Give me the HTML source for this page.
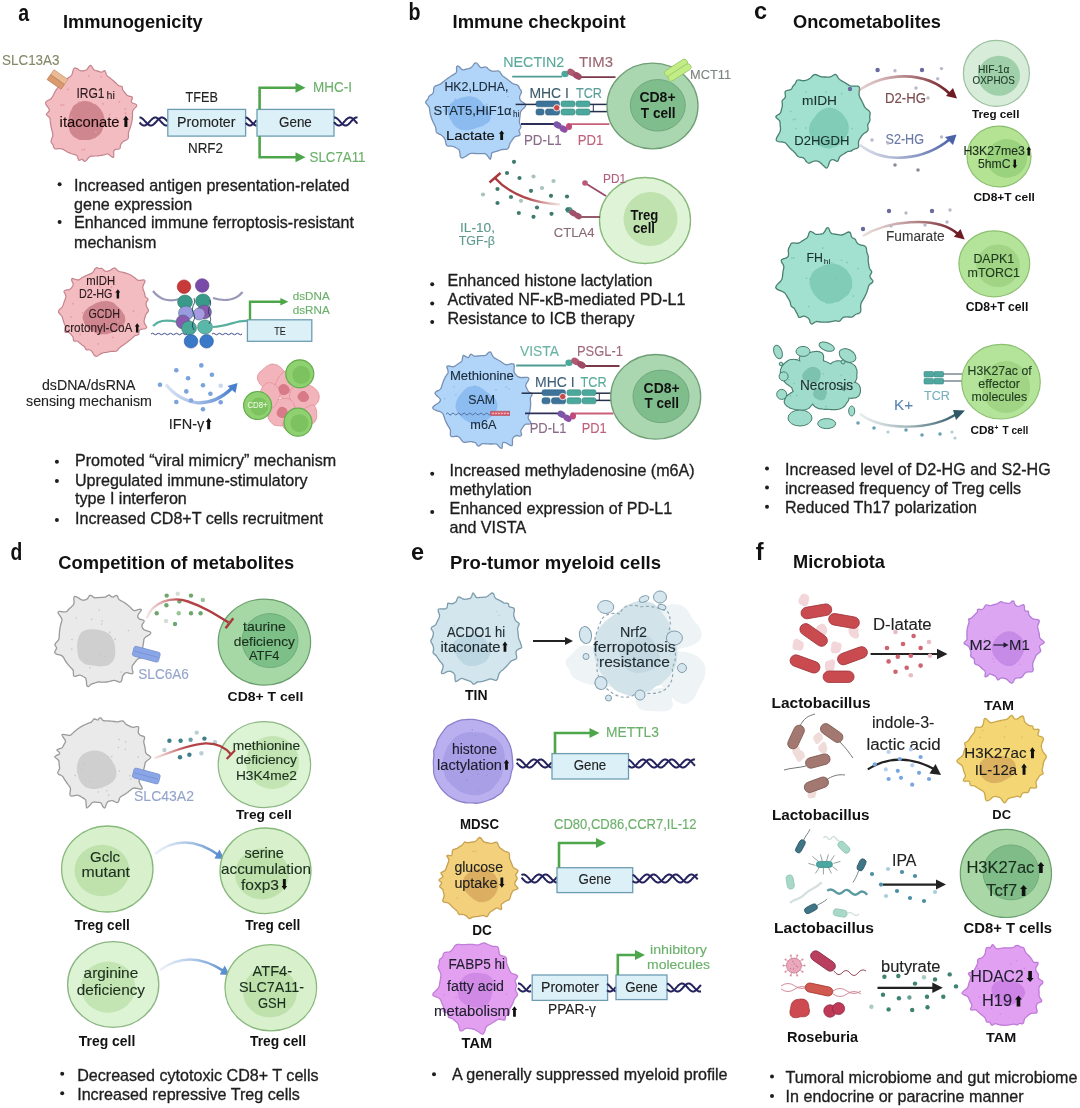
<!DOCTYPE html>
<html><head><meta charset="utf-8"><style>
html,body{margin:0;padding:0;background:#fff;width:1080px;height:1108px;overflow:hidden}
svg{display:block;font-family:"Liberation Sans",sans-serif;will-change:transform}
text{stroke:currentColor}
</style></head><body>
<svg width="1080" height="1108" viewBox="0 0 1080 1108">
<rect width="1080" height="1108" fill="#fff"/>
<text x="18.2" y="21.1" font-size="23.5" fill="#111" color="#111" stroke-width="0.00" font-weight="bold" text-anchor="start" textLength="10.9" lengthAdjust="spacingAndGlyphs">a</text>
<text x="62.9" y="28.4" font-size="17.7" fill="#111" color="#111" stroke-width="0.00" font-weight="bold" text-anchor="start" textLength="139.8" lengthAdjust="spacingAndGlyphs">Immunogenicity</text>
<text x="2.0" y="65.1" font-size="14.0" fill="#858868" color="#858868" stroke-width="0.12" text-anchor="start" textLength="57.5" lengthAdjust="spacingAndGlyphs">SLC13A3</text>
<path d="M132.5,114.5C132.5,115.1 132.5,115.7 132.5,116.4C132.5,117.0 132.4,117.6 132.3,118.2C132.3,118.8 132.2,119.5 132.1,120.1C132.0,120.7 131.9,121.3 131.8,121.9C131.7,122.5 131.5,123.1 131.4,123.7C131.2,124.3 131.1,124.9 130.9,125.5C130.7,126.1 130.6,126.7 130.4,127.3C130.2,127.9 130.0,128.4 129.7,129.0C129.5,129.6 129.3,130.1 129.1,130.7C128.9,131.3 128.7,131.8 128.6,132.5C128.4,133.1 128.4,133.7 128.4,134.4C128.3,135.1 128.5,135.8 128.5,136.5C128.4,137.2 128.4,137.9 128.1,138.5C127.8,139.0 127.2,139.4 126.7,139.8C126.1,140.1 125.4,140.3 124.8,140.6C124.2,140.9 123.7,141.2 123.2,141.6C122.7,142.0 122.4,142.4 122.0,142.8C121.6,143.2 121.2,143.6 120.9,144.2C120.7,144.7 120.5,145.3 120.3,146.0C120.2,146.7 120.4,147.7 120.1,148.3C119.8,148.8 119.2,149.1 118.6,149.2C118.0,149.4 117.1,149.1 116.4,149.2C115.8,149.3 115.3,149.5 114.8,149.8C114.4,150.1 113.9,150.4 113.7,151.1C113.6,151.9 113.8,153.3 113.8,154.4C113.7,155.4 114.0,157.3 113.5,157.5C113.0,157.8 111.6,156.5 110.7,155.9C109.8,155.3 108.8,154.4 108.0,154.1C107.3,153.8 106.9,154.1 106.4,154.1C105.8,154.2 105.4,154.4 104.9,154.6C104.4,154.7 103.9,154.8 103.4,155.0C102.9,155.1 102.4,155.2 101.9,155.3C101.4,155.4 100.9,155.4 100.4,155.5C99.9,155.6 99.4,155.7 99.0,155.7C98.5,155.8 98.0,155.8 97.5,155.9C97.0,155.9 96.5,155.9 96.0,156.0C95.5,156.0 95.0,156.0 94.5,156.0C94.1,156.0 93.6,156.0 93.1,156.1C92.6,156.1 92.1,156.1 91.6,156.1C91.2,156.2 90.7,156.2 90.2,156.4C89.7,156.7 89.2,157.0 88.7,157.5C88.2,158.0 87.6,158.9 87.1,159.6C86.5,160.2 85.9,161.1 85.3,161.3C84.7,161.5 84.2,161.2 83.7,160.9C83.2,160.6 82.8,159.6 82.3,159.4C81.8,159.2 81.2,159.6 80.6,159.8C80.0,159.9 79.3,160.6 78.8,160.2C78.3,159.9 78.1,158.5 77.8,157.7C77.5,156.9 77.2,156.0 76.8,155.5C76.4,155.0 75.9,154.9 75.4,154.8C75.0,154.6 74.4,154.5 73.9,154.4C73.4,154.2 72.9,154.1 72.4,154.0C71.9,153.8 71.4,153.6 70.9,153.5C70.4,153.3 69.9,153.1 69.4,152.9C68.9,152.7 68.4,152.4 67.9,152.2C67.4,152.0 66.9,151.7 66.5,151.4C66.0,151.2 65.5,150.9 65.0,150.6C64.6,150.3 64.1,150.0 63.6,149.7C63.1,149.4 62.7,149.1 62.1,148.9C61.5,148.7 60.8,148.6 60.0,148.6C59.2,148.6 58.2,148.8 57.3,148.8C56.5,148.9 55.4,148.9 54.8,148.7C54.2,148.4 53.9,147.7 53.6,147.1C53.3,146.5 53.4,145.6 53.1,145.0C52.8,144.4 52.2,144.0 51.9,143.4C51.5,142.9 51.1,142.4 51.0,141.6C51.0,140.9 51.5,139.8 51.7,138.8C52.0,137.9 52.5,136.9 52.7,136.1C52.8,135.3 52.8,134.6 52.8,134.0C52.7,133.3 52.5,132.8 52.4,132.2C52.2,131.6 52.1,131.0 51.9,130.5C51.8,129.9 51.6,129.3 51.5,128.7C51.4,128.1 51.2,127.5 51.1,126.9C51.0,126.4 50.9,125.8 50.8,125.2C50.7,124.6 50.6,124.0 50.5,123.4C50.4,122.8 50.4,122.2 50.3,121.6C50.2,121.0 50.2,120.4 50.1,119.8C50.0,119.2 50.1,118.7 49.8,118.1C49.4,117.5 48.7,116.9 48.2,116.3C47.6,115.7 46.3,115.1 46.3,114.5C46.2,113.8 47.3,113.2 47.8,112.6C48.3,112.0 49.1,111.4 49.3,110.8C49.5,110.2 49.3,109.6 49.0,109.0C48.7,108.3 48.1,107.6 47.6,106.8C47.1,106.1 46.3,105.3 46.0,104.5C45.7,103.8 45.5,103.0 45.7,102.4C45.9,101.8 46.7,101.3 47.3,100.8C48.0,100.3 49.0,100.0 49.7,99.6C50.4,99.2 51.0,98.8 51.4,98.3C51.9,97.8 52.2,97.3 52.5,96.8C52.8,96.3 53.0,95.8 53.3,95.2C53.6,94.7 53.8,94.2 54.1,93.6C54.3,93.1 54.6,92.6 54.9,92.1C55.1,91.6 55.4,91.1 55.7,90.6C56.1,90.1 56.4,89.6 56.7,89.1C57.0,88.7 57.3,88.2 57.7,87.8C58.0,87.3 58.4,86.9 58.7,86.4C59.1,86.0 59.5,85.6 59.7,85.0C59.8,84.3 59.9,83.6 59.7,82.6C59.6,81.6 58.7,79.8 58.8,79.0C58.9,78.2 59.4,77.7 60.2,77.8C61.0,77.8 62.6,78.9 63.6,79.2C64.5,79.5 65.2,79.5 65.8,79.4C66.4,79.3 66.7,78.9 67.2,78.6C67.6,78.4 68.1,78.0 68.5,77.7C68.9,77.4 69.4,77.2 69.8,76.8C70.2,76.5 70.7,76.2 71.1,75.8C71.4,75.4 71.8,74.9 72.1,74.2C72.4,73.6 72.5,72.6 72.8,71.8C73.0,70.9 73.2,69.7 73.6,69.0C73.9,68.4 74.4,67.8 75.0,67.8C75.5,67.7 76.3,68.2 77.0,68.6C77.7,69.0 78.5,69.7 79.1,70.1C79.8,70.5 80.4,70.8 80.9,70.9C81.5,71.0 82.0,70.9 82.5,70.9C83.1,70.8 83.6,70.7 84.1,70.6C84.6,70.5 85.1,70.4 85.6,70.2C86.1,70.0 86.6,69.9 87.1,69.4C87.6,68.8 88.0,67.8 88.6,67.1C89.1,66.5 89.6,65.4 90.2,65.3C90.8,65.2 91.3,66.1 91.9,66.7C92.4,67.4 92.9,68.5 93.4,69.1C93.8,69.7 94.3,70.0 94.8,70.2C95.3,70.5 95.8,70.5 96.3,70.7C96.8,70.8 97.3,71.0 97.8,71.1C98.3,71.3 98.8,71.5 99.3,71.6C99.8,71.8 100.2,72.1 100.8,72.1C101.3,72.2 101.8,72.1 102.4,71.9C103.1,71.6 103.9,70.6 104.5,70.7C105.0,70.8 105.4,71.5 105.7,72.2C106.0,72.9 106.1,74.1 106.4,74.8C106.7,75.4 107.1,75.7 107.5,76.1C107.9,76.5 108.3,76.7 108.7,77.0C109.2,77.3 109.6,77.7 110.0,78.0C110.4,78.3 110.8,78.6 111.2,78.9C111.6,79.3 112.0,79.6 112.4,79.9C112.8,80.3 113.2,80.6 113.6,81.0C113.9,81.3 114.3,81.7 114.7,82.0C115.1,82.4 115.5,82.7 115.9,83.1C116.3,83.4 116.6,83.8 117.0,84.1C117.4,84.5 117.7,84.9 118.2,85.2C118.6,85.5 119.1,85.8 119.7,86.0C120.3,86.1 121.4,85.9 121.8,86.3C122.3,86.6 122.2,87.4 122.4,88.0C122.5,88.6 122.5,89.4 122.7,89.9C123.0,90.4 123.4,90.8 123.7,91.2C124.1,91.7 124.4,92.1 124.8,92.6C125.1,93.0 125.4,93.5 125.8,94.0C126.2,94.4 126.4,94.9 127.0,95.3C127.6,95.7 128.3,95.9 129.2,96.2C130.0,96.5 131.5,96.5 132.0,97.0C132.5,97.5 132.3,98.3 132.2,99.0C132.0,99.8 131.1,100.8 131.2,101.4C131.2,102.1 131.8,102.5 132.6,103.0C133.4,103.4 135.2,103.7 135.9,104.2C136.6,104.7 137.0,105.4 136.7,106.1C136.4,106.9 135.0,107.8 134.4,108.6C133.7,109.3 133.1,110.0 132.8,110.7C132.5,111.4 132.6,112.0 132.5,112.6C132.5,113.2 132.5,113.8 132.5,114.5Z" fill="#f3bcc0" stroke="#c4848e" stroke-width="1.2" stroke-linejoin="round" opacity="1"/>
<path d="M104.4,121.0C104.4,121.9 104.5,122.8 104.4,123.7C104.3,124.6 103.9,125.4 103.6,126.2C103.3,127.1 103.1,127.9 102.8,128.7C102.5,129.6 102.2,130.4 101.9,131.2C101.5,132.0 101.1,132.7 100.6,133.4C100.0,134.1 99.4,134.6 98.8,135.2C98.1,135.7 97.5,136.2 96.8,136.7C96.2,137.2 95.6,137.8 94.9,138.2C94.2,138.5 93.3,138.4 92.6,138.7C91.9,139.0 91.2,139.5 90.5,139.7C89.8,139.9 89.0,139.9 88.2,139.9C87.5,140.0 86.8,140.0 86.0,140.1C85.2,140.1 84.5,140.1 83.7,140.1C83.0,140.0 82.2,140.0 81.4,139.9C80.7,139.9 79.8,139.9 79.0,139.7C78.3,139.4 77.6,138.9 76.9,138.5C76.2,138.1 75.4,137.9 74.7,137.4C74.0,137.0 73.3,136.4 72.7,135.8C72.1,135.2 71.6,134.4 71.1,133.7C70.6,132.9 70.1,132.2 69.8,131.4C69.5,130.6 69.3,129.6 69.1,128.8C68.9,127.9 68.7,127.0 68.6,126.2C68.5,125.3 68.4,124.4 68.4,123.6C68.3,122.7 68.2,121.9 68.3,121.0C68.3,120.1 68.5,119.3 68.7,118.5C68.8,117.6 69.0,116.8 69.2,116.0C69.4,115.2 69.5,114.3 69.8,113.5C70.0,112.7 70.3,111.9 70.7,111.2C71.0,110.4 71.4,109.7 71.8,108.9C72.2,108.2 72.6,107.3 73.1,106.6C73.6,105.9 74.2,105.3 74.8,104.8C75.4,104.2 76.2,103.9 76.9,103.4C77.6,103.0 78.2,102.4 79.0,102.1C79.7,101.8 80.5,101.6 81.3,101.4C82.1,101.2 82.8,101.0 83.6,100.9C84.4,100.9 85.2,100.9 86.0,101.0C86.8,101.2 87.5,101.5 88.3,101.6C89.1,101.8 89.9,101.7 90.6,101.9C91.3,102.2 92.0,102.8 92.6,103.2C93.3,103.5 94.1,103.8 94.8,104.1C95.5,104.5 96.2,104.8 96.8,105.3C97.5,105.8 97.9,106.5 98.5,107.1C99.1,107.7 99.8,108.2 100.3,108.8C100.8,109.5 101.1,110.3 101.5,111.0C102.0,111.8 102.6,112.4 102.9,113.2C103.3,114.0 103.6,114.8 103.8,115.7C104.1,116.5 104.2,117.4 104.3,118.3C104.4,119.2 104.4,120.1 104.4,121.0Z" fill="#d0868e" stroke="none" stroke-width="0.0" opacity="1"/>
<circle cx="68.0" cy="89.5" r="0.9" fill="#e89aa0"/>
<circle cx="101.0" cy="76.8" r="0.9" fill="#e89aa0"/>
<circle cx="88.7" cy="75.8" r="0.9" fill="#e89aa0"/>
<circle cx="116.6" cy="117.9" r="0.9" fill="#e89aa0"/>
<circle cx="119.3" cy="101.9" r="0.9" fill="#e89aa0"/>
<circle cx="103.2" cy="103.8" r="0.9" fill="#e89aa0"/>
<circle cx="71.5" cy="117.1" r="0.9" fill="#e89aa0"/>
<circle cx="63.5" cy="104.9" r="0.9" fill="#e89aa0"/>
<circle cx="109.8" cy="114.6" r="0.9" fill="#e89aa0"/>
<circle cx="84.5" cy="149.5" r="0.9" fill="#e89aa0"/>
<circle cx="92.6" cy="95.4" r="0.9" fill="#e89aa0"/>
<circle cx="95.6" cy="96.9" r="0.9" fill="#e89aa0"/>
<circle cx="79.5" cy="102.0" r="0.9" fill="#e89aa0"/>
<circle cx="125.6" cy="113.4" r="0.9" fill="#e89aa0"/>
<circle cx="95.8" cy="132.2" r="0.9" fill="#e89aa0"/>
<circle cx="125.4" cy="108.9" r="0.9" fill="#e89aa0"/>
<circle cx="82.2" cy="149.9" r="0.9" fill="#e89aa0"/>
<circle cx="61.1" cy="105.2" r="0.9" fill="#e89aa0"/>
<g transform="rotate(35 57.5 79.5)"><rect x="49" y="73.5" width="17" height="6" fill="#eabc96" stroke="#c99470" stroke-width="0.7"/><rect x="49" y="79.5" width="17" height="6" fill="#d99a70" stroke="#c07e56" stroke-width="0.7"/></g>
<text x="76.4" y="97.6" font-size="14.0" fill="#2a1a1e" color="#2a1a1e" stroke-width="0.12" text-anchor="start" textLength="28.2" lengthAdjust="spacingAndGlyphs">IRG1</text>
<text x="106.5" y="99.3" font-size="10.0" fill="#2a1a1e" color="#2a1a1e" stroke-width="0.12" text-anchor="start" textLength="8.3" lengthAdjust="spacingAndGlyphs">hi</text>
<text x="59.6" y="127.0" font-size="15.2" fill="#1a0a0a" color="#1a0a0a" stroke-width="0.12" text-anchor="start" textLength="60.0" lengthAdjust="spacingAndGlyphs">itaconate</text>
<path d="M125.90,115.80 L128.80,119.83 L127.41,119.83 L127.41,127.00 L124.39,127.00 L124.39,119.83 L123.00,119.83 Z" fill="#111"/>
<polyline points="139.5,117.5 140.0,117.5 140.5,117.6 141.0,117.7 141.5,118.0 142.0,118.3 142.5,118.7 143.0,119.1 143.5,119.5 144.0,120.1 144.5,120.6 145.0,121.2 145.5,121.7 146.0,122.3 146.5,122.8 147.0,123.4 147.5,123.8 148.0,124.3 148.5,124.6 149.0,125.0 149.5,125.2 150.0,125.4 150.5,125.5 151.0,125.5 151.5,125.4 152.0,125.3 152.5,125.1 153.0,124.8 153.5,124.4 154.0,124.0 154.5,123.5 155.0,123.0 155.5,122.5 156.0,122.0 156.5,121.4 157.0,120.8 157.5,120.3 158.0,119.7 158.5,119.3 159.0,118.8 159.5,118.4 160.0,118.1 160.5,117.8 161.0,117.6 161.5,117.5 162.0,117.5 162.5,117.5 163.0,117.7 163.5,117.9 164.0,118.2 164.5,118.5 165.0,118.9 165.5,119.4 166.0,119.9 166.5,120.4 167.0,120.9 167.5,121.5" fill="none" stroke="#25235e" stroke-width="2.0" stroke-linejoin="round"/>
<polyline points="139.5,122.5 140.0,123.0 140.5,123.5 141.0,124.0 141.5,124.4 142.0,124.8 142.5,125.1 143.0,125.3 143.5,125.4 144.0,125.5 144.5,125.5 145.0,125.4 145.5,125.2 146.0,125.0 146.5,124.7 147.0,124.3 147.5,123.9 148.0,123.4 148.5,122.9 149.0,122.3 149.5,121.8 150.0,121.2 150.5,120.6 151.0,120.1 151.5,119.6 152.0,119.1 152.5,118.7 153.0,118.3 153.5,118.0 154.0,117.8 154.5,117.6 155.0,117.5 155.5,117.5 156.0,117.6 156.5,117.7 157.0,118.0 157.5,118.3 158.0,118.6 158.5,119.0 159.0,119.5 159.5,120.0 160.0,120.6 160.5,121.1 161.0,121.7 161.5,122.2 162.0,122.8 162.5,123.3 163.0,123.8 163.5,124.2 164.0,124.6 164.5,124.9 165.0,125.2 165.5,125.4 166.0,125.5 166.5,125.5 167.0,125.4 167.5,125.3" fill="none" stroke="#25235e" stroke-width="2.0" stroke-linejoin="round"/>
<rect x="167.8" y="109.4" width="77.8" height="26.7" rx="0.0" fill="#dcf0f8" stroke="#6e9db2" stroke-width="1.3" opacity="1"/>
<text x="177.0" y="127.2" font-size="14.5" fill="#222" color="#222" stroke-width="0.12" text-anchor="start" textLength="58.5" lengthAdjust="spacingAndGlyphs">Promoter</text>
<polyline points="245.6,117.5 246.1,117.6 246.6,117.7 247.1,117.9 247.6,118.2 248.1,118.6 248.6,119.0 249.1,119.5 249.6,120.0 250.1,120.5 250.6,121.0 251.1,121.6 251.6,122.2 252.1,122.7 252.6,123.3 253.1,123.7 253.6,124.2 254.1,124.6 254.6,124.9 255.1,125.2 255.6,125.4 256.1,125.5 256.6,125.5" fill="none" stroke="#25235e" stroke-width="2.0" stroke-linejoin="round"/>
<polyline points="245.6,122.9 246.1,123.4 246.6,123.9 247.1,124.3 247.6,124.7 248.1,125.0 248.6,125.2 249.1,125.4 249.6,125.5 250.1,125.5 250.6,125.4 251.1,125.3 251.6,125.0 252.1,124.7 252.6,124.4 253.1,124.0 253.6,123.5 254.1,123.0 254.6,122.4 255.1,121.9 255.6,121.3 256.1,120.8 256.6,120.2" fill="none" stroke="#25235e" stroke-width="2.0" stroke-linejoin="round"/>
<rect x="257.0" y="109.4" width="77.0" height="26.7" rx="0.0" fill="#dcf0f8" stroke="#6e9db2" stroke-width="1.3" opacity="1"/>
<text x="279.0" y="127.2" font-size="14.5" fill="#222" color="#222" stroke-width="0.12" text-anchor="start" textLength="32.8" lengthAdjust="spacingAndGlyphs">Gene</text>
<polyline points="334.0,117.5 334.5,117.5 335.0,117.5 335.5,117.7 336.0,117.9 336.5,118.2 337.0,118.5 337.5,118.9 338.0,119.4 338.5,119.9 339.0,120.4 339.5,120.9 340.0,121.5 340.5,122.1 341.0,122.6 341.5,123.1 342.0,123.6 342.5,124.1 343.0,124.5 343.5,124.8 344.0,125.1 344.5,125.3 345.0,125.5 345.5,125.5 346.0,125.5 346.5,125.4 347.0,125.2 347.5,124.9 348.0,124.6 348.5,124.2 349.0,123.7 349.5,123.3 350.0,122.7 350.5,122.2 351.0,121.6 351.5,121.0 352.0,120.5 352.5,120.0 353.0,119.5 353.5,119.0 354.0,118.6 354.5,118.2 355.0,117.9 355.5,117.7 356.0,117.6 356.5,117.5 357.0,117.5 357.5,117.6" fill="none" stroke="#25235e" stroke-width="2.0" stroke-linejoin="round"/>
<polyline points="334.0,122.2 334.5,122.8 335.0,123.3 335.5,123.8 336.0,124.2 336.5,124.6 337.0,124.9 337.5,125.2 338.0,125.4 338.5,125.5 339.0,125.5 339.5,125.4 340.0,125.3 340.5,125.1 341.0,124.8 341.5,124.5 342.0,124.0 342.5,123.6 343.0,123.1 343.5,122.6 344.0,122.0 344.5,121.4 345.0,120.9 345.5,120.3 346.0,119.8 346.5,119.3 347.0,118.8 347.5,118.5 348.0,118.1 348.5,117.9 349.0,117.7 349.5,117.5 350.0,117.5 350.5,117.5 351.0,117.7 351.5,117.9 352.0,118.1 352.5,118.5 353.0,118.9 353.5,119.3 354.0,119.8 354.5,120.3 355.0,120.9 355.5,121.5 356.0,122.0 356.5,122.6 357.0,123.1 357.5,123.6" fill="none" stroke="#25235e" stroke-width="2.0" stroke-linejoin="round"/>
<text x="185.6" y="102.0" font-size="15.0" fill="#222" color="#222" stroke-width="0.12" text-anchor="start" textLength="32.2" lengthAdjust="spacingAndGlyphs">TFEB</text>
<text x="188.0" y="153.1" font-size="15.0" fill="#222" color="#222" stroke-width="0.12" text-anchor="start" textLength="35.0" lengthAdjust="spacingAndGlyphs">NRF2</text>
<path d="M259.6,109.4 L259.6,87.7 L296.5,87.7" stroke="#4ea64a" stroke-width="2.6" fill="none" stroke-linejoin="miter"/>
<path d="M305.5,87.7 L295.5,82.7 L295.5,92.7 Z" fill="#4ea64a"/>
<path d="M259.6,136.1 L259.6,157.2 L296.5,157.2" stroke="#4ea64a" stroke-width="2.6" fill="none" stroke-linejoin="miter"/>
<path d="M305.5,157.2 L295.5,152.2 L295.5,162.2 Z" fill="#4ea64a"/>
<text x="313.0" y="92.4" font-size="14.0" fill="#6ab06a" color="#6ab06a" stroke-width="0.12" text-anchor="start" textLength="39.0" lengthAdjust="spacingAndGlyphs">MHC-I</text>
<text x="309.5" y="162.0" font-size="15.0" fill="#6ab06a" color="#6ab06a" stroke-width="0.12" text-anchor="start" textLength="56.0" lengthAdjust="spacingAndGlyphs">SLC7A11</text>
<circle cx="59.6" cy="184.2" r="2.0" fill="#1e1e1e" stroke="none" stroke-width="1.2" opacity="1"/>
<text x="74.0" y="190.7" font-size="16.1" fill="#1e1e1e" color="#1e1e1e" stroke-width="0.32" text-anchor="start">Increased antigen presentation-related</text>
<text x="74.0" y="209.5" font-size="16.1" fill="#1e1e1e" color="#1e1e1e" stroke-width="0.32" text-anchor="start">gene expression</text>
<circle cx="59.6" cy="221.9" r="2.0" fill="#1e1e1e" stroke="none" stroke-width="1.2" opacity="1"/>
<text x="74.0" y="228.4" font-size="16.1" fill="#1e1e1e" color="#1e1e1e" stroke-width="0.32" text-anchor="start">Enhanced immune ferroptosis-resistant</text>
<text x="74.0" y="247.6" font-size="16.1" fill="#1e1e1e" color="#1e1e1e" stroke-width="0.32" text-anchor="start">mechanism</text>
<path d="M148.5,310.4C148.5,311.0 148.1,311.5 147.8,312.1C147.4,312.6 146.8,313.1 146.4,313.7C146.1,314.2 145.8,314.7 145.6,315.2C145.4,315.7 145.3,316.2 145.1,316.7C145.0,317.2 144.9,317.8 144.7,318.3C144.6,318.8 144.4,319.3 144.3,319.8C144.2,320.3 144.1,320.8 144.1,321.4C144.1,321.9 144.2,322.5 144.5,323.2C144.8,323.9 145.6,324.7 145.9,325.4C146.3,326.2 146.9,327.0 146.7,327.6C146.5,328.1 145.7,328.5 144.9,328.7C144.1,329.0 142.8,329.0 142.0,329.2C141.2,329.4 140.5,329.6 140.0,329.9C139.5,330.3 139.2,330.7 139.1,331.2C138.9,331.7 139.1,332.4 139.0,333.0C138.9,333.6 138.9,334.2 138.5,334.6C138.1,335.0 137.2,335.0 136.6,335.2C136.0,335.4 135.4,335.6 134.9,335.8C134.4,336.1 134.0,336.4 133.6,336.8C133.2,337.1 132.9,337.5 132.5,337.8C132.1,338.2 131.7,338.5 131.4,338.8C131.0,339.2 130.6,339.5 130.2,339.8C129.8,340.2 129.4,340.5 129.0,340.8C128.6,341.1 128.2,341.4 127.8,341.8C127.4,342.1 127.0,342.4 126.6,342.7C126.2,343.0 125.8,343.3 125.4,343.6C125.0,343.9 124.5,344.2 124.1,344.5C123.7,344.8 123.3,345.1 122.8,345.4C122.4,345.7 122.0,345.9 121.5,346.2C121.1,346.5 120.7,346.8 120.2,347.2C119.8,347.5 119.4,347.9 119.0,348.3C118.6,348.8 118.2,349.4 117.8,349.8C117.4,350.3 117.0,350.8 116.5,351.1C116.0,351.4 115.4,351.5 114.8,351.5C114.3,351.5 113.7,351.3 113.1,351.3C112.5,351.3 112.0,351.3 111.4,351.3C110.9,351.4 110.3,351.5 109.8,351.6C109.3,351.7 108.7,351.9 108.2,352.0C107.6,352.1 107.1,352.2 106.5,352.3C106.0,352.3 105.4,352.4 104.9,352.5C104.3,352.6 103.8,352.6 103.2,352.8C102.6,352.9 102.1,353.1 101.5,353.4C100.9,353.7 100.3,354.2 99.6,354.6C99.0,355.0 98.3,355.7 97.6,356.0C97.0,356.3 96.3,356.5 95.7,356.3C95.1,356.1 94.6,355.5 94.1,355.0C93.6,354.4 93.2,353.5 92.8,352.8C92.4,352.2 92.0,351.6 91.6,351.1C91.1,350.6 90.7,350.2 90.2,350.0C89.6,349.8 89.1,349.8 88.5,349.7C87.9,349.7 87.1,350.1 86.6,349.9C86.0,349.6 85.7,349.0 85.4,348.5C85.0,347.9 84.8,347.2 84.4,346.7C84.0,346.3 83.6,346.0 83.1,345.6C82.7,345.3 82.2,345.0 81.8,344.7C81.4,344.3 81.0,344.0 80.5,343.7C80.1,343.3 79.7,343.0 79.3,342.7C78.9,342.3 78.5,341.9 78.0,341.6C77.5,341.3 77.1,341.1 76.4,341.0C75.7,340.9 74.5,341.3 74.0,341.1C73.5,340.8 73.4,340.0 73.3,339.4C73.1,338.8 73.4,337.8 73.2,337.3C73.0,336.7 72.6,336.4 72.2,335.9C71.9,335.5 71.5,335.1 71.2,334.7C70.8,334.3 70.5,333.8 70.1,333.5C69.7,333.1 69.3,332.7 68.5,332.5C67.7,332.3 65.9,332.7 65.3,332.4C64.7,332.1 64.8,331.3 64.9,330.6C65.1,329.9 66.0,328.8 66.1,328.2C66.2,327.5 65.8,327.1 65.6,326.6C65.4,326.0 65.1,325.6 64.9,325.1C64.7,324.5 64.4,324.0 64.2,323.5C64.0,323.0 63.9,322.5 63.7,321.9C63.5,321.4 63.4,320.9 63.2,320.3C63.1,319.8 63.0,319.3 62.8,318.7C62.6,318.2 62.5,317.6 62.3,317.1C62.0,316.6 61.7,316.1 61.3,315.5C60.9,315.0 60.2,314.5 59.8,313.9C59.3,313.4 58.7,312.8 58.5,312.2C58.3,311.6 58.5,311.0 58.8,310.4C59.1,309.8 59.8,309.2 60.4,308.7C60.9,308.1 61.6,307.6 62.0,307.1C62.4,306.5 62.7,306.0 63.0,305.5C63.2,305.0 63.4,304.4 63.5,303.9C63.7,303.4 63.9,302.9 64.0,302.3C64.2,301.8 64.4,301.3 64.6,300.8C64.7,300.3 64.9,299.8 65.1,299.3C65.3,298.8 65.6,298.3 65.7,297.8C65.8,297.3 66.0,296.8 65.9,296.1C65.8,295.5 65.5,294.8 65.2,294.1C64.8,293.3 64.0,292.4 64.0,291.7C64.0,291.1 64.4,290.6 65.1,290.3C65.7,290.0 67.1,290.0 67.9,289.9C68.7,289.7 69.5,289.5 70.0,289.2C70.6,288.9 70.9,288.5 71.2,288.1C71.6,287.7 71.9,287.3 72.2,286.8C72.5,286.4 72.9,286.1 73.1,285.5C73.2,284.9 73.2,284.3 73.0,283.4C72.7,282.4 71.6,280.7 71.6,279.9C71.5,279.0 71.8,278.4 72.6,278.3C73.3,278.3 75.2,279.4 76.2,279.6C77.2,279.9 78.0,279.9 78.6,279.9C79.2,279.8 79.5,279.4 80.0,279.1C80.4,278.8 80.9,278.5 81.3,278.2C81.7,277.9 82.2,277.6 82.6,277.3C83.1,277.1 83.5,276.8 84.0,276.6C84.4,276.3 84.9,276.1 85.4,275.9C85.9,275.6 86.3,275.4 86.8,275.2C87.3,275.0 87.8,274.8 88.3,274.6C88.7,274.4 89.2,274.3 89.7,274.1C90.2,273.9 90.7,273.8 91.2,273.5C91.6,273.3 92.1,273.1 92.5,272.7C93.0,272.3 93.3,271.8 93.7,271.2C94.1,270.5 94.4,269.6 94.9,269.0C95.3,268.5 95.8,267.9 96.3,267.7C96.9,267.5 97.5,268.0 98.1,268.1C98.7,268.2 99.3,268.5 99.9,268.5C100.5,268.6 101.0,268.0 101.5,268.2C102.1,268.4 102.7,269.1 103.3,269.6C103.8,270.1 104.4,270.8 104.9,271.1C105.4,271.4 105.9,271.3 106.4,271.3C107.0,271.3 107.5,271.3 108.0,271.2C108.5,271.1 109.1,270.9 109.6,270.6C110.2,270.4 110.8,269.9 111.4,269.5C112.0,269.1 112.7,268.4 113.3,268.2C114.0,267.9 114.6,267.9 115.1,268.1C115.7,268.2 116.1,268.9 116.6,269.3C117.0,269.7 117.4,270.3 117.9,270.7C118.4,271.0 118.9,271.3 119.4,271.5C119.9,271.6 120.4,271.7 121.0,271.9C121.5,272.0 122.1,272.1 122.6,272.2C123.2,272.3 123.7,272.5 124.3,272.6C124.8,272.8 125.4,272.9 125.9,273.1C126.5,273.3 127.0,273.5 127.6,273.7C128.1,273.9 128.6,274.1 129.2,274.3C129.7,274.6 130.2,274.8 130.7,275.1C131.2,275.4 131.7,275.7 132.2,276.0C132.7,276.3 133.2,276.6 133.7,276.9C134.2,277.3 134.6,277.6 135.1,278.0C135.5,278.4 135.9,278.8 136.4,279.1C136.9,279.5 137.2,280.0 137.9,280.2C138.5,280.4 139.3,280.4 140.3,280.4C141.3,280.3 143.1,279.8 143.8,279.9C144.6,280.1 145.1,280.6 145.0,281.5C145.0,282.3 143.9,283.8 143.5,284.8C143.1,285.8 142.8,286.6 142.8,287.4C142.7,288.1 143.0,288.6 143.1,289.1C143.3,289.7 143.5,290.2 143.7,290.8C143.9,291.3 144.1,291.8 144.3,292.4C144.4,292.9 144.6,293.5 144.7,294.0C144.9,294.6 144.9,295.1 145.1,295.7C145.3,296.2 145.3,296.8 145.7,297.3C146.1,297.7 147.2,298.0 147.6,298.5C148.0,298.9 148.1,299.5 147.9,300.2C147.7,300.8 146.6,301.6 146.3,302.2C146.0,302.9 146.1,303.4 146.1,303.9C146.1,304.5 146.2,305.0 146.3,305.5C146.4,306.1 146.5,306.6 146.8,307.1C147.0,307.7 147.5,308.2 147.8,308.7C148.1,309.3 148.5,309.9 148.5,310.4Z" fill="#f3bcc0" stroke="#c4848e" stroke-width="1.2" stroke-linejoin="round" opacity="1"/>
<path d="M125.0,318.0C125.1,318.8 125.5,319.6 125.4,320.4C125.3,321.2 124.9,321.9 124.6,322.7C124.3,323.4 124.0,324.2 123.6,324.9C123.2,325.6 122.6,326.2 122.0,326.8C121.4,327.4 120.8,328.0 120.2,328.6C119.5,329.1 118.8,329.5 118.1,330.0C117.4,330.4 116.8,331.0 116.0,331.3C115.3,331.7 114.4,331.8 113.6,332.1C112.8,332.4 112.0,332.6 111.2,332.8C110.4,333.1 109.7,333.3 108.9,333.5C108.1,333.8 107.3,334.2 106.5,334.3C105.7,334.4 104.8,334.2 104.0,334.2C103.2,334.2 102.3,334.5 101.5,334.4C100.6,334.4 99.8,334.2 99.0,334.0C98.1,333.8 97.3,333.7 96.5,333.4C95.7,333.2 95.0,332.7 94.3,332.3C93.5,332.0 92.7,331.7 92.0,331.3C91.3,330.8 90.7,330.3 90.1,329.8C89.5,329.3 88.8,328.8 88.2,328.3C87.6,327.7 87.0,327.2 86.5,326.6C85.9,326.0 85.5,325.3 85.1,324.7C84.7,324.0 84.4,323.3 84.1,322.5C83.8,321.8 83.6,321.1 83.3,320.3C83.0,319.6 82.6,318.8 82.5,318.0C82.4,317.2 82.7,316.4 82.9,315.6C83.1,314.9 83.4,314.1 83.7,313.4C84.0,312.6 84.2,311.8 84.6,311.2C85.1,310.5 85.8,309.9 86.4,309.4C87.0,308.8 87.6,308.2 88.2,307.7C88.8,307.2 89.5,306.7 90.2,306.2C90.9,305.8 91.7,305.5 92.4,305.2C93.1,304.8 93.8,304.4 94.5,304.0C95.2,303.6 95.8,303.1 96.6,302.8C97.4,302.5 98.2,302.5 99.0,302.2C99.8,302.0 100.6,301.5 101.4,301.3C102.2,301.1 103.1,301.2 104.0,301.2C104.9,301.1 105.8,300.9 106.6,301.0C107.5,301.0 108.4,301.2 109.2,301.4C110.1,301.6 110.9,301.8 111.7,302.1C112.5,302.5 113.3,302.9 114.0,303.3C114.6,303.8 115.3,304.3 115.9,304.9C116.4,305.4 117.0,306.0 117.5,306.5C118.1,307.0 118.6,307.6 119.1,308.1C119.7,308.7 120.3,309.2 120.8,309.8C121.3,310.3 121.8,310.9 122.2,311.6C122.6,312.2 122.9,312.9 123.3,313.6C123.7,314.3 124.4,315.0 124.7,315.7C125.0,316.4 124.9,317.2 125.0,318.0Z" fill="#d0868e" stroke="none" stroke-width="0.0" opacity="1"/>
<circle cx="112.0" cy="278.6" r="0.9" fill="#e89aa0"/>
<circle cx="82.7" cy="312.9" r="0.9" fill="#e89aa0"/>
<circle cx="133.5" cy="311.1" r="0.9" fill="#e89aa0"/>
<circle cx="71.1" cy="317.1" r="0.9" fill="#e89aa0"/>
<circle cx="80.2" cy="334.4" r="0.9" fill="#e89aa0"/>
<circle cx="98.3" cy="343.9" r="0.9" fill="#e89aa0"/>
<circle cx="99.8" cy="286.5" r="0.9" fill="#e89aa0"/>
<circle cx="73.0" cy="303.7" r="0.9" fill="#e89aa0"/>
<circle cx="112.9" cy="337.3" r="0.9" fill="#e89aa0"/>
<circle cx="109.9" cy="291.7" r="0.9" fill="#e89aa0"/>
<circle cx="113.1" cy="281.8" r="0.9" fill="#e89aa0"/>
<circle cx="115.6" cy="292.2" r="0.9" fill="#e89aa0"/>
<circle cx="130.7" cy="329.3" r="0.9" fill="#e89aa0"/>
<circle cx="111.5" cy="287.0" r="0.9" fill="#e89aa0"/>
<circle cx="118.2" cy="321.1" r="0.9" fill="#e89aa0"/>
<circle cx="88.9" cy="295.1" r="0.9" fill="#e89aa0"/>
<text x="86.2" y="284.8" font-size="12.0" fill="#2a1a1e" color="#2a1a1e" stroke-width="0.12" text-anchor="start" textLength="29.0" lengthAdjust="spacingAndGlyphs">mIDH</text>
<text x="79.0" y="298.3" font-size="12.5" fill="#2a1a1e" color="#2a1a1e" stroke-width="0.12" text-anchor="start" textLength="33.5" lengthAdjust="spacingAndGlyphs">D2-HG</text>
<path d="M117.88,289.25 L120.25,292.58 L119.11,292.58 L119.11,298.50 L116.64,298.50 L116.64,292.58 L115.50,292.58 Z" fill="#111"/>
<text x="88.5" y="317.9" font-size="12.2" fill="#2a1a1e" color="#2a1a1e" stroke-width="0.12" text-anchor="start" textLength="31.5" lengthAdjust="spacingAndGlyphs">GCDH</text>
<text x="64.3" y="332.2" font-size="12.5" fill="#2a1a1e" color="#2a1a1e" stroke-width="0.12" text-anchor="start" textLength="68.0" lengthAdjust="spacingAndGlyphs">crotonyl-CoA</text>
<path d="M137.18,323.15 L139.55,326.48 L138.41,326.48 L138.41,332.40 L135.94,332.40 L135.94,326.48 L134.80,326.48 Z" fill="#111"/>
<path d="M153,291 C160,300 168,302 180,299" stroke="#9a98b8" stroke-width="2.2" fill="none" />
<path d="M213,298 C225,302 236,300 242.6,292" stroke="#9a98b8" stroke-width="2.2" fill="none" />
<path d="M153,326 C158,321 164,319 178,322" stroke="#5ab0a0" stroke-width="2.2" fill="none" />
<path d="M213,327 C228,326 238,320 247,321" stroke="#5ab0a0" stroke-width="2.2" fill="none" />
<ellipse cx="185.0" cy="302.0" rx="7.5" ry="7.0" fill="#3a9a8a" stroke="#2f6f66" stroke-width="0.5" opacity="1" transform="rotate(0.0 185.0 302.0)"/>
<ellipse cx="203.0" cy="301.0" rx="7.5" ry="7.0" fill="#3a9a8a" stroke="#2f6f66" stroke-width="0.5" opacity="1" transform="rotate(0.0 203.0 301.0)"/>
<ellipse cx="186.0" cy="313.0" rx="7.5" ry="7.0" fill="#9a9ae0" stroke="#2f6f66" stroke-width="0.5" opacity="1" transform="rotate(0.0 186.0 313.0)"/>
<ellipse cx="204.0" cy="312.0" rx="7.5" ry="7.0" fill="#8a5ab0" stroke="#2f6f66" stroke-width="0.5" opacity="1" transform="rotate(0.0 204.0 312.0)"/>
<ellipse cx="183.0" cy="322.0" rx="7.0" ry="7.0" fill="#8a5ab0" stroke="#2f6f66" stroke-width="0.5" opacity="1" transform="rotate(0.0 183.0 322.0)"/>
<ellipse cx="189.0" cy="328.0" rx="7.5" ry="7.0" fill="#4aa898" stroke="#2f6f66" stroke-width="0.5" opacity="1" transform="rotate(0.0 189.0 328.0)"/>
<ellipse cx="205.0" cy="327.0" rx="7.5" ry="7.0" fill="#5ab8a8" stroke="#2f6f66" stroke-width="0.5" opacity="1" transform="rotate(0.0 205.0 327.0)"/>
<ellipse cx="199.0" cy="314.0" rx="6.0" ry="6.0" fill="#a89ae0" stroke="#2f6f66" stroke-width="0.5" opacity="1" transform="rotate(0.0 199.0 314.0)"/>
<path d="M194,298 q2,4 -1,8 q-2,4 1,8 q2,4 -1,8 q-2,4 1,8" stroke="#1a3a5a" stroke-width="0.8" fill="none" />
<path d="M210,300 q2,4 -1,8 q-2,4 1,8 q2,4 -1,8" stroke="#1a3a5a" stroke-width="0.8" fill="none" />
<circle cx="184.0" cy="286.7" r="6.8" fill="#c83a3a" stroke="#a02a2a" stroke-width="0.6" opacity="1"/>
<circle cx="202.2" cy="285.5" r="6.8" fill="#7a4aa8" stroke="#5a3a88" stroke-width="0.6" opacity="1"/>
<circle cx="191.0" cy="341.3" r="6.8" fill="#3a78c8" stroke="#2a5aa0" stroke-width="0.6" opacity="1"/>
<circle cx="206.6" cy="341.3" r="6.8" fill="#3a78c8" stroke="#2a5aa0" stroke-width="0.6" opacity="1"/>
<path d="M151,334 q1.5,-1.5 3,0 q1.5,1.5 3,0 q1.5,-1.5 3,0 q1.5,1.5 3,0 q1.5,-1.5 3,0 q1.5,1.5 3,0 q1.5,-1.5 3,0 q1.5,1.5 3,0 q1.5,-1.5 3,0 q1.5,1.5 3,0 q1.5,-1.5 3,0 q1.5,1.5 3,0" stroke="#3a4a8a" stroke-width="1.0" fill="none" />
<path d="M212,334 q1.5,-1.5 3,0 q1.5,1.5 3,0 q1.5,-1.5 3,0 q1.5,1.5 3,0 q1.5,-1.5 3,0 q1.5,1.5 3,0 q1.5,-1.5 3,0 q1.5,1.5 3,0 q1.5,-1.5 3,0 q1.5,1.5 3,0" stroke="#3a4a8a" stroke-width="1.0" fill="none" />
<rect x="247.4" y="319.8" width="64.4" height="21.5" rx="0.0" fill="#dcf0f8" stroke="#6e9db2" stroke-width="1.3" opacity="1"/>
<text x="274.3" y="335.1" font-size="11.5" fill="#222" color="#222" stroke-width="0.12" text-anchor="start" textLength="11.4" lengthAdjust="spacingAndGlyphs">TE</text>
<path d="M250.0,319.8 L250.0,301.7 L281.4,301.7" stroke="#4ea64a" stroke-width="2.4" fill="none" stroke-linejoin="miter"/>
<path d="M288.4,301.7 L280.4,297.9 L280.4,305.4 Z" fill="#4ea64a"/>
<text x="292.8" y="300.0" font-size="11.5" fill="#6ab06a" color="#6ab06a" stroke-width="0.12" text-anchor="start" textLength="36.9" lengthAdjust="spacingAndGlyphs">dsDNA</text>
<text x="292.8" y="314.0" font-size="11.5" fill="#6ab06a" color="#6ab06a" stroke-width="0.12" text-anchor="start" textLength="36.9" lengthAdjust="spacingAndGlyphs">dsRNA</text>
<text x="42.0" y="390.0" font-size="14.5" fill="#222" color="#222" stroke-width="0.12" text-anchor="start" textLength="93.5" lengthAdjust="spacingAndGlyphs">dsDNA/dsRNA</text>
<text x="26.0" y="406.0" font-size="14.5" fill="#222" color="#222" stroke-width="0.12" text-anchor="start" textLength="126.0" lengthAdjust="spacingAndGlyphs">sensing mechanism</text>
<circle cx="176.3" cy="370.3" r="2.3" fill="#7aa2dc" stroke="none" stroke-width="1.2" opacity="1"/>
<circle cx="201.3" cy="365.4" r="2.3" fill="#7aa2dc" stroke="none" stroke-width="1.2" opacity="1"/>
<circle cx="211.9" cy="374.7" r="2.3" fill="#7aa2dc" stroke="none" stroke-width="1.2" opacity="1"/>
<circle cx="188.1" cy="378.2" r="2.3" fill="#7aa2dc" stroke="none" stroke-width="1.2" opacity="1"/>
<circle cx="160.0" cy="384.7" r="2.3" fill="#7aa2dc" stroke="none" stroke-width="1.2" opacity="1"/>
<circle cx="203.0" cy="385.2" r="2.3" fill="#7aa2dc" stroke="none" stroke-width="1.2" opacity="1"/>
<circle cx="186.3" cy="391.4" r="2.3" fill="#7aa2dc" stroke="none" stroke-width="1.2" opacity="1"/>
<circle cx="210.4" cy="393.7" r="2.3" fill="#7aa2dc" stroke="none" stroke-width="1.2" opacity="1"/>
<circle cx="176.3" cy="402.0" r="2.3" fill="#7aa2dc" stroke="none" stroke-width="1.2" opacity="1"/>
<circle cx="191.0" cy="400.5" r="2.3" fill="#7aa2dc" stroke="none" stroke-width="1.2" opacity="1"/>
<circle cx="220.7" cy="402.3" r="2.3" fill="#7aa2dc" stroke="none" stroke-width="1.2" opacity="1"/>
<circle cx="203.0" cy="409.3" r="2.3" fill="#7aa2dc" stroke="none" stroke-width="1.2" opacity="1"/>
<circle cx="220.7" cy="385.8" r="2.3" fill="#c8d8ee" stroke="none" stroke-width="1.2" opacity="1"/>
<defs><linearGradient id="gIF" x1="0" y1="0" x2="1" y2="0"><stop offset="0" stop-color="#b0c4e8" stop-opacity="0.5"/><stop offset="1" stop-color="#4a80d0"/></linearGradient></defs>
<path d="M166,384.4 C175,396 185,401 197.8,402.8 C212,403 224,396 232,388" stroke="url(#gIF)" stroke-width="3.2" fill="none" />
<path d="M237.5,383 L235.5,393 L227.5,386 Z" fill="#4a80d0"/>
<text x="168.8" y="429.0" font-size="15.0" fill="#222" color="#222" stroke-width="0.12" text-anchor="start" textLength="35.5" lengthAdjust="spacingAndGlyphs">IFN-γ</text>
<path d="M208.65,418.12 L211.50,422.12 L210.13,422.12 L210.13,429.22 L207.17,429.22 L207.17,422.12 L205.80,422.12 Z" fill="#111"/>
<path d="M286.1,378.0C286.0,378.6 285.7,379.1 285.5,379.7C285.3,380.2 285.2,380.7 285.0,381.2C284.7,381.7 284.5,382.2 284.2,382.7C283.9,383.1 283.5,383.5 283.2,384.0C282.9,384.4 282.6,384.9 282.3,385.3C282.0,385.8 281.5,386.1 281.1,386.5C280.8,386.9 280.5,387.4 280.1,387.8C279.7,388.2 279.3,388.6 278.8,389.0C278.4,389.4 277.9,389.8 277.4,390.2C276.9,390.6 276.4,390.9 275.8,391.2C275.2,391.5 274.6,391.9 274.0,392.0C273.4,392.2 272.7,392.2 272.0,392.2C271.3,392.1 270.6,392.2 270.0,392.0C269.4,391.9 268.8,391.5 268.2,391.3C267.6,391.0 266.9,390.8 266.4,390.5C265.9,390.1 265.6,389.5 265.1,389.1C264.6,388.7 264.1,388.4 263.7,388.0C263.3,387.7 262.9,387.2 262.5,386.8C262.1,386.4 261.7,386.0 261.3,385.6C261.0,385.2 260.7,384.7 260.4,384.2C260.0,383.8 259.5,383.4 259.2,382.9C258.9,382.5 258.7,381.9 258.5,381.4C258.2,380.8 257.8,380.3 257.6,379.8C257.4,379.2 257.3,378.6 257.3,378.0C257.3,377.4 257.5,376.8 257.6,376.2C257.7,375.7 257.9,375.1 258.1,374.5C258.4,374.0 258.8,373.5 259.2,373.1C259.5,372.6 259.8,372.1 260.2,371.7C260.6,371.3 261.2,371.0 261.6,370.6C262.1,370.3 262.5,369.9 262.9,369.6C263.4,369.2 263.7,368.9 264.1,368.5C264.5,368.1 264.9,367.6 265.3,367.2C265.7,366.9 266.2,366.5 266.7,366.2C267.2,365.9 267.8,365.6 268.4,365.4C268.9,365.1 269.5,364.8 270.1,364.6C270.7,364.3 271.4,364.1 272.0,364.1C272.6,364.0 273.3,364.2 273.9,364.3C274.6,364.4 275.2,364.5 275.8,364.7C276.5,364.8 277.1,364.9 277.7,365.2C278.3,365.5 278.7,366.0 279.2,366.4C279.7,366.7 280.3,367.0 280.8,367.4C281.2,367.8 281.5,368.4 281.9,368.8C282.3,369.3 282.9,369.5 283.2,370.0C283.6,370.5 283.7,371.1 284.0,371.6C284.3,372.1 284.7,372.5 284.9,373.0C285.2,373.5 285.5,374.1 285.6,374.6C285.7,375.2 285.7,375.7 285.8,376.3C285.9,376.9 286.1,377.4 286.1,378.0Z" fill="#f2b4ba" stroke="#e0959c" stroke-width="0.9" opacity="1"/>
<path d="M305.7,385.0C305.7,385.6 305.7,386.3 305.5,386.9C305.3,387.5 304.9,388.1 304.6,388.7C304.3,389.2 304.0,389.8 303.7,390.3C303.4,390.8 303.0,391.3 302.6,391.8C302.2,392.2 301.6,392.6 301.2,393.0C300.7,393.4 300.4,393.9 299.9,394.3C299.5,394.7 298.9,394.9 298.4,395.3C297.9,395.6 297.5,396.0 296.9,396.2C296.4,396.5 295.8,396.7 295.3,396.9C294.7,397.2 294.2,397.4 293.6,397.7C293.1,398.0 292.5,398.3 291.9,398.5C291.3,398.7 290.6,398.7 290.0,398.8C289.4,398.9 288.7,399.0 288.0,399.1C287.3,399.1 286.6,399.2 285.9,399.1C285.3,399.0 284.6,398.8 284.0,398.6C283.3,398.4 282.6,398.2 282.0,397.9C281.4,397.6 280.8,397.2 280.3,396.8C279.7,396.4 279.2,396.0 278.7,395.6C278.2,395.1 277.7,394.6 277.3,394.1C276.9,393.6 276.4,393.1 276.0,392.5C275.7,391.9 275.5,391.3 275.4,390.6C275.3,390.0 275.3,389.3 275.3,388.7C275.3,388.0 275.3,387.4 275.3,386.8C275.3,386.2 275.2,385.6 275.2,385.0C275.3,384.4 275.5,383.8 275.7,383.2C275.9,382.7 276.2,382.2 276.5,381.6C276.8,381.1 277.1,380.6 277.3,380.1C277.6,379.6 277.8,379.1 278.0,378.5C278.3,378.0 278.5,377.4 278.8,377.0C279.1,376.5 279.6,376.1 280.0,375.6C280.3,375.1 280.6,374.5 281.0,374.1C281.4,373.6 282.0,373.2 282.5,372.9C283.0,372.5 283.5,372.1 284.1,371.8C284.7,371.4 285.3,371.0 285.9,370.8C286.6,370.7 287.3,370.8 288.0,370.7C288.7,370.7 289.3,370.5 290.0,370.6C290.7,370.6 291.3,370.8 292.0,370.9C292.6,371.1 293.3,371.3 293.9,371.4C294.5,371.6 295.2,371.7 295.8,372.0C296.3,372.3 296.8,372.9 297.3,373.2C297.9,373.5 298.6,373.6 299.1,374.0C299.6,374.3 300.0,374.8 300.5,375.2C300.9,375.7 301.5,376.0 302.0,376.4C302.4,376.9 302.9,377.4 303.2,377.9C303.6,378.4 303.9,378.9 304.2,379.5C304.5,380.1 304.9,380.6 305.1,381.2C305.3,381.8 305.5,382.5 305.6,383.1C305.7,383.7 305.7,384.4 305.7,385.0Z" fill="#f2b4ba" stroke="#e0959c" stroke-width="0.9" opacity="1"/>
<path d="M319.1,397.0C319.2,397.7 319.1,398.3 319.0,399.0C318.9,399.6 318.7,400.3 318.4,400.9C318.2,401.5 317.9,402.1 317.6,402.6C317.2,403.2 316.7,403.6 316.3,404.1C315.8,404.6 315.4,404.9 314.9,405.4C314.5,405.8 314.1,406.2 313.6,406.6C313.2,407.0 312.7,407.3 312.2,407.6C311.7,408.0 311.2,408.3 310.7,408.6C310.2,408.9 309.7,409.3 309.2,409.6C308.7,409.8 308.1,410.0 307.5,410.2C307.0,410.4 306.4,410.6 305.8,410.8C305.2,410.9 304.6,411.0 304.0,411.1C303.4,411.1 302.7,411.2 302.1,411.1C301.5,411.0 301.0,410.7 300.4,410.5C299.8,410.4 299.1,410.3 298.6,410.1C298.0,409.8 297.5,409.5 297.0,409.2C296.5,408.8 296.2,408.2 295.7,407.8C295.3,407.3 294.9,407.0 294.5,406.5C294.1,406.1 293.6,405.7 293.3,405.2C292.9,404.8 292.7,404.2 292.3,403.7C292.0,403.2 291.6,402.8 291.3,402.3C291.1,401.7 291.0,401.1 290.8,400.5C290.6,400.0 290.4,399.4 290.2,398.8C290.0,398.2 289.7,397.6 289.6,397.0C289.5,396.4 289.5,395.7 289.5,395.1C289.6,394.5 289.7,393.8 289.8,393.2C290.0,392.6 290.2,392.0 290.4,391.4C290.6,390.8 290.9,390.2 291.2,389.6C291.5,389.0 291.8,388.4 292.2,387.9C292.6,387.4 293.1,387.0 293.6,386.6C294.1,386.2 294.7,385.8 295.2,385.5C295.8,385.2 296.4,385.0 296.9,384.8C297.5,384.5 298.1,384.3 298.7,384.1C299.2,383.9 299.8,383.8 300.4,383.7C301.0,383.6 301.6,383.5 302.2,383.5C302.8,383.4 303.4,383.5 304.0,383.5C304.6,383.6 305.2,383.7 305.7,383.9C306.3,384.0 306.8,384.2 307.4,384.3C307.9,384.5 308.5,384.7 309.0,384.9C309.5,385.1 310.0,385.4 310.5,385.7C311.0,386.0 311.4,386.4 312.0,386.6C312.5,386.9 313.1,387.1 313.6,387.4C314.1,387.7 314.5,388.2 314.9,388.6C315.4,389.0 316.0,389.4 316.4,389.8C316.8,390.3 317.2,390.9 317.5,391.4C317.8,392.0 318.2,392.5 318.4,393.1C318.7,393.7 318.9,394.4 319.0,395.0C319.1,395.7 319.1,396.3 319.1,397.0Z" fill="#f2b4ba" stroke="#e0959c" stroke-width="0.9" opacity="1"/>
<path d="M294.4,412.0C294.3,412.6 294.1,413.1 294.0,413.7C293.9,414.3 294.0,414.9 293.9,415.5C293.8,416.0 293.5,416.5 293.3,417.1C293.1,417.6 292.9,418.2 292.7,418.7C292.4,419.3 292.0,419.7 291.7,420.2C291.4,420.7 291.2,421.4 290.8,421.8C290.4,422.3 289.9,422.6 289.4,422.9C288.9,423.2 288.3,423.5 287.8,423.8C287.3,424.1 286.8,424.5 286.3,424.8C285.7,425.0 285.2,425.2 284.6,425.3C284.0,425.5 283.4,425.4 282.8,425.5C282.2,425.6 281.6,425.9 281.0,425.9C280.4,426.0 279.8,425.9 279.2,425.8C278.6,425.8 278.0,425.7 277.3,425.7C276.7,425.6 276.0,425.6 275.4,425.5C274.8,425.3 274.2,425.1 273.6,424.8C273.1,424.4 272.7,423.9 272.2,423.5C271.7,423.0 271.3,422.6 270.8,422.2C270.4,421.7 270.0,421.2 269.6,420.7C269.3,420.2 269.1,419.6 268.8,419.0C268.6,418.5 268.2,417.9 268.0,417.4C267.9,416.8 267.9,416.1 267.8,415.5C267.7,414.9 267.5,414.4 267.4,413.8C267.3,413.2 267.1,412.6 267.1,412.0C267.0,411.4 267.1,410.8 267.1,410.2C267.1,409.5 267.1,408.9 267.2,408.3C267.3,407.7 267.5,407.1 267.7,406.5C267.9,405.9 268.1,405.3 268.4,404.7C268.7,404.2 269.1,403.7 269.5,403.2C270.0,402.8 270.5,402.4 271.0,402.0C271.5,401.7 272.1,401.3 272.6,401.1C273.2,400.8 273.8,400.6 274.3,400.4C274.9,400.3 275.5,400.2 276.1,400.1C276.6,399.9 277.1,399.7 277.7,399.6C278.2,399.5 278.8,399.4 279.3,399.3C279.9,399.2 280.4,399.2 281.0,399.0C281.6,398.9 282.2,398.7 282.8,398.7C283.4,398.6 283.9,398.6 284.6,398.6C285.2,398.6 286.0,398.4 286.6,398.5C287.3,398.5 287.9,398.8 288.5,399.0C289.1,399.2 289.8,399.4 290.4,399.8C291.0,400.1 291.6,400.5 292.0,401.0C292.5,401.4 292.9,402.0 293.2,402.6C293.6,403.2 293.8,403.8 294.0,404.5C294.3,405.1 294.5,405.7 294.6,406.4C294.7,407.0 294.6,407.7 294.6,408.4C294.6,409.0 294.7,409.6 294.6,410.2C294.6,410.8 294.5,411.4 294.4,412.0Z" fill="#f2b4ba" stroke="#e0959c" stroke-width="0.9" opacity="1"/>
<path d="M308.8,425.0C308.9,425.5 308.8,425.9 308.7,426.4C308.6,426.9 308.5,427.3 308.3,427.7C308.1,428.2 307.8,428.6 307.6,429.0C307.3,429.4 307.0,429.8 306.6,430.1C306.3,430.5 305.8,430.7 305.4,431.0C305.1,431.3 304.7,431.6 304.3,431.9C303.9,432.2 303.6,432.6 303.2,432.8C302.8,433.1 302.4,433.4 302.0,433.6C301.5,433.9 301.1,434.2 300.7,434.4C300.2,434.6 299.7,434.8 299.2,434.9C298.7,435.0 298.1,435.2 297.6,435.2C297.1,435.3 296.5,435.2 296.0,435.2C295.5,435.1 294.9,435.0 294.4,434.9C293.9,434.7 293.4,434.6 293.0,434.4C292.5,434.2 292.1,434.0 291.7,433.7C291.3,433.5 290.9,433.2 290.5,432.9C290.1,432.7 289.7,432.5 289.3,432.3C288.9,432.1 288.5,431.9 288.1,431.6C287.7,431.4 287.4,431.1 287.0,430.8C286.6,430.5 286.2,430.2 285.8,429.9C285.4,429.6 285.0,429.3 284.7,428.9C284.3,428.5 284.1,428.1 283.8,427.7C283.5,427.3 283.2,426.9 283.0,426.4C282.8,426.0 282.7,425.5 282.7,425.0C282.8,424.5 282.9,424.0 283.0,423.6C283.2,423.1 283.5,422.7 283.7,422.3C284.0,421.8 284.2,421.4 284.5,421.0C284.9,420.7 285.3,420.4 285.7,420.0C286.1,419.7 286.4,419.4 286.8,419.1C287.2,418.8 287.6,418.6 288.0,418.3C288.3,418.0 288.7,417.7 289.0,417.4C289.4,417.1 289.7,416.8 290.1,416.5C290.5,416.3 291.0,416.1 291.4,415.8C291.9,415.6 292.3,415.3 292.8,415.1C293.3,415.0 293.9,415.0 294.4,414.9C294.9,414.9 295.5,414.7 296.0,414.6C296.5,414.6 297.1,414.7 297.6,414.9C298.1,415.0 298.6,415.2 299.1,415.4C299.6,415.5 300.0,415.8 300.5,416.0C300.9,416.2 301.3,416.5 301.7,416.8C302.1,417.0 302.4,417.4 302.7,417.7C303.1,417.9 303.5,418.2 303.9,418.4C304.3,418.7 304.8,418.9 305.1,419.2C305.5,419.5 305.8,419.8 306.1,420.1C306.4,420.5 306.7,420.8 307.0,421.2C307.3,421.6 307.7,421.9 307.9,422.3C308.2,422.7 308.3,423.2 308.4,423.6C308.6,424.1 308.8,424.5 308.8,425.0Z" fill="#f2b4ba" stroke="#e0959c" stroke-width="0.9" opacity="1"/>
<path d="M280.1,395.0C280.0,395.5 279.8,396.0 279.6,396.5C279.5,397.0 279.3,397.5 279.1,397.9C278.9,398.4 278.5,398.7 278.3,399.1C278.1,399.6 278.0,400.0 277.8,400.4C277.7,400.9 277.5,401.3 277.3,401.7C277.1,402.2 276.9,402.6 276.7,403.1C276.5,403.5 276.3,404.0 276.0,404.4C275.8,404.8 275.4,405.2 275.1,405.6C274.8,406.0 274.5,406.5 274.1,406.9C273.7,407.2 273.3,407.4 272.8,407.6C272.4,407.9 271.9,408.2 271.5,408.3C271.0,408.4 270.5,408.4 270.0,408.3C269.5,408.2 269.0,408.0 268.6,407.8C268.1,407.6 267.7,407.5 267.3,407.2C266.9,406.9 266.5,406.4 266.2,406.1C265.8,405.7 265.4,405.5 265.1,405.1C264.8,404.8 264.6,404.3 264.3,404.0C263.9,403.6 263.6,403.4 263.3,403.1C263.0,402.7 262.7,402.4 262.4,402.0C262.2,401.6 262.0,401.2 261.7,400.7C261.5,400.3 261.2,399.9 261.0,399.5C260.8,399.0 260.7,398.5 260.6,398.0C260.5,397.5 260.3,397.0 260.3,396.5C260.2,396.0 260.2,395.5 260.2,395.0C260.2,394.5 260.2,394.0 260.2,393.5C260.2,392.9 260.3,392.4 260.5,391.9C260.6,391.4 260.7,390.9 260.8,390.5C261.0,390.0 261.3,389.6 261.5,389.1C261.7,388.7 261.9,388.2 262.1,387.8C262.4,387.3 262.6,386.9 262.9,386.5C263.2,386.0 263.5,385.7 263.8,385.4C264.2,385.0 264.5,384.6 264.8,384.3C265.2,383.9 265.6,383.7 266.0,383.5C266.4,383.3 266.9,383.1 267.3,382.9C267.7,382.8 268.2,382.7 268.6,382.6C269.1,382.6 269.6,382.7 270.0,382.7C270.4,382.8 270.9,382.9 271.3,383.0C271.7,383.2 272.1,383.4 272.6,383.6C273.0,383.8 273.4,383.9 273.8,384.1C274.1,384.3 274.5,384.6 274.9,384.9C275.2,385.1 275.6,385.4 276.0,385.6C276.3,385.9 276.7,386.2 277.0,386.6C277.4,386.9 277.8,387.2 278.1,387.5C278.4,387.9 278.8,388.3 279.0,388.8C279.2,389.2 279.4,389.7 279.6,390.2C279.7,390.8 279.9,391.3 280.0,391.8C280.0,392.3 280.0,392.9 280.1,393.4C280.1,393.9 280.2,394.5 280.1,395.0Z" fill="#f2b4ba" stroke="#e0959c" stroke-width="0.9" opacity="1"/>
<path d="M316.7,415.0C316.7,415.4 316.8,415.8 316.8,416.3C316.8,416.7 316.7,417.1 316.6,417.5C316.6,418.0 316.5,418.4 316.4,418.8C316.3,419.2 316.1,419.5 315.9,419.9C315.7,420.2 315.5,420.5 315.4,420.9C315.2,421.2 315.0,421.6 314.8,421.9C314.6,422.2 314.3,422.4 314.1,422.6C313.8,422.8 313.6,423.0 313.3,423.2C313.1,423.4 312.8,423.7 312.6,423.8C312.3,424.0 312.0,424.1 311.7,424.3C311.5,424.4 311.2,424.6 310.9,424.7C310.6,424.8 310.3,425.0 310.0,425.0C309.7,425.1 309.4,425.1 309.1,425.2C308.7,425.2 308.4,425.3 308.1,425.2C307.8,425.2 307.4,425.0 307.1,424.8C306.9,424.6 306.6,424.4 306.3,424.1C306.1,423.8 305.8,423.6 305.6,423.2C305.4,422.9 305.2,422.5 305.0,422.2C304.8,421.8 304.6,421.5 304.4,421.1C304.3,420.7 304.1,420.3 304.0,420.0C303.9,419.6 303.8,419.1 303.7,418.7C303.6,418.3 303.5,417.9 303.4,417.5C303.3,417.1 303.2,416.7 303.1,416.3C303.0,415.9 302.9,415.4 302.9,415.0C302.8,414.6 302.9,414.1 302.9,413.7C302.9,413.2 302.9,412.8 303.0,412.3C303.0,411.9 303.1,411.4 303.2,411.0C303.4,410.6 303.5,410.2 303.7,409.8C303.9,409.5 304.2,409.2 304.4,408.9C304.6,408.6 304.9,408.3 305.2,408.1C305.5,407.9 305.8,407.8 306.0,407.6C306.3,407.5 306.6,407.3 306.8,407.2C307.1,407.0 307.4,406.9 307.6,406.8C307.9,406.7 308.2,406.7 308.4,406.5C308.7,406.4 308.9,406.2 309.2,406.0C309.4,405.9 309.7,405.7 310.0,405.5C310.3,405.4 310.6,405.2 310.9,405.1C311.2,405.0 311.5,405.0 311.9,405.0C312.2,404.9 312.6,404.8 312.9,404.9C313.3,405.0 313.6,405.2 313.9,405.5C314.1,405.7 314.4,406.0 314.7,406.3C315.0,406.5 315.3,406.8 315.5,407.2C315.7,407.5 315.8,408.1 315.9,408.5C316.1,409.0 316.2,409.4 316.3,409.8C316.4,410.3 316.5,410.7 316.5,411.1C316.6,411.6 316.6,412.0 316.6,412.5C316.7,412.9 316.7,413.3 316.7,413.7C316.7,414.2 316.7,414.6 316.7,415.0Z" fill="#f2b4ba" stroke="#e0959c" stroke-width="0.9" opacity="1"/>
<path d="M289.7,389.6C289.7,389.8 289.8,390.1 289.8,390.4C289.8,390.6 289.7,390.9 289.6,391.1C289.6,391.3 289.4,391.6 289.3,391.8C289.2,392.0 289.1,392.3 289.0,392.5C288.8,392.7 288.7,392.9 288.5,393.0C288.3,393.2 288.1,393.3 287.9,393.5C287.7,393.6 287.5,393.8 287.3,393.9C287.1,394.0 286.9,394.2 286.7,394.3C286.5,394.4 286.3,394.5 286.1,394.6C285.8,394.7 285.6,394.8 285.4,394.9C285.2,395.0 285.0,395.1 284.7,395.1C284.5,395.2 284.2,395.1 284.0,395.2C283.8,395.2 283.5,395.2 283.3,395.1C283.0,395.1 282.8,395.1 282.5,395.0C282.3,395.0 282.1,394.8 281.9,394.7C281.7,394.6 281.4,394.5 281.2,394.4C281.0,394.2 280.8,394.1 280.7,393.9C280.5,393.8 280.4,393.6 280.2,393.4C280.1,393.2 280.0,393.0 279.9,392.8C279.7,392.6 279.6,392.4 279.5,392.2C279.4,392.0 279.3,391.8 279.2,391.6C279.1,391.4 279.0,391.2 278.9,391.0C278.8,390.8 278.8,390.5 278.7,390.3C278.6,390.1 278.5,389.8 278.5,389.6C278.4,389.4 278.4,389.1 278.4,388.9C278.4,388.6 278.5,388.4 278.5,388.1C278.6,387.9 278.6,387.6 278.7,387.4C278.8,387.2 279.0,387.0 279.1,386.8C279.2,386.5 279.3,386.3 279.4,386.1C279.6,385.9 279.8,385.7 280.0,385.6C280.2,385.4 280.4,385.3 280.6,385.1C280.8,385.0 281.0,384.8 281.2,384.7C281.4,384.6 281.6,384.6 281.9,384.5C282.1,384.4 282.3,384.2 282.5,384.2C282.8,384.1 283.0,384.1 283.3,384.1C283.5,384.1 283.8,384.1 284.0,384.1C284.2,384.1 284.5,384.1 284.7,384.2C285.0,384.2 285.2,384.3 285.4,384.4C285.6,384.5 285.8,384.5 286.0,384.7C286.3,384.8 286.4,384.9 286.6,385.0C286.8,385.2 287.0,385.3 287.2,385.4C287.4,385.6 287.5,385.8 287.6,386.0C287.8,386.1 288.0,386.3 288.1,386.4C288.3,386.6 288.4,386.8 288.6,387.0C288.7,387.1 288.9,387.3 289.0,387.5C289.1,387.7 289.2,388.0 289.3,388.2C289.4,388.4 289.5,388.6 289.6,388.9C289.6,389.1 289.7,389.4 289.7,389.6Z" fill="#d87a88" stroke="none" stroke-width="0.0" opacity="1"/>
<path d="M309.0,396.7C309.0,396.9 309.0,397.2 309.0,397.5C309.0,397.7 309.0,398.0 308.9,398.2C308.9,398.5 308.8,398.7 308.6,398.9C308.5,399.1 308.4,399.4 308.3,399.6C308.2,399.8 308.0,400.0 307.8,400.2C307.7,400.4 307.5,400.6 307.3,400.7C307.2,400.9 306.9,401.0 306.7,401.2C306.5,401.3 306.3,401.4 306.1,401.5C305.9,401.6 305.6,401.7 305.4,401.8C305.2,401.9 305.0,402.0 304.7,402.1C304.5,402.1 304.3,402.1 304.0,402.1C303.8,402.1 303.5,402.2 303.3,402.1C303.1,402.1 302.8,402.1 302.6,402.0C302.4,402.0 302.1,402.0 301.9,401.9C301.7,401.8 301.5,401.7 301.3,401.6C301.0,401.5 300.8,401.4 300.7,401.3C300.5,401.2 300.3,401.0 300.1,400.9C299.9,400.8 299.7,400.6 299.6,400.4C299.4,400.3 299.2,400.1 299.1,399.9C298.9,399.8 298.8,399.6 298.7,399.4C298.5,399.2 298.3,399.0 298.2,398.8C298.0,398.6 297.9,398.4 297.8,398.2C297.7,397.9 297.7,397.7 297.6,397.4C297.6,397.2 297.5,396.9 297.5,396.7C297.5,396.5 297.5,396.2 297.6,395.9C297.6,395.7 297.7,395.5 297.8,395.2C297.9,395.0 298.0,394.8 298.1,394.6C298.2,394.3 298.4,394.1 298.5,393.9C298.7,393.7 298.8,393.6 299.0,393.4C299.1,393.2 299.4,393.1 299.5,392.9C299.7,392.8 299.8,392.5 300.0,392.4C300.2,392.2 300.4,392.1 300.6,392.0C300.8,391.8 301.0,391.7 301.2,391.5C301.4,391.4 301.6,391.3 301.8,391.2C302.0,391.1 302.3,391.0 302.5,391.0C302.8,391.0 303.1,391.0 303.3,391.0C303.5,391.0 303.8,391.0 304.0,391.0C304.3,391.0 304.5,391.1 304.8,391.2C305.0,391.3 305.2,391.4 305.4,391.6C305.6,391.7 305.8,391.9 306.0,392.0C306.2,392.2 306.3,392.4 306.5,392.5C306.6,392.7 306.8,392.9 306.9,393.1C307.1,393.3 307.2,393.4 307.3,393.6C307.4,393.8 307.5,394.0 307.7,394.2C307.8,394.4 308.0,394.5 308.1,394.7C308.3,394.9 308.3,395.1 308.4,395.3C308.5,395.5 308.7,395.7 308.8,396.0C308.9,396.2 308.9,396.5 309.0,396.7Z" fill="#d87a88" stroke="none" stroke-width="0.0" opacity="1"/>
<path d="M287.6,412.5C287.6,412.7 287.5,413.0 287.5,413.2C287.5,413.4 287.4,413.7 287.3,413.9C287.3,414.1 287.1,414.3 287.1,414.5C287.0,414.7 287.0,415.0 286.9,415.2C286.8,415.4 286.6,415.6 286.5,415.8C286.3,416.0 286.3,416.2 286.1,416.4C286.0,416.6 285.8,416.8 285.6,417.0C285.4,417.1 285.2,417.2 285.0,417.4C284.8,417.5 284.6,417.6 284.4,417.7C284.1,417.8 283.9,417.9 283.7,417.9C283.4,418.0 283.2,418.0 282.9,418.0C282.7,418.1 282.4,418.1 282.2,418.1C282.0,418.1 281.7,418.0 281.5,418.0C281.2,417.9 281.0,417.8 280.8,417.8C280.6,417.7 280.4,417.6 280.1,417.5C279.9,417.4 279.7,417.3 279.5,417.2C279.3,417.1 279.1,417.0 278.9,416.8C278.7,416.7 278.5,416.6 278.3,416.4C278.1,416.3 277.9,416.1 277.7,416.0C277.5,415.8 277.4,415.5 277.3,415.3C277.2,415.1 277.0,414.9 276.9,414.7C276.8,414.5 276.8,414.2 276.8,414.0C276.7,413.7 276.7,413.5 276.7,413.2C276.7,413.0 276.7,412.7 276.7,412.5C276.8,412.3 276.9,412.0 276.9,411.8C277.0,411.6 277.1,411.4 277.2,411.2C277.2,410.9 277.3,410.7 277.4,410.5C277.4,410.3 277.6,410.1 277.7,409.9C277.8,409.7 277.9,409.5 278.0,409.3C278.1,409.1 278.3,408.9 278.4,408.7C278.6,408.5 278.7,408.4 278.9,408.2C279.0,408.0 279.2,407.8 279.4,407.6C279.6,407.5 279.8,407.4 280.1,407.3C280.3,407.2 280.5,407.0 280.7,406.9C280.9,406.8 281.2,406.8 281.5,406.8C281.7,406.8 282.0,406.8 282.2,406.8C282.4,406.8 282.7,406.8 282.9,406.9C283.2,406.9 283.4,407.0 283.7,407.1C283.9,407.2 284.1,407.3 284.3,407.4C284.5,407.5 284.7,407.7 284.9,407.8C285.1,407.9 285.4,408.0 285.6,408.1C285.7,408.3 285.9,408.5 286.1,408.6C286.3,408.8 286.5,408.9 286.6,409.1C286.8,409.3 286.8,409.5 287.0,409.7C287.1,410.0 287.2,410.2 287.3,410.4C287.4,410.6 287.5,410.8 287.5,411.1C287.6,411.3 287.6,411.6 287.6,411.8C287.6,412.0 287.6,412.3 287.6,412.5Z" fill="#d87a88" stroke="none" stroke-width="0.0" opacity="1"/>
<circle cx="299.8" cy="373.8" r="14.0" fill="#8fd070" stroke="#62ad4c" stroke-width="1.2" opacity="1"/>
<circle cx="301.3" cy="374.8" r="9.0" fill="#7cc25e" stroke="none" stroke-width="1.2" opacity="1"/>
<circle cx="298.0" cy="422.2" r="14.0" fill="#8fd070" stroke="#62ad4c" stroke-width="1.2" opacity="1"/>
<circle cx="299.5" cy="423.2" r="9.0" fill="#7cc25e" stroke="none" stroke-width="1.2" opacity="1"/>
<circle cx="257.6" cy="405.5" r="14.0" fill="#8fd070" stroke="#62ad4c" stroke-width="1.2" opacity="1"/>
<circle cx="259.1" cy="406.5" r="9.0" fill="#7cc25e" stroke="none" stroke-width="1.2" opacity="1"/>
<text x="247.5" y="407.5" font-size="9.5" fill="#e8f7dc" color="#e8f7dc" stroke-width="0.12" text-anchor="start" textLength="20.0" lengthAdjust="spacingAndGlyphs">CD8+</text>
<circle cx="56.9" cy="461.8" r="2.0" fill="#1e1e1e" stroke="none" stroke-width="1.2" opacity="1"/>
<text x="75.0" y="466.3" font-size="16.1" fill="#1e1e1e" color="#1e1e1e" stroke-width="0.32" text-anchor="start">Promoted “viral mimicry” mechanism</text>
<circle cx="56.9" cy="481.1" r="2.0" fill="#1e1e1e" stroke="none" stroke-width="1.2" opacity="1"/>
<text x="75.0" y="485.6" font-size="16.1" fill="#1e1e1e" color="#1e1e1e" stroke-width="0.32" text-anchor="start">Upregulated immune-stimulatory</text>
<text x="75.0" y="504.3" font-size="16.1" fill="#1e1e1e" color="#1e1e1e" stroke-width="0.32" text-anchor="start">type I interferon</text>
<circle cx="56.9" cy="519.9" r="2.0" fill="#1e1e1e" stroke="none" stroke-width="1.2" opacity="1"/>
<text x="75.0" y="524.4" font-size="16.1" fill="#1e1e1e" color="#1e1e1e" stroke-width="0.32" text-anchor="start">Increased CD8+T cells recruitment</text>
<text x="408.4" y="19.6" font-size="23.5" fill="#111" color="#111" stroke-width="0.00" font-weight="bold" text-anchor="start" textLength="12.0" lengthAdjust="spacingAndGlyphs">b</text>
<text x="452.6" y="28.4" font-size="17.7" fill="#111" color="#111" stroke-width="0.00" font-weight="bold" text-anchor="start" textLength="173.0" lengthAdjust="spacingAndGlyphs">Immune checkpoint</text>
<path d="M521.1,110.9C520.7,111.5 520.6,112.1 520.4,112.7C520.3,113.3 520.3,113.8 520.2,114.4C520.1,115.0 520.1,115.6 520.0,116.1C519.9,116.7 519.9,117.3 519.8,117.9C519.7,118.4 519.6,119.0 519.6,119.6C519.5,120.2 519.4,120.7 519.4,121.3C519.4,121.9 519.4,122.6 519.6,123.2C519.8,123.9 520.3,124.7 520.5,125.4C520.7,126.1 521.0,126.9 520.9,127.5C520.8,128.1 520.1,128.5 519.8,129.1C519.4,129.6 518.9,130.0 518.9,130.7C518.9,131.4 519.8,132.5 519.9,133.3C520.0,134.1 520.2,134.9 519.7,135.4C519.3,135.9 517.9,135.8 517.0,136.0C516.2,136.3 515.4,136.4 514.8,136.8C514.2,137.1 513.9,137.6 513.5,138.1C513.2,138.6 512.9,139.1 512.5,139.6C512.2,140.1 511.8,140.6 511.5,141.1C511.1,141.6 510.7,142.1 510.4,142.6C510.1,143.2 509.8,143.7 509.6,144.4C509.4,145.0 509.3,145.8 509.0,146.5C508.8,147.1 508.6,147.9 508.1,148.3C507.7,148.8 507.1,149.1 506.4,149.3C505.8,149.4 504.9,149.3 504.2,149.4C503.4,149.4 502.7,149.4 502.1,149.5C501.4,149.6 500.8,149.8 500.2,150.0C499.6,150.2 499.1,150.4 498.5,150.6C498.0,150.8 497.4,151.0 496.9,151.2C496.3,151.4 495.8,151.6 495.2,151.7C494.6,151.9 494.0,152.0 493.5,152.2C493.0,152.4 492.3,152.2 491.9,152.9C491.5,153.6 491.5,155.2 491.2,156.3C490.8,157.3 490.7,159.4 490.1,159.2C489.4,159.0 488.0,156.2 487.1,155.3C486.3,154.4 485.6,153.9 485.0,153.6C484.4,153.4 483.9,153.6 483.3,153.6C482.7,153.6 482.2,153.7 481.6,153.7C481.1,153.7 480.5,153.7 480.0,153.7C479.4,153.7 478.8,153.7 478.3,153.7C477.7,153.7 477.2,153.6 476.6,153.6C476.1,153.6 475.5,153.6 475.0,153.5C474.4,153.5 473.9,153.4 473.3,153.4C472.8,153.4 472.2,153.3 471.7,153.3C471.1,153.4 470.6,153.4 470.0,153.7C469.4,153.9 468.7,154.3 468.0,154.7C467.4,155.2 466.6,155.8 465.9,156.2C465.2,156.7 464.4,157.2 463.7,157.5C463.0,157.8 462.1,158.3 461.5,158.0C461.0,157.8 460.5,157.0 460.2,156.0C460.0,155.0 460.0,153.2 459.8,152.1C459.6,151.1 459.3,150.4 459.0,149.8C458.6,149.3 458.1,149.1 457.6,148.8C457.2,148.5 456.7,148.2 456.2,148.0C455.7,147.7 455.2,147.4 454.7,147.2C454.2,146.9 453.8,146.7 453.2,146.5C452.6,146.3 452.0,146.2 451.4,146.2C450.7,146.1 449.9,146.2 449.3,146.1C448.6,146.1 447.8,146.0 447.3,145.8C446.8,145.5 446.4,145.0 446.1,144.4C445.9,143.8 445.8,143.0 445.7,142.3C445.6,141.6 445.5,140.9 445.3,140.3C445.1,139.7 444.9,139.2 444.6,138.7C444.3,138.2 444.0,137.7 443.6,137.3C443.3,136.9 442.9,136.5 442.5,136.1C442.1,135.7 441.6,135.3 441.1,135.0C440.6,134.7 439.9,134.4 439.3,134.1C438.7,133.8 438.0,133.6 437.5,133.2C437.0,132.8 436.6,132.3 436.3,131.8C436.1,131.2 436.1,130.5 436.0,129.9C435.9,129.3 436.0,128.7 435.8,128.1C435.7,127.5 435.5,126.9 435.3,126.4C435.1,125.8 434.8,125.3 434.5,124.8C434.3,124.3 434.0,123.7 433.7,123.2C433.4,122.7 433.2,122.1 432.9,121.6C432.6,121.0 432.4,120.5 432.2,119.9C431.9,119.3 431.7,118.8 431.5,118.2C431.3,117.6 431.1,117.0 430.9,116.4C430.7,115.8 430.6,115.2 430.4,114.6C430.3,114.0 430.2,113.4 430.1,112.8C429.9,112.2 429.9,111.6 429.8,110.9C429.7,110.3 429.7,109.7 429.6,109.1C429.5,108.4 429.4,107.8 429.1,107.1C428.8,106.5 428.2,105.8 427.6,105.1C427.1,104.3 426.0,103.5 425.8,102.8C425.6,102.1 425.9,101.4 426.3,100.8C426.6,100.2 427.5,99.7 427.9,99.1C428.2,98.5 428.2,97.8 428.5,97.2C428.9,96.6 429.3,96.0 429.9,95.5C430.4,95.0 431.3,94.7 431.9,94.2C432.4,93.7 432.9,93.3 433.2,92.7C433.5,92.1 433.5,91.5 433.6,90.8C433.7,90.2 433.6,89.4 433.7,88.8C433.8,88.1 434.0,87.4 434.3,86.9C434.7,86.4 435.4,86.0 436.0,85.7C436.7,85.4 437.5,85.2 438.2,84.9C438.9,84.6 439.6,84.4 440.2,84.1C440.8,83.8 441.3,83.4 441.8,83.1C442.2,82.7 442.7,82.3 443.1,81.9C443.6,81.6 444.0,81.2 444.5,80.8C445.0,80.5 445.4,80.1 445.9,79.7C446.3,79.4 446.8,79.0 447.2,78.7C447.7,78.4 448.2,78.0 448.6,77.7C449.1,77.4 449.6,77.1 450.0,76.7C450.5,76.4 451.0,76.1 451.5,75.8C451.9,75.5 452.4,75.2 452.9,74.9C453.4,74.6 453.9,74.4 454.3,74.1C454.8,73.8 455.4,73.6 455.8,73.1C456.1,72.7 456.5,72.2 456.6,71.1C456.8,70.1 456.3,67.8 456.6,66.9C456.9,66.1 457.5,65.7 458.3,66.1C459.1,66.4 460.5,68.3 461.3,68.9C462.2,69.6 462.8,69.7 463.5,69.8C464.1,69.9 464.6,69.6 465.1,69.5C465.6,69.3 466.2,69.2 466.7,69.0C467.3,68.9 467.8,68.8 468.3,68.7C468.9,68.5 469.4,68.5 470.0,68.2C470.5,68.0 471.0,67.7 471.5,67.3C472.1,66.8 472.5,66.0 473.1,65.3C473.6,64.6 474.2,63.5 474.8,63.2C475.4,62.8 476.0,62.7 476.6,63.0C477.2,63.3 477.8,64.3 478.4,65.0C479.0,65.7 479.5,66.6 480.0,67.0C480.6,67.5 481.1,67.7 481.7,67.7C482.3,67.7 482.9,67.4 483.5,67.3C484.1,67.1 484.7,66.8 485.3,66.9C485.9,66.9 486.4,67.2 486.9,67.5C487.4,67.9 487.8,68.5 488.3,69.0C488.8,69.4 489.2,69.8 489.7,70.1C490.2,70.5 490.7,70.7 491.2,70.9C491.7,71.1 492.3,71.2 492.9,71.2C493.4,71.3 494.0,71.3 494.7,71.2C495.4,71.1 496.1,70.9 496.8,70.9C497.4,70.8 498.1,70.8 498.7,71.0C499.2,71.2 499.7,71.7 500.1,72.2C500.5,72.7 500.7,73.4 501.1,73.9C501.4,74.4 501.7,74.9 502.1,75.4C502.5,75.8 503.0,76.1 503.4,76.5C503.9,76.8 504.4,77.1 504.8,77.5C505.3,77.8 505.8,78.1 506.3,78.4C506.7,78.8 507.2,79.1 507.6,79.5C508.1,79.9 508.6,80.2 509.0,80.6C509.4,81.0 509.9,81.4 510.3,81.8C510.8,82.1 511.2,82.6 511.7,82.9C512.2,83.2 512.8,83.6 513.4,83.8C514.1,84.1 514.9,84.3 515.6,84.5C516.4,84.8 517.2,85.0 517.8,85.4C518.3,85.8 518.7,86.3 519.0,86.9C519.3,87.5 519.3,88.2 519.6,88.7C520.0,89.3 520.6,89.7 520.9,90.3C521.2,90.8 521.6,91.4 521.5,92.1C521.4,92.8 520.8,93.8 520.5,94.5C520.1,95.3 519.7,96.1 519.6,96.8C519.5,97.5 519.5,98.0 519.7,98.6C519.8,99.2 520.0,99.8 520.4,100.3C520.7,100.8 521.3,101.3 521.9,101.8C522.6,102.3 523.6,102.7 524.3,103.3C524.9,103.8 525.7,104.4 525.8,105.0C525.9,105.7 525.4,106.4 524.9,107.1C524.4,107.8 523.4,108.5 522.7,109.1C522.1,109.7 521.5,110.3 521.1,110.9Z" fill="#b0d5f8" stroke="#7890b4" stroke-width="1.3" stroke-linejoin="round" opacity="1"/>
<path d="M489.9,113.5C490.2,114.2 490.6,115.0 490.7,115.8C490.8,116.6 490.6,117.4 490.5,118.1C490.3,118.9 490.2,119.7 489.8,120.4C489.4,121.2 488.9,121.9 488.2,122.5C487.6,123.0 486.7,123.5 485.9,124.0C485.2,124.5 484.7,125.2 483.9,125.6C483.1,126.0 482.1,126.3 481.3,126.6C480.4,126.9 479.5,127.1 478.7,127.3C477.8,127.6 477.0,127.8 476.2,128.0C475.4,128.3 474.6,128.7 473.8,129.0C473.0,129.2 472.1,129.3 471.2,129.5C470.3,129.7 469.4,130.0 468.5,130.2C467.6,130.3 466.6,130.3 465.7,130.3C464.7,130.3 463.7,130.3 462.8,130.2C461.9,130.0 461.0,129.7 460.1,129.4C459.3,129.1 458.4,128.7 457.6,128.3C456.9,127.9 456.2,127.3 455.6,126.8C454.9,126.2 454.5,125.5 454.0,124.9C453.4,124.3 452.8,123.8 452.4,123.2C452.0,122.6 451.9,121.8 451.5,121.2C451.2,120.6 450.7,120.0 450.3,119.4C450.0,118.8 449.6,118.2 449.3,117.5C449.0,116.9 448.8,116.2 448.6,115.6C448.4,114.9 448.4,114.2 448.2,113.5C448.0,112.8 447.6,112.1 447.5,111.3C447.4,110.6 447.4,109.8 447.6,109.1C447.8,108.4 448.1,107.7 448.5,107.0C448.8,106.3 449.2,105.6 449.7,105.0C450.1,104.3 450.5,103.6 451.1,103.0C451.7,102.5 452.6,102.1 453.3,101.6C454.0,101.1 454.6,100.4 455.3,100.0C456.1,99.6 457.0,99.3 457.8,99.0C458.7,98.7 459.5,98.3 460.4,98.1C461.2,97.8 462.1,97.5 463.0,97.3C463.9,97.1 464.8,96.8 465.7,96.7C466.6,96.5 467.6,96.3 468.5,96.3C469.4,96.3 470.4,96.5 471.3,96.6C472.3,96.8 473.2,96.9 474.1,97.1C475.0,97.4 475.9,97.6 476.7,98.0C477.5,98.4 478.1,99.0 478.8,99.4C479.5,99.9 480.2,100.4 480.8,100.9C481.4,101.5 481.8,102.1 482.3,102.6C482.8,103.2 483.2,103.8 483.6,104.4C484.1,104.9 484.6,105.5 485.0,106.0C485.4,106.6 485.8,107.1 486.2,107.7C486.6,108.3 486.9,108.9 487.4,109.5C487.8,110.1 488.7,110.7 489.1,111.4C489.5,112.0 489.7,112.8 489.9,113.5Z" fill="#8cbbef" stroke="none" stroke-width="0.0" opacity="1"/>
<circle cx="508.0" cy="96.5" r="0.8" fill="#8ab9ee"/>
<circle cx="486.6" cy="104.4" r="0.8" fill="#8ab9ee"/>
<circle cx="455.1" cy="99.4" r="0.8" fill="#8ab9ee"/>
<circle cx="460.6" cy="110.1" r="0.8" fill="#8ab9ee"/>
<circle cx="485.1" cy="136.8" r="0.8" fill="#8ab9ee"/>
<circle cx="480.7" cy="138.3" r="0.8" fill="#8ab9ee"/>
<circle cx="489.6" cy="115.1" r="0.8" fill="#8ab9ee"/>
<circle cx="469.8" cy="88.9" r="0.8" fill="#8ab9ee"/>
<circle cx="444.2" cy="110.5" r="0.8" fill="#8ab9ee"/>
<circle cx="468.2" cy="122.6" r="0.8" fill="#8ab9ee"/>
<circle cx="481.9" cy="84.7" r="0.8" fill="#8ab9ee"/>
<circle cx="459.8" cy="88.3" r="0.8" fill="#8ab9ee"/>
<circle cx="498.9" cy="108.7" r="0.8" fill="#8ab9ee"/>
<circle cx="477.4" cy="89.5" r="0.8" fill="#8ab9ee"/>
<line x1="512.2" y1="76.7" x2="562.0" y2="76.7" stroke="#4e9c92" stroke-width="1.8" />
<line x1="581.0" y1="77.2" x2="615.5" y2="77.2" stroke="#7a3a4a" stroke-width="1.8" />
<ellipse cx="565.0" cy="74.0" rx="3.6" ry="3.2" fill="#4aa89c" stroke="none" stroke-width="1.0" opacity="1" transform="rotate(0.0 565.0 74.0)"/>
<ellipse cx="571.5" cy="72.5" rx="4.6" ry="3.3" fill="#b05a72" stroke="none" stroke-width="1.0" opacity="1" transform="rotate(30.0 571.5 72.5)"/>
<ellipse cx="577.5" cy="76.0" rx="4.6" ry="3.3" fill="#a04a66" stroke="none" stroke-width="1.0" opacity="1" transform="rotate(30.0 577.5 76.0)"/>
<line x1="521.0" y1="124.0" x2="555.0" y2="124.0" stroke="#2c2f5a" stroke-width="1.8" />
<line x1="571.0" y1="124.2" x2="609.4" y2="124.2" stroke="#c8607a" stroke-width="1.8" />
<ellipse cx="557.5" cy="125.0" rx="4.3" ry="3.2" fill="#7a55a8" stroke="none" stroke-width="1.0" opacity="1" transform="rotate(30.0 557.5 125.0)"/>
<ellipse cx="563.5" cy="129.0" rx="4.3" ry="3.2" fill="#8a50a8" stroke="none" stroke-width="1.0" opacity="1" transform="rotate(30.0 563.5 129.0)"/>
<ellipse cx="569.0" cy="126.5" rx="3.0" ry="3.6" fill="#c04a78" stroke="none" stroke-width="1.0" opacity="1" transform="rotate(0.0 569.0 126.5)"/>
<line x1="515.6" y1="104.4" x2="537.0" y2="104.4" stroke="#25304a" stroke-width="1.5" />
<line x1="589.0" y1="104.4" x2="615.0" y2="104.4" stroke="#25304a" stroke-width="1.5" />
<line x1="589.0" y1="111.6" x2="615.0" y2="111.6" stroke="#25304a" stroke-width="1.5" />
<line x1="593.3" y1="104.4" x2="593.3" y2="111.6" stroke="#25304a" stroke-width="1.0" />
<rect x="536.0" y="101.0" width="23.4" height="5.8" rx="2.0" fill="#3d7399" stroke="#2f5f80" stroke-width="0.6" opacity="1"/>
<rect x="536.0" y="109.0" width="8.0" height="6.0" rx="2.0" fill="#3d7399" stroke="#2f5f80" stroke-width="0.6" opacity="1"/>
<rect x="545.5" y="109.0" width="14.0" height="6.0" rx="2.0" fill="#3d7399" stroke="#2f5f80" stroke-width="0.6" opacity="1"/>
<rect x="561.0" y="101.0" width="14.0" height="5.8" rx="2.0" fill="#4aa89c" stroke="#3a8a80" stroke-width="0.6" opacity="1"/>
<rect x="576.0" y="101.0" width="14.0" height="5.8" rx="2.0" fill="#4aa89c" stroke="#3a8a80" stroke-width="0.6" opacity="1"/>
<rect x="561.0" y="109.0" width="14.0" height="6.0" rx="2.0" fill="#4aa89c" stroke="#3a8a80" stroke-width="0.6" opacity="1"/>
<rect x="576.0" y="109.0" width="14.0" height="6.0" rx="2.0" fill="#4aa89c" stroke="#3a8a80" stroke-width="0.6" opacity="1"/>
<circle cx="556.7" cy="107.8" r="3.2" fill="#c84a4a" stroke="#ffffff" stroke-width="0.8" opacity="1"/>
<text x="444.4" y="91.3" font-size="13.0" fill="#1a2a3a" color="#1a2a3a" stroke-width="0.12" text-anchor="start" textLength="64.0" lengthAdjust="spacingAndGlyphs">HK2,LDHA,</text>
<text x="433.6" y="114.5" font-size="13.0" fill="#1a2a3a" color="#1a2a3a" stroke-width="0.12" text-anchor="start" textLength="78.0" lengthAdjust="spacingAndGlyphs">STAT5,HIF1α</text>
<text x="513.0" y="117.4" font-size="9.5" fill="#1a2a3a" color="#1a2a3a" stroke-width="0.12" text-anchor="start" textLength="6.3" lengthAdjust="spacingAndGlyphs">hi</text>
<text x="445.9" y="139.7" font-size="13.5" fill="#111" color="#111" stroke-width="0.12" text-anchor="start" textLength="49.0" lengthAdjust="spacingAndGlyphs">Lactate</text>
<path d="M501.65,130.39 L504.40,133.81 L503.08,133.81 L503.08,139.89 L500.22,139.89 L500.22,133.81 L498.90,133.81 Z" fill="#111"/>
<text x="503.3" y="67.0" font-size="14.5" fill="#5aaa9c" color="#5aaa9c" stroke-width="0.12" text-anchor="start" textLength="61.0" lengthAdjust="spacingAndGlyphs">NECTIN2</text>
<text x="579.0" y="67.0" font-size="14.5" fill="#9a6670" color="#9a6670" stroke-width="0.12" text-anchor="start" textLength="34.0" lengthAdjust="spacingAndGlyphs">TIM3</text>
<text x="529.4" y="97.9" font-size="14.0" fill="#3c5a6a" color="#3c5a6a" stroke-width="0.12" text-anchor="start" textLength="39.5" lengthAdjust="spacingAndGlyphs">MHC I</text>
<text x="576.0" y="97.9" font-size="14.0" fill="#5a9e98" color="#5a9e98" stroke-width="0.12" text-anchor="start" textLength="26.0" lengthAdjust="spacingAndGlyphs">TCR</text>
<text x="524.0" y="144.7" font-size="14.5" fill="#8a6a8a" color="#8a6a8a" stroke-width="0.12" text-anchor="start" textLength="37.7" lengthAdjust="spacingAndGlyphs">PD-L1</text>
<text x="577.8" y="144.7" font-size="14.5" fill="#c0607a" color="#c0607a" stroke-width="0.12" text-anchor="start" textLength="25.5" lengthAdjust="spacingAndGlyphs">PD1</text>
<ellipse cx="652.5" cy="106.0" rx="45.5" ry="42.8" fill="#aad7b0" stroke="#6e9e76" stroke-width="1.3" opacity="1" transform="rotate(0.0 652.5 106.0)"/>
<ellipse cx="657.8" cy="105.3" rx="27.5" ry="25.8" fill="#7fbd8c" stroke="#6aa078" stroke-width="0.8" opacity="1" transform="rotate(0.0 657.8 105.3)"/>
<text x="657.5" y="102.4" font-size="15.5" fill="#111" color="#111" stroke-width="0.00" font-weight="bold" text-anchor="middle" textLength="36.2" lengthAdjust="spacingAndGlyphs">CD8+</text>
<text x="658.2" y="117.7" font-size="15.5" fill="#111" color="#111" stroke-width="0.00" font-weight="bold" text-anchor="middle" textLength="34.8" lengthAdjust="spacingAndGlyphs">T cell</text>
<rect x="663.0" y="64.6" width="26.0" height="6.4" rx="3.0" fill="#c2ec86" stroke="#98c860" stroke-width="0.8" opacity="1" transform="rotate(-33.0 676.0 67.8)"/>
<rect x="666.6" y="69.2" width="26.0" height="6.4" rx="3.0" fill="#c2ec86" stroke="#98c860" stroke-width="0.8" opacity="1" transform="rotate(-33.0 679.6 72.4)"/>
<text x="690.0" y="79.3" font-size="13.5" fill="#7d8580" color="#7d8580" stroke-width="0.12" text-anchor="start" textLength="41.0" lengthAdjust="spacingAndGlyphs">MCT11</text>
<ellipse cx="645.0" cy="220.5" rx="45.5" ry="43.0" fill="#dff3d6" stroke="#86b97a" stroke-width="1.3" opacity="1" transform="rotate(0.0 645.0 220.5)"/>
<circle cx="650.5" cy="219.0" r="27.0" fill="#bfe2ae" stroke="none" stroke-width="1.2" opacity="1"/>
<text x="630.6" y="219.8" font-size="15.0" fill="#111" color="#111" stroke-width="0.00" font-weight="bold" text-anchor="start" textLength="27.7" lengthAdjust="spacingAndGlyphs">Treg</text>
<text x="633.0" y="232.7" font-size="15.0" fill="#111" color="#111" stroke-width="0.00" font-weight="bold" text-anchor="start" textLength="22.0" lengthAdjust="spacingAndGlyphs">cell</text>
<line x1="585.0" y1="183.0" x2="606.0" y2="196.0" stroke="#9a4a64" stroke-width="1.8" />
<circle cx="585.0" cy="183.0" r="2.8" fill="#b85a78" stroke="none" stroke-width="1.2" opacity="1"/>
<line x1="578.7" y1="217.0" x2="600.0" y2="217.0" stroke="#8a4a5a" stroke-width="1.8" />
<ellipse cx="569.0" cy="210.0" rx="3.5" ry="3.0" fill="#4e9c92" stroke="none" stroke-width="1.0" opacity="1" transform="rotate(0.0 569.0 210.0)"/>
<ellipse cx="573.0" cy="213.0" rx="4.0" ry="3.0" fill="#a0506a" stroke="none" stroke-width="1.0" opacity="1" transform="rotate(30.0 573.0 213.0)"/>
<ellipse cx="578.0" cy="216.0" rx="4.0" ry="3.0" fill="#a0506a" stroke="none" stroke-width="1.0" opacity="1" transform="rotate(30.0 578.0 216.0)"/>
<text x="603.0" y="182.6" font-size="13.0" fill="#b0607e" color="#b0607e" stroke-width="0.12" text-anchor="start" textLength="23.0" lengthAdjust="spacingAndGlyphs">PD1</text>
<text x="553.7" y="236.8" font-size="13.5" fill="#8a6a72" color="#8a6a72" stroke-width="0.12" text-anchor="start" textLength="40.8" lengthAdjust="spacingAndGlyphs">CTLA4</text>
<text x="460.0" y="231.8" font-size="13.5" fill="#5e9a8e" color="#5e9a8e" stroke-width="0.12" text-anchor="start" textLength="35.0" lengthAdjust="spacingAndGlyphs">IL-10,</text>
<text x="458.7" y="245.3" font-size="13.5" fill="#5e9a8e" color="#5e9a8e" stroke-width="0.12" text-anchor="start" textLength="36.3" lengthAdjust="spacingAndGlyphs">TGF-β</text>
<defs><linearGradient id="rg1" x1="1" y1="0" x2="0" y2="0"><stop offset="0" stop-color="#b85a5a" stop-opacity="0.15"/><stop offset="0.5" stop-color="#b0484c"/><stop offset="1" stop-color="#a8383c"/></linearGradient></defs>
<path d="M560,204.5 C535,203 510,195 495,178" stroke="url(#rg1)" stroke-width="2.4" fill="none" />
<line x1="489.5" y1="182.5" x2="500.5" y2="173.0" stroke="#a8383c" stroke-width="2.4" />
<circle cx="514.0" cy="161.8" r="2.1" fill="#3f7a6e" stroke="none" stroke-width="1.2" opacity="1"/>
<circle cx="507.0" cy="173.0" r="2.1" fill="#3f7a6e" stroke="none" stroke-width="1.2" opacity="1"/>
<circle cx="519.5" cy="178.0" r="2.1" fill="#3f7a6e" stroke="none" stroke-width="1.2" opacity="1"/>
<circle cx="497.5" cy="189.0" r="2.1" fill="#3f7a6e" stroke="none" stroke-width="1.2" opacity="1"/>
<circle cx="511.0" cy="197.0" r="2.1" fill="#3f7a6e" stroke="none" stroke-width="1.2" opacity="1"/>
<circle cx="531.0" cy="190.8" r="2.1" fill="#3f7a6e" stroke="none" stroke-width="1.2" opacity="1"/>
<circle cx="551.0" cy="195.8" r="2.1" fill="#3f7a6e" stroke="none" stroke-width="1.2" opacity="1"/>
<circle cx="567.0" cy="196.5" r="2.1" fill="#3f7a6e" stroke="none" stroke-width="1.2" opacity="1"/>
<circle cx="497.5" cy="203.0" r="2.1" fill="#3f7a6e" stroke="none" stroke-width="1.2" opacity="1"/>
<circle cx="537.0" cy="207.5" r="2.1" fill="#3f7a6e" stroke="none" stroke-width="1.2" opacity="1"/>
<circle cx="518.8" cy="213.0" r="2.1" fill="#3f7a6e" stroke="none" stroke-width="1.2" opacity="1"/>
<circle cx="533.5" cy="216.8" r="2.1" fill="#3f7a6e" stroke="none" stroke-width="1.2" opacity="1"/>
<circle cx="551.5" cy="213.8" r="2.1" fill="#3f7a6e" stroke="none" stroke-width="1.2" opacity="1"/>
<circle cx="567.5" cy="209.5" r="2.1" fill="#3f7a6e" stroke="none" stroke-width="1.2" opacity="1"/>
<circle cx="533.5" cy="176.5" r="2.1" fill="#a8c4bc" stroke="none" stroke-width="1.2" opacity="1"/>
<circle cx="553.5" cy="181.0" r="2.1" fill="#a8c4bc" stroke="none" stroke-width="1.2" opacity="1"/>
<circle cx="483.0" cy="194.5" r="2.1" fill="#a8c4bc" stroke="none" stroke-width="1.2" opacity="1"/>
<circle cx="542.0" cy="188.0" r="2.1" fill="#a8c4bc" stroke="none" stroke-width="1.2" opacity="1"/>
<circle cx="521.0" cy="200.8" r="2.1" fill="#a8c4bc" stroke="none" stroke-width="1.2" opacity="1"/>
<circle cx="432.2" cy="284.3" r="2.0" fill="#1e1e1e" stroke="none" stroke-width="1.2" opacity="1"/>
<text x="447.5" y="286.3" font-size="16.1" fill="#1e1e1e" color="#1e1e1e" stroke-width="0.32" text-anchor="start">Enhanced histone lactylation</text>
<circle cx="432.2" cy="303.4" r="2.0" fill="#1e1e1e" stroke="none" stroke-width="1.2" opacity="1"/>
<text x="447.5" y="305.4" font-size="16.1" fill="#1e1e1e" color="#1e1e1e" stroke-width="0.32" text-anchor="start">Activated NF-κB-mediated PD-L1</text>
<circle cx="432.2" cy="322.1" r="2.0" fill="#1e1e1e" stroke="none" stroke-width="1.2" opacity="1"/>
<text x="447.5" y="324.1" font-size="16.1" fill="#1e1e1e" color="#1e1e1e" stroke-width="0.32" text-anchor="start">Resistance to ICB therapy</text>
<path d="M530.5,401.1C530.6,401.7 530.6,402.3 530.6,402.9C530.6,403.5 530.6,404.1 530.6,404.7C530.6,405.3 530.6,405.9 530.5,406.5C530.5,407.1 530.4,407.7 530.3,408.3C530.2,408.9 530.1,409.5 530.0,410.1C529.9,410.6 529.8,411.2 529.6,411.8C529.5,412.4 529.4,413.0 529.2,413.6C529.0,414.1 528.9,414.7 528.7,415.3C528.5,415.9 528.2,416.4 528.2,417.0C528.1,417.6 528.0,418.2 528.5,419.1C528.9,419.9 530.5,421.3 530.7,422.1C531.0,423.0 530.7,423.6 529.9,424.0C529.2,424.3 527.1,423.9 526.1,424.1C525.2,424.3 524.8,424.7 524.3,425.2C523.8,425.6 523.6,426.2 523.3,426.7C522.9,427.2 522.6,427.7 522.3,428.2C521.9,428.7 521.5,429.1 521.2,429.7C521.0,430.3 520.8,430.8 520.8,431.7C520.9,432.6 521.8,434.2 521.6,435.0C521.5,435.7 520.8,436.0 520.0,436.1C519.2,436.2 517.6,435.5 516.8,435.5C515.9,435.5 515.4,435.9 514.9,436.2C514.4,436.5 513.9,436.9 513.5,437.4C513.1,437.8 512.7,438.2 512.5,439.1C512.3,439.9 512.5,441.3 512.5,442.3C512.4,443.4 512.6,445.1 512.1,445.5C511.6,446.0 510.4,445.4 509.4,445.0C508.4,444.5 507.1,443.3 506.1,442.9C505.2,442.5 504.5,442.3 503.8,442.4C503.2,442.5 502.7,442.7 502.4,443.6C502.1,444.5 502.5,447.3 502.1,448.0C501.7,448.7 500.8,448.3 499.9,447.6C499.0,447.0 497.7,444.9 496.9,444.2C496.1,443.6 495.6,443.9 495.0,443.8C494.4,443.8 493.8,443.9 493.2,443.9C492.6,444.0 492.1,444.0 491.5,444.0C490.9,444.0 490.3,444.0 489.7,444.0C489.2,444.0 488.6,443.9 488.0,443.9C487.4,443.9 486.9,443.9 486.3,443.8C485.7,443.8 485.2,443.7 484.6,443.7C484.0,443.7 483.5,443.5 482.9,443.6C482.3,443.7 481.8,443.8 481.2,444.2C480.6,444.6 479.8,445.8 479.2,446.0C478.6,446.3 478.0,446.1 477.5,445.6C477.0,445.2 476.6,443.9 476.1,443.3C475.6,442.8 475.1,442.6 474.6,442.4C474.1,442.1 473.5,442.1 473.0,442.0C472.4,441.9 471.8,441.8 471.3,441.7C470.7,441.7 470.1,441.6 469.5,441.6C468.9,441.7 468.2,441.8 467.5,441.9C466.8,442.0 466.1,442.3 465.4,442.3C464.7,442.3 464.0,442.3 463.5,442.1C462.9,441.9 462.5,441.4 462.1,440.9C461.6,440.5 461.3,439.8 461.0,439.3C460.6,438.8 460.2,438.3 459.8,437.8C459.4,437.4 458.9,437.0 458.4,436.8C457.9,436.5 457.3,436.3 456.6,436.2C455.9,436.2 454.9,436.4 454.1,436.5C453.2,436.5 452.1,436.8 451.5,436.6C450.9,436.3 450.5,435.7 450.4,435.0C450.2,434.3 450.5,433.1 450.5,432.3C450.5,431.4 450.5,430.7 450.4,430.0C450.2,429.4 449.9,428.9 449.6,428.4C449.3,427.9 449.0,427.4 448.7,426.9C448.4,426.4 448.1,425.9 447.8,425.4C447.5,424.9 447.2,424.4 447.0,423.9C446.7,423.4 446.5,422.9 446.2,422.4C446.0,421.9 445.8,421.3 445.5,420.8C445.3,420.3 445.1,419.7 444.9,419.2C444.7,418.7 444.5,418.1 444.4,417.6C444.2,417.1 444.0,416.5 443.8,416.0C443.7,415.5 443.5,414.9 443.2,414.4C443.0,413.9 442.7,413.4 442.2,412.9C441.7,412.5 441.0,412.1 440.1,411.7C439.2,411.3 437.8,411.0 436.7,410.6C435.6,410.1 434.1,409.7 433.5,409.1C432.9,408.6 432.6,407.9 432.9,407.2C433.2,406.5 434.4,405.7 435.3,405.0C436.2,404.3 437.6,403.6 438.4,402.9C439.2,402.3 439.8,401.7 440.1,401.1C440.4,400.5 440.5,400.0 440.3,399.4C440.1,398.8 439.6,398.2 439.0,397.6C438.3,396.9 437.2,396.2 436.5,395.5C435.9,394.8 435.1,394.0 435.0,393.4C434.9,392.7 435.6,392.1 436.2,391.6C436.8,391.1 438.0,390.7 438.8,390.3C439.5,389.8 440.2,389.4 440.6,388.9C441.0,388.4 441.2,387.8 441.4,387.3C441.7,386.7 441.8,386.1 441.9,385.6C442.1,385.0 442.2,384.4 442.4,383.9C442.6,383.3 442.8,382.7 443.0,382.2C443.2,381.6 443.4,381.0 443.6,380.5C443.9,379.9 444.1,379.4 444.4,378.9C444.7,378.3 444.9,377.8 445.2,377.3C445.5,376.8 445.8,376.2 446.2,375.7C446.5,375.2 446.8,374.7 447.2,374.2C447.5,373.7 447.9,373.3 448.1,372.6C448.2,372.0 448.1,371.1 447.9,370.1C447.7,369.1 446.6,367.3 446.8,366.6C446.9,365.8 448.0,365.8 448.9,365.8C449.9,365.9 451.6,366.7 452.5,366.8C453.4,366.9 454.0,366.6 454.5,366.3C455.1,366.1 455.5,365.6 456.0,365.3C456.5,364.9 457.0,364.5 457.5,364.2C458.0,363.9 458.5,363.5 459.0,363.2C459.5,362.9 460.0,362.6 460.5,362.2C461.0,361.9 461.5,361.7 461.9,361.0C462.2,360.3 462.3,359.2 462.5,358.2C462.7,357.3 462.7,355.7 463.3,355.4C463.9,355.1 465.1,356.2 465.9,356.6C466.8,357.0 467.8,357.8 468.4,357.7C469.0,357.5 469.2,356.2 469.6,355.6C470.1,355.0 470.5,354.1 471.2,354.2C471.9,354.2 472.9,355.6 473.6,355.9C474.4,356.3 475.0,356.3 475.6,356.3C476.2,356.3 476.8,356.1 477.4,356.0C478.0,355.9 478.6,355.9 479.2,355.8C479.8,355.7 480.4,355.7 481.0,355.7C481.6,355.7 482.2,355.7 482.8,355.7C483.4,355.6 484.0,355.7 484.6,355.6C485.2,355.4 485.8,355.2 486.5,354.7C487.1,354.2 487.8,353.0 488.5,352.5C489.2,352.1 489.9,351.6 490.5,352.0C491.1,352.4 491.6,353.8 492.0,354.7C492.5,355.6 493.0,356.6 493.5,357.2C493.9,357.8 494.5,358.0 495.0,358.3C495.5,358.7 496.1,358.9 496.6,359.1C497.1,359.4 497.6,359.7 498.1,360.0C498.6,360.2 499.2,360.5 499.6,360.8C500.1,361.2 500.6,361.5 501.1,361.8C501.6,362.1 502.0,362.4 502.5,362.8C503.0,363.1 503.4,363.4 503.9,363.7C504.4,364.0 504.8,364.4 505.3,364.5C505.9,364.7 506.5,364.8 507.2,364.7C507.9,364.7 508.7,364.4 509.6,364.2C510.4,364.0 511.5,363.5 512.2,363.6C512.9,363.6 513.6,363.8 514.0,364.3C514.3,364.9 514.3,365.9 514.3,366.8C514.3,367.7 514.0,368.8 514.0,369.7C514.0,370.6 514.0,371.3 514.1,372.0C514.2,372.6 514.5,373.1 514.8,373.5C515.1,374.0 515.5,374.3 515.9,374.7C516.2,375.1 516.6,375.5 517.0,375.9C517.4,376.2 517.8,376.6 518.4,376.9C518.9,377.2 519.5,377.4 520.4,377.5C521.2,377.6 522.5,377.5 523.6,377.5C524.8,377.5 526.5,377.2 527.4,377.4C528.3,377.7 528.9,378.1 528.9,378.8C529.0,379.5 528.1,380.7 527.6,381.6C527.1,382.4 526.3,383.4 526.0,384.2C525.7,384.9 525.7,385.5 525.8,386.1C525.9,386.7 526.2,387.2 526.5,387.7C526.7,388.2 527.0,388.7 527.2,389.2C527.5,389.8 527.7,390.3 528.0,390.8C528.4,391.3 528.8,391.8 529.4,392.3C530.1,392.8 531.5,393.2 531.9,393.7C532.3,394.3 532.0,395.0 531.8,395.6C531.5,396.3 530.7,396.9 530.4,397.6C530.2,398.2 530.4,398.8 530.4,399.4C530.4,399.9 530.5,400.5 530.5,401.1Z" fill="#b0d5f8" stroke="#7890b4" stroke-width="1.3" stroke-linejoin="round" opacity="1"/>
<path d="M497.6,405.3C497.6,406.2 497.3,407.0 497.1,407.9C496.9,408.7 496.8,409.6 496.4,410.4C496.1,411.1 495.3,411.8 494.7,412.5C494.1,413.1 493.5,413.7 493.0,414.4C492.4,415.0 492.0,415.7 491.5,416.3C490.9,416.9 490.3,417.4 489.7,417.9C489.0,418.5 488.4,419.0 487.8,419.5C487.1,420.0 486.5,420.6 485.8,421.0C485.1,421.4 484.3,421.7 483.5,422.1C482.7,422.4 482.0,422.8 481.2,423.1C480.3,423.4 479.5,423.6 478.6,423.9C477.8,424.1 476.9,424.5 476.0,424.5C475.1,424.5 474.2,424.1 473.4,423.9C472.5,423.7 471.6,423.5 470.8,423.2C470.0,422.9 469.2,422.5 468.5,422.1C467.7,421.7 467.0,421.3 466.3,420.8C465.6,420.4 465.0,419.9 464.3,419.4C463.7,418.9 463.0,418.5 462.3,417.9C461.7,417.4 461.2,416.8 460.6,416.2C460.1,415.6 459.5,415.0 458.9,414.4C458.4,413.8 457.7,413.2 457.3,412.5C456.9,411.8 456.8,410.9 456.5,410.1C456.3,409.3 455.8,408.6 455.6,407.8C455.4,407.0 455.5,406.1 455.5,405.3C455.6,404.5 455.8,403.7 456.0,402.9C456.2,402.1 456.4,401.3 456.7,400.5C457.0,399.8 457.3,399.0 457.7,398.3C458.1,397.6 458.6,396.9 459.0,396.2C459.5,395.6 460.1,395.0 460.6,394.3C461.1,393.7 461.5,393.0 462.0,392.4C462.6,391.8 463.2,391.2 463.8,390.6C464.4,390.0 465.0,389.4 465.7,388.8C466.4,388.2 467.1,387.5 467.9,387.1C468.7,386.7 469.6,386.5 470.5,386.4C471.4,386.2 472.3,386.1 473.3,386.1C474.2,386.0 475.1,386.0 476.0,386.1C476.9,386.1 477.8,386.3 478.7,386.6C479.5,386.9 480.3,387.5 481.0,387.9C481.8,388.3 482.6,388.7 483.2,389.1C483.9,389.6 484.5,390.3 485.1,390.8C485.7,391.3 486.2,391.7 486.9,392.2C487.6,392.6 488.3,392.8 489.0,393.3C489.6,393.7 490.1,394.4 490.7,394.9C491.3,395.4 492.1,395.8 492.8,396.3C493.5,396.9 494.1,397.5 494.7,398.1C495.3,398.8 495.7,399.5 496.1,400.3C496.5,401.1 496.8,401.9 497.1,402.7C497.3,403.6 497.6,404.4 497.6,405.3Z" fill="#8cbcf0" stroke="none" stroke-width="0.0" opacity="1"/>
<circle cx="454.0" cy="386.8" r="0.8" fill="#8ab9ee"/>
<circle cx="489.5" cy="380.4" r="0.8" fill="#8ab9ee"/>
<circle cx="460.7" cy="371.0" r="0.8" fill="#8ab9ee"/>
<circle cx="496.0" cy="389.8" r="0.8" fill="#8ab9ee"/>
<circle cx="463.9" cy="375.5" r="0.8" fill="#8ab9ee"/>
<circle cx="444.7" cy="398.8" r="0.8" fill="#8ab9ee"/>
<circle cx="455.9" cy="395.0" r="0.8" fill="#8ab9ee"/>
<circle cx="509.0" cy="389.0" r="0.8" fill="#8ab9ee"/>
<circle cx="474.1" cy="420.2" r="0.8" fill="#8ab9ee"/>
<circle cx="468.9" cy="399.8" r="0.8" fill="#8ab9ee"/>
<circle cx="456.0" cy="379.5" r="0.8" fill="#8ab9ee"/>
<circle cx="450.5" cy="414.8" r="0.8" fill="#8ab9ee"/>
<circle cx="506.3" cy="387.1" r="0.8" fill="#8ab9ee"/>
<circle cx="474.6" cy="385.7" r="0.8" fill="#8ab9ee"/>
<path d="M446,414 q1.4,-2 2.8,0 q1.4,2 2.8,0 q1.4,-2 2.8,0 q1.4,2 2.8,0 q1.4,-2 2.8,0 q1.4,2 2.8,0 q1.4,-2 2.8,0 q1.4,2 2.8,0 q1.4,-2 2.8,0 q1.4,2 2.8,0 q1.4,-2 2.8,0 q1.4,2 2.8,0 q1.4,-2 2.8,0 q1.4,2 2.8,0 q1.4,-2 2.8,0 q1.4,2 2.8,0" stroke="#4a6a9a" stroke-width="0.9" fill="none" />
<rect x="490.7" y="411.2" width="19.0" height="4.3" rx="0.0" fill="#d86070" stroke="#b04a5a" stroke-width="0.6" opacity="1"/>
<path d="M492,413.3 l2,0 m1,0 l2,0 m1,0 l2,0 m1,0 l2,0 m1,0 l2,0 m1,0 l2,0" stroke="#f4c8cc" stroke-width="1.0" fill="none" />
<text x="449.9" y="380.4" font-size="12.5" fill="#1a2a3a" color="#1a2a3a" stroke-width="0.12" text-anchor="start" textLength="64.0" lengthAdjust="spacingAndGlyphs">Methionine</text>
<text x="468.3" y="404.2" font-size="12.5" fill="#1a2a3a" color="#1a2a3a" stroke-width="0.12" text-anchor="start" textLength="26.7" lengthAdjust="spacingAndGlyphs">SAM</text>
<text x="470.3" y="428.5" font-size="12.0" fill="#1a2a3a" color="#1a2a3a" stroke-width="0.12" text-anchor="start" textLength="26.2" lengthAdjust="spacingAndGlyphs">m6A</text>
<line x1="516.2" y1="365.5" x2="566.0" y2="365.5" stroke="#4e9c92" stroke-width="1.8" />
<line x1="585.0" y1="366.0" x2="619.5" y2="366.0" stroke="#7a3a4a" stroke-width="1.8" />
<ellipse cx="569.0" cy="362.8" rx="3.6" ry="3.2" fill="#4aa89c" stroke="none" stroke-width="1.0" opacity="1" transform="rotate(0.0 569.0 362.8)"/>
<ellipse cx="575.5" cy="361.3" rx="4.6" ry="3.3" fill="#b05a72" stroke="none" stroke-width="1.0" opacity="1" transform="rotate(30.0 575.5 361.3)"/>
<ellipse cx="581.5" cy="364.8" rx="4.6" ry="3.3" fill="#a04a66" stroke="none" stroke-width="1.0" opacity="1" transform="rotate(30.0 581.5 364.8)"/>
<line x1="525.0" y1="413.3" x2="559.0" y2="413.3" stroke="#2c2f5a" stroke-width="1.8" />
<line x1="575.0" y1="413.5" x2="613.4" y2="413.5" stroke="#c8607a" stroke-width="1.8" />
<ellipse cx="561.5" cy="414.3" rx="4.3" ry="3.2" fill="#7a55a8" stroke="none" stroke-width="1.0" opacity="1" transform="rotate(30.0 561.5 414.3)"/>
<ellipse cx="567.5" cy="418.3" rx="4.3" ry="3.2" fill="#8a50a8" stroke="none" stroke-width="1.0" opacity="1" transform="rotate(30.0 567.5 418.3)"/>
<ellipse cx="573.0" cy="415.8" rx="3.0" ry="3.6" fill="#c04a78" stroke="none" stroke-width="1.0" opacity="1" transform="rotate(0.0 573.0 415.8)"/>
<line x1="521.6" y1="393.2" x2="543.0" y2="393.2" stroke="#25304a" stroke-width="1.5" />
<line x1="595.0" y1="393.2" x2="621.0" y2="393.2" stroke="#25304a" stroke-width="1.5" />
<line x1="595.0" y1="400.4" x2="621.0" y2="400.4" stroke="#25304a" stroke-width="1.5" />
<line x1="599.3" y1="393.2" x2="599.3" y2="400.4" stroke="#25304a" stroke-width="1.0" />
<rect x="542.0" y="389.8" width="23.4" height="5.8" rx="2.0" fill="#3d7399" stroke="#2f5f80" stroke-width="0.6" opacity="1"/>
<rect x="542.0" y="397.8" width="8.0" height="6.0" rx="2.0" fill="#3d7399" stroke="#2f5f80" stroke-width="0.6" opacity="1"/>
<rect x="551.5" y="397.8" width="14.0" height="6.0" rx="2.0" fill="#3d7399" stroke="#2f5f80" stroke-width="0.6" opacity="1"/>
<rect x="567.0" y="389.8" width="14.0" height="5.8" rx="2.0" fill="#4aa89c" stroke="#3a8a80" stroke-width="0.6" opacity="1"/>
<rect x="582.0" y="389.8" width="14.0" height="5.8" rx="2.0" fill="#4aa89c" stroke="#3a8a80" stroke-width="0.6" opacity="1"/>
<rect x="567.0" y="397.8" width="14.0" height="6.0" rx="2.0" fill="#4aa89c" stroke="#3a8a80" stroke-width="0.6" opacity="1"/>
<rect x="582.0" y="397.8" width="14.0" height="6.0" rx="2.0" fill="#4aa89c" stroke="#3a8a80" stroke-width="0.6" opacity="1"/>
<circle cx="562.7" cy="396.6" r="3.2" fill="#c84a4a" stroke="#ffffff" stroke-width="0.8" opacity="1"/>
<text x="520.0" y="356.0" font-size="14.5" fill="#6ab4a4" color="#6ab4a4" stroke-width="0.12" text-anchor="start" textLength="39.0" lengthAdjust="spacingAndGlyphs">VISTA</text>
<text x="577.0" y="356.0" font-size="14.5" fill="#a06a7a" color="#a06a7a" stroke-width="0.12" text-anchor="start" textLength="46.0" lengthAdjust="spacingAndGlyphs">PSGL-1</text>
<text x="535.0" y="386.7" font-size="14.5" fill="#3f5f7a" color="#3f5f7a" stroke-width="0.12" text-anchor="start" textLength="39.7" lengthAdjust="spacingAndGlyphs">MHC I</text>
<text x="580.5" y="386.7" font-size="14.5" fill="#5aaa9c" color="#5aaa9c" stroke-width="0.12" text-anchor="start" textLength="26.2" lengthAdjust="spacingAndGlyphs">TCR</text>
<text x="529.7" y="432.5" font-size="14.5" fill="#8a6a8a" color="#8a6a8a" stroke-width="0.12" text-anchor="start" textLength="36.7" lengthAdjust="spacingAndGlyphs">PD-L1</text>
<text x="581.7" y="432.5" font-size="14.5" fill="#c0607a" color="#c0607a" stroke-width="0.12" text-anchor="start" textLength="25.0" lengthAdjust="spacingAndGlyphs">PD1</text>
<ellipse cx="655.7" cy="396.8" rx="45.0" ry="42.3" fill="#aad7b0" stroke="#6e9e76" stroke-width="1.3" opacity="1" transform="rotate(0.0 655.7 396.8)"/>
<ellipse cx="661.0" cy="396.4" rx="28.0" ry="26.3" fill="#7fbd8c" stroke="#6aa078" stroke-width="0.8" opacity="1" transform="rotate(0.0 661.0 396.4)"/>
<text x="661.6" y="392.7" font-size="15.5" fill="#111" color="#111" stroke-width="0.00" font-weight="bold" text-anchor="middle" textLength="36.0" lengthAdjust="spacingAndGlyphs">CD8+</text>
<text x="661.7" y="408.2" font-size="15.5" fill="#111" color="#111" stroke-width="0.00" font-weight="bold" text-anchor="middle" textLength="34.6" lengthAdjust="spacingAndGlyphs">T cell</text>
<circle cx="432.2" cy="473.7" r="2.0" fill="#1e1e1e" stroke="none" stroke-width="1.2" opacity="1"/>
<text x="449.5" y="475.7" font-size="16.1" fill="#1e1e1e" color="#1e1e1e" stroke-width="0.32" text-anchor="start">Increased methyladenosine (m6A)</text>
<text x="449.5" y="494.7" font-size="16.1" fill="#1e1e1e" color="#1e1e1e" stroke-width="0.32" text-anchor="start">methylation</text>
<circle cx="432.2" cy="512.0" r="2.0" fill="#1e1e1e" stroke="none" stroke-width="1.2" opacity="1"/>
<text x="449.5" y="514.0" font-size="16.1" fill="#1e1e1e" color="#1e1e1e" stroke-width="0.32" text-anchor="start">Enhanced expression of PD-L1</text>
<text x="449.5" y="533.3" font-size="16.1" fill="#1e1e1e" color="#1e1e1e" stroke-width="0.32" text-anchor="start">and VISTA</text>
<text x="754.0" y="19.0" font-size="23.5" fill="#111" color="#111" stroke-width="0.00" font-weight="bold" text-anchor="start">c</text>
<text x="793.0" y="27.9" font-size="17.7" fill="#111" color="#111" stroke-width="0.00" font-weight="bold" text-anchor="start" textLength="148.0" lengthAdjust="spacingAndGlyphs">Oncometabolites</text>
<path d="M869.9,118.8C869.9,119.4 870.0,120.0 869.8,120.7C869.7,121.3 869.3,121.9 869.0,122.5C868.7,123.0 868.2,123.6 868.0,124.2C867.8,124.8 867.7,125.3 867.7,126.0C867.8,126.6 868.0,127.2 868.1,127.9C868.2,128.5 868.3,129.2 868.1,129.7C867.9,130.3 867.5,130.9 867.0,131.4C866.5,131.8 865.8,132.3 865.2,132.7C864.7,133.1 864.0,133.5 863.5,133.9C863.0,134.4 862.6,134.8 862.2,135.3C861.8,135.7 861.5,136.2 861.2,136.6C860.9,137.1 860.6,137.6 860.3,138.0C860.0,138.5 859.7,139.0 859.4,139.5C859.1,140.0 858.9,140.4 858.7,141.0C858.6,141.5 858.5,142.2 858.5,142.8C858.4,143.5 858.6,144.3 858.6,145.0C858.6,145.7 858.7,146.5 858.4,147.1C858.1,147.6 857.6,148.0 857.1,148.3C856.5,148.6 855.6,148.6 854.9,148.8C854.3,149.0 853.7,149.2 853.2,149.5C852.7,149.8 852.4,150.4 851.9,150.6C851.4,150.9 850.8,151.1 850.2,151.2C849.5,151.3 848.8,151.3 848.2,151.4C847.6,151.6 847.1,151.8 846.7,152.1C846.2,152.3 845.8,152.6 845.3,152.9C844.9,153.2 844.4,153.5 844.0,153.8C843.5,154.1 843.0,154.4 842.6,154.7C842.1,155.0 841.6,155.2 841.2,155.5C840.8,155.8 840.3,156.1 839.9,156.6C839.5,157.1 839.2,157.8 838.9,158.5C838.6,159.2 838.5,160.5 838.0,160.9C837.6,161.4 836.9,161.4 836.3,161.2C835.6,161.0 834.8,160.2 834.1,159.9C833.4,159.7 832.8,159.5 832.3,159.6C831.7,159.6 831.2,159.8 830.7,160.3C830.2,160.7 829.8,161.3 829.4,162.4C828.9,163.4 828.6,165.3 828.1,166.3C827.6,167.3 827.0,168.2 826.4,168.2C825.7,168.2 825.0,167.1 824.3,166.5C823.7,165.9 823.1,165.2 822.5,164.6C821.9,164.0 821.3,163.5 820.7,163.1C820.2,162.6 819.6,162.1 819.1,161.8C818.5,161.5 818.0,161.2 817.5,161.1C816.9,160.9 816.4,160.8 815.8,160.8C815.2,160.8 814.7,160.9 814.1,161.1C813.4,161.2 812.8,161.6 812.1,161.8C811.5,162.1 810.7,162.6 810.1,162.8C809.4,163.0 808.7,163.1 808.1,163.0C807.5,162.8 807.0,162.3 806.6,161.9C806.1,161.4 805.8,160.6 805.4,160.1C805.0,159.5 804.6,158.9 804.1,158.5C803.7,158.2 803.2,157.9 802.6,157.7C802.1,157.5 801.4,157.5 800.8,157.4C800.2,157.3 799.6,157.2 799.0,157.0C798.5,156.8 798.0,156.5 797.5,156.1C797.1,155.7 796.7,155.2 796.4,154.7C796.0,154.2 795.7,153.7 795.3,153.2C794.9,152.8 794.5,152.4 794.1,152.0C793.7,151.6 793.3,151.2 792.9,150.8C792.4,150.4 792.0,150.0 791.6,149.7C791.2,149.3 790.8,148.9 790.3,148.5C789.9,148.1 789.6,147.6 789.2,147.2C788.8,146.8 788.4,146.4 788.0,145.9C787.7,145.5 787.3,145.0 787.0,144.6C786.6,144.1 786.3,143.6 785.8,143.3C785.4,142.9 784.9,142.5 784.1,142.3C783.3,142.1 782.2,142.0 781.1,141.9C780.1,141.8 778.6,141.8 777.8,141.5C777.0,141.2 776.4,140.8 776.2,140.1C776.0,139.5 776.4,138.6 776.7,137.7C777.1,136.9 777.7,135.9 778.2,135.1C778.7,134.3 779.2,133.5 779.6,132.7C779.9,132.0 780.2,131.3 780.3,130.7C780.5,130.0 780.5,129.5 780.5,128.9C780.5,128.3 780.4,127.7 780.4,127.2C780.3,126.6 780.3,126.0 780.2,125.5C780.2,124.9 780.2,124.4 780.1,123.8C780.1,123.2 780.1,122.7 780.0,122.1C779.9,121.6 779.8,121.0 779.4,120.5C779.0,119.9 778.0,119.4 777.4,118.8C776.8,118.2 775.8,117.6 775.8,117.0C775.8,116.4 776.6,115.8 777.2,115.2C777.9,114.7 779.1,114.2 779.7,113.7C780.3,113.2 780.5,112.7 780.8,112.2C781.0,111.7 781.1,111.1 781.2,110.6C781.4,110.1 781.5,109.5 781.6,109.0C781.7,108.5 781.8,107.9 782.0,107.4C782.1,106.8 782.2,106.3 782.3,105.8C782.4,105.2 782.4,104.6 782.3,104.0C782.3,103.4 782.1,102.7 782.1,102.1C782.1,101.5 782.1,100.8 782.4,100.3C782.7,99.8 783.3,99.5 783.7,99.1C784.1,98.6 784.7,98.3 785.0,97.8C785.3,97.4 785.4,96.8 785.5,96.2C785.5,95.5 785.2,94.6 785.2,93.9C785.1,93.1 784.9,92.3 785.1,91.7C785.4,91.1 785.9,90.8 786.6,90.5C787.2,90.3 788.2,90.3 788.9,90.1C789.6,90.0 790.3,89.8 790.8,89.5C791.3,89.2 791.6,88.7 791.9,88.3C792.2,87.8 792.4,87.2 792.7,86.7C793.0,86.2 793.4,85.7 793.8,85.3C794.2,84.8 794.7,84.5 795.0,84.0C795.4,83.5 795.6,82.9 795.9,82.3C796.2,81.7 796.4,80.8 796.8,80.4C797.2,80.0 797.8,79.8 798.5,79.8C799.2,79.7 800.1,80.1 800.9,80.3C801.6,80.5 802.4,80.7 803.1,80.7C803.7,80.8 804.3,80.7 804.8,80.6C805.4,80.4 805.9,80.2 806.4,80.1C806.9,79.9 807.4,79.7 807.9,79.5C808.4,79.2 809.0,79.0 809.4,78.7C809.9,78.4 810.4,78.1 810.9,77.6C811.3,77.2 811.8,76.7 812.2,76.2C812.7,75.7 813.2,75.2 813.7,74.9C814.3,74.6 814.8,74.4 815.4,74.5C816.0,74.5 816.7,74.8 817.3,75.1C817.9,75.3 818.5,75.7 819.1,76.0C819.7,76.3 820.2,76.5 820.8,76.6C821.4,76.8 821.9,76.8 822.5,76.9C823.0,77.0 823.6,77.0 824.1,77.0C824.7,77.0 825.2,77.0 825.8,77.0C826.3,77.0 826.9,77.1 827.4,77.1C828.0,77.1 828.5,77.1 829.1,77.1C829.7,77.0 830.2,76.9 830.9,76.7C831.5,76.4 832.2,75.9 832.9,75.5C833.6,75.2 834.4,74.5 835.0,74.4C835.6,74.3 836.2,74.7 836.6,75.2C837.1,75.7 837.4,76.6 837.8,77.2C838.2,77.9 838.6,78.4 839.0,78.9C839.4,79.4 839.9,79.7 840.4,80.0C840.8,80.4 841.3,80.6 841.8,80.9C842.3,81.2 842.8,81.4 843.3,81.7C843.8,82.0 844.2,82.2 844.7,82.5C845.2,82.8 845.7,83.1 846.1,83.4C846.6,83.7 847.1,84.0 847.5,84.3C848.0,84.6 848.5,85.0 849.0,85.2C849.5,85.5 850.0,85.8 850.6,85.9C851.2,86.1 851.8,86.2 852.6,86.2C853.4,86.2 854.3,86.1 855.2,86.1C856.1,86.1 857.1,86.0 857.8,86.2C858.5,86.4 859.0,86.8 859.3,87.3C859.6,87.9 859.6,88.8 859.6,89.6C859.6,90.4 859.3,91.3 859.2,92.1C859.1,92.9 859.0,93.7 859.0,94.4C859.1,95.1 859.2,95.6 859.4,96.2C859.5,96.8 859.8,97.3 860.1,97.8C860.3,98.3 860.6,98.8 860.9,99.3C861.1,99.8 861.4,100.2 861.7,100.7C861.9,101.2 862.2,101.7 862.4,102.3C862.7,102.8 862.9,103.3 863.2,103.8C863.4,104.3 863.6,104.8 863.9,105.4C864.1,105.9 864.3,106.4 864.7,106.9C865.0,107.4 865.4,107.9 865.9,108.4C866.4,108.9 867.1,109.3 867.7,109.8C868.2,110.3 869.0,110.8 869.4,111.4C869.8,111.9 870.1,112.5 870.2,113.2C870.3,113.8 870.0,114.4 869.9,115.1C869.8,115.7 869.7,116.3 869.7,116.9C869.6,117.6 869.9,118.2 869.9,118.8Z" fill="#a2e1cf" stroke="#4a8070" stroke-width="1.3" stroke-linejoin="round" opacity="1"/>
<path d="M848.7,128.3C848.7,129.1 848.6,130.0 848.5,130.8C848.4,131.6 848.3,132.5 848.1,133.3C847.8,134.0 847.4,134.8 847.0,135.5C846.6,136.3 846.0,136.9 845.6,137.6C845.1,138.3 844.7,139.0 844.3,139.7C843.8,140.3 843.3,141.0 842.7,141.6C842.1,142.2 841.3,142.5 840.7,143.0C840.0,143.6 839.6,144.4 838.9,144.9C838.2,145.5 837.5,145.9 836.7,146.3C835.9,146.7 835.1,147.0 834.2,147.3C833.4,147.5 832.5,147.7 831.7,147.9C830.8,148.2 829.9,148.6 829.0,148.6C828.1,148.7 827.2,148.4 826.3,148.2C825.4,148.0 824.5,147.8 823.7,147.5C822.8,147.3 822.0,146.9 821.2,146.6C820.4,146.3 819.5,146.0 818.7,145.6C817.9,145.2 817.3,144.5 816.6,144.0C815.9,143.4 815.2,142.9 814.6,142.3C814.0,141.7 813.4,141.0 812.9,140.3C812.3,139.6 811.9,138.9 811.5,138.1C811.0,137.4 810.4,136.7 810.1,135.9C809.8,135.1 809.7,134.2 809.5,133.4C809.4,132.5 809.2,131.7 809.1,130.8C809.0,130.0 808.9,129.1 809.0,128.3C809.1,127.5 809.3,126.6 809.6,125.8C809.8,125.0 810.0,124.2 810.3,123.4C810.6,122.7 811.1,122.0 811.5,121.3C811.9,120.6 812.2,119.8 812.7,119.2C813.2,118.5 813.8,118.0 814.3,117.4C814.8,116.8 815.2,116.1 815.7,115.4C816.2,114.8 816.8,114.2 817.3,113.6C817.9,113.0 818.6,112.4 819.2,111.9C819.9,111.3 820.5,110.7 821.3,110.2C822.0,109.8 822.8,109.4 823.7,109.0C824.5,108.6 825.4,108.3 826.3,108.1C827.1,107.8 828.1,107.6 829.0,107.6C829.9,107.5 830.9,107.7 831.8,107.9C832.7,108.1 833.6,108.3 834.4,108.6C835.3,108.9 836.1,109.4 836.9,109.8C837.7,110.3 838.4,110.8 839.1,111.3C839.9,111.8 840.7,112.2 841.3,112.7C842.0,113.3 842.5,114.0 843.0,114.7C843.6,115.3 844.2,116.0 844.6,116.7C845.1,117.4 845.4,118.1 845.9,118.8C846.4,119.5 847.0,120.2 847.4,120.9C847.7,121.7 847.8,122.5 848.0,123.4C848.3,124.2 848.6,125.0 848.7,125.8C848.8,126.6 848.8,127.5 848.7,128.3Z" fill="#80ccb6" stroke="none" stroke-width="0.0" opacity="1"/>
<circle cx="852.1" cy="128.5" r="0.8" fill="#76c6b2"/>
<circle cx="837.8" cy="141.4" r="0.8" fill="#76c6b2"/>
<circle cx="806.1" cy="91.9" r="0.8" fill="#76c6b2"/>
<circle cx="796.2" cy="128.8" r="0.8" fill="#76c6b2"/>
<circle cx="846.8" cy="124.0" r="0.8" fill="#76c6b2"/>
<circle cx="798.0" cy="145.6" r="0.8" fill="#76c6b2"/>
<circle cx="790.8" cy="111.6" r="0.8" fill="#76c6b2"/>
<circle cx="805.8" cy="128.1" r="0.8" fill="#76c6b2"/>
<circle cx="841.6" cy="93.9" r="0.8" fill="#76c6b2"/>
<circle cx="811.7" cy="131.0" r="0.8" fill="#76c6b2"/>
<circle cx="795.1" cy="119.0" r="0.8" fill="#76c6b2"/>
<circle cx="825.8" cy="92.2" r="0.8" fill="#76c6b2"/>
<circle cx="793.3" cy="119.8" r="0.8" fill="#76c6b2"/>
<circle cx="813.3" cy="129.4" r="0.8" fill="#76c6b2"/>
<text x="802.0" y="104.7" font-size="13.5" fill="#1a332f" color="#1a332f" stroke-width="0.12" text-anchor="start" textLength="35.0" lengthAdjust="spacingAndGlyphs">mIDH</text>
<text x="794.3" y="144.8" font-size="13.5" fill="#1a332f" color="#1a332f" stroke-width="0.12" text-anchor="start" textLength="55.0" lengthAdjust="spacingAndGlyphs">D2HGDH</text>
<defs><linearGradient id="gD2" x1="0" y1="0" x2="1" y2="0"><stop offset="0" stop-color="#c09090" stop-opacity="0.4"/><stop offset="1" stop-color="#6e1a22"/></linearGradient><linearGradient id="gS2" x1="0" y1="0" x2="1" y2="0"><stop offset="0" stop-color="#a0a8c8" stop-opacity="0.4"/><stop offset="1" stop-color="#4a62a8"/></linearGradient><linearGradient id="gF" x1="0" y1="0" x2="1" y2="0"><stop offset="0" stop-color="#c09090" stop-opacity="0.3"/><stop offset="1" stop-color="#6e1a22"/></linearGradient><linearGradient id="gK" x1="0" y1="0" x2="1" y2="0"><stop offset="0" stop-color="#8aa8b0" stop-opacity="0.2"/><stop offset="1" stop-color="#2e5866"/></linearGradient></defs>
<path d="M858,91 C885,72 925,70 950,94" stroke="url(#gD2)" stroke-width="2.6" fill="none" />
<path d="M957,98.5 L946,96 L953,88 Z" fill="#6e1a22"/>
<path d="M860,145 C885,165 925,160 950,139" stroke="url(#gS2)" stroke-width="2.6" fill="none" />
<path d="M956.5,134.5 L953,145 L945,137 Z" fill="#4a62a8"/>
<text x="885.0" y="102.6" font-size="14.0" fill="#7a4a4e" color="#7a4a4e" stroke-width="0.12" text-anchor="start" textLength="41.0" lengthAdjust="spacingAndGlyphs">D2-HG</text>
<text x="885.5" y="143.6" font-size="14.0" fill="#6a78a8" color="#6a78a8" stroke-width="0.12" text-anchor="start" textLength="38.5" lengthAdjust="spacingAndGlyphs">S2-HG</text>
<circle cx="877.6" cy="70.0" r="2.2" fill="#6a6aa0" stroke="none" stroke-width="1.2" opacity="1"/>
<circle cx="922.0" cy="70.0" r="2.2" fill="#6a6aa0" stroke="none" stroke-width="1.2" opacity="1"/>
<circle cx="850.0" cy="89.0" r="2.2" fill="#6a6aa0" stroke="none" stroke-width="1.2" opacity="1"/>
<circle cx="895.0" cy="70.8" r="1.7" fill="#b8b8c8" stroke="none" stroke-width="1.2" opacity="1"/>
<circle cx="941.5" cy="68.6" r="1.7" fill="#b8b8c8" stroke="none" stroke-width="1.2" opacity="1"/>
<circle cx="916.0" cy="88.0" r="1.7" fill="#b8b8c8" stroke="none" stroke-width="1.2" opacity="1"/>
<circle cx="937.7" cy="78.7" r="1.7" fill="#b8b8c8" stroke="none" stroke-width="1.2" opacity="1"/>
<circle cx="928.0" cy="98.0" r="1.7" fill="#b8b8c8" stroke="none" stroke-width="1.2" opacity="1"/>
<circle cx="888.0" cy="143.0" r="1.7" fill="#b8b8c8" stroke="none" stroke-width="1.2" opacity="1"/>
<circle cx="941.5" cy="137.0" r="1.7" fill="#b8b8c8" stroke="none" stroke-width="1.2" opacity="1"/>
<circle cx="872.0" cy="140.0" r="1.7" fill="#b8b8c8" stroke="none" stroke-width="1.2" opacity="1"/>
<circle cx="895.0" cy="165.0" r="1.8" fill="#8a8a9a" stroke="none" stroke-width="1.2" opacity="1"/>
<circle cx="918.0" cy="170.0" r="1.8" fill="#8a8a9a" stroke="none" stroke-width="1.2" opacity="1"/>
<circle cx="996.4" cy="73.3" r="33.0" fill="#d8ecda" stroke="#9ac09e" stroke-width="1.2" opacity="1"/>
<ellipse cx="999.0" cy="75.7" rx="21.0" ry="20.0" fill="#a0d0aa" stroke="none" stroke-width="1.0" opacity="1" transform="rotate(0.0 999.0 75.7)"/>
<text x="978.0" y="72.7" font-size="10.5" fill="#1e3a28" color="#1e3a28" stroke-width="0.12" text-anchor="start" textLength="31.4" lengthAdjust="spacingAndGlyphs">HIF-1α</text>
<text x="972.6" y="84.3" font-size="11.5" fill="#1e3a28" color="#1e3a28" stroke-width="0.12" text-anchor="start" textLength="42.2" lengthAdjust="spacingAndGlyphs">OXPHOS</text>
<text x="971.9" y="117.7" font-size="11.2" fill="#111" color="#111" stroke-width="0.00" font-weight="bold" text-anchor="start" textLength="47.5" lengthAdjust="spacingAndGlyphs">Treg cell</text>
<ellipse cx="999.0" cy="156.5" rx="32.0" ry="30.3" fill="#b3e393" stroke="#8cc070" stroke-width="1.2" opacity="1" transform="rotate(0.0 999.0 156.5)"/>
<ellipse cx="1006.7" cy="158.5" rx="20.3" ry="19.2" fill="#9ad27e" stroke="none" stroke-width="1.0" opacity="1" transform="rotate(0.0 1006.7 158.5)"/>
<text x="963.4" y="155.4" font-size="12.2" fill="#1e2e1e" color="#1e2e1e" stroke-width="0.12" text-anchor="start" textLength="61.5" lengthAdjust="spacingAndGlyphs">H3K27me3</text>
<path d="M1028.72,146.57 L1031.04,149.82 L1029.92,149.82 L1029.92,155.59 L1027.51,155.59 L1027.51,149.82 L1026.40,149.82 Z" fill="#111"/>
<text x="978.0" y="168.4" font-size="12.2" fill="#1e2e1e" color="#1e2e1e" stroke-width="0.12" text-anchor="start" textLength="32.5" lengthAdjust="spacingAndGlyphs">5hmC</text>
<path d="M1014.82,168.59 L1017.14,165.34 L1016.02,165.34 L1016.02,159.57 L1013.61,159.57 L1013.61,165.34 L1012.50,165.34 Z" fill="#111"/>
<text x="973.4" y="200.5" font-size="11.2" fill="#111" color="#111" stroke-width="0.00" font-weight="bold" text-anchor="start" textLength="61.4" lengthAdjust="spacingAndGlyphs">CD8+T cell</text>
<path d="M870.1,277.2C870.4,277.8 871.0,278.4 871.4,279.0C871.9,279.6 872.9,280.3 873.0,280.9C873.1,281.6 872.6,282.2 872.1,282.8C871.6,283.3 870.5,283.8 869.9,284.3C869.4,284.8 869.1,285.3 868.8,285.9C868.5,286.4 868.4,287.0 868.2,287.5C868.1,288.1 867.9,288.7 867.8,289.2C867.6,289.8 867.4,290.3 867.2,290.9C867.1,291.4 866.9,292.0 866.7,292.5C866.4,293.1 866.2,293.6 866.0,294.1C865.8,294.7 865.5,295.2 865.3,295.7C865.0,296.2 864.8,296.7 864.5,297.2C864.2,297.7 864.0,298.3 863.7,298.7C863.4,299.2 863.1,299.7 862.8,300.2C862.5,300.7 862.2,301.2 861.9,301.7C861.6,302.2 861.3,302.7 861.1,303.2C860.9,303.8 860.7,304.4 860.7,305.1C860.6,305.8 860.7,306.6 860.7,307.4C860.7,308.3 860.9,309.3 860.8,310.1C860.8,310.9 860.7,311.7 860.3,312.2C860.0,312.8 859.4,313.1 858.8,313.4C858.2,313.7 857.4,313.7 856.8,314.0C856.2,314.2 855.6,314.4 855.1,314.8C854.6,315.1 854.2,315.7 853.7,316.0C853.3,316.4 852.8,316.8 852.2,317.0C851.6,317.2 850.9,317.2 850.2,317.2C849.5,317.2 848.7,317.0 848.0,316.9C847.3,316.9 846.6,316.8 846.0,316.8C845.4,316.9 844.8,317.0 844.3,317.1C843.8,317.3 843.2,317.5 842.8,317.8C842.3,318.1 841.9,318.6 841.4,319.1C841.0,319.6 840.7,320.5 840.2,320.8C839.7,321.2 839.1,321.3 838.5,321.3C837.9,321.3 837.2,320.8 836.6,320.8C836.0,320.7 835.5,320.7 834.9,320.8C834.3,320.9 833.8,321.0 833.2,321.2C832.7,321.3 832.1,321.4 831.6,321.5C831.0,321.6 830.5,321.7 829.9,321.8C829.4,321.9 828.8,322.0 828.2,322.0C827.7,322.1 827.1,322.2 826.5,322.2C826.0,322.2 825.4,322.2 824.8,322.2C824.3,322.2 823.7,322.2 823.1,322.2C822.5,322.2 822.0,322.2 821.4,322.1C820.8,322.0 820.3,322.0 819.7,321.9C819.1,321.8 818.6,321.7 818.0,321.6C817.4,321.6 816.9,321.4 816.3,321.5C815.6,321.7 814.9,322.1 814.2,322.6C813.5,323.0 812.5,324.1 811.8,324.1C811.2,324.1 810.7,323.5 810.3,322.8C809.9,322.1 809.8,320.7 809.5,319.9C809.1,319.1 808.7,318.7 808.3,318.3C807.8,317.8 807.3,317.6 806.8,317.3C806.3,317.0 805.9,316.7 805.3,316.5C804.7,316.3 804.2,316.1 803.5,316.2C802.7,316.3 801.6,317.0 800.8,317.1C800.0,317.3 799.1,317.4 798.6,317.1C798.1,316.7 798.1,315.6 797.8,315.0C797.5,314.3 797.2,313.7 796.9,313.1C796.6,312.6 796.2,312.1 795.9,311.5C795.6,311.0 795.4,310.3 795.1,309.8C794.8,309.2 794.6,308.7 794.1,308.2C793.7,307.8 793.1,307.6 792.6,307.2C792.2,306.8 791.5,306.6 791.2,306.1C790.9,305.6 790.8,304.9 790.6,304.3C790.4,303.6 790.4,302.9 790.2,302.3C790.1,301.7 789.8,301.2 789.5,300.7C789.3,300.2 789.0,299.7 788.7,299.2C788.4,298.7 788.1,298.2 787.8,297.7C787.5,297.1 787.2,296.6 786.9,296.1C786.6,295.6 786.4,295.1 786.0,294.6C785.7,294.1 785.4,293.6 784.9,293.1C784.4,292.7 783.8,292.2 783.0,291.8C782.3,291.4 781.2,291.1 780.3,290.7C779.3,290.3 778.1,289.9 777.4,289.4C776.6,288.9 775.9,288.3 775.8,287.6C775.7,287.0 776.1,286.1 776.6,285.4C777.1,284.6 778.1,283.8 778.8,283.0C779.6,282.3 780.4,281.6 780.9,280.9C781.4,280.2 781.7,279.6 782.0,279.0C782.2,278.3 782.3,277.8 782.4,277.2C782.5,276.6 782.5,276.0 782.6,275.4C782.6,274.8 782.7,274.2 782.8,273.6C782.8,273.0 782.9,272.4 783.0,271.8C783.1,271.2 783.2,270.6 783.3,270.0C783.4,269.5 783.6,268.9 783.7,268.3C783.8,267.7 783.9,267.2 783.8,266.5C783.7,265.9 783.5,265.2 783.1,264.4C782.7,263.7 781.8,262.7 781.6,262.0C781.3,261.2 781.0,260.4 781.4,259.9C781.7,259.3 782.9,259.1 783.7,258.7C784.5,258.4 785.7,258.3 786.4,257.9C787.1,257.6 787.6,257.2 787.9,256.7C788.3,256.2 788.4,255.7 788.5,255.0C788.6,254.4 788.5,253.7 788.5,252.9C788.4,252.2 788.2,251.3 788.2,250.6C788.3,249.9 788.4,249.2 788.6,248.5C788.8,247.9 789.3,247.5 789.5,246.9C789.8,246.3 790.0,245.6 790.3,245.1C790.6,244.5 790.8,243.8 791.4,243.4C791.9,243.1 792.8,243.0 793.6,242.9C794.4,242.9 795.5,243.2 796.3,243.2C797.2,243.3 797.9,243.3 798.5,243.1C799.2,243.0 799.6,242.7 800.1,242.4C800.6,242.1 801.1,241.8 801.5,241.4C802.0,241.1 802.5,240.8 802.9,240.5C803.4,240.2 803.9,239.9 804.4,239.6C804.8,239.3 805.3,239.0 805.8,238.7C806.3,238.4 806.8,238.1 807.2,237.7C807.6,237.2 807.9,236.6 808.2,235.8C808.5,235.1 808.6,233.9 809.0,233.1C809.3,232.3 809.7,231.5 810.2,231.3C810.8,231.1 811.7,231.7 812.4,232.1C813.2,232.5 814.0,233.3 814.7,233.7C815.4,234.1 816.1,234.3 816.7,234.4C817.3,234.5 817.8,234.4 818.3,234.4C818.9,234.3 819.4,234.2 820.0,234.2C820.5,234.1 821.1,234.1 821.6,233.9C822.1,233.8 822.7,233.8 823.2,233.4C823.8,233.0 824.3,232.3 824.8,231.4C825.4,230.6 825.9,228.8 826.5,228.2C827.1,227.6 827.8,227.3 828.4,227.9C829.0,228.5 829.5,230.5 830.0,231.5C830.5,232.4 831.0,233.1 831.5,233.5C832.0,233.9 832.6,233.8 833.1,233.9C833.7,234.0 834.2,234.1 834.8,234.1C835.3,234.2 835.9,234.3 836.4,234.4C837.0,234.5 837.5,234.6 838.1,234.6C838.6,234.7 839.2,234.9 839.8,234.9C840.3,235.0 840.9,235.1 841.5,235.0C842.2,234.9 842.8,234.7 843.6,234.4C844.4,234.1 845.3,233.4 846.1,233.0C847.0,232.6 848.0,232.0 848.7,232.0C849.4,232.0 850.0,232.3 850.4,232.9C850.8,233.5 850.9,234.7 851.1,235.5C851.4,236.2 851.6,237.1 852.0,237.6C852.4,238.0 853.1,238.1 853.7,238.4C854.2,238.7 854.8,238.9 855.3,239.3C855.7,239.8 855.8,240.6 856.1,241.2C856.4,241.8 856.7,242.4 857.1,242.9C857.4,243.3 857.9,243.7 858.5,244.0C859.0,244.3 859.6,244.6 860.3,244.8C860.9,245.0 861.7,245.1 862.4,245.3C863.1,245.5 864.0,245.7 864.6,246.0C865.2,246.4 865.7,246.8 866.0,247.4C866.4,247.9 866.4,248.7 866.5,249.4C866.7,250.1 866.6,250.9 866.7,251.6C866.8,252.3 867.0,252.9 867.3,253.5C867.5,254.1 867.9,254.6 868.0,255.2C868.2,255.8 868.3,256.5 868.3,257.1C868.4,257.8 868.2,258.6 868.2,259.2C868.2,259.9 868.2,260.6 868.2,261.2C868.3,261.8 868.4,262.4 868.5,263.0C868.6,263.6 868.7,264.2 868.8,264.8C868.9,265.4 869.0,266.0 869.1,266.5C869.2,267.1 869.3,267.7 869.5,268.3C869.7,268.8 870.1,269.4 870.5,269.9C870.8,270.5 871.6,271.0 871.7,271.6C871.8,272.2 871.5,272.9 871.2,273.5C870.9,274.1 870.3,274.8 870.1,275.4C870.0,276.0 869.9,276.6 870.1,277.2Z" fill="#a2e1cf" stroke="#4a8070" stroke-width="1.3" stroke-linejoin="round" opacity="1"/>
<path d="M852.2,283.3C852.2,284.2 852.4,285.1 852.3,286.0C852.2,286.9 852.0,287.8 851.6,288.6C851.3,289.5 850.7,290.2 850.3,291.0C849.9,291.8 849.6,292.7 849.1,293.4C848.6,294.1 848.0,294.8 847.3,295.4C846.6,296.0 845.8,296.4 845.1,297.0C844.4,297.5 843.8,298.1 843.2,298.6C842.5,299.1 841.8,299.6 841.0,300.1C840.3,300.6 839.6,301.1 838.8,301.4C838.0,301.8 837.1,301.9 836.2,302.1C835.4,302.3 834.5,302.6 833.7,302.9C832.8,303.1 831.9,303.4 831.0,303.5C830.1,303.7 829.1,303.8 828.2,303.6C827.3,303.5 826.5,303.0 825.6,302.8C824.7,302.5 823.9,302.2 823.1,301.8C822.2,301.5 821.3,301.3 820.5,300.8C819.8,300.3 819.2,299.6 818.5,299.0C817.9,298.4 817.3,297.8 816.7,297.2C816.0,296.5 815.4,296.0 814.8,295.3C814.3,294.6 813.8,293.9 813.4,293.1C812.9,292.4 812.5,291.6 812.1,290.9C811.7,290.1 811.2,289.3 810.9,288.5C810.6,287.7 810.3,286.8 810.1,286.0C809.9,285.1 809.6,284.2 809.6,283.3C809.5,282.4 809.5,281.5 809.6,280.6C809.6,279.7 809.8,278.7 810.0,277.9C810.3,277.0 810.9,276.2 811.2,275.4C811.6,274.6 811.8,273.6 812.3,272.9C812.8,272.1 813.4,271.4 814.1,270.8C814.8,270.2 815.7,269.7 816.4,269.2C817.2,268.7 817.8,268.1 818.6,267.7C819.4,267.3 820.3,267.1 821.1,266.7C821.9,266.4 822.6,265.9 823.4,265.5C824.2,265.2 825.0,264.9 825.8,264.7C826.7,264.5 827.5,264.4 828.4,264.2C829.3,264.1 830.1,263.9 831.0,263.8C831.9,263.7 832.8,263.5 833.7,263.6C834.6,263.7 835.4,264.1 836.3,264.3C837.1,264.5 838.1,264.6 838.9,264.9C839.7,265.2 840.5,265.7 841.3,266.1C842.0,266.5 842.8,267.0 843.6,267.4C844.4,267.9 845.2,268.4 845.8,269.0C846.5,269.6 847.0,270.3 847.5,271.0C848.0,271.8 848.3,272.6 848.8,273.3C849.3,274.1 850.1,274.7 850.5,275.5C851.0,276.3 851.2,277.1 851.5,278.0C851.7,278.9 852.0,279.7 852.1,280.6C852.2,281.5 852.1,282.4 852.2,283.3Z" fill="#80ccb6" stroke="none" stroke-width="0.0" opacity="1"/>
<circle cx="841.5" cy="260.2" r="0.8" fill="#76c6b2"/>
<circle cx="793.8" cy="257.9" r="0.8" fill="#76c6b2"/>
<circle cx="826.7" cy="303.0" r="0.8" fill="#76c6b2"/>
<circle cx="791.9" cy="258.0" r="0.8" fill="#76c6b2"/>
<circle cx="835.7" cy="278.6" r="0.8" fill="#76c6b2"/>
<circle cx="808.7" cy="306.5" r="0.8" fill="#76c6b2"/>
<circle cx="831.8" cy="262.7" r="0.8" fill="#76c6b2"/>
<circle cx="847.0" cy="262.6" r="0.8" fill="#76c6b2"/>
<circle cx="858.0" cy="268.7" r="0.8" fill="#76c6b2"/>
<circle cx="853.4" cy="296.1" r="0.8" fill="#76c6b2"/>
<circle cx="806.4" cy="278.3" r="0.8" fill="#76c6b2"/>
<circle cx="810.1" cy="278.9" r="0.8" fill="#76c6b2"/>
<circle cx="822.7" cy="248.1" r="0.8" fill="#76c6b2"/>
<circle cx="837.9" cy="288.2" r="0.8" fill="#76c6b2"/>
<text x="806.5" y="262.0" font-size="12.8" fill="#1a332f" color="#1a332f" stroke-width="0.12" text-anchor="start" textLength="16.5" lengthAdjust="spacingAndGlyphs">FH</text>
<text x="823.8" y="264.0" font-size="8.0" fill="#1a332f" color="#1a332f" stroke-width="0.12" text-anchor="start" textLength="6.5" lengthAdjust="spacingAndGlyphs">hi</text>
<path d="M862.8,236 C885,222 935,214 958,234" stroke="url(#gF)" stroke-width="2.6" fill="none" />
<path d="M964.7,239.5 L953.9,236.7 L960.5,229.1 Z" fill="#6e1a22"/>
<text x="886.0" y="241.0" font-size="14.0" fill="#3a3a3a" color="#3a3a3a" stroke-width="0.12" text-anchor="start" textLength="58.6" lengthAdjust="spacingAndGlyphs">Fumarate</text>
<circle cx="889.0" cy="211.0" r="2.2" fill="#6a6aa0" stroke="none" stroke-width="1.2" opacity="1"/>
<circle cx="932.0" cy="211.0" r="2.2" fill="#6a6aa0" stroke="none" stroke-width="1.2" opacity="1"/>
<circle cx="863.0" cy="229.0" r="2.2" fill="#6a6aa0" stroke="none" stroke-width="1.2" opacity="1"/>
<circle cx="906.0" cy="213.0" r="1.7" fill="#b8b8c8" stroke="none" stroke-width="1.2" opacity="1"/>
<circle cx="950.0" cy="210.0" r="1.7" fill="#b8b8c8" stroke="none" stroke-width="1.2" opacity="1"/>
<circle cx="947.0" cy="222.0" r="1.7" fill="#b8b8c8" stroke="none" stroke-width="1.2" opacity="1"/>
<circle cx="925.0" cy="225.0" r="1.7" fill="#b8b8c8" stroke="none" stroke-width="1.2" opacity="1"/>
<circle cx="891.0" cy="226.0" r="1.7" fill="#b8b8c8" stroke="none" stroke-width="1.2" opacity="1"/>
<ellipse cx="994.3" cy="263.8" rx="35.4" ry="33.0" fill="#b4e39a" stroke="#8cc070" stroke-width="1.2" opacity="1" transform="rotate(0.0 994.3 263.8)"/>
<ellipse cx="998.0" cy="265.7" rx="21.8" ry="21.3" fill="#a1d484" stroke="none" stroke-width="1.0" opacity="1" transform="rotate(0.0 998.0 265.7)"/>
<text x="973.4" y="262.8" font-size="12.6" fill="#1e3a1e" color="#1e3a1e" stroke-width="0.12" text-anchor="start" textLength="40.8" lengthAdjust="spacingAndGlyphs">DAPK1</text>
<text x="967.6" y="276.5" font-size="12.6" fill="#1e3a1e" color="#1e3a1e" stroke-width="0.12" text-anchor="start" textLength="52.4" lengthAdjust="spacingAndGlyphs">mTORC1</text>
<text x="965.7" y="311.3" font-size="12.6" fill="#111" color="#111" stroke-width="0.00" font-weight="bold" text-anchor="start" textLength="62.6" lengthAdjust="spacingAndGlyphs">CD8+T cell</text>
<path d="M843.9,381.0C844.0,382.0 844.1,383.1 844.0,384.1C843.9,385.1 843.8,386.2 843.4,387.2C843.0,388.2 842.3,389.1 841.7,390.0C841.1,390.9 840.5,391.9 839.7,392.6C838.9,393.4 837.7,393.9 836.7,394.5C835.7,395.2 834.7,395.7 833.7,396.2C832.7,396.8 831.6,397.2 830.6,397.6C829.6,398.0 828.6,398.4 827.6,398.8C826.6,399.2 825.6,399.5 824.6,399.9C823.6,400.3 822.7,400.9 821.7,401.4C820.7,401.8 819.6,402.2 818.5,402.4C817.3,402.7 816.2,402.7 815.0,402.9C813.8,403.2 812.6,403.6 811.3,403.7C810.1,403.7 808.9,403.4 807.7,403.2C806.5,403.0 805.2,402.9 804.0,402.6C802.9,402.2 801.9,401.5 801.0,400.8C800.0,400.2 799.1,399.5 798.3,398.7C797.5,398.0 796.8,397.1 796.2,396.3C795.6,395.5 795.1,394.6 794.7,393.7C794.2,392.8 793.9,392.0 793.5,391.1C793.2,390.2 792.9,389.4 792.6,388.6C792.3,387.7 792.0,386.9 791.6,386.1C791.1,385.3 790.5,384.5 790.0,383.7C789.5,382.8 789.2,381.9 788.8,381.0C788.4,380.1 787.9,379.1 787.7,378.1C787.4,377.1 787.2,376.0 787.3,375.0C787.4,373.9 787.8,372.9 788.1,371.9C788.5,370.9 788.8,369.9 789.3,368.9C789.8,367.9 790.4,367.0 791.3,366.2C792.1,365.4 793.2,364.7 794.2,364.1C795.2,363.4 796.1,362.6 797.3,362.2C798.4,361.8 799.9,361.7 801.1,361.5C802.4,361.2 803.4,360.8 804.6,360.5C805.7,360.3 806.9,360.0 808.1,359.9C809.2,359.7 810.4,359.6 811.5,359.6C812.7,359.6 813.9,359.8 815.0,359.9C816.1,360.0 817.2,360.2 818.3,360.3C819.4,360.5 820.6,360.5 821.7,360.8C822.7,361.0 823.7,361.5 824.7,361.8C825.8,362.2 826.9,362.5 827.8,362.9C828.8,363.4 829.6,364.0 830.4,364.6C831.3,365.2 832.0,365.8 832.9,366.4C833.7,367.0 834.6,367.6 835.4,368.2C836.2,368.9 837.0,369.6 837.7,370.3C838.4,371.1 839.0,371.9 839.6,372.7C840.2,373.5 840.9,374.3 841.5,375.2C842.0,376.1 842.5,377.0 842.9,378.0C843.3,379.0 843.7,380.0 843.9,381.0Z" fill="#9fdccb" stroke="#4a8070" stroke-width="2.2" opacity="1"/>
<path d="M804.1,373.0C804.0,373.5 804.0,374.0 803.9,374.6C803.8,375.1 803.5,375.5 803.4,376.0C803.3,376.5 803.3,377.0 803.1,377.5C803.0,378.0 802.7,378.5 802.6,379.0C802.4,379.5 802.2,380.0 802.0,380.5C801.9,381.0 801.7,381.6 801.5,382.2C801.2,382.7 801.0,383.3 800.6,383.8C800.3,384.3 799.9,384.8 799.5,385.2C799.1,385.6 798.5,385.9 798.0,386.2C797.5,386.4 797.0,386.8 796.5,387.0C795.9,387.1 795.3,387.2 794.7,387.2C794.2,387.3 793.6,387.2 793.0,387.1C792.4,387.0 791.9,386.9 791.3,386.7C790.8,386.5 790.3,386.0 789.9,385.7C789.4,385.3 789.0,384.9 788.6,384.6C788.1,384.3 787.7,384.1 787.3,383.8C786.8,383.5 786.5,383.1 786.1,382.7C785.8,382.3 785.4,382.0 785.1,381.6C784.8,381.2 784.5,380.7 784.2,380.3C783.9,379.9 783.5,379.6 783.2,379.1C782.9,378.7 782.6,378.3 782.3,377.8C782.0,377.3 781.6,376.9 781.4,376.4C781.2,375.9 781.2,375.3 781.1,374.7C781.0,374.1 780.9,373.6 780.9,373.0C780.9,372.4 780.9,371.9 780.9,371.3C781.0,370.7 781.0,370.1 781.1,369.6C781.3,369.0 781.7,368.5 781.9,368.0C782.1,367.5 782.2,366.9 782.5,366.4C782.8,366.0 783.3,365.6 783.6,365.2C784.0,364.8 784.2,364.3 784.6,363.9C785.0,363.5 785.5,363.3 785.9,362.9C786.3,362.6 786.7,362.3 787.1,362.0C787.5,361.6 787.9,361.3 788.4,361.0C788.9,360.7 789.4,360.5 789.9,360.3C790.4,360.2 790.9,360.2 791.4,360.1C792.0,360.0 792.5,359.9 793.0,359.9C793.5,359.8 794.1,359.9 794.6,360.0C795.1,360.0 795.6,360.1 796.2,360.2C796.7,360.3 797.2,360.4 797.7,360.6C798.3,360.8 798.8,361.0 799.3,361.3C799.7,361.5 800.2,361.8 800.6,362.2C801.1,362.6 801.5,363.0 801.8,363.4C802.2,363.9 802.5,364.4 802.8,364.9C803.1,365.3 803.4,365.8 803.7,366.3C803.9,366.9 804.0,367.5 804.1,368.0C804.2,368.6 804.2,369.2 804.3,369.7C804.4,370.3 804.5,370.8 804.4,371.4C804.4,371.9 804.2,372.5 804.1,373.0Z" fill="#9fdccb" stroke="#4a8070" stroke-width="2.2" opacity="1"/>
<path d="M856.5,373.0C856.5,373.5 856.3,374.0 856.2,374.5C856.2,375.0 856.3,375.5 856.3,376.1C856.4,376.6 856.4,377.2 856.3,377.8C856.2,378.3 856.0,378.8 855.8,379.4C855.5,379.9 855.3,380.5 855.0,381.0C854.7,381.5 854.4,382.1 853.9,382.6C853.5,383.0 852.9,383.4 852.3,383.8C851.7,384.1 851.1,384.5 850.5,384.7C849.8,384.9 848.9,384.9 848.2,385.0C847.4,385.0 846.7,384.9 846.0,384.8C845.2,384.7 844.6,384.7 843.9,384.5C843.2,384.4 842.6,384.1 842.0,383.9C841.4,383.6 840.9,383.4 840.3,383.2C839.8,383.0 839.3,382.8 838.8,382.7C838.2,382.6 837.6,382.6 837.1,382.5C836.5,382.4 836.0,382.2 835.4,382.1C834.8,382.0 834.2,381.9 833.6,381.8C832.9,381.7 832.3,381.5 831.7,381.2C831.1,381.0 830.3,380.8 829.8,380.5C829.2,380.2 828.9,379.7 828.5,379.3C828.0,378.8 827.5,378.4 827.1,377.9C826.8,377.4 826.5,376.9 826.4,376.4C826.2,375.8 826.3,375.2 826.3,374.7C826.3,374.1 826.3,373.5 826.4,373.0C826.5,372.5 826.7,371.9 826.9,371.4C827.0,370.9 827.3,370.4 827.4,369.9C827.6,369.4 827.7,368.8 827.9,368.3C828.2,367.9 828.7,367.5 829.0,367.0C829.3,366.5 829.4,365.9 829.8,365.5C830.1,365.1 830.7,364.7 831.2,364.3C831.6,363.9 831.9,363.4 832.4,363.0C833.0,362.7 833.7,362.6 834.3,362.3C834.9,362.0 835.4,361.7 836.1,361.5C836.7,361.4 837.5,361.5 838.1,361.4C838.8,361.4 839.4,361.3 840.1,361.4C840.7,361.4 841.4,361.4 842.0,361.5C842.6,361.6 843.2,361.7 843.8,361.8C844.5,361.9 845.1,361.9 845.7,362.0C846.3,362.1 846.9,362.3 847.4,362.5C848.0,362.7 848.6,362.9 849.1,363.1C849.7,363.3 850.3,363.5 850.9,363.8C851.4,364.0 852.0,364.3 852.5,364.6C853.0,364.9 853.5,365.3 854.0,365.7C854.4,366.0 854.7,366.5 855.0,367.0C855.3,367.4 855.5,368.0 855.7,368.5C855.9,368.9 856.1,369.4 856.3,369.9C856.4,370.4 856.5,371.0 856.5,371.5C856.5,372.0 856.6,372.5 856.5,373.0Z" fill="#9fdccb" stroke="#4a8070" stroke-width="2.2" opacity="1"/>
<path d="M848.4,399.0C848.3,399.5 848.0,400.0 847.8,400.4C847.5,400.9 847.3,401.3 847.0,401.8C846.7,402.2 846.3,402.6 846.0,403.0C845.7,403.4 845.5,403.9 845.2,404.3C844.9,404.7 844.6,405.2 844.2,405.6C843.8,406.0 843.4,406.4 842.9,406.7C842.4,407.1 841.9,407.4 841.3,407.7C840.7,408.0 840.1,408.3 839.5,408.5C838.8,408.7 838.1,408.8 837.4,409.0C836.7,409.1 835.9,409.1 835.2,409.1C834.5,409.2 833.8,409.2 833.1,409.2C832.4,409.2 831.7,409.2 831.0,409.1C830.3,409.0 829.7,408.9 829.0,408.8C828.3,408.7 827.7,408.8 826.9,408.8C826.2,408.8 825.5,408.8 824.8,408.8C824.0,408.7 823.4,408.5 822.6,408.4C821.8,408.4 820.8,408.4 820.0,408.3C819.2,408.1 818.5,407.9 817.7,407.6C817.0,407.3 816.3,407.0 815.7,406.6C815.2,406.2 814.7,405.7 814.2,405.3C813.8,404.8 813.4,404.3 813.2,403.8C813.0,403.2 813.1,402.6 813.1,402.1C813.2,401.6 813.4,401.0 813.5,400.5C813.7,400.0 813.8,399.5 814.1,399.0C814.4,398.5 814.9,398.1 815.3,397.7C815.6,397.2 815.8,396.8 816.0,396.4C816.2,396.0 816.3,395.5 816.6,395.1C816.8,394.7 817.0,394.3 817.3,393.9C817.5,393.5 817.8,393.0 818.1,392.6C818.4,392.2 818.6,391.7 819.1,391.3C819.5,390.9 820.1,390.6 820.6,390.2C821.1,389.9 821.6,389.5 822.2,389.2C822.9,388.9 823.6,388.7 824.3,388.6C825.0,388.4 825.8,388.2 826.5,388.1C827.2,388.1 828.0,388.1 828.8,388.1C829.5,388.2 830.3,388.4 831.0,388.5C831.7,388.6 832.4,388.6 833.1,388.7C833.8,388.8 834.4,389.0 835.1,389.1C835.8,389.2 836.4,389.3 837.1,389.4C837.8,389.5 838.6,389.6 839.3,389.7C840.1,389.8 840.8,389.9 841.6,390.1C842.3,390.3 843.0,390.5 843.7,390.8C844.3,391.1 844.9,391.5 845.4,391.8C846.0,392.2 846.5,392.6 846.9,393.0C847.4,393.5 848.0,393.9 848.3,394.4C848.6,394.8 848.6,395.4 848.7,395.9C848.7,396.5 848.7,397.0 848.6,397.5C848.6,398.0 848.6,398.5 848.4,399.0Z" fill="#9fdccb" stroke="#4a8070" stroke-width="2.2" opacity="1"/>
<path d="M813.7,400.0C813.6,400.4 813.3,400.8 813.1,401.2C812.9,401.6 813.0,402.1 812.8,402.4C812.6,402.8 812.2,403.2 812.0,403.5C811.7,403.9 811.7,404.4 811.5,404.7C811.2,405.1 810.8,405.4 810.4,405.7C810.1,406.1 809.9,406.5 809.6,406.8C809.2,407.2 808.9,407.6 808.5,407.9C808.0,408.2 807.5,408.4 807.0,408.6C806.5,408.9 805.9,409.1 805.4,409.3C804.8,409.4 804.2,409.5 803.6,409.6C803.0,409.7 802.4,409.8 801.8,409.8C801.2,409.9 800.6,409.9 800.0,409.8C799.4,409.8 798.8,409.6 798.2,409.5C797.7,409.4 797.1,409.4 796.5,409.3C795.9,409.2 795.4,409.0 794.8,408.9C794.3,408.8 793.7,408.6 793.1,408.5C792.5,408.4 791.9,408.2 791.4,408.0C790.8,407.8 790.3,407.6 789.8,407.3C789.3,407.0 788.8,406.7 788.3,406.4C787.8,406.1 787.3,405.8 786.9,405.4C786.5,405.0 786.1,404.6 785.8,404.2C785.5,403.8 785.2,403.3 785.0,402.9C784.8,402.4 784.7,401.9 784.8,401.4C784.8,401.0 785.0,400.5 785.2,400.0C785.3,399.5 785.6,399.1 785.8,398.7C785.9,398.2 786.0,397.8 786.3,397.4C786.5,397.0 787.1,396.7 787.5,396.3C787.8,395.9 788.0,395.5 788.4,395.2C788.8,394.9 789.3,394.7 789.7,394.4C790.2,394.1 790.5,393.8 790.9,393.5C791.3,393.2 791.7,393.0 792.2,392.7C792.6,392.5 793.0,392.2 793.5,392.0C794.0,391.8 794.6,391.7 795.1,391.5C795.6,391.4 796.1,391.2 796.6,391.0C797.2,390.9 797.7,390.7 798.3,390.6C798.8,390.5 799.4,390.4 800.0,390.4C800.6,390.3 801.2,390.4 801.8,390.3C802.4,390.3 803.0,390.3 803.6,390.3C804.3,390.3 804.9,390.4 805.5,390.5C806.2,390.5 806.9,390.6 807.5,390.7C808.1,390.9 808.7,391.1 809.3,391.3C809.8,391.6 810.3,392.0 810.8,392.3C811.3,392.6 811.8,392.9 812.3,393.3C812.7,393.6 813.1,394.1 813.4,394.5C813.7,394.9 813.9,395.4 814.0,395.9C814.1,396.3 814.2,396.8 814.2,397.3C814.2,397.8 814.1,398.2 814.1,398.7C814.0,399.1 813.9,399.6 813.7,400.0Z" fill="#9fdccb" stroke="#4a8070" stroke-width="2.2" opacity="1"/>
<path d="M859.9,390.0C859.9,390.3 859.9,390.7 859.9,391.0C859.9,391.4 859.9,391.7 859.8,392.1C859.7,392.4 859.6,392.8 859.5,393.1C859.4,393.4 859.3,393.8 859.1,394.1C859.0,394.5 858.9,394.8 858.6,395.1C858.4,395.4 858.2,395.7 857.9,395.9C857.6,396.2 857.3,396.3 857.0,396.5C856.7,396.7 856.4,397.0 856.1,397.1C855.8,397.3 855.4,397.3 855.0,397.4C854.7,397.4 854.4,397.5 854.0,397.5C853.7,397.6 853.3,397.6 853.0,397.6C852.7,397.6 852.3,397.8 852.0,397.8C851.7,397.8 851.3,397.8 851.0,397.7C850.6,397.7 850.3,397.7 849.9,397.7C849.6,397.6 849.3,397.5 848.9,397.4C848.6,397.3 848.3,397.2 847.9,397.0C847.6,396.9 847.3,396.7 847.0,396.5C846.7,396.3 846.4,396.1 846.2,395.8C845.9,395.6 845.7,395.3 845.5,395.0C845.3,394.7 845.1,394.4 845.1,394.0C845.0,393.7 845.0,393.3 845.0,392.9C844.9,392.6 844.9,392.3 844.8,391.9C844.8,391.6 844.8,391.3 844.7,391.0C844.7,390.6 844.7,390.3 844.7,390.0C844.6,389.7 844.5,389.3 844.5,389.0C844.4,388.7 844.4,388.3 844.4,388.0C844.4,387.6 844.4,387.2 844.4,386.9C844.5,386.5 844.6,386.1 844.7,385.8C844.8,385.4 845.0,385.1 845.2,384.7C845.3,384.4 845.5,384.0 845.7,383.7C846.0,383.4 846.3,383.1 846.6,382.9C846.9,382.8 847.3,382.7 847.7,382.6C848.1,382.5 848.5,382.4 848.8,382.3C849.2,382.3 849.6,382.3 849.9,382.3C850.3,382.3 850.6,382.3 851.0,382.3C851.3,382.4 851.7,382.4 852.0,382.4C852.3,382.5 852.7,382.5 853.0,382.6C853.3,382.7 853.6,382.8 853.9,382.9C854.2,383.0 854.5,383.0 854.9,383.1C855.2,383.2 855.5,383.2 855.9,383.3C856.2,383.4 856.5,383.5 856.9,383.7C857.2,383.8 857.5,384.0 857.7,384.3C858.0,384.5 858.2,384.8 858.4,385.1C858.6,385.4 858.8,385.7 859.0,386.0C859.1,386.3 859.2,386.6 859.4,387.0C859.5,387.3 859.6,387.6 859.7,387.9C859.8,388.3 859.8,388.6 859.8,389.0C859.9,389.3 859.8,389.7 859.9,390.0Z" fill="#9fdccb" stroke="#4a8070" stroke-width="2.2" opacity="1"/>
<path d="M822.8,360.0C822.8,360.3 823.0,360.6 823.0,361.0C823.0,361.3 822.8,361.6 822.8,361.9C822.7,362.3 822.8,362.6 822.7,363.0C822.6,363.3 822.5,363.6 822.3,364.0C822.1,364.3 821.9,364.6 821.6,364.9C821.3,365.2 821.0,365.5 820.6,365.7C820.3,366.0 819.8,366.2 819.4,366.4C819.0,366.6 818.6,366.9 818.1,367.0C817.6,367.2 817.1,367.3 816.6,367.4C816.1,367.4 815.5,367.5 815.0,367.5C814.5,367.6 814.0,367.7 813.5,367.8C813.0,367.8 812.5,367.9 812.0,367.9C811.5,367.9 811.0,367.8 810.5,367.8C809.9,367.8 809.4,367.9 808.8,367.9C808.3,367.8 807.8,367.7 807.3,367.5C806.8,367.4 806.3,367.3 805.8,367.2C805.3,367.0 804.8,366.8 804.4,366.6C804.0,366.4 803.6,366.1 803.2,365.8C802.9,365.6 802.6,365.3 802.3,365.0C802.0,364.7 801.9,364.3 801.7,364.0C801.5,363.6 801.3,363.3 801.1,363.0C801.0,362.7 800.7,362.4 800.6,362.0C800.5,361.7 800.5,361.4 800.4,361.0C800.3,360.7 800.1,360.3 800.0,360.0C799.9,359.7 799.8,359.3 799.8,358.9C799.8,358.6 799.7,358.2 799.8,357.8C800.0,357.5 800.2,357.1 800.4,356.8C800.6,356.5 800.9,356.1 801.2,355.8C801.5,355.5 801.7,355.2 802.1,355.0C802.5,354.7 803.1,354.6 803.6,354.4C804.1,354.2 804.5,354.0 805.0,353.9C805.5,353.8 806.1,353.8 806.5,353.7C807.0,353.6 807.4,353.4 807.9,353.4C808.3,353.3 808.8,353.3 809.3,353.2C809.7,353.2 810.2,353.1 810.6,353.0C811.1,352.9 811.5,352.6 812.0,352.5C812.5,352.4 813.0,352.4 813.5,352.3C814.1,352.2 814.6,352.1 815.2,352.0C815.8,351.9 816.5,351.9 817.0,351.9C817.6,351.9 818.2,352.0 818.8,352.2C819.3,352.3 819.9,352.5 820.4,352.7C820.9,352.9 821.4,353.2 821.7,353.5C822.1,353.8 822.3,354.3 822.5,354.6C822.7,355.0 822.8,355.4 822.9,355.8C823.0,356.2 823.1,356.6 823.1,356.9C823.2,357.3 823.1,357.7 823.0,358.0C823.0,358.4 823.0,358.7 823.0,359.0C822.9,359.4 822.8,359.7 822.8,360.0Z" fill="#9fdccb" stroke="#4a8070" stroke-width="2.2" opacity="1"/>
<path d="M843.9,381.0C844.0,382.0 844.1,383.1 844.0,384.1C843.9,385.1 843.8,386.2 843.4,387.2C843.0,388.2 842.3,389.1 841.7,390.0C841.1,390.9 840.5,391.9 839.7,392.6C838.9,393.4 837.7,393.9 836.7,394.5C835.7,395.2 834.7,395.7 833.7,396.2C832.7,396.8 831.6,397.2 830.6,397.6C829.6,398.0 828.6,398.4 827.6,398.8C826.6,399.2 825.6,399.5 824.6,399.9C823.6,400.3 822.7,400.9 821.7,401.4C820.7,401.8 819.6,402.2 818.5,402.4C817.3,402.7 816.2,402.7 815.0,402.9C813.8,403.2 812.6,403.6 811.3,403.7C810.1,403.7 808.9,403.4 807.7,403.2C806.5,403.0 805.2,402.9 804.0,402.6C802.9,402.2 801.9,401.5 801.0,400.8C800.0,400.2 799.1,399.5 798.3,398.7C797.5,398.0 796.8,397.1 796.2,396.3C795.6,395.5 795.1,394.6 794.7,393.7C794.2,392.8 793.9,392.0 793.5,391.1C793.2,390.2 792.9,389.4 792.6,388.6C792.3,387.7 792.0,386.9 791.6,386.1C791.1,385.3 790.5,384.5 790.0,383.7C789.5,382.8 789.2,381.9 788.8,381.0C788.4,380.1 787.9,379.1 787.7,378.1C787.4,377.1 787.2,376.0 787.3,375.0C787.4,373.9 787.8,372.9 788.1,371.9C788.5,370.9 788.8,369.9 789.3,368.9C789.8,367.9 790.4,367.0 791.3,366.2C792.1,365.4 793.2,364.7 794.2,364.1C795.2,363.4 796.1,362.6 797.3,362.2C798.4,361.8 799.9,361.7 801.1,361.5C802.4,361.2 803.4,360.8 804.6,360.5C805.7,360.3 806.9,360.0 808.1,359.9C809.2,359.7 810.4,359.6 811.5,359.6C812.7,359.6 813.9,359.8 815.0,359.9C816.1,360.0 817.2,360.2 818.3,360.3C819.4,360.5 820.6,360.5 821.7,360.8C822.7,361.0 823.7,361.5 824.7,361.8C825.8,362.2 826.9,362.5 827.8,362.9C828.8,363.4 829.6,364.0 830.4,364.6C831.3,365.2 832.0,365.8 832.9,366.4C833.7,367.0 834.6,367.6 835.4,368.2C836.2,368.9 837.0,369.6 837.7,370.3C838.4,371.1 839.0,371.9 839.6,372.7C840.2,373.5 840.9,374.3 841.5,375.2C842.0,376.1 842.5,377.0 842.9,378.0C843.3,379.0 843.7,380.0 843.9,381.0Z" fill="#9fdccb" stroke="none" stroke-width="0.0" opacity="1"/>
<path d="M804.1,373.0C804.0,373.5 804.0,374.0 803.9,374.6C803.8,375.1 803.5,375.5 803.4,376.0C803.3,376.5 803.3,377.0 803.1,377.5C803.0,378.0 802.7,378.5 802.6,379.0C802.4,379.5 802.2,380.0 802.0,380.5C801.9,381.0 801.7,381.6 801.5,382.2C801.2,382.7 801.0,383.3 800.6,383.8C800.3,384.3 799.9,384.8 799.5,385.2C799.1,385.6 798.5,385.9 798.0,386.2C797.5,386.4 797.0,386.8 796.5,387.0C795.9,387.1 795.3,387.2 794.7,387.2C794.2,387.3 793.6,387.2 793.0,387.1C792.4,387.0 791.9,386.9 791.3,386.7C790.8,386.5 790.3,386.0 789.9,385.7C789.4,385.3 789.0,384.9 788.6,384.6C788.1,384.3 787.7,384.1 787.3,383.8C786.8,383.5 786.5,383.1 786.1,382.7C785.8,382.3 785.4,382.0 785.1,381.6C784.8,381.2 784.5,380.7 784.2,380.3C783.9,379.9 783.5,379.6 783.2,379.1C782.9,378.7 782.6,378.3 782.3,377.8C782.0,377.3 781.6,376.9 781.4,376.4C781.2,375.9 781.2,375.3 781.1,374.7C781.0,374.1 780.9,373.6 780.9,373.0C780.9,372.4 780.9,371.9 780.9,371.3C781.0,370.7 781.0,370.1 781.1,369.6C781.3,369.0 781.7,368.5 781.9,368.0C782.1,367.5 782.2,366.9 782.5,366.4C782.8,366.0 783.3,365.6 783.6,365.2C784.0,364.8 784.2,364.3 784.6,363.9C785.0,363.5 785.5,363.3 785.9,362.9C786.3,362.6 786.7,362.3 787.1,362.0C787.5,361.6 787.9,361.3 788.4,361.0C788.9,360.7 789.4,360.5 789.9,360.3C790.4,360.2 790.9,360.2 791.4,360.1C792.0,360.0 792.5,359.9 793.0,359.9C793.5,359.8 794.1,359.9 794.6,360.0C795.1,360.0 795.6,360.1 796.2,360.2C796.7,360.3 797.2,360.4 797.7,360.6C798.3,360.8 798.8,361.0 799.3,361.3C799.7,361.5 800.2,361.8 800.6,362.2C801.1,362.6 801.5,363.0 801.8,363.4C802.2,363.9 802.5,364.4 802.8,364.9C803.1,365.3 803.4,365.8 803.7,366.3C803.9,366.9 804.0,367.5 804.1,368.0C804.2,368.6 804.2,369.2 804.3,369.7C804.4,370.3 804.5,370.8 804.4,371.4C804.4,371.9 804.2,372.5 804.1,373.0Z" fill="#9fdccb" stroke="none" stroke-width="0.0" opacity="1"/>
<path d="M856.5,373.0C856.5,373.5 856.3,374.0 856.2,374.5C856.2,375.0 856.3,375.5 856.3,376.1C856.4,376.6 856.4,377.2 856.3,377.8C856.2,378.3 856.0,378.8 855.8,379.4C855.5,379.9 855.3,380.5 855.0,381.0C854.7,381.5 854.4,382.1 853.9,382.6C853.5,383.0 852.9,383.4 852.3,383.8C851.7,384.1 851.1,384.5 850.5,384.7C849.8,384.9 848.9,384.9 848.2,385.0C847.4,385.0 846.7,384.9 846.0,384.8C845.2,384.7 844.6,384.7 843.9,384.5C843.2,384.4 842.6,384.1 842.0,383.9C841.4,383.6 840.9,383.4 840.3,383.2C839.8,383.0 839.3,382.8 838.8,382.7C838.2,382.6 837.6,382.6 837.1,382.5C836.5,382.4 836.0,382.2 835.4,382.1C834.8,382.0 834.2,381.9 833.6,381.8C832.9,381.7 832.3,381.5 831.7,381.2C831.1,381.0 830.3,380.8 829.8,380.5C829.2,380.2 828.9,379.7 828.5,379.3C828.0,378.8 827.5,378.4 827.1,377.9C826.8,377.4 826.5,376.9 826.4,376.4C826.2,375.8 826.3,375.2 826.3,374.7C826.3,374.1 826.3,373.5 826.4,373.0C826.5,372.5 826.7,371.9 826.9,371.4C827.0,370.9 827.3,370.4 827.4,369.9C827.6,369.4 827.7,368.8 827.9,368.3C828.2,367.9 828.7,367.5 829.0,367.0C829.3,366.5 829.4,365.9 829.8,365.5C830.1,365.1 830.7,364.7 831.2,364.3C831.6,363.9 831.9,363.4 832.4,363.0C833.0,362.7 833.7,362.6 834.3,362.3C834.9,362.0 835.4,361.7 836.1,361.5C836.7,361.4 837.5,361.5 838.1,361.4C838.8,361.4 839.4,361.3 840.1,361.4C840.7,361.4 841.4,361.4 842.0,361.5C842.6,361.6 843.2,361.7 843.8,361.8C844.5,361.9 845.1,361.9 845.7,362.0C846.3,362.1 846.9,362.3 847.4,362.5C848.0,362.7 848.6,362.9 849.1,363.1C849.7,363.3 850.3,363.5 850.9,363.8C851.4,364.0 852.0,364.3 852.5,364.6C853.0,364.9 853.5,365.3 854.0,365.7C854.4,366.0 854.7,366.5 855.0,367.0C855.3,367.4 855.5,368.0 855.7,368.5C855.9,368.9 856.1,369.4 856.3,369.9C856.4,370.4 856.5,371.0 856.5,371.5C856.5,372.0 856.6,372.5 856.5,373.0Z" fill="#9fdccb" stroke="none" stroke-width="0.0" opacity="1"/>
<path d="M848.4,399.0C848.3,399.5 848.0,400.0 847.8,400.4C847.5,400.9 847.3,401.3 847.0,401.8C846.7,402.2 846.3,402.6 846.0,403.0C845.7,403.4 845.5,403.9 845.2,404.3C844.9,404.7 844.6,405.2 844.2,405.6C843.8,406.0 843.4,406.4 842.9,406.7C842.4,407.1 841.9,407.4 841.3,407.7C840.7,408.0 840.1,408.3 839.5,408.5C838.8,408.7 838.1,408.8 837.4,409.0C836.7,409.1 835.9,409.1 835.2,409.1C834.5,409.2 833.8,409.2 833.1,409.2C832.4,409.2 831.7,409.2 831.0,409.1C830.3,409.0 829.7,408.9 829.0,408.8C828.3,408.7 827.7,408.8 826.9,408.8C826.2,408.8 825.5,408.8 824.8,408.8C824.0,408.7 823.4,408.5 822.6,408.4C821.8,408.4 820.8,408.4 820.0,408.3C819.2,408.1 818.5,407.9 817.7,407.6C817.0,407.3 816.3,407.0 815.7,406.6C815.2,406.2 814.7,405.7 814.2,405.3C813.8,404.8 813.4,404.3 813.2,403.8C813.0,403.2 813.1,402.6 813.1,402.1C813.2,401.6 813.4,401.0 813.5,400.5C813.7,400.0 813.8,399.5 814.1,399.0C814.4,398.5 814.9,398.1 815.3,397.7C815.6,397.2 815.8,396.8 816.0,396.4C816.2,396.0 816.3,395.5 816.6,395.1C816.8,394.7 817.0,394.3 817.3,393.9C817.5,393.5 817.8,393.0 818.1,392.6C818.4,392.2 818.6,391.7 819.1,391.3C819.5,390.9 820.1,390.6 820.6,390.2C821.1,389.9 821.6,389.5 822.2,389.2C822.9,388.9 823.6,388.7 824.3,388.6C825.0,388.4 825.8,388.2 826.5,388.1C827.2,388.1 828.0,388.1 828.8,388.1C829.5,388.2 830.3,388.4 831.0,388.5C831.7,388.6 832.4,388.6 833.1,388.7C833.8,388.8 834.4,389.0 835.1,389.1C835.8,389.2 836.4,389.3 837.1,389.4C837.8,389.5 838.6,389.6 839.3,389.7C840.1,389.8 840.8,389.9 841.6,390.1C842.3,390.3 843.0,390.5 843.7,390.8C844.3,391.1 844.9,391.5 845.4,391.8C846.0,392.2 846.5,392.6 846.9,393.0C847.4,393.5 848.0,393.9 848.3,394.4C848.6,394.8 848.6,395.4 848.7,395.9C848.7,396.5 848.7,397.0 848.6,397.5C848.6,398.0 848.6,398.5 848.4,399.0Z" fill="#9fdccb" stroke="none" stroke-width="0.0" opacity="1"/>
<path d="M813.7,400.0C813.6,400.4 813.3,400.8 813.1,401.2C812.9,401.6 813.0,402.1 812.8,402.4C812.6,402.8 812.2,403.2 812.0,403.5C811.7,403.9 811.7,404.4 811.5,404.7C811.2,405.1 810.8,405.4 810.4,405.7C810.1,406.1 809.9,406.5 809.6,406.8C809.2,407.2 808.9,407.6 808.5,407.9C808.0,408.2 807.5,408.4 807.0,408.6C806.5,408.9 805.9,409.1 805.4,409.3C804.8,409.4 804.2,409.5 803.6,409.6C803.0,409.7 802.4,409.8 801.8,409.8C801.2,409.9 800.6,409.9 800.0,409.8C799.4,409.8 798.8,409.6 798.2,409.5C797.7,409.4 797.1,409.4 796.5,409.3C795.9,409.2 795.4,409.0 794.8,408.9C794.3,408.8 793.7,408.6 793.1,408.5C792.5,408.4 791.9,408.2 791.4,408.0C790.8,407.8 790.3,407.6 789.8,407.3C789.3,407.0 788.8,406.7 788.3,406.4C787.8,406.1 787.3,405.8 786.9,405.4C786.5,405.0 786.1,404.6 785.8,404.2C785.5,403.8 785.2,403.3 785.0,402.9C784.8,402.4 784.7,401.9 784.8,401.4C784.8,401.0 785.0,400.5 785.2,400.0C785.3,399.5 785.6,399.1 785.8,398.7C785.9,398.2 786.0,397.8 786.3,397.4C786.5,397.0 787.1,396.7 787.5,396.3C787.8,395.9 788.0,395.5 788.4,395.2C788.8,394.9 789.3,394.7 789.7,394.4C790.2,394.1 790.5,393.8 790.9,393.5C791.3,393.2 791.7,393.0 792.2,392.7C792.6,392.5 793.0,392.2 793.5,392.0C794.0,391.8 794.6,391.7 795.1,391.5C795.6,391.4 796.1,391.2 796.6,391.0C797.2,390.9 797.7,390.7 798.3,390.6C798.8,390.5 799.4,390.4 800.0,390.4C800.6,390.3 801.2,390.4 801.8,390.3C802.4,390.3 803.0,390.3 803.6,390.3C804.3,390.3 804.9,390.4 805.5,390.5C806.2,390.5 806.9,390.6 807.5,390.7C808.1,390.9 808.7,391.1 809.3,391.3C809.8,391.6 810.3,392.0 810.8,392.3C811.3,392.6 811.8,392.9 812.3,393.3C812.7,393.6 813.1,394.1 813.4,394.5C813.7,394.9 813.9,395.4 814.0,395.9C814.1,396.3 814.2,396.8 814.2,397.3C814.2,397.8 814.1,398.2 814.1,398.7C814.0,399.1 813.9,399.6 813.7,400.0Z" fill="#9fdccb" stroke="none" stroke-width="0.0" opacity="1"/>
<path d="M859.9,390.0C859.9,390.3 859.9,390.7 859.9,391.0C859.9,391.4 859.9,391.7 859.8,392.1C859.7,392.4 859.6,392.8 859.5,393.1C859.4,393.4 859.3,393.8 859.1,394.1C859.0,394.5 858.9,394.8 858.6,395.1C858.4,395.4 858.2,395.7 857.9,395.9C857.6,396.2 857.3,396.3 857.0,396.5C856.7,396.7 856.4,397.0 856.1,397.1C855.8,397.3 855.4,397.3 855.0,397.4C854.7,397.4 854.4,397.5 854.0,397.5C853.7,397.6 853.3,397.6 853.0,397.6C852.7,397.6 852.3,397.8 852.0,397.8C851.7,397.8 851.3,397.8 851.0,397.7C850.6,397.7 850.3,397.7 849.9,397.7C849.6,397.6 849.3,397.5 848.9,397.4C848.6,397.3 848.3,397.2 847.9,397.0C847.6,396.9 847.3,396.7 847.0,396.5C846.7,396.3 846.4,396.1 846.2,395.8C845.9,395.6 845.7,395.3 845.5,395.0C845.3,394.7 845.1,394.4 845.1,394.0C845.0,393.7 845.0,393.3 845.0,392.9C844.9,392.6 844.9,392.3 844.8,391.9C844.8,391.6 844.8,391.3 844.7,391.0C844.7,390.6 844.7,390.3 844.7,390.0C844.6,389.7 844.5,389.3 844.5,389.0C844.4,388.7 844.4,388.3 844.4,388.0C844.4,387.6 844.4,387.2 844.4,386.9C844.5,386.5 844.6,386.1 844.7,385.8C844.8,385.4 845.0,385.1 845.2,384.7C845.3,384.4 845.5,384.0 845.7,383.7C846.0,383.4 846.3,383.1 846.6,382.9C846.9,382.8 847.3,382.7 847.7,382.6C848.1,382.5 848.5,382.4 848.8,382.3C849.2,382.3 849.6,382.3 849.9,382.3C850.3,382.3 850.6,382.3 851.0,382.3C851.3,382.4 851.7,382.4 852.0,382.4C852.3,382.5 852.7,382.5 853.0,382.6C853.3,382.7 853.6,382.8 853.9,382.9C854.2,383.0 854.5,383.0 854.9,383.1C855.2,383.2 855.5,383.2 855.9,383.3C856.2,383.4 856.5,383.5 856.9,383.7C857.2,383.8 857.5,384.0 857.7,384.3C858.0,384.5 858.2,384.8 858.4,385.1C858.6,385.4 858.8,385.7 859.0,386.0C859.1,386.3 859.2,386.6 859.4,387.0C859.5,387.3 859.6,387.6 859.7,387.9C859.8,388.3 859.8,388.6 859.8,389.0C859.9,389.3 859.8,389.7 859.9,390.0Z" fill="#9fdccb" stroke="none" stroke-width="0.0" opacity="1"/>
<path d="M822.8,360.0C822.8,360.3 823.0,360.6 823.0,361.0C823.0,361.3 822.8,361.6 822.8,361.9C822.7,362.3 822.8,362.6 822.7,363.0C822.6,363.3 822.5,363.6 822.3,364.0C822.1,364.3 821.9,364.6 821.6,364.9C821.3,365.2 821.0,365.5 820.6,365.7C820.3,366.0 819.8,366.2 819.4,366.4C819.0,366.6 818.6,366.9 818.1,367.0C817.6,367.2 817.1,367.3 816.6,367.4C816.1,367.4 815.5,367.5 815.0,367.5C814.5,367.6 814.0,367.7 813.5,367.8C813.0,367.8 812.5,367.9 812.0,367.9C811.5,367.9 811.0,367.8 810.5,367.8C809.9,367.8 809.4,367.9 808.8,367.9C808.3,367.8 807.8,367.7 807.3,367.5C806.8,367.4 806.3,367.3 805.8,367.2C805.3,367.0 804.8,366.8 804.4,366.6C804.0,366.4 803.6,366.1 803.2,365.8C802.9,365.6 802.6,365.3 802.3,365.0C802.0,364.7 801.9,364.3 801.7,364.0C801.5,363.6 801.3,363.3 801.1,363.0C801.0,362.7 800.7,362.4 800.6,362.0C800.5,361.7 800.5,361.4 800.4,361.0C800.3,360.7 800.1,360.3 800.0,360.0C799.9,359.7 799.8,359.3 799.8,358.9C799.8,358.6 799.7,358.2 799.8,357.8C800.0,357.5 800.2,357.1 800.4,356.8C800.6,356.5 800.9,356.1 801.2,355.8C801.5,355.5 801.7,355.2 802.1,355.0C802.5,354.7 803.1,354.6 803.6,354.4C804.1,354.2 804.5,354.0 805.0,353.9C805.5,353.8 806.1,353.8 806.5,353.7C807.0,353.6 807.4,353.4 807.9,353.4C808.3,353.3 808.8,353.3 809.3,353.2C809.7,353.2 810.2,353.1 810.6,353.0C811.1,352.9 811.5,352.6 812.0,352.5C812.5,352.4 813.0,352.4 813.5,352.3C814.1,352.2 814.6,352.1 815.2,352.0C815.8,351.9 816.5,351.9 817.0,351.9C817.6,351.9 818.2,352.0 818.8,352.2C819.3,352.3 819.9,352.5 820.4,352.7C820.9,352.9 821.4,353.2 821.7,353.5C822.1,353.8 822.3,354.3 822.5,354.6C822.7,355.0 822.8,355.4 822.9,355.8C823.0,356.2 823.1,356.6 823.1,356.9C823.2,357.3 823.1,357.7 823.0,358.0C823.0,358.4 823.0,358.7 823.0,359.0C822.9,359.4 822.8,359.7 822.8,360.0Z" fill="#9fdccb" stroke="none" stroke-width="0.0" opacity="1"/>
<ellipse cx="778.0" cy="352.0" rx="4.0" ry="7.0" fill="#9fdccb" stroke="#4a8070" stroke-width="1.0" opacity="1" transform="rotate(-20.0 778.0 352.0)"/>
<ellipse cx="803.0" cy="351.4" rx="7.0" ry="5.0" fill="#9fdccb" stroke="#4a8070" stroke-width="1.0" opacity="1" transform="rotate(0.0 803.0 351.4)"/>
<ellipse cx="826.7" cy="346.7" rx="8.0" ry="4.0" fill="#9fdccb" stroke="#4a8070" stroke-width="1.0" opacity="1" transform="rotate(20.0 826.7 346.7)"/>
<ellipse cx="847.5" cy="355.5" rx="9.0" ry="6.0" fill="#9fdccb" stroke="#4a8070" stroke-width="1.0" opacity="1" transform="rotate(30.0 847.5 355.5)"/>
<ellipse cx="781.0" cy="364.0" rx="1.8" ry="1.8" fill="#9fdccb" stroke="#4a8070" stroke-width="1.0" opacity="1" transform="rotate(0.0 781.0 364.0)"/>
<ellipse cx="783.6" cy="376.4" rx="4.5" ry="4.5" fill="#9fdccb" stroke="#4a8070" stroke-width="1.0" opacity="1" transform="rotate(0.0 783.6 376.4)"/>
<ellipse cx="781.7" cy="394.4" rx="5.0" ry="5.0" fill="#9fdccb" stroke="#4a8070" stroke-width="1.0" opacity="1" transform="rotate(0.0 781.7 394.4)"/>
<ellipse cx="851.7" cy="411.0" rx="3.0" ry="5.0" fill="#9fdccb" stroke="#4a8070" stroke-width="1.0" opacity="1" transform="rotate(0.0 851.7 411.0)"/>
<ellipse cx="800.0" cy="418.0" rx="12.0" ry="8.0" fill="#9fdccb" stroke="#4a8070" stroke-width="1.0" opacity="1" transform="rotate(0.0 800.0 418.0)"/>
<ellipse cx="826.7" cy="423.6" rx="9.0" ry="5.0" fill="#9fdccb" stroke="#4a8070" stroke-width="1.0" opacity="1" transform="rotate(0.0 826.7 423.6)"/>
<ellipse cx="843.0" cy="362.0" rx="2.0" ry="2.0" fill="#9fdccb" stroke="#4a8070" stroke-width="1.0" opacity="1" transform="rotate(0.0 843.0 362.0)"/>
<path d="M820.6,375.0C820.6,375.3 820.6,375.7 820.5,376.0C820.5,376.3 820.4,376.7 820.3,377.0C820.2,377.3 820.0,377.6 819.9,377.9C819.8,378.2 819.8,378.6 819.7,378.9C819.5,379.3 819.4,379.6 819.2,379.9C819.0,380.2 818.8,380.5 818.5,380.8C818.3,381.1 818.1,381.4 817.8,381.7C817.5,382.0 817.1,382.2 816.8,382.4C816.4,382.6 816.1,382.8 815.7,382.8C815.3,382.9 814.8,382.9 814.4,382.9C814.0,382.9 813.6,383.0 813.2,383.0C812.8,382.9 812.4,382.8 812.0,382.7C811.6,382.6 811.2,382.6 810.9,382.5C810.5,382.4 810.2,382.2 809.9,382.1C809.5,382.0 809.3,381.7 808.9,381.6C808.6,381.5 808.2,381.6 807.8,381.5C807.4,381.4 807.1,381.2 806.7,381.1C806.4,381.0 806.1,380.8 805.7,380.6C805.3,380.4 804.8,380.3 804.5,380.1C804.2,379.9 804.0,379.6 803.7,379.3C803.4,379.0 803.0,378.7 802.7,378.4C802.5,378.1 802.4,377.7 802.3,377.3C802.2,376.9 802.2,376.5 802.2,376.1C802.2,375.8 802.1,375.4 802.2,375.0C802.3,374.6 802.5,374.3 802.7,373.9C802.9,373.6 803.1,373.2 803.3,372.9C803.6,372.6 803.8,372.3 804.0,372.1C804.2,371.8 804.5,371.5 804.8,371.3C805.0,371.0 805.2,370.8 805.4,370.5C805.7,370.3 806.0,370.1 806.2,369.9C806.5,369.6 806.6,369.3 806.9,369.1C807.2,368.9 807.5,368.7 807.8,368.6C808.1,368.4 808.4,368.2 808.8,368.0C809.1,367.9 809.4,367.8 809.8,367.6C810.1,367.5 810.5,367.2 810.8,367.1C811.2,367.0 811.6,367.1 812.0,367.1C812.4,367.0 812.8,366.9 813.2,366.9C813.6,366.8 814.0,366.9 814.4,367.0C814.8,367.1 815.2,367.2 815.6,367.3C816.0,367.4 816.4,367.6 816.7,367.7C817.1,367.9 817.4,368.1 817.7,368.4C818.1,368.6 818.5,368.7 818.8,369.0C819.1,369.2 819.3,369.6 819.5,369.9C819.7,370.2 819.9,370.6 820.0,370.9C820.2,371.2 820.4,371.5 820.5,371.9C820.6,372.2 820.7,372.6 820.8,372.9C820.8,373.3 820.8,373.6 820.8,374.0C820.8,374.3 820.7,374.7 820.6,375.0Z" fill="#7cc2af" stroke="none" stroke-width="0.0" opacity="1"/>
<path d="M826.8,394.0C826.7,394.3 826.5,394.5 826.4,394.7C826.3,395.0 826.2,395.2 826.2,395.4C826.1,395.6 826.0,395.9 825.9,396.1C825.9,396.3 825.9,396.6 825.8,396.9C825.8,397.1 825.6,397.4 825.5,397.6C825.4,397.9 825.3,398.1 825.1,398.4C825.0,398.6 824.8,398.9 824.6,399.2C824.4,399.4 824.2,399.6 823.9,399.8C823.6,399.9 823.3,400.0 823.0,400.1C822.7,400.3 822.3,400.4 822.0,400.4C821.7,400.5 821.3,400.4 821.0,400.3C820.6,400.3 820.3,400.3 820.0,400.2C819.7,400.2 819.4,400.1 819.1,399.9C818.8,399.8 818.5,399.6 818.3,399.5C818.0,399.4 817.7,399.3 817.5,399.2C817.2,399.1 817.0,399.0 816.7,398.8C816.5,398.7 816.3,398.5 816.1,398.4C815.8,398.2 815.5,398.2 815.3,398.0C815.1,397.9 814.9,397.7 814.7,397.5C814.5,397.3 814.3,397.1 814.1,396.9C813.9,396.7 813.8,396.5 813.7,396.2C813.5,396.0 813.5,395.8 813.4,395.5C813.3,395.3 813.1,395.0 813.1,394.8C813.0,394.5 813.1,394.3 813.1,394.0C813.1,393.7 813.1,393.5 813.1,393.2C813.1,393.0 813.3,392.7 813.3,392.5C813.4,392.2 813.4,391.9 813.5,391.7C813.6,391.4 813.7,391.2 813.8,390.9C813.9,390.7 814.0,390.4 814.1,390.1C814.3,389.9 814.4,389.6 814.6,389.4C814.8,389.2 815.1,389.0 815.4,388.8C815.6,388.7 815.9,388.5 816.2,388.4C816.5,388.2 816.9,388.2 817.2,388.2C817.5,388.1 817.8,388.1 818.2,388.1C818.5,388.1 818.8,388.2 819.1,388.2C819.4,388.2 819.7,388.2 820.0,388.2C820.3,388.3 820.6,388.4 820.8,388.5C821.1,388.6 821.4,388.6 821.7,388.7C821.9,388.7 822.2,388.8 822.5,388.9C822.8,388.9 823.0,389.0 823.3,389.1C823.6,389.2 823.9,389.3 824.1,389.4C824.4,389.5 824.8,389.5 825.1,389.7C825.3,389.8 825.5,390.0 825.8,390.2C826.0,390.4 826.2,390.6 826.4,390.8C826.6,391.0 826.7,391.3 826.8,391.6C826.9,391.8 826.9,392.1 826.9,392.4C827.0,392.7 827.0,392.9 827.0,393.2C827.0,393.5 826.9,393.7 826.8,394.0Z" fill="#7cc2af" stroke="none" stroke-width="0.0" opacity="1"/>
<circle cx="846.2" cy="389.5" r="0.8" fill="#7cc6b2"/>
<circle cx="825.9" cy="406.6" r="0.8" fill="#7cc6b2"/>
<circle cx="831.7" cy="380.8" r="0.8" fill="#7cc6b2"/>
<circle cx="793.9" cy="383.5" r="0.8" fill="#7cc6b2"/>
<circle cx="790.6" cy="396.1" r="0.8" fill="#7cc6b2"/>
<circle cx="823.3" cy="373.8" r="0.8" fill="#7cc6b2"/>
<circle cx="788.9" cy="379.8" r="0.8" fill="#7cc6b2"/>
<circle cx="803.8" cy="379.7" r="0.8" fill="#7cc6b2"/>
<circle cx="796.9" cy="395.5" r="0.8" fill="#7cc6b2"/>
<circle cx="841.1" cy="375.3" r="0.8" fill="#7cc6b2"/>
<text x="800.0" y="390.3" font-size="14.0" fill="#1f2e2e" color="#1f2e2e" stroke-width="0.12" text-anchor="start" textLength="53.0" lengthAdjust="spacingAndGlyphs">Necrosis</text>
<path d="M860,413.7 C880,430 930,432 958,413" stroke="url(#gK)" stroke-width="2.4" fill="none" />
<path d="M965,410.6 L956,420 L953,410 Z" fill="#2e5866"/>
<circle cx="858.0" cy="423.0" r="1.8" fill="#6aa0b0" stroke="none" stroke-width="1.2" opacity="1"/>
<circle cx="874.0" cy="428.0" r="1.8" fill="#6aa0b0" stroke="none" stroke-width="1.2" opacity="1"/>
<circle cx="906.0" cy="430.0" r="1.8" fill="#6aa0b0" stroke="none" stroke-width="1.2" opacity="1"/>
<circle cx="922.0" cy="435.0" r="1.8" fill="#6aa0b0" stroke="none" stroke-width="1.2" opacity="1"/>
<circle cx="940.0" cy="434.0" r="1.8" fill="#6aa0b0" stroke="none" stroke-width="1.2" opacity="1"/>
<circle cx="888.0" cy="432.0" r="1.6" fill="#b0ccd6" stroke="none" stroke-width="1.2" opacity="1"/>
<circle cx="952.0" cy="432.0" r="1.6" fill="#b0ccd6" stroke="none" stroke-width="1.2" opacity="1"/>
<circle cx="955.0" cy="438.0" r="1.6" fill="#b0ccd6" stroke="none" stroke-width="1.2" opacity="1"/>
<text x="894.0" y="409.9" font-size="15.0" fill="#5a86b0" color="#5a86b0" stroke-width="0.12" text-anchor="start" textLength="19.0" lengthAdjust="spacingAndGlyphs">K+</text>
<rect x="924.0" y="371.5" width="9.5" height="5.5" rx="1.0" fill="#4fa8a0" stroke="#3a8a84" stroke-width="0.6" opacity="1"/>
<rect x="934.0" y="371.5" width="9.5" height="5.5" rx="1.0" fill="#4fa8a0" stroke="#3a8a84" stroke-width="0.6" opacity="1"/>
<rect x="924.0" y="378.5" width="9.5" height="5.5" rx="1.0" fill="#4fa8a0" stroke="#3a8a84" stroke-width="0.6" opacity="1"/>
<rect x="934.0" y="378.5" width="9.5" height="5.5" rx="1.0" fill="#4fa8a0" stroke="#3a8a84" stroke-width="0.6" opacity="1"/>
<line x1="943.5" y1="374.0" x2="962.0" y2="374.0" stroke="#3a4a5a" stroke-width="1.0" />
<line x1="943.5" y1="381.0" x2="962.0" y2="381.0" stroke="#3a4a5a" stroke-width="1.0" />
<text x="924.0" y="400.3" font-size="12.5" fill="#7ab0bc" color="#7ab0bc" stroke-width="0.12" text-anchor="start" textLength="26.0" lengthAdjust="spacingAndGlyphs">TCR</text>
<ellipse cx="1001.0" cy="381.7" rx="39.3" ry="37.3" fill="#b4e39a" stroke="#8cc070" stroke-width="1.2" opacity="1" transform="rotate(0.0 1001.0 381.7)"/>
<ellipse cx="1006.0" cy="387.0" rx="24.0" ry="26.0" fill="#a1d484" stroke="none" stroke-width="1.0" opacity="1" transform="rotate(0.0 1006.0 387.0)"/>
<text x="967.6" y="375.3" font-size="12.6" fill="#1e3a1e" color="#1e3a1e" stroke-width="0.12" text-anchor="start" textLength="64.0" lengthAdjust="spacingAndGlyphs">H3K27ac of</text>
<text x="978.3" y="388.3" font-size="12.6" fill="#1e3a1e" color="#1e3a1e" stroke-width="0.12" text-anchor="start" textLength="41.7" lengthAdjust="spacingAndGlyphs">effector</text>
<text x="971.5" y="400.6" font-size="12.6" fill="#1e3a1e" color="#1e3a1e" stroke-width="0.12" text-anchor="start" textLength="55.6" lengthAdjust="spacingAndGlyphs">molecules</text>
<text x="970.5" y="434.4" font-size="11.5" fill="#111" color="#111" stroke-width="0.00" font-weight="bold" text-anchor="start" textLength="23.5" lengthAdjust="spacingAndGlyphs">CD8</text>
<text x="994.5" y="429.5" font-size="6.5" fill="#111" color="#111" stroke-width="0.00" font-weight="bold" text-anchor="start">+</text>
<text x="1002.5" y="434.4" font-size="11.5" fill="#111" color="#111" stroke-width="0.00" font-weight="bold" text-anchor="start" textLength="25.8" lengthAdjust="spacingAndGlyphs">T cell</text>
<circle cx="767.0" cy="468.6" r="2.0" fill="#1e1e1e" stroke="none" stroke-width="1.2" opacity="1"/>
<text x="785.0" y="474.6" font-size="16.1" fill="#1e1e1e" color="#1e1e1e" stroke-width="0.32" text-anchor="start">Increased level of D2-HG and S2-HG</text>
<circle cx="767.0" cy="487.6" r="2.0" fill="#1e1e1e" stroke="none" stroke-width="1.2" opacity="1"/>
<text x="785.0" y="493.6" font-size="16.1" fill="#1e1e1e" color="#1e1e1e" stroke-width="0.32" text-anchor="start">increased frequency of Treg cells</text>
<circle cx="767.0" cy="506.8" r="2.0" fill="#1e1e1e" stroke="none" stroke-width="1.2" opacity="1"/>
<text x="785.0" y="512.8" font-size="16.1" fill="#1e1e1e" color="#1e1e1e" stroke-width="0.32" text-anchor="start">Reduced Th17 polarization</text>
<defs><linearGradient id="gB" x1="0" y1="0" x2="1" y2="0"><stop offset="0" stop-color="#9ab8e0" stop-opacity="0.2"/><stop offset="1" stop-color="#5b8fd0"/></linearGradient><linearGradient id="gR" x1="0" y1="0" x2="1" y2="0"><stop offset="0" stop-color="#d08080" stop-opacity="0.2"/><stop offset="0.4" stop-color="#b8484c"/><stop offset="1" stop-color="#a8383c"/></linearGradient></defs>
<text x="10.6" y="560.2" font-size="23.5" fill="#111" color="#111" stroke-width="0.00" font-weight="bold" text-anchor="start" textLength="11.8" lengthAdjust="spacingAndGlyphs">d</text>
<text x="58.3" y="568.9" font-size="17.7" fill="#111" color="#111" stroke-width="0.00" font-weight="bold" text-anchor="start" textLength="236.0" lengthAdjust="spacingAndGlyphs">Competition of metabolites</text>
<path d="M144.2,638.6C143.8,639.2 143.9,639.8 143.8,640.4C143.7,641.0 143.7,641.6 143.6,642.2C143.5,642.8 143.4,643.4 143.3,644.0C143.2,644.5 143.1,645.1 143.0,645.7C142.9,646.3 142.7,646.9 142.7,647.5C142.6,648.1 142.6,648.6 142.7,649.3C142.9,650.0 143.3,650.7 143.8,651.5C144.3,652.3 145.2,653.2 145.6,654.0C146.0,654.9 146.3,655.7 146.0,656.3C145.7,656.9 144.7,657.2 143.7,657.5C142.8,657.8 141.4,657.8 140.5,658.0C139.6,658.2 138.8,658.4 138.1,658.8C137.5,659.1 137.2,659.5 136.8,659.9C136.4,660.3 136.1,660.8 135.7,661.3C135.4,661.7 135.1,662.1 134.7,662.6C134.4,663.0 134.0,663.5 133.7,663.9C133.4,664.3 133.0,664.7 132.7,665.2C132.4,665.7 132.1,666.1 132.1,666.8C132.0,667.5 132.2,668.4 132.3,669.4C132.5,670.4 133.1,671.9 133.0,672.6C132.9,673.4 132.4,673.8 131.7,673.9C131.0,674.0 129.6,673.3 128.7,673.1C127.8,672.9 126.9,672.6 126.3,672.7C125.6,672.7 125.2,673.1 124.8,673.4C124.3,673.7 123.9,674.1 123.6,674.5C123.2,675.0 122.9,675.5 122.7,676.1C122.4,676.8 122.3,677.7 122.1,678.6C121.9,679.4 121.8,680.5 121.4,681.1C121.0,681.7 120.5,682.1 119.9,682.2C119.3,682.2 118.5,681.8 117.8,681.5C117.0,681.2 116.3,680.8 115.6,680.6C115.0,680.4 114.4,680.4 113.8,680.4C113.3,680.4 112.8,680.6 112.2,680.7C111.7,680.9 111.2,681.0 110.7,681.2C110.2,681.3 109.6,681.4 109.1,681.5C108.6,681.7 108.1,681.7 107.5,681.8C107.0,681.9 106.5,682.0 105.9,682.0C105.4,682.1 104.9,682.1 104.3,682.2C103.8,682.2 103.3,682.2 102.7,682.2C102.2,682.2 101.6,682.2 101.1,682.1C100.6,682.1 100.0,682.0 99.5,682.0C99.0,682.0 98.5,681.9 97.9,682.0C97.4,682.1 96.8,682.2 96.3,682.4C95.7,682.6 95.1,682.9 94.5,683.1C93.9,683.4 93.3,683.4 92.7,683.6C92.1,683.9 91.5,684.0 90.8,684.5C90.1,685.0 89.1,686.4 88.4,686.6C87.8,686.8 87.2,686.5 86.8,685.6C86.5,684.7 86.6,682.4 86.4,681.2C86.2,680.0 86.0,679.0 85.7,678.4C85.4,677.7 84.9,677.6 84.4,677.2C84.0,676.9 83.5,676.7 83.0,676.5C82.6,676.2 82.1,676.0 81.6,675.7C81.1,675.5 80.7,675.2 80.1,675.2C79.5,675.1 78.9,675.2 78.1,675.4C77.3,675.5 76.2,676.2 75.5,676.3C74.8,676.3 74.0,676.3 73.7,675.8C73.3,675.2 73.5,674.0 73.4,673.2C73.4,672.4 73.4,671.4 73.3,670.8C73.1,670.1 72.7,669.7 72.4,669.3C72.1,668.8 71.6,668.5 71.3,668.1C70.9,667.7 70.5,667.3 70.1,666.9C69.7,666.5 69.3,666.1 69.0,665.7C68.6,665.2 68.2,664.8 67.9,664.4C67.5,663.9 67.2,663.5 66.9,663.0C66.5,662.6 66.2,662.1 65.9,661.6C65.6,661.2 65.3,660.7 65.0,660.2C64.7,659.7 64.4,659.2 64.2,658.7C63.9,658.2 63.6,657.7 63.3,657.2C62.9,656.8 62.6,656.3 62.0,655.9C61.4,655.5 60.6,655.2 59.7,654.9C58.8,654.6 57.3,654.5 56.5,654.1C55.7,653.7 54.9,653.2 54.7,652.6C54.5,652.0 55.2,651.1 55.6,650.3C55.9,649.5 56.6,648.7 56.6,648.1C56.6,647.4 56.0,646.9 55.7,646.3C55.4,645.7 54.8,645.1 54.9,644.5C55.0,643.8 55.7,643.1 56.3,642.4C56.8,641.7 57.7,641.1 58.2,640.4C58.6,639.8 58.8,639.2 59.0,638.6C59.2,638.0 59.2,637.5 59.2,636.9C59.2,636.3 59.2,635.7 59.3,635.1C59.3,634.5 59.3,633.9 59.4,633.4C59.4,632.8 59.5,632.2 59.5,631.6C59.6,631.0 59.7,630.4 59.7,629.9C59.8,629.3 59.9,628.7 60.0,628.1C60.1,627.5 60.2,626.9 60.3,626.4C60.5,625.8 60.6,625.2 60.7,624.6C60.9,624.1 61.1,623.5 61.2,622.9C61.4,622.4 61.6,621.8 61.7,621.2C61.8,620.6 62.1,620.1 61.9,619.3C61.7,618.6 61.1,617.6 60.5,616.5C59.8,615.5 58.2,613.7 58.0,612.9C57.8,612.0 58.4,611.5 59.3,611.3C60.2,611.1 62.4,611.8 63.6,611.9C64.8,611.9 65.6,611.9 66.3,611.7C67.0,611.4 67.3,610.9 67.7,610.5C68.1,610.1 68.5,609.7 68.8,609.2C69.2,608.8 69.6,608.4 70.1,608.0C70.5,607.6 70.9,607.2 71.3,606.9C71.8,606.5 72.2,606.2 72.6,605.7C73.0,605.3 73.4,605.0 73.7,604.4C73.9,603.8 74.0,603.0 74.1,602.0C74.1,601.0 73.7,599.5 73.8,598.6C73.9,597.6 74.0,596.5 74.6,596.3C75.2,596.1 76.3,596.7 77.3,597.2C78.3,597.6 79.5,598.7 80.4,599.2C81.3,599.7 82.1,600.0 82.7,600.1C83.4,600.3 83.9,600.1 84.4,600.0C85.0,599.9 85.5,599.8 86.0,599.6C86.4,599.4 86.9,599.2 87.3,598.8C87.8,598.4 88.1,597.7 88.5,597.2C88.9,596.6 89.2,595.7 89.7,595.4C90.2,595.2 90.8,595.4 91.5,595.7C92.1,596.0 92.8,596.8 93.4,597.1C94.0,597.5 94.5,597.7 95.0,597.8C95.6,597.9 96.1,597.8 96.6,597.7C97.1,597.7 97.6,597.7 98.1,597.6C98.6,597.6 99.1,597.5 99.6,597.5C100.1,597.4 100.6,597.4 101.1,597.4C101.6,597.3 102.1,597.3 102.6,597.3C103.1,597.3 103.7,597.3 104.2,597.2C104.7,597.1 105.2,597.1 105.8,596.8C106.3,596.6 106.9,596.0 107.5,595.7C108.1,595.4 108.7,594.9 109.3,595.0C109.8,595.1 110.2,595.7 110.7,596.1C111.2,596.5 111.5,597.1 112.1,597.2C112.6,597.3 113.2,597.0 113.9,596.6C114.6,596.3 115.5,595.4 116.1,595.3C116.7,595.2 117.2,595.7 117.6,596.3C118.0,596.8 118.1,598.0 118.4,598.6C118.8,599.2 119.2,599.6 119.6,599.9C120.0,600.3 120.5,600.5 121.0,600.7C121.5,601.0 122.0,601.2 122.5,601.5C122.9,601.7 123.4,602.0 123.9,602.3C124.3,602.6 124.8,602.9 125.3,603.2C125.7,603.5 126.2,603.8 126.6,604.1C127.0,604.5 127.5,604.8 127.9,605.2C128.3,605.5 128.8,605.9 129.2,606.3C129.6,606.6 130.0,607.0 130.4,607.4C130.8,607.8 131.2,608.2 131.6,608.6C131.9,609.0 132.2,609.5 132.7,609.8C133.2,610.2 133.4,610.7 134.4,610.6C135.4,610.6 137.7,609.5 138.9,609.4C140.1,609.2 141.5,609.1 141.4,609.9C141.4,610.7 139.0,613.1 138.4,614.3C137.8,615.4 137.7,616.1 137.8,616.7C137.8,617.4 138.2,617.8 138.6,618.3C139.0,618.7 139.3,619.2 140.1,619.4C140.9,619.7 142.7,619.6 143.4,620.0C144.0,620.3 144.3,621.0 144.1,621.7C144.0,622.4 142.6,623.6 142.3,624.4C141.9,625.1 142.0,625.7 142.0,626.3C142.1,626.9 142.3,627.5 142.6,628.0C142.9,628.6 143.1,629.1 143.9,629.6C144.6,630.0 146.0,630.4 147.1,630.9C148.3,631.3 150.3,631.8 150.7,632.4C151.1,633.0 150.5,633.8 149.7,634.6C148.9,635.3 147.0,636.1 146.1,636.7C145.1,637.4 144.6,638.0 144.2,638.6Z" fill="#eaeaea" stroke="#9a9a9a" stroke-width="1.3" stroke-linejoin="round" opacity="1"/>
<path d="M115.1,648.0C115.1,648.8 115.0,649.6 115.1,650.4C115.1,651.2 115.4,652.1 115.4,652.9C115.4,653.8 115.2,654.6 115.0,655.5C114.9,656.3 114.7,657.3 114.4,658.1C114.1,659.0 113.8,659.8 113.3,660.6C112.8,661.4 112.2,662.1 111.5,662.8C110.9,663.4 110.1,663.9 109.3,664.4C108.5,664.9 107.6,665.4 106.7,665.7C105.9,666.0 104.8,666.0 103.9,666.1C103.0,666.2 102.1,666.3 101.2,666.4C100.3,666.4 99.4,666.3 98.5,666.2C97.7,666.2 96.8,666.1 96.0,666.0C95.2,665.9 94.4,665.9 93.5,665.8C92.7,665.7 91.9,665.5 91.1,665.3C90.3,665.2 89.4,665.1 88.6,665.0C87.8,664.8 86.8,664.7 86.0,664.4C85.2,664.1 84.4,663.7 83.7,663.2C83.0,662.8 82.3,662.2 81.7,661.6C81.0,661.0 80.3,660.5 79.8,659.8C79.3,659.1 78.9,658.4 78.5,657.6C78.2,656.8 78.1,655.9 77.9,655.1C77.8,654.3 77.7,653.5 77.6,652.7C77.5,651.9 77.5,651.1 77.4,650.3C77.4,649.5 77.2,648.8 77.2,648.0C77.1,647.2 77.1,646.4 77.1,645.6C77.1,644.8 77.2,644.0 77.2,643.2C77.3,642.4 77.4,641.6 77.6,640.7C77.7,639.9 78.0,639.1 78.3,638.3C78.5,637.4 78.9,636.6 79.3,635.8C79.6,635.0 80.0,634.1 80.6,633.3C81.1,632.6 81.9,632.0 82.7,631.5C83.5,631.0 84.3,630.5 85.2,630.2C86.1,629.9 87.0,629.7 88.0,629.5C88.9,629.4 89.8,629.3 90.7,629.3C91.6,629.2 92.5,629.2 93.4,629.3C94.3,629.4 95.1,629.5 96.0,629.6C96.9,629.7 97.7,629.7 98.5,629.8C99.3,630.0 100.1,630.3 100.9,630.5C101.8,630.7 102.6,630.8 103.4,631.0C104.2,631.3 105.0,631.6 105.7,632.0C106.5,632.4 107.3,632.7 108.0,633.2C108.7,633.6 109.4,634.1 110.0,634.7C110.6,635.3 111.2,635.9 111.6,636.6C112.1,637.3 112.3,638.2 112.6,638.9C113.0,639.6 113.5,640.2 113.8,641.0C114.1,641.7 114.2,642.5 114.4,643.3C114.6,644.1 114.7,644.9 114.8,645.6C114.9,646.4 115.0,647.2 115.1,648.0Z" fill="#cfcfcf" stroke="none" stroke-width="0.0" opacity="1"/>
<circle cx="76.3" cy="618.0" r="0.8" fill="#c4c4c4"/>
<circle cx="71.8" cy="649.1" r="0.8" fill="#c4c4c4"/>
<circle cx="128.4" cy="630.5" r="0.8" fill="#c4c4c4"/>
<circle cx="99.3" cy="610.0" r="0.8" fill="#c4c4c4"/>
<circle cx="109.9" cy="632.2" r="0.8" fill="#c4c4c4"/>
<circle cx="121.0" cy="672.1" r="0.8" fill="#c4c4c4"/>
<circle cx="102.2" cy="621.0" r="0.8" fill="#c4c4c4"/>
<circle cx="101.8" cy="624.1" r="0.8" fill="#c4c4c4"/>
<circle cx="86.2" cy="659.8" r="0.8" fill="#c4c4c4"/>
<circle cx="104.9" cy="656.3" r="0.8" fill="#c4c4c4"/>
<circle cx="72.0" cy="639.5" r="0.8" fill="#c4c4c4"/>
<circle cx="89.8" cy="667.7" r="0.8" fill="#c4c4c4"/>
<circle cx="115.1" cy="639.4" r="0.8" fill="#c4c4c4"/>
<circle cx="100.2" cy="654.2" r="0.8" fill="#c4c4c4"/>
<circle cx="91.6" cy="619.3" r="0.8" fill="#c4c4c4"/>
<circle cx="83.9" cy="648.0" r="0.8" fill="#c4c4c4"/>
<g transform="rotate(15.0 146.3 654.2)"><rect x="132.8" y="649.2" width="27" height="10" rx="2" fill="#8aa6e6" stroke="#7590d4" stroke-width="0.8"/><line x1="134.3" y1="654.2" x2="158.3" y2="654.2" stroke="#7590d4" stroke-width="0.8"/></g>
<text x="138.3" y="679.3" font-size="15.0" fill="#94a4cc" color="#94a4cc" stroke-width="0.12" text-anchor="start" textLength="50.6" lengthAdjust="spacingAndGlyphs">SLC6A6</text>
<circle cx="166.7" cy="595.6" r="2.2" fill="#6ea66e" stroke="none" stroke-width="1.2" opacity="1"/>
<circle cx="191.0" cy="595.6" r="2.2" fill="#6ea66e" stroke="none" stroke-width="1.2" opacity="1"/>
<circle cx="166.4" cy="605.3" r="2.2" fill="#6ea66e" stroke="none" stroke-width="1.2" opacity="1"/>
<circle cx="179.4" cy="601.4" r="2.2" fill="#6ea66e" stroke="none" stroke-width="1.2" opacity="1"/>
<circle cx="156.7" cy="613.3" r="2.2" fill="#6ea66e" stroke="none" stroke-width="1.2" opacity="1"/>
<circle cx="191.0" cy="613.3" r="2.2" fill="#6ea66e" stroke="none" stroke-width="1.2" opacity="1"/>
<circle cx="200.6" cy="613.3" r="2.2" fill="#6ea66e" stroke="none" stroke-width="1.2" opacity="1"/>
<circle cx="175.0" cy="624.0" r="2.2" fill="#6ea66e" stroke="none" stroke-width="1.2" opacity="1"/>
<circle cx="202.8" cy="600.0" r="2.2" fill="#98c498" stroke="none" stroke-width="1.2" opacity="1"/>
<circle cx="178.7" cy="613.3" r="2.2" fill="#98c498" stroke="none" stroke-width="1.2" opacity="1"/>
<circle cx="177.8" cy="593.7" r="2.2" fill="#d4ded4" stroke="none" stroke-width="1.2" opacity="1"/>
<circle cx="166.0" cy="621.0" r="2.2" fill="#d4ded4" stroke="none" stroke-width="1.2" opacity="1"/>
<ellipse cx="264.4" cy="642.1" rx="46.2" ry="43.0" fill="#a6d8a6" stroke="#6a9e6c" stroke-width="1.2" opacity="1" transform="rotate(0.0 264.4 642.1)"/>
<ellipse cx="270.0" cy="640.6" rx="28.0" ry="27.0" fill="#7cbf87" stroke="#6aa672" stroke-width="0.8" opacity="1" transform="rotate(0.0 270.0 640.6)"/>
<path d="M146.7,618.3 C152,602 172,596 188,601.5 S215,614 228.5,622.5" stroke="url(#gR)" stroke-width="2.4" fill="none" />
<line x1="225.6" y1="628.3" x2="233.3" y2="618.3" stroke="#a8383c" stroke-width="2.4" />
<text x="243.1" y="631.3" font-size="13.5" fill="#1a2e1e" color="#1a2e1e" stroke-width="0.12" text-anchor="start" textLength="42.6" lengthAdjust="spacingAndGlyphs">taurine</text>
<text x="233.8" y="645.8" font-size="13.5" fill="#1a2e1e" color="#1a2e1e" stroke-width="0.12" text-anchor="start" textLength="61.2" lengthAdjust="spacingAndGlyphs">deficiency</text>
<text x="249.0" y="660.3" font-size="13.5" fill="#1a2e1e" color="#1a2e1e" stroke-width="0.12" text-anchor="start" textLength="30.4" lengthAdjust="spacingAndGlyphs">ATF4</text>
<text x="227.6" y="700.8" font-size="13.5" fill="#111" color="#111" stroke-width="0.00" font-weight="bold" text-anchor="start" textLength="75.7" lengthAdjust="spacingAndGlyphs">CD8+ T cell</text>
<path d="M147.0,760.6C146.4,761.2 145.9,761.7 145.5,762.2C145.2,762.7 145.1,763.2 145.0,763.7C144.8,764.3 144.8,764.8 144.7,765.3C144.6,765.8 144.5,766.3 144.4,766.8C144.3,767.3 144.1,767.8 144.0,768.3C143.9,768.9 143.7,769.3 143.8,769.9C143.9,770.4 144.0,771.0 144.4,771.7C144.8,772.3 145.9,773.2 146.2,773.9C146.4,774.5 146.3,775.2 145.8,775.6C145.3,776.0 143.8,776.0 143.0,776.3C142.2,776.6 141.6,776.9 141.1,777.2C140.6,777.6 140.5,778.1 140.2,778.5C139.9,779.0 139.6,779.4 139.4,779.9C139.3,780.4 139.0,780.9 139.1,781.6C139.2,782.2 139.6,783.1 140.1,784.1C140.6,785.1 141.9,786.6 142.1,787.5C142.3,788.3 142.1,789.1 141.4,789.2C140.6,789.4 138.7,788.8 137.5,788.5C136.4,788.3 135.1,788.0 134.3,788.0C133.4,788.0 133.0,788.3 132.5,788.5C132.0,788.8 131.6,789.2 131.2,789.5C130.8,789.9 130.4,790.2 130.0,790.6C129.6,790.9 129.2,791.2 128.7,791.5C128.3,791.9 127.9,792.2 127.5,792.5C127.0,792.8 126.6,793.1 126.1,793.4C125.7,793.7 125.2,794.0 124.8,794.3C124.3,794.6 123.9,794.8 123.4,795.1C122.9,795.4 122.5,795.6 122.0,795.9C121.5,796.2 121.1,796.4 120.6,796.9C120.2,797.3 119.9,797.7 119.5,798.4C119.2,799.1 119.1,800.3 118.7,801.0C118.4,801.7 118.0,802.5 117.4,802.7C116.9,802.9 116.0,802.3 115.3,802.0C114.6,801.7 113.8,801.1 113.2,800.8C112.5,800.6 112.0,800.6 111.4,800.7C110.8,800.7 110.3,800.9 109.7,801.0C109.2,801.2 108.6,801.1 108.1,801.5C107.6,802.0 107.1,802.4 106.6,803.5C106.0,804.5 105.5,807.3 104.9,807.9C104.4,808.4 103.6,807.5 103.0,806.7C102.4,805.9 101.8,803.9 101.2,803.2C100.6,802.5 100.1,802.6 99.5,802.4C98.9,802.3 98.3,802.4 97.8,802.4C97.2,802.3 96.6,802.3 96.0,802.2C95.4,802.2 94.9,802.0 94.3,802.0C93.7,802.1 93.1,801.9 92.4,802.5C91.6,803.1 90.5,804.8 89.5,805.7C88.6,806.6 87.3,808.3 86.7,808.0C86.1,807.7 86.3,805.2 86.1,803.8C86.0,802.5 86.0,800.9 85.7,800.1C85.4,799.2 84.9,799.1 84.4,798.7C83.9,798.4 83.4,798.2 82.9,797.9C82.4,797.6 81.9,797.3 81.4,797.0C81.0,796.7 80.5,796.4 80.0,796.1C79.5,795.8 79.0,795.5 78.4,795.4C77.9,795.2 77.2,795.1 76.4,795.2C75.7,795.3 74.6,795.6 73.7,795.8C72.8,795.9 71.7,796.2 71.0,796.0C70.4,795.8 70.0,795.2 69.9,794.5C69.8,793.7 70.1,792.5 70.2,791.6C70.3,790.7 70.5,789.8 70.5,789.0C70.5,788.3 70.3,787.8 70.0,787.2C69.8,786.7 69.4,786.3 69.1,785.9C68.8,785.4 68.5,785.0 68.1,784.6C67.8,784.1 67.5,783.7 67.1,783.3C66.8,782.8 66.5,782.4 66.2,781.9C65.9,781.5 65.6,781.1 65.3,780.6C65.0,780.1 64.7,779.7 64.4,779.2C64.1,778.8 63.9,778.3 63.6,777.8C63.3,777.4 63.0,776.9 62.6,776.5C62.1,776.0 61.6,775.7 60.9,775.3C60.3,774.9 59.2,774.7 58.7,774.2C58.2,773.8 57.7,773.3 57.7,772.7C57.7,772.1 58.3,771.3 58.6,770.7C58.9,770.0 59.3,769.4 59.5,768.8C59.6,768.2 59.5,767.7 59.5,767.1C59.5,766.6 59.4,766.1 59.3,765.5C59.2,765.0 59.2,764.4 59.1,763.9C59.1,763.3 59.1,762.8 59.0,762.3C59.0,761.7 59.1,761.2 58.8,760.6C58.5,760.1 57.8,759.5 57.1,758.9C56.4,758.3 54.8,757.6 54.7,757.0C54.6,756.4 55.8,755.9 56.5,755.4C57.3,754.9 58.9,754.6 59.3,754.1C59.8,753.6 59.6,753.0 59.2,752.4C58.8,751.7 56.8,750.7 56.8,750.1C56.7,749.5 58.0,749.2 58.9,748.9C59.7,748.5 61.2,748.3 61.9,748.0C62.5,747.6 62.6,747.1 62.9,746.6C63.1,746.1 63.4,745.7 63.6,745.2C63.9,744.7 64.2,744.3 64.4,743.8C64.7,743.3 65.0,742.9 65.2,742.4C65.4,741.9 65.7,741.5 65.4,740.7C65.1,739.9 64.1,738.7 63.5,737.7C62.9,736.7 61.7,735.2 62.0,734.7C62.2,734.2 64.1,734.6 65.3,734.7C66.5,734.8 68.3,735.4 69.2,735.4C70.2,735.5 70.6,735.1 71.1,734.8C71.6,734.5 71.9,734.1 72.2,733.7C72.6,733.4 73.0,733.0 73.4,732.6C73.8,732.2 74.2,731.9 74.6,731.5C75.0,731.2 75.4,730.8 75.8,730.5C76.2,730.1 76.6,729.8 77.0,729.5C77.5,729.1 77.9,728.8 78.3,728.5C78.8,728.2 79.2,727.9 79.7,727.6C80.1,727.3 80.6,727.0 81.0,726.7C81.5,726.4 82.0,726.2 82.4,725.9C82.9,725.6 83.4,725.4 83.9,725.1C84.4,724.9 84.9,724.7 85.4,724.5C85.9,724.2 86.4,724.0 86.9,723.8C87.4,723.6 87.9,723.4 88.4,723.2C88.9,723.1 89.5,722.9 90.0,722.7C90.5,722.5 91.0,722.3 91.5,721.9C91.9,721.6 92.3,720.9 92.8,720.3C93.2,719.8 93.6,719.0 94.2,718.8C94.8,718.7 95.5,719.2 96.1,719.4C96.7,719.6 97.4,720.3 97.9,720.0C98.5,719.8 98.9,718.3 99.4,718.0C100.0,717.7 100.6,717.9 101.2,718.2C101.8,718.6 102.4,720.0 103.0,720.4C103.6,720.8 104.1,720.7 104.6,720.8C105.2,720.8 105.7,720.8 106.3,720.8C106.8,720.8 107.4,720.8 108.0,720.9C108.5,720.9 109.1,720.9 109.6,721.0C110.2,721.0 110.7,721.1 111.3,721.1C111.8,721.2 112.4,721.2 113.0,721.3C113.5,721.4 114.1,721.5 114.6,721.5C115.2,721.6 115.7,721.7 116.3,721.8C116.9,721.8 117.5,721.9 118.1,721.8C118.8,721.7 119.5,721.4 120.2,721.2C120.9,721.1 121.8,720.7 122.4,720.8C123.0,720.9 123.5,721.3 123.9,721.7C124.4,722.1 124.6,722.9 125.1,723.3C125.5,723.8 125.9,724.2 126.4,724.5C126.8,724.8 127.4,725.1 127.9,725.3C128.4,725.6 129.0,725.8 129.5,726.1C130.0,726.4 130.5,726.7 131.1,726.9C131.7,727.1 132.2,727.3 133.1,727.3C133.9,727.3 135.2,726.7 136.1,726.7C137.1,726.6 138.2,726.5 138.6,726.9C139.0,727.4 138.5,728.7 138.5,729.6C138.4,730.5 138.1,731.5 138.2,732.2C138.3,732.8 138.6,733.3 139.0,733.8C139.3,734.3 139.6,734.7 140.1,735.1C140.7,735.4 141.3,735.7 142.0,735.9C142.7,736.2 143.8,736.3 144.2,736.7C144.6,737.2 144.6,737.9 144.5,738.6C144.5,739.3 143.9,740.2 143.8,740.9C143.7,741.6 143.8,742.2 143.9,742.8C143.9,743.4 144.1,743.9 144.3,744.4C144.4,745.0 144.6,745.5 144.7,746.1C144.8,746.6 144.9,747.2 145.0,747.7C145.1,748.2 145.2,748.8 145.3,749.3C145.3,749.9 145.4,750.4 145.4,751.0C145.5,751.5 145.5,752.1 145.7,752.6C145.9,753.1 146.1,753.6 146.7,754.1C147.2,754.6 148.2,755.0 148.9,755.5C149.5,756.0 150.6,756.5 150.7,757.1C150.8,757.6 150.2,758.3 149.6,758.9C149.0,759.5 147.7,760.1 147.0,760.6Z" fill="#eaeaea" stroke="#9a9a9a" stroke-width="1.3" stroke-linejoin="round" opacity="1"/>
<path d="M116.1,770.0C116.3,770.8 116.5,771.7 116.5,772.6C116.5,773.4 116.4,774.3 116.3,775.2C116.1,776.0 116.0,776.9 115.6,777.7C115.2,778.5 114.6,779.2 114.1,779.9C113.6,780.7 113.1,781.4 112.5,782.0C111.9,782.6 111.0,783.1 110.3,783.6C109.6,784.1 108.8,784.6 108.1,785.0C107.3,785.4 106.5,785.6 105.7,786.0C105.0,786.4 104.2,786.8 103.5,787.1C102.7,787.4 101.9,787.6 101.0,787.9C100.2,788.1 99.4,788.3 98.6,788.5C97.7,788.7 96.9,789.0 96.0,789.1C95.1,789.1 94.3,789.0 93.4,788.9C92.5,788.9 91.6,788.9 90.7,788.7C89.8,788.6 89.0,788.4 88.1,788.1C87.2,787.8 86.3,787.6 85.6,787.2C84.8,786.7 84.2,786.0 83.6,785.4C82.9,784.8 82.3,784.2 81.8,783.5C81.2,782.9 80.7,782.2 80.3,781.4C79.8,780.7 79.4,780.0 79.1,779.3C78.8,778.5 78.6,777.7 78.4,776.9C78.2,776.1 78.1,775.4 77.8,774.6C77.6,773.9 77.3,773.1 77.1,772.4C76.9,771.6 76.9,770.8 76.9,770.0C76.8,769.2 76.7,768.4 76.8,767.6C76.8,766.8 77.0,766.0 77.2,765.2C77.3,764.4 77.3,763.5 77.6,762.7C77.8,761.9 78.2,761.2 78.5,760.4C78.9,759.6 79.2,758.9 79.7,758.1C80.1,757.4 80.6,756.6 81.2,755.9C81.8,755.3 82.5,754.7 83.2,754.1C83.9,753.6 84.7,753.1 85.5,752.7C86.3,752.4 87.2,752.1 88.1,751.8C88.9,751.5 89.8,751.2 90.6,751.0C91.5,750.7 92.4,750.5 93.3,750.4C94.2,750.4 95.1,750.5 96.0,750.6C96.9,750.7 97.8,750.8 98.6,750.9C99.5,751.1 100.4,751.2 101.2,751.5C102.0,751.8 102.8,752.3 103.6,752.7C104.3,753.1 105.1,753.5 105.7,754.0C106.4,754.4 107.0,755.0 107.6,755.6C108.3,756.1 109.0,756.6 109.5,757.2C110.1,757.7 110.5,758.4 110.9,759.1C111.4,759.8 111.7,760.5 112.1,761.1C112.5,761.8 112.9,762.5 113.4,763.2C113.8,763.9 114.4,764.5 114.8,765.2C115.1,766.0 115.2,766.8 115.4,767.6C115.7,768.4 115.9,769.2 116.1,770.0Z" fill="#cfcfcf" stroke="none" stroke-width="0.0" opacity="1"/>
<circle cx="82.2" cy="769.9" r="0.8" fill="#c4c4c4"/>
<circle cx="125.4" cy="749.3" r="0.8" fill="#c4c4c4"/>
<circle cx="130.8" cy="779.0" r="0.8" fill="#c4c4c4"/>
<circle cx="119.4" cy="771.0" r="0.8" fill="#c4c4c4"/>
<circle cx="129.8" cy="775.7" r="0.8" fill="#c4c4c4"/>
<circle cx="119.1" cy="739.5" r="0.8" fill="#c4c4c4"/>
<circle cx="108.7" cy="795.1" r="0.8" fill="#c4c4c4"/>
<circle cx="118.4" cy="747.5" r="0.8" fill="#c4c4c4"/>
<circle cx="98.1" cy="792.0" r="0.8" fill="#c4c4c4"/>
<circle cx="138.2" cy="757.1" r="0.8" fill="#c4c4c4"/>
<circle cx="125.6" cy="741.8" r="0.8" fill="#c4c4c4"/>
<circle cx="106.9" cy="790.8" r="0.8" fill="#c4c4c4"/>
<circle cx="75.2" cy="775.6" r="0.8" fill="#c4c4c4"/>
<circle cx="83.9" cy="764.4" r="0.8" fill="#c4c4c4"/>
<circle cx="111.8" cy="756.6" r="0.8" fill="#c4c4c4"/>
<circle cx="90.3" cy="781.0" r="0.8" fill="#c4c4c4"/>
<g transform="rotate(15.0 146.3 776.0)"><rect x="132.8" y="771.0" width="27" height="10" rx="2" fill="#8aa6e6" stroke="#7590d4" stroke-width="0.8"/><line x1="134.3" y1="776.0" x2="158.3" y2="776.0" stroke="#7590d4" stroke-width="0.8"/></g>
<text x="134.0" y="801.3" font-size="14.0" fill="#94a4cc" color="#94a4cc" stroke-width="0.12" text-anchor="start" textLength="60.0" lengthAdjust="spacingAndGlyphs">SLC43A2</text>
<circle cx="169.4" cy="740.8" r="2.2" fill="#3f7f88" stroke="none" stroke-width="1.2" opacity="1"/>
<circle cx="180.6" cy="740.8" r="2.2" fill="#3f7f88" stroke="none" stroke-width="1.2" opacity="1"/>
<circle cx="204.4" cy="738.6" r="2.2" fill="#3f7f88" stroke="none" stroke-width="1.2" opacity="1"/>
<circle cx="180.0" cy="757.2" r="2.2" fill="#3f7f88" stroke="none" stroke-width="1.2" opacity="1"/>
<circle cx="189.4" cy="754.8" r="2.2" fill="#3f7f88" stroke="none" stroke-width="1.2" opacity="1"/>
<circle cx="190.6" cy="739.7" r="2.2" fill="#6ea0a8" stroke="none" stroke-width="1.2" opacity="1"/>
<circle cx="215.0" cy="742.2" r="2.2" fill="#b8d0d4" stroke="none" stroke-width="1.2" opacity="1"/>
<circle cx="196.7" cy="732.6" r="2.2" fill="#b8d0d4" stroke="none" stroke-width="1.2" opacity="1"/>
<circle cx="164.4" cy="750.0" r="2.2" fill="#b8d0d4" stroke="none" stroke-width="1.2" opacity="1"/>
<circle cx="201.4" cy="753.3" r="2.2" fill="#b8d0d4" stroke="none" stroke-width="1.2" opacity="1"/>
<ellipse cx="264.4" cy="764.6" rx="46.2" ry="43.0" fill="#dcf4d3" stroke="#8cb585" stroke-width="1.2" opacity="1" transform="rotate(0.0 264.4 764.6)"/>
<ellipse cx="272.6" cy="762.5" rx="26.5" ry="26.5" fill="#c3e4b3" stroke="none" stroke-width="1.0" opacity="1" transform="rotate(0.0 272.6 762.5)"/>
<path d="M154.4,758.3 C170,752 190,744 205.6,743.3 C218,743 226,748 231,754.5" stroke="url(#gR)" stroke-width="2.2" fill="none" />
<line x1="226.7" y1="758.9" x2="235.0" y2="750.3" stroke="#a8383c" stroke-width="2.2" />
<text x="232.7" y="749.6" font-size="13.5" fill="#1a2e1e" color="#1a2e1e" stroke-width="0.12" text-anchor="start" textLength="67.5" lengthAdjust="spacingAndGlyphs">methionine</text>
<text x="235.9" y="764.1" font-size="13.5" fill="#1a2e1e" color="#1a2e1e" stroke-width="0.12" text-anchor="start" textLength="61.1" lengthAdjust="spacingAndGlyphs">deficiency</text>
<text x="235.9" y="779.6" font-size="13.5" fill="#1a2e1e" color="#1a2e1e" stroke-width="0.12" text-anchor="start" textLength="61.1" lengthAdjust="spacingAndGlyphs">H3K4me2</text>
<text x="235.9" y="819.0" font-size="13.5" fill="#111" color="#111" stroke-width="0.00" font-weight="bold" text-anchor="start" textLength="56.0" lengthAdjust="spacingAndGlyphs">Treg cell</text>
<ellipse cx="107.3" cy="869.0" rx="45.7" ry="43.0" fill="#d9f0cd" stroke="#86b97a" stroke-width="1.3" opacity="1" transform="rotate(0.0 107.3 869.0)"/>
<ellipse cx="102.0" cy="870.5" rx="27.5" ry="25.8" fill="#bfe2ad" stroke="none" stroke-width="0.8" opacity="1" transform="rotate(0.0 102.0 870.5)"/>
<text x="105.0" y="861.8" font-size="15.0" fill="#1a2e1e" color="#1a2e1e" stroke-width="0.12" text-anchor="middle" textLength="30.0" lengthAdjust="spacingAndGlyphs">Gclc</text>
<text x="105.8" y="877.3" font-size="15.0" fill="#1a2e1e" color="#1a2e1e" stroke-width="0.12" text-anchor="middle" textLength="48.4" lengthAdjust="spacingAndGlyphs">mutant</text>
<path d="M155.0,854.0 Q183.8,830.2 219.4,855.5" stroke="url(#gB)" stroke-width="2.6" fill="none" />
<path d="M224.4,859.0 L214.4,858.5 L219.4,849.5 Z" fill="#5b8fd0"/>
<ellipse cx="265.5" cy="870.8" rx="45.5" ry="42.8" fill="#d9f0cd" stroke="#86b97a" stroke-width="1.3" opacity="1" transform="rotate(0.0 265.5 870.8)"/>
<ellipse cx="262.0" cy="874.0" rx="27.0" ry="25.4" fill="#bfe2ad" stroke="none" stroke-width="0.8" opacity="1" transform="rotate(0.0 262.0 874.0)"/>
<text x="264.2" y="858.3" font-size="15.0" fill="#1a2e1e" color="#1a2e1e" stroke-width="0.12" text-anchor="middle" textLength="39.5" lengthAdjust="spacingAndGlyphs">serine</text>
<text x="266.0" y="874.3" font-size="15.0" fill="#1a2e1e" color="#1a2e1e" stroke-width="0.12" text-anchor="middle" textLength="90.0" lengthAdjust="spacingAndGlyphs">accumulation</text>
<text x="241.0" y="889.9" font-size="15.0" fill="#1a2e1e" color="#1a2e1e" stroke-width="0.12" text-anchor="start" textLength="38.0" lengthAdjust="spacingAndGlyphs">foxp3</text>
<path d="M284.35,890.12 L287.20,886.12 L285.83,886.12 L285.83,879.02 L282.87,879.02 L282.87,886.12 L281.50,886.12 Z" fill="#111"/>
<text x="74.6" y="930.2" font-size="14.0" fill="#111" color="#111" stroke-width="0.00" font-weight="bold" text-anchor="start" textLength="55.2" lengthAdjust="spacingAndGlyphs">Treg cell</text>
<text x="245.2" y="930.2" font-size="14.0" fill="#111" color="#111" stroke-width="0.00" font-weight="bold" text-anchor="start" textLength="55.2" lengthAdjust="spacingAndGlyphs">Treg cell</text>
<ellipse cx="113.2" cy="984.5" rx="45.6" ry="42.9" fill="#dcf4d3" stroke="#8cb585" stroke-width="1.3" opacity="1" transform="rotate(0.0 113.2 984.5)"/>
<ellipse cx="108.1" cy="987.2" rx="27.2" ry="25.6" fill="#c3e4b3" stroke="none" stroke-width="0.8" opacity="1" transform="rotate(0.0 108.1 987.2)"/>
<text x="83.6" y="977.8" font-size="15.0" fill="#1e2e1e" color="#1e2e1e" stroke-width="0.12" text-anchor="start" textLength="54.6" lengthAdjust="spacingAndGlyphs">arginine</text>
<text x="76.8" y="994.6" font-size="15.0" fill="#1e2e1e" color="#1e2e1e" stroke-width="0.12" text-anchor="start" textLength="68.2" lengthAdjust="spacingAndGlyphs">deficiency</text>
<path d="M160.0,970.0 Q189.7,948.2 224.7,971.6" stroke="url(#gB)" stroke-width="2.6" fill="none" />
<path d="M229.7,975.1 L219.7,974.6 L224.7,965.6 Z" fill="#5b8fd0"/>
<ellipse cx="270.8" cy="987.8" rx="45.8" ry="43.1" fill="#d9f0cd" stroke="#86b97a" stroke-width="1.3" opacity="1" transform="rotate(0.0 270.8 987.8)"/>
<ellipse cx="270.0" cy="992.0" rx="27.0" ry="25.4" fill="#bfe2ad" stroke="none" stroke-width="0.8" opacity="1" transform="rotate(0.0 270.0 992.0)"/>
<text x="272.3" y="976.3" font-size="15.0" fill="#1a2e1e" color="#1a2e1e" stroke-width="0.12" text-anchor="middle" textLength="39.4" lengthAdjust="spacingAndGlyphs">ATF4-</text>
<text x="271.5" y="991.9" font-size="15.0" fill="#1a2e1e" color="#1a2e1e" stroke-width="0.12" text-anchor="middle" textLength="65.0" lengthAdjust="spacingAndGlyphs">SLC7A11-</text>
<text x="272.0" y="1007.8" font-size="15.0" fill="#1a2e1e" color="#1a2e1e" stroke-width="0.12" text-anchor="middle" textLength="28.0" lengthAdjust="spacingAndGlyphs">GSH</text>
<text x="107.0" y="1046.1" font-size="14.0" fill="#111" color="#111" stroke-width="0.00" font-weight="bold" text-anchor="middle" textLength="56.5" lengthAdjust="spacingAndGlyphs">Treg cell</text>
<text x="278.0" y="1046.1" font-size="14.0" fill="#111" color="#111" stroke-width="0.00" font-weight="bold" text-anchor="middle" textLength="56.0" lengthAdjust="spacingAndGlyphs">Treg cell</text>
<circle cx="62.2" cy="1073.7" r="2.0" fill="#1e1e1e" stroke="none" stroke-width="1.2" opacity="1"/>
<text x="77.2" y="1080.7" font-size="16.1" fill="#1e1e1e" color="#1e1e1e" stroke-width="0.32" text-anchor="start">Decreased cytotoxic CD8+ T cells</text>
<circle cx="62.2" cy="1093.2" r="2.0" fill="#1e1e1e" stroke="none" stroke-width="1.2" opacity="1"/>
<text x="77.2" y="1100.2" font-size="16.1" fill="#1e1e1e" color="#1e1e1e" stroke-width="0.32" text-anchor="start">Increased repressive Treg cells</text>
<text x="411.0" y="559.5" font-size="23.5" fill="#111" color="#111" stroke-width="0.00" font-weight="bold" text-anchor="start">e</text>
<text x="450.0" y="568.6" font-size="17.7" fill="#111" color="#111" stroke-width="0.00" font-weight="bold" text-anchor="start" textLength="211.0" lengthAdjust="spacingAndGlyphs">Pro-tumor myeloid cells</text>
<path d="M518.7,638.4C518.8,638.9 519.0,639.5 519.3,640.2C519.6,640.8 519.9,641.4 520.2,642.0C520.4,642.7 520.6,643.3 520.8,644.0C521.0,644.6 521.3,645.3 521.4,645.9C521.5,646.6 521.9,647.4 521.4,647.9C520.9,648.4 519.3,648.7 518.5,649.1C517.8,649.6 517.1,650.0 516.7,650.5C516.3,651.0 516.2,651.5 516.1,652.1C516.0,652.7 516.0,653.3 516.1,653.9C516.1,654.6 516.5,655.4 516.6,656.1C516.7,656.8 516.9,657.6 516.6,658.1C516.4,658.7 515.8,659.1 515.2,659.4C514.6,659.8 513.7,659.9 513.0,660.2C512.4,660.5 511.8,660.8 511.3,661.1C510.8,661.5 510.4,661.9 510.0,662.3C509.6,662.7 509.3,663.2 508.9,663.6C508.6,664.0 508.2,664.4 507.8,664.8C507.5,665.2 507.1,665.6 506.7,666.0C506.4,666.4 506.0,666.8 505.6,667.2C505.2,667.5 504.8,667.9 504.4,668.3C504.1,668.7 503.7,669.0 503.3,669.4C502.9,669.7 502.5,670.1 502.1,670.4C501.7,670.8 501.2,671.1 500.9,671.5C500.5,671.9 500.1,672.2 499.7,672.7C499.4,673.1 499.1,673.7 498.9,674.3C498.6,674.9 498.5,675.7 498.2,676.5C498.0,677.2 497.9,678.1 497.6,678.8C497.2,679.4 496.9,680.0 496.4,680.3C495.8,680.5 495.1,680.3 494.4,680.1C493.6,679.9 492.8,679.2 492.1,679.0C491.4,678.8 490.9,678.8 490.3,678.8C489.7,678.9 489.3,679.1 488.8,679.3C488.3,679.5 487.8,679.7 487.3,679.9C486.8,680.1 486.3,680.3 485.8,680.5C485.2,680.6 484.7,680.8 484.2,680.9C483.7,681.1 483.2,681.2 482.6,681.3C482.1,681.4 481.6,681.5 481.1,681.6C480.5,681.7 480.0,681.8 479.5,681.8C478.9,681.9 478.4,681.9 477.8,682.0C477.3,682.1 476.8,682.2 476.2,682.6C475.7,682.9 475.1,683.8 474.5,684.0C474.0,684.2 473.4,684.2 472.9,683.9C472.3,683.5 471.9,682.5 471.4,682.1C470.9,681.6 470.4,681.4 469.8,681.2C469.3,680.9 468.8,680.8 468.3,680.7C467.8,680.5 467.3,680.4 466.8,680.2C466.3,680.0 465.8,679.8 465.3,679.6C464.8,679.4 464.3,679.2 463.8,679.0C463.3,678.8 462.8,678.5 462.3,678.5C461.7,678.4 461.2,678.4 460.5,678.8C459.7,679.1 458.7,680.2 457.9,680.6C457.0,681.1 456.0,681.8 455.5,681.4C455.1,681.1 455.1,679.7 455.0,678.6C454.9,677.6 455.0,676.2 454.9,675.3C454.7,674.5 454.4,674.1 454.0,673.6C453.7,673.1 453.2,672.9 452.8,672.6C452.4,672.3 451.9,672.0 451.5,671.7C451.0,671.4 450.6,671.1 449.9,671.1C449.2,671.1 448.3,671.3 447.2,671.7C446.0,672.2 443.9,673.6 442.9,673.7C442.0,673.8 441.4,673.4 441.4,672.5C441.3,671.7 442.4,669.8 442.7,668.7C443.0,667.6 443.2,666.8 443.2,666.0C443.1,665.3 442.8,664.9 442.5,664.4C442.2,663.9 441.8,663.4 441.5,663.0C441.1,662.6 440.7,662.1 440.4,661.7C440.0,661.2 439.6,660.8 439.3,660.3C439.0,659.8 438.6,659.4 438.3,658.9C438.0,658.4 437.7,657.9 437.3,657.4C437.0,656.9 436.7,656.4 436.3,655.9C435.9,655.4 435.3,655.0 434.8,654.6C434.3,654.1 433.6,653.7 433.3,653.2C433.0,652.6 433.2,651.9 433.2,651.2C433.3,650.6 433.6,649.9 433.6,649.2C433.6,648.6 433.5,648.0 433.4,647.4C433.3,646.8 433.2,646.2 433.0,645.6C432.8,645.0 432.5,644.5 432.2,643.9C431.8,643.3 431.2,642.7 431.0,642.1C430.8,641.5 430.8,640.9 431.0,640.2C431.2,639.6 431.8,639.0 432.1,638.4C432.4,637.7 432.7,637.1 432.9,636.5C433.0,635.9 433.1,635.4 433.2,634.8C433.3,634.2 433.4,633.6 433.4,633.0C433.3,632.4 433.1,631.7 432.7,631.0C432.4,630.4 431.4,629.5 431.2,628.9C431.1,628.2 431.4,627.6 431.9,627.1C432.5,626.6 433.7,626.3 434.4,625.8C435.1,625.4 435.5,624.9 435.9,624.4C436.2,623.9 436.4,623.4 436.6,622.9C436.9,622.3 437.1,621.8 437.4,621.3C437.6,620.7 437.9,620.2 438.1,619.7C438.4,619.2 438.7,618.7 438.9,618.2C439.1,617.6 439.4,617.2 439.5,616.5C439.6,615.9 439.6,615.2 439.4,614.4C439.2,613.6 438.5,612.4 438.3,611.5C438.2,610.6 438.0,609.6 438.4,609.2C438.8,608.7 439.9,608.8 440.9,608.8C441.8,608.7 443.0,609.1 443.9,609.0C444.7,609.0 445.3,608.8 445.9,608.6C446.4,608.3 446.9,608.0 447.1,607.5C447.4,606.9 447.3,606.0 447.5,605.3C447.6,604.6 447.4,603.4 447.9,603.1C448.4,602.9 449.7,603.5 450.4,603.6C451.2,603.7 451.9,603.8 452.5,603.7C453.1,603.6 453.5,603.3 454.0,603.0C454.5,602.8 454.9,602.5 455.4,602.2C455.8,601.8 456.2,601.5 456.5,600.9C456.8,600.3 456.9,599.4 457.2,598.8C457.5,598.2 457.8,597.3 458.3,597.1C458.8,596.9 459.6,597.1 460.3,597.4C460.9,597.7 461.8,598.4 462.4,598.7C463.1,599.0 463.7,599.2 464.3,599.3C464.8,599.4 465.3,599.3 465.8,599.2C466.3,599.2 466.8,599.0 467.3,599.0C467.8,598.9 468.3,598.8 468.8,598.7C469.3,598.6 469.8,598.7 470.3,598.4C470.7,598.0 471.1,597.4 471.6,596.5C472.0,595.6 472.4,593.3 472.9,593.0C473.4,592.8 474.1,594.1 474.6,594.8C475.2,595.6 475.7,596.9 476.2,597.4C476.8,597.8 477.2,597.6 477.7,597.6C478.2,597.6 478.8,597.5 479.3,597.5C479.8,597.5 480.3,597.4 480.8,597.4C481.3,597.3 481.8,597.3 482.4,597.3C482.9,597.3 483.4,597.3 483.9,597.2C484.5,597.2 485.0,597.2 485.6,597.1C486.2,596.9 486.7,596.7 487.4,596.3C488.1,595.9 488.9,595.0 489.7,594.5C490.4,593.9 491.3,593.1 492.0,593.0C492.7,592.9 493.2,593.4 493.6,593.9C494.0,594.5 494.1,595.7 494.5,596.4C494.8,597.1 495.1,597.7 495.5,598.2C495.9,598.6 496.4,598.9 496.9,599.1C497.4,599.4 498.0,599.6 498.5,599.8C499.0,600.1 499.5,600.3 500.0,600.6C500.5,600.8 501.0,601.1 501.5,601.4C502.0,601.7 502.5,602.1 503.0,602.4C503.5,602.7 503.9,603.1 504.5,603.2C505.2,603.3 506.2,603.0 506.9,603.1C507.6,603.3 508.2,603.5 508.6,604.0C508.9,604.6 508.5,605.8 508.9,606.4C509.2,606.9 509.9,607.0 510.6,607.2C511.3,607.4 512.3,607.4 512.9,607.7C513.5,608.0 514.1,608.4 514.3,609.0C514.5,609.6 514.3,610.6 514.2,611.4C514.1,612.3 513.8,613.2 513.7,614.0C513.7,614.7 513.8,615.4 513.9,616.0C514.0,616.6 514.2,617.1 514.4,617.7C514.6,618.3 514.8,618.8 515.0,619.4C515.3,619.9 515.5,620.5 515.9,620.9C516.3,621.4 517.0,621.7 517.6,622.2C518.1,622.6 519.0,623.0 519.2,623.6C519.3,624.1 518.9,625.0 518.6,625.7C518.4,626.4 517.9,627.1 517.7,627.8C517.5,628.4 517.6,629.0 517.6,629.6C517.7,630.2 517.8,630.8 517.9,631.4C517.9,631.9 518.0,632.5 518.1,633.1C518.1,633.7 518.2,634.3 518.2,634.8C518.3,635.4 518.3,636.0 518.4,636.6C518.4,637.2 518.5,637.8 518.7,638.4Z" fill="#d3e6ee" stroke="#7b9cad" stroke-width="1.3" stroke-linejoin="round" opacity="1"/>
<path d="M489.8,650.0C489.9,650.7 490.1,651.4 490.1,652.1C490.1,652.8 490.1,653.6 489.9,654.3C489.8,655.0 489.4,655.6 489.1,656.3C488.9,657.0 488.7,657.8 488.3,658.4C488.0,659.0 487.3,659.5 486.8,660.1C486.3,660.7 485.8,661.3 485.2,661.7C484.6,662.2 483.8,662.5 483.1,662.9C482.4,663.2 481.8,663.7 481.1,664.0C480.4,664.3 479.6,664.5 478.9,664.8C478.1,665.0 477.4,665.4 476.7,665.6C475.9,665.8 475.1,665.8 474.4,665.9C473.6,666.0 472.8,666.1 472.0,666.1C471.2,666.1 470.4,666.0 469.6,665.9C468.9,665.8 468.0,665.8 467.3,665.6C466.5,665.4 465.8,665.0 465.2,664.7C464.5,664.3 463.9,663.8 463.3,663.4C462.7,662.9 462.1,662.5 461.6,662.0C461.1,661.5 460.8,660.9 460.3,660.4C459.8,659.9 459.2,659.5 458.8,659.0C458.3,658.5 458.0,658.0 457.6,657.4C457.2,656.8 456.9,656.3 456.5,655.7C456.2,655.1 455.9,654.5 455.5,653.9C455.1,653.3 454.4,652.8 454.0,652.1C453.7,651.4 453.6,650.7 453.4,650.0C453.3,649.3 453.1,648.5 453.0,647.8C452.9,647.0 452.8,646.2 452.9,645.4C453.0,644.7 453.2,643.9 453.5,643.2C453.8,642.5 454.1,641.7 454.6,641.1C455.2,640.5 456.0,640.0 456.7,639.5C457.4,639.1 458.1,638.7 458.8,638.3C459.5,637.9 460.2,637.5 461.0,637.2C461.7,637.0 462.6,636.9 463.4,636.7C464.1,636.5 464.7,636.2 465.5,636.0C466.2,635.8 466.9,635.8 467.7,635.6C468.4,635.4 469.1,635.2 469.8,635.0C470.5,634.9 471.3,634.7 472.0,634.7C472.7,634.6 473.5,634.8 474.3,634.8C475.0,634.7 475.9,634.6 476.6,634.6C477.4,634.7 478.2,634.9 478.9,635.1C479.7,635.3 480.5,635.5 481.2,635.8C481.9,636.2 482.4,636.8 483.0,637.3C483.6,637.7 484.2,638.2 484.8,638.7C485.3,639.1 485.9,639.6 486.3,640.2C486.7,640.8 486.8,641.6 487.1,642.2C487.4,642.9 487.8,643.4 488.1,644.1C488.4,644.7 488.6,645.3 488.8,646.0C489.1,646.6 489.3,647.3 489.4,648.0C489.6,648.6 489.7,649.3 489.8,650.0Z" fill="#bcd6e2" stroke="none" stroke-width="0.0" opacity="1"/>
<circle cx="471.3" cy="663.6" r="0.8" fill="#b8d0dc"/>
<circle cx="453.4" cy="628.9" r="0.8" fill="#b8d0dc"/>
<circle cx="454.4" cy="625.5" r="0.8" fill="#b8d0dc"/>
<circle cx="458.6" cy="636.6" r="0.8" fill="#b8d0dc"/>
<circle cx="490.7" cy="650.7" r="0.8" fill="#b8d0dc"/>
<circle cx="477.9" cy="628.6" r="0.8" fill="#b8d0dc"/>
<circle cx="461.8" cy="657.5" r="0.8" fill="#b8d0dc"/>
<circle cx="453.4" cy="630.7" r="0.8" fill="#b8d0dc"/>
<circle cx="496.8" cy="611.6" r="0.8" fill="#b8d0dc"/>
<circle cx="460.1" cy="631.2" r="0.8" fill="#b8d0dc"/>
<circle cx="499.0" cy="615.4" r="0.8" fill="#b8d0dc"/>
<circle cx="445.3" cy="645.6" r="0.8" fill="#b8d0dc"/>
<text x="476.0" y="636.6" font-size="14.0" fill="#1e2a2e" color="#1e2a2e" stroke-width="0.12" text-anchor="middle" textLength="58.0" lengthAdjust="spacingAndGlyphs">ACDO1 hi</text>
<text x="440.5" y="651.6" font-size="14.0" fill="#1e2a2e" color="#1e2a2e" stroke-width="0.12" text-anchor="start" textLength="60.0" lengthAdjust="spacingAndGlyphs">itaconate</text>
<path d="M504.96,641.47 L507.62,645.20 L506.34,645.20 L506.34,651.83 L503.58,651.83 L503.58,645.20 L502.30,645.20 Z" fill="#111"/>
<text x="476.3" y="699.6" font-size="14.0" fill="#111" color="#111" stroke-width="0.00" font-weight="bold" text-anchor="middle" textLength="22.5" lengthAdjust="spacingAndGlyphs">TIN</text>
<line x1="533.0" y1="641.0" x2="566.0" y2="641.0" stroke="#222" stroke-width="1.8" />
<path d="M573.0,641.0 L565.0,637.0 L565.0,645.0 Z" fill="#222"/>
<path d="M650.6,668.0C650.9,668.9 650.7,669.8 650.9,670.8C651.1,671.8 651.8,672.8 652.0,673.9C652.2,674.9 652.4,676.1 652.1,677.1C651.9,678.2 651.1,679.2 650.5,680.2C649.9,681.3 649.5,682.5 648.5,683.4C647.5,684.4 646.2,685.3 644.6,685.9C643.0,686.6 640.9,687.0 639.1,687.4C637.2,687.8 635.3,688.2 633.5,688.4C631.6,688.7 629.7,688.9 627.8,689.0C625.9,689.1 624.0,689.1 622.2,688.9C620.4,688.8 618.5,688.3 616.8,688.1C615.1,687.8 613.5,687.5 612.0,687.3C610.5,687.0 609.0,686.9 607.5,686.7C606.1,686.5 604.7,686.1 603.3,685.9C601.8,685.7 600.3,685.7 598.8,685.6C597.2,685.4 595.6,685.3 594.0,685.1C592.4,684.9 590.8,684.7 589.2,684.3C587.6,684.0 586.1,683.6 584.6,683.1C583.1,682.6 581.5,682.1 580.1,681.5C578.7,680.8 577.4,680.1 576.2,679.4C575.0,678.6 573.7,677.8 572.8,676.9C571.9,676.0 571.3,675.1 570.8,674.1C570.3,673.1 570.1,672.1 569.8,671.1C569.4,670.0 568.7,669.0 568.7,668.0C568.6,667.0 569.2,665.9 569.5,664.9C569.9,663.9 570.2,662.9 570.9,661.9C571.5,661.0 572.7,660.1 573.5,659.2C574.3,658.3 574.7,657.3 575.7,656.5C576.7,655.6 578.0,654.9 579.3,654.2C580.7,653.6 582.4,653.1 583.9,652.5C585.4,652.0 586.7,651.4 588.1,650.9C589.6,650.4 591.0,649.9 592.5,649.5C594.1,649.1 595.7,648.8 597.3,648.5C598.9,648.2 600.4,647.8 602.1,647.6C603.7,647.4 605.4,647.4 607.0,647.3C608.7,647.1 610.3,646.7 612.0,646.6C613.7,646.5 615.4,646.5 617.1,646.6C618.8,646.6 620.5,646.8 622.3,647.0C624.0,647.1 625.8,647.2 627.5,647.4C629.2,647.7 630.9,648.0 632.5,648.5C634.1,648.9 635.6,649.5 636.9,650.2C638.2,650.8 639.3,651.7 640.3,652.4C641.4,653.2 642.5,654.0 643.2,654.8C644.0,655.7 644.3,656.7 644.9,657.6C645.4,658.5 646.0,659.3 646.6,660.1C647.1,661.0 647.9,661.8 648.3,662.6C648.7,663.5 648.7,664.4 649.1,665.3C649.5,666.2 650.3,667.1 650.6,668.0Z" fill="#eef4f6" stroke="none" stroke-width="0.0" opacity="1"/>
<path d="M699.7,628.0C700.2,628.9 700.7,630.0 701.0,631.0C701.4,632.0 701.7,633.2 701.7,634.3C701.8,635.3 701.6,636.5 701.3,637.5C700.9,638.6 700.3,639.6 699.5,640.5C698.7,641.4 697.7,642.1 696.6,642.9C695.6,643.6 694.5,644.2 693.3,644.8C692.2,645.3 690.9,645.8 689.7,646.2C688.5,646.6 687.3,646.8 686.1,647.2C684.9,647.5 683.7,647.7 682.6,648.0C681.4,648.3 680.3,648.7 679.2,649.0C678.0,649.2 676.8,649.4 675.6,649.5C674.4,649.7 673.2,649.8 672.0,649.9C670.8,650.0 669.5,650.2 668.3,650.1C667.1,650.0 665.9,649.7 664.7,649.4C663.5,649.1 662.4,648.8 661.3,648.3C660.2,647.8 659.3,647.2 658.4,646.6C657.5,645.9 656.7,645.2 655.9,644.5C655.1,643.8 654.2,643.2 653.5,642.5C652.9,641.8 652.4,641.0 651.7,640.2C651.1,639.5 650.4,638.8 649.7,638.1C649.0,637.4 648.2,636.7 647.6,635.9C647.0,635.2 646.5,634.3 646.1,633.5C645.6,632.6 645.3,631.7 644.9,630.8C644.4,629.9 643.6,629.0 643.3,628.0C642.9,627.0 642.9,626.0 642.9,625.0C642.9,624.0 643.0,622.9 643.3,622.0C643.5,621.0 643.9,619.9 644.4,619.0C645.0,618.1 645.8,617.3 646.6,616.5C647.4,615.7 648.2,614.9 649.1,614.2C650.1,613.6 651.3,613.1 652.2,612.5C653.2,611.9 654.0,611.1 654.9,610.5C655.9,609.9 656.9,609.4 658.0,609.0C659.1,608.5 660.3,608.3 661.3,607.8C662.4,607.3 663.4,606.5 664.5,606.1C665.6,605.6 666.9,605.2 668.1,604.9C669.4,604.6 670.7,604.4 672.0,604.3C673.3,604.2 674.7,604.1 676.0,604.2C677.3,604.3 678.6,604.6 679.8,605.0C681.1,605.4 682.4,605.7 683.4,606.4C684.4,607.0 685.3,608.0 686.1,608.8C686.9,609.6 687.8,610.4 688.4,611.2C689.0,612.1 689.2,613.2 689.7,614.1C690.2,614.9 690.8,615.6 691.2,616.4C691.7,617.2 692.1,617.9 692.5,618.7C693.0,619.4 693.3,620.2 693.8,620.9C694.4,621.6 695.1,622.3 695.8,623.0C696.5,623.7 697.4,624.5 698.1,625.3C698.7,626.1 699.2,627.1 699.7,628.0Z" fill="#eef4f6" stroke="none" stroke-width="0.0" opacity="1"/>
<path d="M704.9,676.0C704.6,677.2 704.1,678.3 703.6,679.4C703.2,680.4 702.8,681.5 702.3,682.4C701.7,683.4 701.0,684.2 700.5,685.1C700.0,686.0 699.7,686.9 699.3,687.8C698.9,688.7 698.5,689.7 698.1,690.6C697.6,691.5 697.1,692.3 696.6,693.2C696.1,694.2 695.7,695.3 695.1,696.2C694.6,697.2 694.0,698.2 693.2,699.0C692.5,699.8 691.6,700.4 690.8,701.1C690.0,701.8 689.1,702.8 688.2,703.3C687.2,703.8 686.2,704.0 685.1,704.1C684.1,704.2 683.0,704.1 682.0,703.8C681.0,703.6 680.0,703.0 679.0,702.6C678.1,702.2 677.1,702.0 676.2,701.4C675.4,700.8 674.7,699.8 673.9,699.1C673.2,698.3 672.4,697.7 671.7,697.0C671.1,696.3 670.4,695.6 669.7,694.9C669.1,694.2 668.5,693.4 667.9,692.7C667.2,692.0 666.4,691.5 665.8,690.7C665.1,690.0 664.6,689.1 664.0,688.3C663.3,687.5 662.4,686.8 661.8,685.9C661.2,685.0 660.8,683.9 660.3,682.9C659.8,681.8 659.1,680.8 658.8,679.6C658.4,678.5 658.2,677.2 658.1,676.0C658.1,674.8 658.4,673.6 658.6,672.4C658.8,671.2 659.0,669.9 659.3,668.8C659.6,667.7 660.1,666.6 660.5,665.5C660.9,664.4 661.2,663.2 661.8,662.2C662.4,661.3 663.4,660.6 664.1,659.8C664.8,659.0 665.5,658.1 666.3,657.4C667.0,656.7 667.9,656.2 668.8,655.6C669.6,655.1 670.4,654.4 671.2,654.0C672.1,653.5 673.0,653.2 673.9,652.9C674.8,652.6 675.7,652.4 676.6,652.2C677.5,652.0 678.4,651.8 679.3,651.7C680.2,651.6 681.1,651.7 682.0,651.7C682.9,651.7 683.8,651.7 684.7,651.8C685.6,652.0 686.4,652.3 687.3,652.5C688.2,652.7 689.1,652.8 690.0,653.1C690.9,653.3 691.8,653.7 692.7,654.0C693.6,654.4 694.6,654.7 695.5,655.2C696.4,655.7 697.3,656.2 698.1,656.9C699.0,657.6 699.7,658.5 700.5,659.2C701.3,660.0 702.3,660.8 703.0,661.7C703.6,662.6 704.2,663.8 704.6,664.9C705.1,666.1 705.4,667.3 705.5,668.6C705.6,669.8 705.5,671.1 705.4,672.4C705.3,673.6 705.2,674.8 704.9,676.0Z" fill="#eef4f6" stroke="none" stroke-width="0.0" opacity="1"/>
<path d="M615.4,660.0C615.4,660.7 615.2,661.4 614.8,662.1C614.5,662.8 614.0,663.4 613.6,664.0C613.1,664.6 612.7,665.3 612.0,665.8C611.4,666.4 610.6,666.8 609.8,667.3C609.1,667.7 608.3,668.2 607.6,668.6C606.8,669.0 606.1,669.4 605.3,669.7C604.5,670.1 603.6,670.3 602.7,670.6C601.9,670.9 601.2,671.2 600.4,671.5C599.6,671.7 598.8,672.0 598.0,672.2C597.1,672.4 596.2,672.6 595.3,672.7C594.5,672.8 593.6,672.9 592.7,672.9C591.8,672.9 590.9,672.9 590.0,672.8C589.1,672.7 588.3,672.4 587.5,672.3C586.6,672.2 585.8,672.2 584.9,672.1C584.1,672.0 583.2,671.9 582.4,671.7C581.5,671.6 580.7,671.4 579.8,671.3C578.9,671.1 578.0,670.9 577.1,670.7C576.2,670.5 575.1,670.4 574.1,670.1C573.2,669.8 572.4,669.4 571.4,669.1C570.5,668.7 569.3,668.4 568.5,667.9C567.7,667.4 567.1,666.8 566.6,666.2C566.1,665.5 565.8,664.8 565.7,664.1C565.5,663.5 565.6,662.7 565.7,662.0C565.7,661.3 565.8,660.7 566.1,660.0C566.4,659.3 567.1,658.7 567.6,658.1C568.1,657.5 568.6,657.0 569.1,656.4C569.6,655.9 570.3,655.4 570.8,654.9C571.4,654.5 572.0,654.0 572.5,653.6C573.0,653.1 573.4,652.6 573.9,652.1C574.3,651.6 574.6,651.1 575.1,650.5C575.6,650.0 576.1,649.5 576.7,649.0C577.3,648.5 578.0,648.0 578.7,647.5C579.4,647.1 580.2,646.6 581.1,646.3C581.9,645.9 582.8,645.5 583.8,645.4C584.8,645.2 586.0,645.4 587.0,645.4C588.0,645.5 589.0,645.7 590.0,645.9C591.0,646.0 591.9,646.2 592.8,646.5C593.6,646.8 594.4,647.4 595.2,647.7C595.9,648.1 596.6,648.4 597.3,648.8C598.0,649.1 598.6,649.5 599.3,649.8C599.9,650.1 600.5,650.4 601.3,650.6C602.1,650.9 603.1,650.9 603.9,651.2C604.7,651.4 605.3,651.8 606.2,652.1C607.1,652.4 608.2,652.6 609.1,653.0C610.0,653.4 610.8,653.8 611.6,654.3C612.4,654.8 613.4,655.3 613.9,655.9C614.5,656.5 614.9,657.2 615.1,657.9C615.4,658.6 615.5,659.3 615.4,660.0Z" fill="#eef4f6" stroke="none" stroke-width="0.0" opacity="1"/>
<path d="M672.0,700.0C672.1,700.4 672.1,700.9 672.2,701.4C672.3,701.8 672.6,702.3 672.7,702.8C672.9,703.4 673.0,703.9 673.0,704.5C673.0,705.0 672.8,705.6 672.6,706.1C672.4,706.7 672.3,707.3 671.9,707.8C671.5,708.3 671.0,708.8 670.4,709.2C669.8,709.7 669.2,710.1 668.4,710.5C667.6,710.8 666.6,711.0 665.7,711.1C664.8,711.3 663.7,711.2 662.8,711.3C661.9,711.4 661.0,711.5 660.1,711.5C659.3,711.5 658.3,711.3 657.5,711.3C656.6,711.3 655.8,711.4 655.0,711.4C654.2,711.4 653.4,711.2 652.5,711.2C651.7,711.2 650.9,711.1 650.0,711.1C649.2,711.1 648.1,711.3 647.3,711.2C646.4,711.1 645.6,710.9 644.8,710.6C643.9,710.4 643.1,710.2 642.3,709.9C641.5,709.7 640.6,709.4 639.9,709.1C639.2,708.7 638.7,708.2 638.3,707.7C637.8,707.2 637.7,706.6 637.4,706.1C637.0,705.6 636.6,705.1 636.4,704.6C636.2,704.1 636.3,703.5 636.2,703.0C636.2,702.5 636.0,702.0 636.0,701.5C635.9,701.0 636.1,700.5 636.0,700.0C635.9,699.5 635.6,699.0 635.5,698.5C635.5,697.9 635.6,697.4 635.7,696.9C635.8,696.4 635.8,695.8 636.0,695.3C636.2,694.7 636.5,694.2 636.9,693.7C637.4,693.3 638.0,692.9 638.6,692.5C639.2,692.1 639.9,691.7 640.6,691.3C641.3,691.0 642.2,690.8 643.0,690.6C643.8,690.4 644.7,690.2 645.5,690.1C646.3,690.0 647.2,689.9 648.0,689.8C648.8,689.7 649.5,689.6 650.3,689.5C651.1,689.4 651.8,689.2 652.6,689.1C653.4,689.0 654.2,689.0 655.0,688.9C655.8,688.7 656.7,688.4 657.6,688.2C658.5,688.1 659.4,688.0 660.4,688.0C661.3,687.9 662.3,687.9 663.4,687.9C664.4,687.9 665.5,687.9 666.4,688.1C667.4,688.3 668.2,688.7 669.0,689.1C669.8,689.4 670.4,689.9 671.0,690.4C671.5,690.9 672.0,691.5 672.3,692.0C672.6,692.6 672.9,693.2 672.9,693.8C673.0,694.4 672.6,695.1 672.6,695.6C672.5,696.2 672.7,696.7 672.6,697.2C672.5,697.7 672.0,698.2 671.9,698.7C671.8,699.1 672.0,699.6 672.0,700.0Z" fill="#eef4f6" stroke="none" stroke-width="0.0" opacity="1"/>
<path d="M677.4,649.0C677.7,651.0 677.5,653.1 677.4,655.1C677.3,657.2 677.2,659.3 676.8,661.3C676.5,663.3 676.1,665.4 675.3,667.3C674.4,669.1 673.0,670.6 671.9,672.2C670.7,673.9 669.8,675.6 668.5,677.0C667.2,678.4 665.6,679.4 664.2,680.7C662.9,682.0 661.8,683.5 660.3,684.6C658.9,685.6 657.0,685.9 655.5,686.8C653.9,687.7 652.7,689.3 651.2,690.2C649.7,691.0 647.9,691.4 646.3,692.1C644.6,692.7 643.0,693.7 641.3,694.2C639.6,694.7 637.8,694.6 636.0,694.9C634.2,695.2 632.3,696.1 630.5,696.0C628.7,695.9 626.9,695.0 625.2,694.4C623.4,693.8 621.6,693.3 619.9,692.5C618.2,691.8 616.4,691.1 614.9,690.0C613.4,688.8 612.1,687.3 610.8,685.8C609.5,684.4 608.4,682.8 607.3,681.3C606.1,679.7 605.1,678.1 604.0,676.5C602.9,675.0 601.4,673.7 600.4,672.0C599.4,670.4 598.7,668.5 597.9,666.7C597.1,664.9 596.3,663.0 595.7,661.1C595.0,659.2 594.5,657.2 594.1,655.2C593.6,653.2 592.9,651.1 592.9,649.0C592.9,646.9 593.6,644.8 594.0,642.8C594.3,640.7 594.6,638.7 595.2,636.7C595.7,634.8 596.4,632.8 597.3,631.0C598.2,629.3 599.6,627.7 600.8,626.2C602.1,624.7 603.4,623.4 604.7,622.1C606.1,620.8 607.4,619.6 608.8,618.5C610.2,617.4 611.6,616.5 613.0,615.4C614.4,614.4 615.7,613.2 617.1,612.2C618.4,611.1 619.9,610.3 621.3,609.2C622.7,608.1 624.1,606.5 625.6,605.5C627.2,604.6 628.9,604.2 630.7,603.5C632.4,602.9 634.2,602.1 636.0,601.6C637.8,601.2 639.8,600.8 641.7,600.8C643.5,600.8 645.4,601.2 647.3,601.6C649.2,602.1 651.1,602.5 652.9,603.3C654.6,604.2 656.2,605.5 657.7,606.9C659.1,608.3 660.2,610.2 661.4,611.8C662.6,613.4 663.8,615.0 664.9,616.6C666.0,618.2 667.2,619.6 668.1,621.4C668.9,623.1 669.2,625.2 670.0,627.0C670.7,628.8 671.8,630.3 672.5,632.0C673.2,633.8 673.7,635.7 674.2,637.5C674.8,639.4 675.1,641.2 675.7,643.1C676.2,645.1 677.1,647.0 677.4,649.0Z" fill="#d3e3ea" stroke="none" stroke-width="0.0" opacity="1"/>
<path d="M659.3,655.0C659.5,655.8 659.6,656.5 659.6,657.3C659.7,658.1 659.9,659.0 659.8,659.8C659.8,660.6 659.8,661.5 659.5,662.3C659.3,663.1 658.8,663.8 658.3,664.5C657.8,665.2 657.3,665.9 656.6,666.5C656.0,667.1 655.1,667.5 654.4,668.0C653.7,668.5 653.2,669.2 652.4,669.5C651.6,669.9 650.6,669.9 649.8,670.3C649.0,670.6 648.4,671.2 647.6,671.4C646.8,671.7 645.9,671.7 645.0,671.9C644.2,672.1 643.4,672.4 642.6,672.6C641.7,672.8 640.9,673.0 640.0,673.1C639.1,673.2 638.2,673.2 637.3,673.2C636.5,673.1 635.6,672.9 634.7,672.7C633.9,672.5 633.0,672.3 632.2,672.1C631.3,671.8 630.5,671.4 629.7,671.0C629.0,670.6 628.3,670.0 627.7,669.5C627.0,668.9 626.5,668.3 625.9,667.7C625.4,667.0 624.9,666.4 624.4,665.7C623.9,665.1 623.3,664.6 622.9,663.9C622.5,663.2 622.2,662.5 621.9,661.8C621.5,661.0 621.2,660.3 621.0,659.6C620.8,658.8 620.7,658.1 620.5,657.3C620.3,656.5 619.9,655.8 619.8,655.0C619.7,654.2 619.6,653.4 619.8,652.6C619.9,651.8 620.1,651.0 620.4,650.3C620.8,649.5 621.2,648.8 621.6,648.1C622.0,647.5 622.4,646.8 623.0,646.1C623.5,645.5 624.1,645.0 624.7,644.5C625.4,643.9 626.1,643.6 626.8,643.1C627.4,642.6 627.9,642.1 628.6,641.6C629.2,641.1 629.8,640.6 630.5,640.2C631.2,639.8 631.9,639.5 632.7,639.0C633.4,638.6 634.1,638.1 634.9,637.7C635.6,637.3 636.4,636.9 637.3,636.5C638.2,636.2 639.1,635.9 640.0,635.7C640.9,635.5 641.9,635.4 642.9,635.4C643.8,635.4 644.9,635.3 645.8,635.5C646.8,635.7 647.7,636.0 648.5,636.5C649.3,637.0 650.1,637.6 650.7,638.3C651.4,638.9 651.9,639.7 652.4,640.4C653.0,641.1 653.6,641.7 654.0,642.4C654.5,643.1 654.8,643.9 655.0,644.6C655.3,645.4 655.2,646.2 655.5,646.9C655.8,647.6 656.4,648.1 656.7,648.8C656.9,649.4 656.9,650.2 657.2,650.9C657.5,651.5 658.2,652.1 658.5,652.8C658.9,653.5 659.1,654.2 659.3,655.0Z" fill="#c4d8e2" stroke="none" stroke-width="0.0" opacity="1"/>
<path d="M600,624 C602,614 612,612 620,614 C622,606 632,603 640,607 C650,605 660,608 668,612 C672,620 670,628 668,634 C676,645 678,658 672,668 C675,680 668,690 660,692 C650,696 640,690 632,696 C622,700 612,694 606,688 C598,680 595,668 598,660 C592,650 594,636 600,624 Z" fill="none" stroke="#8fa7b2" stroke-width="1.2" stroke-dasharray="3 2.5"/>
<ellipse cx="605.7" cy="607.0" rx="8.0" ry="6.5" fill="#d6e6ee" stroke="#7f9cab" stroke-width="1.0" opacity="1" transform="rotate(0.0 605.7 607.0)"/>
<ellipse cx="644.0" cy="599.0" rx="5.0" ry="3.0" fill="#d6e6ee" stroke="#7f9cab" stroke-width="1.0" opacity="1" transform="rotate(-20.0 644.0 599.0)"/>
<ellipse cx="660.0" cy="597.0" rx="6.5" ry="6.0" fill="#d6e6ee" stroke="#7f9cab" stroke-width="1.0" opacity="1" transform="rotate(0.0 660.0 597.0)"/>
<ellipse cx="662.0" cy="607.0" rx="4.0" ry="2.5" fill="#d6e6ee" stroke="#7f9cab" stroke-width="1.0" opacity="1" transform="rotate(20.0 662.0 607.0)"/>
<ellipse cx="585.5" cy="635.0" rx="6.0" ry="8.5" fill="#d6e6ee" stroke="#7f9cab" stroke-width="1.0" opacity="1" transform="rotate(-10.0 585.5 635.0)"/>
<ellipse cx="674.4" cy="638.0" rx="8.0" ry="7.0" fill="#d6e6ee" stroke="#7f9cab" stroke-width="1.0" opacity="1" transform="rotate(0.0 674.4 638.0)"/>
<ellipse cx="586.0" cy="656.5" rx="3.0" ry="3.0" fill="#d6e6ee" stroke="#7f9cab" stroke-width="1.0" opacity="1" transform="rotate(0.0 586.0 656.5)"/>
<ellipse cx="682.0" cy="668.0" rx="4.5" ry="4.5" fill="#d6e6ee" stroke="#7f9cab" stroke-width="1.0" opacity="1" transform="rotate(0.0 682.0 668.0)"/>
<ellipse cx="601.0" cy="683.0" rx="6.0" ry="6.5" fill="#d6e6ee" stroke="#7f9cab" stroke-width="1.0" opacity="1" transform="rotate(-20.0 601.0 683.0)"/>
<ellipse cx="608.5" cy="698.0" rx="3.0" ry="3.0" fill="#d6e6ee" stroke="#7f9cab" stroke-width="1.0" opacity="1" transform="rotate(0.0 608.5 698.0)"/>
<ellipse cx="640.0" cy="695.0" rx="5.0" ry="5.0" fill="#d6e6ee" stroke="#7f9cab" stroke-width="1.0" opacity="1" transform="rotate(0.0 640.0 695.0)"/>
<text x="633.5" y="637.0" font-size="15.0" fill="#1e2a2e" color="#1e2a2e" stroke-width="0.12" text-anchor="middle" textLength="27.0" lengthAdjust="spacingAndGlyphs">Nrf2</text>
<text x="634.5" y="651.8" font-size="15.0" fill="#1e2a2e" color="#1e2a2e" stroke-width="0.12" text-anchor="middle" textLength="82.0" lengthAdjust="spacingAndGlyphs">ferropotosis</text>
<text x="634.5" y="667.3" font-size="15.0" fill="#1e2a2e" color="#1e2a2e" stroke-width="0.12" text-anchor="middle" textLength="71.0" lengthAdjust="spacingAndGlyphs">resistance</text>
<path d="M512.6,761.5C512.7,763.4 513.0,765.3 512.8,767.1C512.6,769.0 511.7,770.7 511.3,772.5C510.8,774.4 510.8,776.3 510.2,778.1C509.7,779.9 509.0,781.7 508.1,783.3C507.1,784.9 505.7,786.2 504.6,787.7C503.6,789.2 503.0,791.2 501.7,792.6C500.5,793.9 498.8,794.7 497.2,795.8C495.7,796.8 494.3,797.9 492.7,798.7C491.1,799.5 489.4,800.0 487.7,800.5C486.1,801.1 484.4,801.7 482.7,802.1C481.1,802.6 479.4,803.1 477.7,803.2C476.0,803.4 474.2,802.9 472.5,802.8C470.8,802.7 469.1,802.9 467.4,802.8C465.7,802.7 464.0,802.3 462.3,802.0C460.6,801.6 458.9,801.2 457.2,800.6C455.6,800.0 454.0,799.2 452.5,798.4C450.9,797.5 449.5,796.5 448.0,795.4C446.6,794.3 445.3,793.1 444.0,791.8C442.7,790.5 441.5,789.1 440.4,787.6C439.4,786.2 438.5,784.5 437.6,782.9C436.7,781.3 435.7,779.7 435.1,778.0C434.4,776.2 434.0,774.4 433.7,772.5C433.5,770.7 433.6,768.8 433.6,766.9C433.5,765.1 433.3,763.3 433.4,761.5C433.4,759.7 433.8,757.9 433.9,756.1C434.0,754.3 433.5,752.3 433.8,750.5C434.2,748.7 435.3,747.2 436.0,745.4C436.6,743.7 436.9,741.8 437.6,740.1C438.3,738.4 439.3,736.8 440.3,735.3C441.4,733.7 442.5,732.3 443.6,730.8C444.8,729.3 445.7,727.6 447.1,726.4C448.5,725.2 450.4,724.6 452.0,723.7C453.6,722.9 455.2,722.0 456.8,721.3C458.5,720.7 460.2,720.1 462.0,719.8C463.7,719.5 465.5,719.6 467.3,719.5C469.1,719.4 470.8,719.2 472.5,719.3C474.2,719.4 475.9,719.7 477.6,720.1C479.3,720.4 481.0,720.9 482.6,721.4C484.2,722.0 485.8,722.6 487.4,723.2C489.0,723.8 490.7,724.3 492.3,725.1C493.8,726.0 495.2,727.0 496.6,728.1C498.0,729.3 499.1,730.6 500.4,731.8C501.7,733.0 503.3,734.1 504.4,735.5C505.6,736.8 506.5,738.5 507.4,740.1C508.3,741.7 509.3,743.3 509.9,745.0C510.6,746.8 511.0,748.6 511.4,750.4C511.7,752.3 512.0,754.1 512.2,756.0C512.4,757.8 512.5,759.6 512.6,761.5Z" fill="#bab0f0" stroke="#8c82cc" stroke-width="1.3" opacity="1"/>
<path d="M504.9,763.0C504.8,764.4 504.6,765.8 504.2,767.1C503.9,768.4 503.1,769.6 502.7,770.9C502.3,772.2 502.3,773.7 501.9,774.9C501.4,776.2 500.7,777.3 500.1,778.5C499.4,779.7 498.8,781.0 498.0,782.0C497.3,783.1 496.3,784.1 495.4,785.1C494.5,786.2 493.8,787.4 492.8,788.3C491.9,789.3 490.8,790.2 489.6,790.9C488.5,791.6 487.1,792.1 485.9,792.6C484.6,793.2 483.4,793.8 482.1,794.2C480.8,794.6 479.5,795.0 478.1,795.2C476.8,795.4 475.4,795.4 474.0,795.3C472.6,795.3 471.3,795.1 469.9,794.8C468.6,794.6 467.3,794.2 466.0,793.8C464.7,793.5 463.4,793.1 462.1,792.6C460.9,792.1 459.6,791.5 458.5,790.7C457.4,789.9 456.5,788.9 455.4,788.0C454.3,787.2 453.1,786.5 452.1,785.6C451.1,784.7 450.4,783.5 449.5,782.4C448.5,781.4 447.3,780.5 446.5,779.4C445.8,778.2 445.2,776.8 444.8,775.5C444.3,774.2 444.1,772.7 443.8,771.4C443.5,770.0 443.2,768.6 443.1,767.2C443.0,765.8 442.9,764.4 442.9,763.0C442.9,761.6 442.8,760.2 443.0,758.8C443.2,757.4 443.6,756.0 444.0,754.7C444.5,753.4 445.2,752.2 445.7,750.9C446.2,749.6 446.4,748.2 447.1,747.0C447.7,745.7 448.7,744.7 449.6,743.6C450.4,742.6 451.3,741.6 452.2,740.5C453.1,739.5 453.9,738.3 455.0,737.4C456.0,736.5 457.3,735.9 458.5,735.3C459.7,734.6 460.9,734.1 462.2,733.6C463.5,733.1 464.8,732.7 466.1,732.4C467.4,732.2 468.7,732.1 470.1,732.0C471.4,732.0 472.7,732.2 474.0,732.2C475.3,732.3 476.6,732.1 477.9,732.2C479.2,732.3 480.6,732.4 481.9,732.6C483.2,732.8 484.6,732.9 485.9,733.4C487.2,733.8 488.3,734.6 489.5,735.2C490.7,735.9 491.8,736.6 493.1,737.3C494.3,738.0 495.8,738.5 496.9,739.3C498.0,740.2 498.9,741.4 499.8,742.6C500.7,743.7 501.6,744.9 502.3,746.1C502.9,747.4 503.4,748.9 503.8,750.3C504.2,751.7 504.4,753.1 504.6,754.5C504.8,755.9 504.9,757.4 505.0,758.8C505.0,760.2 505.0,761.6 504.9,763.0Z" fill="#a99fe6" stroke="none" stroke-width="0.0" opacity="1"/>
<circle cx="491.3" cy="749.4" r="0.8" fill="#9a90d6"/>
<circle cx="454.0" cy="753.7" r="0.8" fill="#9a90d6"/>
<circle cx="486.9" cy="775.6" r="0.8" fill="#9a90d6"/>
<circle cx="478.1" cy="774.2" r="0.8" fill="#9a90d6"/>
<circle cx="477.0" cy="770.4" r="0.8" fill="#9a90d6"/>
<circle cx="459.8" cy="757.5" r="0.8" fill="#9a90d6"/>
<circle cx="457.6" cy="747.4" r="0.8" fill="#9a90d6"/>
<circle cx="493.4" cy="746.8" r="0.8" fill="#9a90d6"/>
<circle cx="475.3" cy="735.1" r="0.8" fill="#9a90d6"/>
<circle cx="472.3" cy="729.7" r="0.8" fill="#9a90d6"/>
<circle cx="486.4" cy="761.6" r="0.8" fill="#9a90d6"/>
<circle cx="466.9" cy="780.4" r="0.8" fill="#9a90d6"/>
<circle cx="478.4" cy="790.5" r="0.8" fill="#9a90d6"/>
<circle cx="481.5" cy="756.5" r="0.8" fill="#9a90d6"/>
<text x="474.5" y="754.2" font-size="14.0" fill="#1e1e2e" color="#1e1e2e" stroke-width="0.12" text-anchor="middle" textLength="45.0" lengthAdjust="spacingAndGlyphs">histone</text>
<text x="437.0" y="769.6" font-size="14.0" fill="#1e1e2e" color="#1e1e2e" stroke-width="0.12" text-anchor="start" textLength="65.0" lengthAdjust="spacingAndGlyphs">lactylation</text>
<path d="M506.46,759.47 L509.12,763.20 L507.84,763.20 L507.84,769.83 L505.08,769.83 L505.08,763.20 L503.80,763.20 Z" fill="#111"/>
<polyline points="516.6,760.0 517.1,759.8 517.6,759.6 518.1,759.5 518.6,759.5 519.1,759.6 519.6,759.7 520.1,759.9 520.6,760.2 521.1,760.6 521.6,761.0 522.1,761.5 522.6,762.0 523.1,762.5 523.6,763.0 524.1,763.6 524.6,764.2 525.1,764.7 525.6,765.3 526.1,765.7 526.6,766.2 527.1,766.6 527.6,766.9 528.1,767.2 528.6,767.4 529.1,767.5 529.6,767.5 530.1,767.5 530.6,767.3 531.1,767.1 531.6,766.8 532.1,766.5 532.6,766.1 533.1,765.6 533.6,765.1 534.1,764.6 534.6,764.1 535.1,763.5 535.6,762.9 536.1,762.4 536.6,761.9 537.1,761.4 537.6,760.9 538.1,760.5 538.6,760.2 539.1,759.9 539.6,759.7 540.1,759.5 540.6,759.5 541.1,759.5 541.6,759.6 542.1,759.8 542.6,760.1 543.1,760.4 543.6,760.8 544.1,761.3 544.6,761.7 545.1,762.3 545.6,762.8 546.1,763.4 546.6,764.0 547.1,764.5 547.6,765.0 548.1,765.5 548.6,766.0 549.1,766.4 549.6,766.8 550.1,767.1 550.6,767.3 551.1,767.4 551.6,767.5" fill="none" stroke="#25235e" stroke-width="2.0" stroke-linejoin="round"/>
<polyline points="516.6,762.7 517.1,763.2 517.6,763.8 518.1,764.4 518.6,764.9 519.1,765.4 519.6,765.9 520.1,766.3 520.6,766.7 521.1,767.0 521.6,767.2 522.1,767.4 522.6,767.5 523.1,767.5 523.6,767.4 524.1,767.3 524.6,767.0 525.1,766.7 525.6,766.4 526.1,766.0 526.6,765.5 527.1,765.0 527.6,764.4 528.1,763.9 528.6,763.3 529.1,762.8 529.6,762.2 530.1,761.7 530.6,761.2 531.1,760.8 531.6,760.4 532.1,760.1 532.6,759.8 533.1,759.6 533.6,759.5 534.1,759.5 534.6,759.6 535.1,759.7 535.6,759.9 536.1,760.2 536.6,760.5 537.1,761.0 537.6,761.4 538.1,761.9 538.6,762.4 539.1,763.0 539.6,763.6 540.1,764.1 540.6,764.7 541.1,765.2 541.6,765.7 542.1,766.2 542.6,766.5 543.1,766.9 543.6,767.1 544.1,767.3 544.6,767.5 545.1,767.5 545.6,767.5 546.1,767.3 546.6,767.1 547.1,766.9 547.6,766.5 548.1,766.1 548.6,765.7 549.1,765.2 549.6,764.7 550.1,764.1 550.6,763.5 551.1,763.0 551.6,762.4" fill="none" stroke="#25235e" stroke-width="2.0" stroke-linejoin="round"/>
<rect x="552.0" y="753.6" width="76.5" height="25.4" rx="0.0" fill="#dcf0f8" stroke="#6e9db2" stroke-width="1.3" opacity="1"/>
<text x="590.0" y="769.5" font-size="14.5" fill="#222" color="#222" stroke-width="0.12" text-anchor="middle" textLength="32.5" lengthAdjust="spacingAndGlyphs">Gene</text>
<polyline points="628.5,759.7 629.0,759.9 629.5,760.2 630.0,760.5 630.5,760.9 631.0,761.4 631.5,761.9 632.0,762.4 632.5,762.9 633.0,763.5 633.5,764.1 634.0,764.6 634.5,765.1 635.0,765.6 635.5,766.1 636.0,766.5 636.5,766.8 637.0,767.1 637.5,767.3 638.0,767.5 638.5,767.5 639.0,767.5 639.5,767.4 640.0,767.2 640.5,766.9 641.0,766.6 641.5,766.2 642.0,765.7 642.5,765.3 643.0,764.7 643.5,764.2 644.0,763.6 644.5,763.0 645.0,762.5 645.5,762.0 646.0,761.5 646.5,761.0 647.0,760.6 647.5,760.2 648.0,759.9 648.5,759.7 649.0,759.6 649.5,759.5 650.0,759.5 650.5,759.6 651.0,759.8 651.5,760.0 652.0,760.4 652.5,760.7 653.0,761.2 653.5,761.6 654.0,762.2 654.5,762.7 655.0,763.3 655.5,763.8 656.0,764.4 656.5,764.9 657.0,765.5 657.5,765.9 658.0,766.3 658.5,766.7 659.0,767.0 659.5,767.3 660.0,767.4 660.5,767.5 661.0,767.5 661.5,767.4 662.0,767.3 662.5,767.0 663.0,766.7 663.5,766.3 664.0,765.9 664.5,765.5 665.0,764.9 665.5,764.4 666.0,763.8 666.5,763.3 667.0,762.7 667.5,762.2 668.0,761.6 668.5,761.2 669.0,760.7 669.5,760.4 670.0,760.0 670.5,759.8 671.0,759.6 671.5,759.5 672.0,759.5 672.5,759.6 673.0,759.7 673.5,759.9 674.0,760.2 674.5,760.6 675.0,761.0 675.5,761.5 676.0,762.0 676.5,762.5 677.0,763.0 677.5,763.6 678.0,764.2 678.5,764.7 679.0,765.3 679.5,765.7 680.0,766.2 680.5,766.6 681.0,766.9 681.5,767.2 682.0,767.4 682.5,767.5 683.0,767.5 683.5,767.5 684.0,767.3 684.5,767.1 685.0,766.8 685.5,766.5 686.0,766.1 686.5,765.6 687.0,765.1 687.5,764.6 688.0,764.1 688.5,763.5 689.0,762.9 689.5,762.4 690.0,761.9 690.5,761.4 691.0,760.9 691.5,760.5 692.0,760.2 692.5,759.9 693.0,759.7 693.5,759.5 694.0,759.5 694.5,759.5 695.0,759.6" fill="none" stroke="#25235e" stroke-width="2.0" stroke-linejoin="round"/>
<polyline points="628.5,765.8 629.0,766.2 629.5,766.6 630.0,766.9 630.5,767.2 631.0,767.4 631.5,767.5 632.0,767.5 632.5,767.4 633.0,767.3 633.5,767.1 634.0,766.8 634.5,766.5 635.0,766.0 635.5,765.6 636.0,765.1 636.5,764.6 637.0,764.0 637.5,763.4 638.0,762.9 638.5,762.3 639.0,761.8 639.5,761.3 640.0,760.8 640.5,760.5 641.0,760.1 641.5,759.9 642.0,759.7 642.5,759.5 643.0,759.5 643.5,759.5 644.0,759.7 644.5,759.9 645.0,760.1 645.5,760.5 646.0,760.9 646.5,761.3 647.0,761.8 647.5,762.3 648.0,762.9 648.5,763.5 649.0,764.0 649.5,764.6 650.0,765.1 650.5,765.6 651.0,766.1 651.5,766.5 652.0,766.8 652.5,767.1 653.0,767.3 653.5,767.4 654.0,767.5 654.5,767.5 655.0,767.4 655.5,767.2 656.0,766.9 656.5,766.6 657.0,766.2 657.5,765.8 658.0,765.3 658.5,764.8 659.0,764.2 659.5,763.7 660.0,763.1 660.5,762.5 661.0,762.0 661.5,761.5 662.0,761.0 662.5,760.6 663.0,760.2 663.5,759.9 664.0,759.7 664.5,759.6 665.0,759.5 665.5,759.5 666.0,759.6 666.5,759.8 667.0,760.0 667.5,760.3 668.0,760.7 668.5,761.1 669.0,761.6 669.5,762.1 670.0,762.7 670.5,763.2 671.0,763.8 671.5,764.4 672.0,764.9 672.5,765.4 673.0,765.9 673.5,766.3 674.0,766.7 674.5,767.0 675.0,767.2 675.5,767.4 676.0,767.5 676.5,767.5 677.0,767.4 677.5,767.3 678.0,767.0 678.5,766.7 679.0,766.4 679.5,766.0 680.0,765.5 680.5,765.0 681.0,764.4 681.5,763.9 682.0,763.3 682.5,762.8 683.0,762.2 683.5,761.7 684.0,761.2 684.5,760.8 685.0,760.4 685.5,760.1 686.0,759.8 686.5,759.6 687.0,759.5 687.5,759.5 688.0,759.6 688.5,759.7 689.0,759.9 689.5,760.2 690.0,760.5 690.5,761.0 691.0,761.4 691.5,761.9 692.0,762.4 692.5,763.0 693.0,763.6 693.5,764.1 694.0,764.7 694.5,765.2 695.0,765.7" fill="none" stroke="#25235e" stroke-width="2.0" stroke-linejoin="round"/>
<path d="M555.0,753.6 L555.0,733.0 L590.5,733.0" stroke="#4ea64a" stroke-width="2.6" fill="none" stroke-linejoin="miter"/>
<path d="M599.5,733.0 L589.5,728.0 L589.5,738.0 Z" fill="#4ea64a"/>
<text x="606.0" y="737.3" font-size="14.0" fill="#6ab06a" color="#6ab06a" stroke-width="0.12" text-anchor="start" textLength="53.0" lengthAdjust="spacingAndGlyphs">METTL3</text>
<text x="479.5" y="829.3" font-size="14.0" fill="#111" color="#111" stroke-width="0.00" font-weight="bold" text-anchor="middle" textLength="39.0" lengthAdjust="spacingAndGlyphs">MDSC</text>
<text x="554.0" y="829.3" font-size="14.0" fill="#6ab06a" color="#6ab06a" stroke-width="0.12" text-anchor="start" textLength="142.5" lengthAdjust="spacingAndGlyphs">CD80,CD86,CCR7,IL-12</text>
<path d="M517.1,878.8C517.0,879.3 516.6,879.8 516.3,880.3C516.0,880.8 515.6,881.2 515.3,881.7C515.1,882.2 514.9,882.6 514.9,883.1C514.8,883.6 514.7,884.1 515.0,884.6C515.3,885.2 516.1,885.8 516.6,886.4C517.1,887.0 518.1,887.8 518.0,888.3C517.9,888.8 516.8,889.1 516.1,889.5C515.3,889.8 514.2,889.9 513.6,890.3C513.0,890.6 512.8,891.0 512.6,891.4C512.3,891.8 512.1,892.3 511.9,892.7C511.7,893.1 511.5,893.6 511.3,894.0C511.1,894.4 510.9,894.9 510.7,895.3C510.6,895.8 510.5,896.3 510.4,896.8C510.3,897.3 510.2,897.8 510.0,898.3C509.8,898.7 509.6,899.2 509.3,899.5C508.9,899.9 508.4,900.1 507.9,900.3C507.5,900.6 506.9,900.8 506.4,901.0C505.9,901.2 505.4,901.4 505.0,901.6C504.6,901.9 504.2,902.1 503.8,902.4C503.5,902.7 503.1,903.0 502.7,903.3C502.4,903.5 502.0,903.8 501.7,904.1C501.4,904.5 501.0,904.7 501.1,905.4C501.1,906.2 501.8,907.8 501.7,908.5C501.6,909.2 501.3,909.7 500.6,909.6C500.0,909.5 498.5,908.3 497.8,908.0C497.1,907.8 496.7,908.0 496.3,908.1C495.8,908.3 495.5,908.6 495.1,908.8C494.7,909.1 494.4,909.3 494.0,909.6C493.6,909.8 493.2,910.1 492.8,910.3C492.5,910.6 492.1,910.8 491.7,911.1C491.3,911.3 490.9,911.5 490.5,911.8C490.1,912.2 489.7,912.4 489.4,912.9C489.0,913.4 488.8,914.1 488.4,914.7C488.1,915.3 487.8,916.1 487.3,916.4C486.9,916.7 486.3,916.6 485.8,916.5C485.3,916.4 484.7,915.9 484.2,915.7C483.6,915.5 483.1,915.5 482.7,915.5C482.2,915.6 481.7,915.7 481.2,915.8C480.7,915.9 480.3,916.1 479.8,916.2C479.3,916.3 478.8,916.4 478.3,916.4C477.8,916.5 477.3,916.6 476.8,916.6C476.3,916.7 475.8,916.7 475.3,916.7C474.8,916.8 474.3,916.7 473.8,916.8C473.3,916.9 472.8,917.0 472.2,917.2C471.7,917.4 471.1,918.0 470.5,918.2C469.9,918.4 469.3,918.7 468.8,918.5C468.3,918.3 467.9,917.7 467.5,917.2C467.1,916.8 466.7,916.2 466.3,915.8C465.9,915.5 465.4,915.3 464.9,915.1C464.5,914.9 464.0,914.7 463.5,914.6C463.0,914.4 462.5,914.3 462.0,914.3C461.4,914.3 460.6,914.7 460.1,914.6C459.5,914.6 459.0,914.4 458.6,914.0C458.2,913.6 458.1,912.8 457.8,912.3C457.5,911.7 457.3,911.3 456.9,910.9C456.6,910.5 456.1,910.2 455.8,909.9C455.4,909.6 455.0,909.3 454.6,908.9C454.2,908.6 453.8,908.3 453.5,907.9C453.1,907.6 452.7,907.3 452.4,906.9C452.0,906.6 451.6,906.2 451.3,905.8C451.0,905.5 450.6,905.1 450.3,904.7C449.9,904.4 449.6,904.0 449.2,903.7C448.8,903.3 448.4,903.0 447.9,902.8C447.3,902.6 446.6,902.6 445.8,902.4C445.1,902.3 444.1,902.3 443.6,902.0C443.1,901.7 442.8,901.2 442.8,900.6C442.8,900.0 443.2,899.1 443.4,898.4C443.7,897.6 444.0,896.9 444.1,896.3C444.2,895.6 444.1,895.1 444.1,894.6C444.0,894.1 443.8,893.6 443.7,893.1C443.6,892.7 443.5,892.2 443.3,891.7C443.2,891.2 443.2,890.7 443.0,890.3C442.8,889.8 442.7,889.4 442.3,889.0C442.0,888.5 441.3,888.2 440.8,887.8C440.4,887.4 439.7,887.0 439.7,886.5C439.7,886.0 440.3,885.3 440.6,884.8C441.0,884.2 441.6,883.6 441.6,883.1C441.6,882.6 441.0,882.2 440.6,881.8C440.1,881.3 439.1,880.8 439.0,880.3C438.9,879.8 439.5,879.3 440.1,878.8C440.6,878.3 441.8,877.8 442.3,877.4C442.7,876.9 442.9,876.5 442.7,876.0C442.6,875.5 441.8,874.9 441.5,874.4C441.2,873.9 440.8,873.3 441.0,872.9C441.2,872.4 442.2,872.1 442.8,871.7C443.4,871.4 444.2,871.1 444.7,870.7C445.2,870.4 445.4,870.0 445.6,869.6C445.9,869.2 446.0,868.7 446.1,868.3C446.3,867.9 446.4,867.5 446.6,867.1C446.7,866.6 446.8,866.2 447.0,865.8C447.1,865.4 447.3,865.0 447.5,864.5C447.6,864.1 447.8,863.7 447.9,863.3C448.1,862.9 448.3,862.5 448.4,862.0C448.6,861.6 448.9,861.3 448.9,860.7C448.9,860.2 448.9,859.7 448.6,858.9C448.2,858.1 446.8,856.4 446.8,855.9C446.9,855.3 448.1,855.6 448.9,855.5C449.6,855.5 450.7,855.8 451.2,855.6C451.7,855.4 451.8,854.9 452.0,854.4C452.1,853.9 452.2,853.3 452.3,852.7C452.4,852.2 452.3,851.4 452.5,850.8C452.7,850.3 452.9,849.8 453.3,849.5C453.7,849.2 454.4,849.2 454.9,849.1C455.4,848.9 456.0,848.8 456.5,848.7C456.9,848.5 457.3,848.2 457.7,847.9C458.1,847.7 458.5,847.4 458.9,847.1C459.3,846.8 459.7,846.5 460.1,846.2C460.5,846.0 461.0,845.7 461.4,845.5C461.8,845.2 462.2,845.0 462.6,844.6C462.9,844.2 463.2,843.5 463.6,843.1C463.9,842.7 464.3,842.1 464.8,842.0C465.3,841.9 466.0,842.4 466.5,842.5C467.1,842.6 467.6,842.7 468.2,842.7C468.7,842.7 469.1,842.5 469.6,842.5C470.1,842.4 470.6,842.3 471.0,842.2C471.5,842.1 472.0,842.1 472.5,842.0C473.0,841.9 473.5,841.9 473.9,841.8C474.4,841.7 474.9,841.6 475.4,841.3C475.8,841.1 476.3,840.6 476.8,840.1C477.3,839.6 477.8,838.7 478.3,838.3C478.8,837.8 479.4,837.4 479.9,837.5C480.5,837.6 481.0,838.3 481.5,838.8C481.9,839.4 482.4,840.3 482.8,840.8C483.3,841.3 483.7,841.6 484.2,841.9C484.6,842.1 485.1,842.2 485.6,842.3C486.0,842.4 486.5,842.5 487.0,842.6C487.5,842.7 487.9,842.8 488.4,842.9C488.9,843.0 489.4,843.2 489.9,843.2C490.3,843.3 490.8,843.4 491.3,843.4C491.9,843.4 492.4,843.3 493.1,843.1C493.7,842.9 494.5,842.5 495.1,842.3C495.7,842.2 496.4,842.0 496.9,842.3C497.4,842.5 497.6,843.2 497.9,843.8C498.2,844.4 498.3,845.2 498.5,845.8C498.8,846.4 499.1,846.8 499.4,847.2C499.7,847.6 500.1,847.9 500.5,848.2C500.9,848.5 501.3,848.8 501.7,849.1C502.1,849.4 502.4,849.7 502.8,850.0C503.2,850.3 503.6,850.7 504.1,850.9C504.5,851.1 505.0,851.3 505.5,851.5C506.1,851.7 506.7,851.8 507.3,852.0C507.8,852.2 508.4,852.4 508.8,852.7C509.1,853.1 509.3,853.7 509.4,854.2C509.6,854.8 509.5,855.5 509.5,856.1C509.5,856.7 509.5,857.4 509.5,857.9C509.6,858.5 509.8,858.9 509.9,859.4C510.1,859.9 510.3,860.3 510.5,860.8C510.6,861.2 510.8,861.7 511.0,862.1C511.2,862.6 511.4,863.0 511.6,863.4C511.7,863.9 511.9,864.3 512.1,864.8C512.2,865.2 512.4,865.7 512.6,866.1C512.8,866.6 513.0,867.0 513.3,867.4C513.7,867.8 514.2,868.1 514.8,868.5C515.4,868.8 516.4,869.1 516.9,869.5C517.4,869.9 518.0,870.4 518.0,870.9C518.0,871.4 517.5,872.1 517.2,872.6C516.8,873.2 516.1,873.8 516.0,874.3C515.8,874.9 515.8,875.3 516.0,875.8C516.1,876.3 516.7,876.8 516.9,877.3C517.1,877.8 517.2,878.3 517.1,878.8Z" fill="#f2d07c" stroke="#c8a050" stroke-width="1.3" stroke-linejoin="round" opacity="1"/>
<path d="M498.5,885.0C498.5,885.8 498.4,886.5 498.3,887.3C498.1,888.0 497.9,888.7 497.6,889.5C497.4,890.2 497.1,890.9 496.8,891.5C496.5,892.2 496.1,892.8 495.7,893.5C495.3,894.1 495.1,894.9 494.7,895.5C494.2,896.1 493.7,896.6 493.1,897.1C492.6,897.7 492.1,898.2 491.5,898.6C490.9,899.1 490.2,899.5 489.6,899.9C489.0,900.3 488.3,900.7 487.6,901.0C486.9,901.3 486.2,901.5 485.5,901.6C484.7,901.8 484.0,902.1 483.3,902.2C482.5,902.2 481.7,902.1 481.0,902.0C480.3,902.0 479.5,902.0 478.8,901.9C478.1,901.7 477.4,901.4 476.7,901.1C476.0,900.9 475.3,900.5 474.7,900.1C474.1,899.8 473.6,899.2 473.0,898.8C472.5,898.3 472.0,897.9 471.5,897.4C470.9,897.0 470.4,896.6 469.9,896.1C469.4,895.7 468.8,895.2 468.3,894.7C467.8,894.2 467.4,893.7 466.9,893.1C466.5,892.6 465.9,892.0 465.5,891.4C465.1,890.8 464.7,890.1 464.4,889.4C464.1,888.8 463.8,888.0 463.5,887.3C463.2,886.6 462.8,885.8 462.7,885.0C462.6,884.2 462.8,883.4 462.9,882.6C463.0,881.8 463.1,881.0 463.3,880.3C463.5,879.5 463.7,878.7 464.0,878.0C464.4,877.3 464.9,876.6 465.4,876.0C465.9,875.4 466.5,874.8 467.1,874.3C467.6,873.8 468.2,873.3 468.8,872.8C469.5,872.4 470.2,872.1 470.8,871.7C471.5,871.4 472.1,871.0 472.7,870.7C473.4,870.4 474.1,870.1 474.7,869.8C475.4,869.6 476.1,869.4 476.8,869.3C477.5,869.1 478.2,869.0 478.9,868.9C479.6,868.8 480.3,868.8 481.0,868.7C481.7,868.6 482.5,868.5 483.2,868.5C483.9,868.6 484.6,868.8 485.3,869.0C486.0,869.2 486.7,869.3 487.4,869.5C488.1,869.7 488.8,870.0 489.5,870.3C490.1,870.6 490.8,871.1 491.3,871.5C491.9,872.0 492.4,872.5 493.0,873.0C493.5,873.5 494.1,874.0 494.6,874.6C495.1,875.1 495.5,875.8 495.9,876.4C496.3,877.0 496.7,877.7 497.1,878.3C497.4,879.0 497.6,879.8 497.7,880.5C497.9,881.2 498.1,882.0 498.2,882.7C498.3,883.5 498.5,884.2 498.5,885.0Z" fill="#dcae62" stroke="none" stroke-width="0.0" opacity="1"/>
<circle cx="499.6" cy="875.1" r="0.8" fill="#ddb464"/>
<circle cx="473.3" cy="851.4" r="0.8" fill="#ddb464"/>
<circle cx="480.9" cy="889.1" r="0.8" fill="#ddb464"/>
<circle cx="468.4" cy="870.2" r="0.8" fill="#ddb464"/>
<circle cx="457.3" cy="898.0" r="0.8" fill="#ddb464"/>
<circle cx="487.2" cy="868.7" r="0.8" fill="#ddb464"/>
<circle cx="492.2" cy="886.0" r="0.8" fill="#ddb464"/>
<circle cx="482.6" cy="870.1" r="0.8" fill="#ddb464"/>
<circle cx="480.4" cy="890.4" r="0.8" fill="#ddb464"/>
<circle cx="494.2" cy="894.7" r="0.8" fill="#ddb464"/>
<circle cx="486.7" cy="897.1" r="0.8" fill="#ddb464"/>
<circle cx="475.7" cy="851.2" r="0.8" fill="#ddb464"/>
<text x="454.4" y="871.6" font-size="14.0" fill="#1e1e1e" color="#1e1e1e" stroke-width="0.12" text-anchor="start" textLength="48.6" lengthAdjust="spacingAndGlyphs">glucose</text>
<text x="454.4" y="887.6" font-size="14.0" fill="#1e1e1e" color="#1e1e1e" stroke-width="0.12" text-anchor="start" textLength="43.0" lengthAdjust="spacingAndGlyphs">uptake</text>
<path d="M501.86,887.83 L504.52,884.10 L503.24,884.10 L503.24,877.47 L500.48,877.47 L500.48,884.10 L499.20,884.10 Z" fill="#111"/>
<polyline points="521.5,875.1 522.0,874.8 522.5,874.6 523.0,874.5 523.5,874.5 524.0,874.5 524.5,874.7 525.0,874.9 525.5,875.2 526.0,875.5 526.5,875.9 527.0,876.4 527.5,876.9 528.0,877.4 528.5,877.9 529.0,878.5 529.5,879.1 530.0,879.6 530.5,880.1 531.0,880.6 531.5,881.1 532.0,881.5 532.5,881.8 533.0,882.1 533.5,882.3 534.0,882.5 534.5,882.5 535.0,882.5 535.5,882.4 536.0,882.2 536.5,881.9 537.0,881.6 537.5,881.2 538.0,880.7 538.5,880.3 539.0,879.7 539.5,879.2 540.0,878.6 540.5,878.0 541.0,877.5 541.5,877.0 542.0,876.5 542.5,876.0 543.0,875.6 543.5,875.2 544.0,874.9 544.5,874.7 545.0,874.6 545.5,874.5 546.0,874.5 546.5,874.6 547.0,874.8 547.5,875.0 548.0,875.4 548.5,875.7 549.0,876.2 549.5,876.6 550.0,877.2 550.5,877.7 551.0,878.3 551.5,878.8 552.0,879.4 552.5,879.9 553.0,880.5 553.5,880.9 554.0,881.3 554.5,881.7 555.0,882.0 555.5,882.3 556.0,882.4 556.5,882.5 557.0,882.5" fill="none" stroke="#25235e" stroke-width="2.0" stroke-linejoin="round"/>
<polyline points="521.5,877.6 522.0,878.1 522.5,878.7 523.0,879.2 523.5,879.8 524.0,880.3 524.5,880.8 525.0,881.2 525.5,881.6 526.0,881.9 526.5,882.2 527.0,882.4 527.5,882.5 528.0,882.5 528.5,882.4 529.0,882.3 529.5,882.1 530.0,881.8 530.5,881.5 531.0,881.0 531.5,880.6 532.0,880.1 532.5,879.6 533.0,879.0 533.5,878.4 534.0,877.9 534.5,877.3 535.0,876.8 535.5,876.3 536.0,875.8 536.5,875.5 537.0,875.1 537.5,874.9 538.0,874.7 538.5,874.5 539.0,874.5 539.5,874.5 540.0,874.7 540.5,874.9 541.0,875.1 541.5,875.5 542.0,875.9 542.5,876.3 543.0,876.8 543.5,877.3 544.0,877.9 544.5,878.5 545.0,879.0 545.5,879.6 546.0,880.1 546.5,880.6 547.0,881.1 547.5,881.5 548.0,881.8 548.5,882.1 549.0,882.3 549.5,882.4 550.0,882.5 550.5,882.5 551.0,882.4 551.5,882.2 552.0,881.9 552.5,881.6 553.0,881.2 553.5,880.8 554.0,880.3 554.5,879.8 555.0,879.2 555.5,878.7 556.0,878.1 556.5,877.5 557.0,877.0" fill="none" stroke="#25235e" stroke-width="2.0" stroke-linejoin="round"/>
<rect x="557.0" y="867.7" width="75.7" height="24.9" rx="0.0" fill="#dcf0f8" stroke="#6e9db2" stroke-width="1.3" opacity="1"/>
<text x="594.8" y="884.0" font-size="14.5" fill="#222" color="#222" stroke-width="0.12" text-anchor="middle" textLength="32.5" lengthAdjust="spacingAndGlyphs">Gene</text>
<polyline points="632.7,874.7 633.2,875.0 633.7,875.3 634.2,875.7 634.7,876.1 635.2,876.5 635.7,877.1 636.2,877.6 636.7,878.2 637.2,878.7 637.7,879.3 638.2,879.8 638.7,880.4 639.2,880.8 639.7,881.3 640.2,881.6 640.7,882.0 641.2,882.2 641.7,882.4 642.2,882.5 642.7,882.5 643.2,882.4 643.7,882.3 644.2,882.1 644.7,881.8 645.2,881.4 645.7,881.0 646.2,880.5 646.7,880.0 647.2,879.5 647.7,879.0 648.2,878.4 648.7,877.8 649.2,877.3 649.7,876.7 650.2,876.3 650.7,875.8 651.2,875.4 651.7,875.1 652.2,874.8 652.7,874.6 653.2,874.5 653.7,874.5 654.2,874.5 654.7,874.7 655.2,874.9 655.7,875.2 656.2,875.5 656.7,875.9 657.2,876.4 657.7,876.9 658.2,877.4 658.7,877.9 659.2,878.5 659.7,879.1 660.2,879.6 660.7,880.1 661.2,880.6 661.7,881.1 662.2,881.5 662.7,881.8 663.2,882.1 663.7,882.3 664.2,882.5 664.7,882.5 665.2,882.5 665.7,882.4 666.2,882.2 666.7,881.9 667.2,881.6 667.7,881.2 668.2,880.7 668.7,880.3 669.2,879.7 669.7,879.2 670.2,878.6 670.7,878.0 671.2,877.5 671.7,877.0 672.2,876.5 672.7,876.0 673.2,875.6 673.7,875.2 674.2,874.9 674.7,874.7 675.2,874.6 675.7,874.5 676.2,874.5 676.7,874.6 677.2,874.8 677.7,875.0 678.2,875.4 678.7,875.7 679.2,876.2 679.7,876.6 680.2,877.2 680.7,877.7 681.2,878.3 681.7,878.8 682.2,879.4 682.7,879.9 683.2,880.5 683.7,880.9 684.2,881.3 684.7,881.7 685.2,882.0 685.7,882.3 686.2,882.4 686.7,882.5 687.2,882.5 687.7,882.4 688.2,882.3 688.7,882.0 689.2,881.7 689.7,881.3 690.2,880.9 690.7,880.5 691.2,879.9 691.7,879.4 692.2,878.8 692.7,878.3 693.2,877.7 693.7,877.2 694.2,876.6 694.7,876.2 695.2,875.7 695.7,875.4 696.2,875.0 696.7,874.8 697.2,874.6 697.7,874.5" fill="none" stroke="#25235e" stroke-width="2.0" stroke-linejoin="round"/>
<polyline points="632.7,881.0 633.2,881.4 633.7,881.8 634.2,882.1 634.7,882.3 635.2,882.4 635.7,882.5 636.2,882.5 636.7,882.4 637.2,882.2 637.7,882.0 638.2,881.7 638.7,881.3 639.2,880.9 639.7,880.4 640.2,879.9 640.7,879.3 641.2,878.8 641.7,878.2 642.2,877.6 642.7,877.1 643.2,876.6 643.7,876.1 644.2,875.7 644.7,875.3 645.2,875.0 645.7,874.8 646.2,874.6 646.7,874.5 647.2,874.5 647.7,874.6 648.2,874.7 648.7,875.0 649.2,875.3 649.7,875.6 650.2,876.0 650.7,876.5 651.2,877.0 651.7,877.6 652.2,878.1 652.7,878.7 653.2,879.2 653.7,879.8 654.2,880.3 654.7,880.8 655.2,881.2 655.7,881.6 656.2,881.9 656.7,882.2 657.2,882.4 657.7,882.5 658.2,882.5 658.7,882.4 659.2,882.3 659.7,882.1 660.2,881.8 660.7,881.5 661.2,881.0 661.7,880.6 662.2,880.1 662.7,879.6 663.2,879.0 663.7,878.4 664.2,877.9 664.7,877.3 665.2,876.8 665.7,876.3 666.2,875.8 666.7,875.5 667.2,875.1 667.7,874.9 668.2,874.7 668.7,874.5 669.2,874.5 669.7,874.5 670.2,874.7 670.7,874.9 671.2,875.1 671.7,875.5 672.2,875.9 672.7,876.3 673.2,876.8 673.7,877.3 674.2,877.9 674.7,878.5 675.2,879.0 675.7,879.6 676.2,880.1 676.7,880.6 677.2,881.1 677.7,881.5 678.2,881.8 678.7,882.1 679.2,882.3 679.7,882.4 680.2,882.5 680.7,882.5 681.2,882.4 681.7,882.2 682.2,881.9 682.7,881.6 683.2,881.2 683.7,880.8 684.2,880.3 684.7,879.8 685.2,879.2 685.7,878.7 686.2,878.1 686.7,877.5 687.2,877.0 687.7,876.5 688.2,876.0 688.7,875.6 689.2,875.2 689.7,874.9 690.2,874.7 690.7,874.6 691.2,874.5 691.7,874.5 692.2,874.6 692.7,874.8 693.2,875.0 693.7,875.3 694.2,875.7 694.7,876.1 695.2,876.6 695.7,877.1 696.2,877.7 696.7,878.2 697.2,878.8 697.7,879.4" fill="none" stroke="#25235e" stroke-width="2.0" stroke-linejoin="round"/>
<path d="M559.0,867.7 L559.0,843.0 L597.0,843.0" stroke="#4ea64a" stroke-width="2.6" fill="none" stroke-linejoin="miter"/>
<path d="M606.0,843.0 L596.0,838.0 L596.0,848.0 Z" fill="#4ea64a"/>
<text x="482.0" y="934.6" font-size="14.0" fill="#111" color="#111" stroke-width="0.00" font-weight="bold" text-anchor="middle" textLength="19.7" lengthAdjust="spacingAndGlyphs">DC</text>
<path d="M516.4,986.4C516.2,986.9 515.9,987.5 515.8,988.0C515.6,988.5 515.5,989.0 515.5,989.6C515.6,990.1 515.8,990.6 516.1,991.2C516.3,991.8 516.8,992.4 517.1,993.0C517.3,993.6 517.5,994.2 517.5,994.8C517.4,995.3 516.9,995.8 516.6,996.3C516.2,996.8 515.7,997.2 515.3,997.7C514.9,998.1 514.6,998.6 514.4,999.1C514.2,999.6 514.0,1000.1 513.8,1000.6C513.6,1001.1 513.5,1001.6 513.3,1002.1C513.1,1002.6 512.9,1003.1 512.6,1003.6C512.4,1004.1 512.2,1004.5 511.9,1005.0C511.7,1005.5 511.4,1005.9 511.1,1006.4C510.9,1006.9 510.6,1007.3 510.3,1007.8C510.1,1008.3 509.8,1008.7 509.7,1009.3C509.5,1009.8 509.5,1010.5 509.5,1011.1C509.4,1011.8 509.6,1012.6 509.4,1013.2C509.3,1013.8 509.0,1014.3 508.6,1014.7C508.1,1015.0 507.3,1015.0 506.7,1015.3C506.2,1015.5 505.7,1015.7 505.4,1016.3C505.2,1016.9 505.5,1018.0 505.3,1018.6C505.1,1019.2 504.9,1020.0 504.4,1020.1C503.8,1020.3 502.6,1019.8 501.8,1019.6C500.9,1019.4 500.0,1019.1 499.4,1019.0C498.7,1019.0 498.3,1019.3 497.8,1019.5C497.3,1019.7 496.9,1020.0 496.5,1020.3C496.0,1020.6 495.6,1020.9 495.2,1021.1C494.7,1021.4 494.3,1021.7 493.9,1022.0C493.4,1022.2 493.0,1022.5 492.5,1022.8C492.1,1023.1 491.7,1023.3 491.2,1023.6C490.7,1023.8 490.3,1024.1 489.8,1024.3C489.4,1024.6 488.9,1024.8 488.4,1025.1C488.0,1025.4 487.5,1025.6 487.1,1026.1C486.6,1026.5 486.2,1027.0 485.8,1027.8C485.5,1028.6 485.2,1029.9 484.8,1030.9C484.4,1031.9 484.0,1033.2 483.4,1033.7C482.9,1034.2 482.2,1034.2 481.6,1034.0C481.0,1033.8 480.3,1033.1 479.7,1032.6C479.0,1032.2 478.4,1031.7 477.8,1031.3C477.2,1030.9 476.7,1030.6 476.1,1030.3C475.5,1030.0 475.0,1029.7 474.4,1029.5C473.9,1029.3 473.3,1029.2 472.8,1029.0C472.2,1028.9 471.7,1028.8 471.2,1028.7C470.6,1028.6 470.1,1028.5 469.5,1028.5C469.0,1028.4 468.5,1028.2 467.9,1028.2C467.4,1028.2 466.8,1028.1 466.2,1028.3C465.6,1028.5 464.9,1028.9 464.2,1029.3C463.5,1029.8 462.6,1030.6 461.9,1030.8C461.2,1031.0 460.6,1031.0 460.1,1030.5C459.7,1030.0 459.5,1028.8 459.2,1027.9C458.9,1027.0 458.8,1025.9 458.6,1025.1C458.3,1024.4 458.0,1023.8 457.6,1023.3C457.3,1022.8 456.8,1022.5 456.4,1022.1C456.0,1021.8 455.6,1021.4 455.2,1021.1C454.8,1020.7 454.4,1020.4 454.0,1020.0C453.7,1019.7 453.3,1019.3 452.9,1019.0C452.4,1018.7 452.0,1018.4 451.5,1018.2C450.9,1018.0 450.2,1018.1 449.7,1017.9C449.2,1017.7 448.7,1017.4 448.4,1016.9C448.2,1016.4 448.3,1015.5 448.1,1014.9C448.0,1014.3 447.9,1013.7 447.5,1013.3C447.2,1012.9 446.7,1012.7 446.1,1012.5C445.6,1012.2 444.7,1012.3 444.2,1012.0C443.7,1011.7 443.3,1011.3 443.2,1010.7C443.1,1010.2 443.3,1009.3 443.4,1008.7C443.4,1008.0 443.5,1007.4 443.4,1006.8C443.3,1006.3 443.1,1005.8 442.9,1005.3C442.7,1004.9 442.5,1004.4 442.3,1003.9C442.1,1003.5 441.9,1003.0 441.7,1002.6C441.5,1002.1 441.4,1001.6 441.2,1001.1C441.0,1000.7 440.8,1000.2 440.5,999.8C440.3,999.3 440.0,998.9 439.5,998.5C439.0,998.1 438.4,997.8 437.6,997.5C436.8,997.1 435.7,996.9 435.0,996.5C434.2,996.1 433.3,995.7 433.0,995.1C432.7,994.6 432.8,994.0 433.2,993.3C433.5,992.7 434.3,992.0 435.0,991.4C435.6,990.7 436.4,990.1 437.0,989.5C437.5,989.0 438.0,988.4 438.3,987.9C438.7,987.4 438.9,986.9 439.1,986.4C439.3,985.9 439.4,985.4 439.5,984.9C439.6,984.5 439.6,984.0 439.7,983.5C439.8,983.0 439.9,982.5 439.9,982.0C440.0,981.6 440.1,981.1 440.2,980.6C440.2,980.1 440.3,979.6 440.4,979.2C440.5,978.7 440.6,978.2 440.6,977.7C440.7,977.2 440.8,976.8 440.8,976.3C440.9,975.8 441.0,975.3 440.9,974.8C440.9,974.2 440.8,973.7 440.6,973.1C440.4,972.4 440.0,971.7 439.6,971.0C439.3,970.3 438.7,969.5 438.5,968.7C438.2,968.0 438.1,967.3 438.1,966.7C438.2,966.1 438.6,965.7 438.8,965.1C439.0,964.6 439.3,964.1 439.4,963.5C439.5,962.9 439.3,962.0 439.3,961.4C439.3,960.7 439.4,960.0 439.7,959.5C440.0,958.9 440.7,958.7 441.2,958.4C441.6,958.0 442.2,957.7 442.5,957.2C442.8,956.7 442.8,955.9 443.0,955.3C443.2,954.6 443.3,953.8 443.6,953.4C444.0,952.9 444.6,952.6 445.2,952.4C445.9,952.2 446.7,952.3 447.4,952.2C448.1,952.1 448.8,952.0 449.4,951.9C449.9,951.7 450.4,951.4 450.9,951.1C451.3,950.7 451.7,950.3 452.1,949.9C452.5,949.4 452.8,948.9 453.2,948.4C453.6,947.8 453.9,947.2 454.3,946.7C454.6,946.2 455.0,945.6 455.5,945.3C456.0,944.9 456.5,944.6 457.1,944.5C457.7,944.3 458.4,944.4 459.0,944.4C459.6,944.4 460.3,944.6 460.9,944.6C461.6,944.7 462.2,944.7 462.8,944.7C463.4,944.7 463.9,944.6 464.5,944.6C465.1,944.6 465.6,944.5 466.2,944.5C466.8,944.4 467.3,944.4 467.9,944.4C468.4,944.4 469.0,944.3 469.5,944.4C470.1,944.4 470.7,944.4 471.2,944.4C471.8,944.4 472.3,944.5 472.9,944.5C473.4,944.6 473.9,944.7 474.5,944.7C475.0,944.8 475.6,944.9 476.1,944.9C476.6,945.0 477.1,945.0 477.7,945.0C478.2,944.9 478.8,944.8 479.3,944.7C479.9,944.5 480.4,944.2 481.0,943.9C481.6,943.6 482.2,943.3 482.8,943.1C483.4,943.0 484.0,942.9 484.6,943.0C485.1,943.1 485.6,943.4 486.2,943.6C486.7,943.9 487.2,944.2 487.7,944.5C488.2,944.7 488.7,944.9 489.3,945.1C489.8,945.3 490.3,945.5 490.8,945.7C491.4,945.9 491.9,946.1 492.4,946.3C493.0,946.4 493.5,946.5 494.2,946.5C494.8,946.5 495.5,946.3 496.1,946.4C496.7,946.4 497.4,946.5 497.8,946.9C498.2,947.4 498.4,948.1 498.6,948.9C498.8,949.7 498.8,950.7 499.0,951.5C499.1,952.3 499.2,953.1 499.4,953.7C499.6,954.3 499.9,954.8 500.3,955.1C500.7,955.5 501.2,955.6 501.7,955.8C502.3,956.0 502.9,956.0 503.5,956.2C504.1,956.3 504.7,956.4 505.2,956.8C505.6,957.1 506.0,957.5 506.2,958.0C506.4,958.6 506.4,959.3 506.5,959.9C506.6,960.6 506.5,961.3 506.5,961.9C506.6,962.6 506.6,963.2 506.8,963.7C506.9,964.2 507.1,964.7 507.3,965.2C507.4,965.7 507.7,966.1 507.9,966.6C508.1,967.0 508.3,967.5 508.5,967.9C508.7,968.4 508.9,968.8 509.1,969.3C509.3,969.7 509.5,970.2 509.7,970.6C509.9,971.1 510.1,971.5 510.4,971.9C510.6,972.4 510.9,972.8 511.4,973.1C511.9,973.5 512.6,973.8 513.4,974.1C514.2,974.3 515.4,974.5 516.1,974.9C516.8,975.3 517.5,975.7 517.6,976.2C517.7,976.8 517.2,977.5 516.8,978.2C516.4,978.8 515.6,979.5 515.3,980.1C515.0,980.7 515.0,981.2 515.1,981.7C515.2,982.2 515.6,982.7 515.9,983.2C516.1,983.7 516.5,984.3 516.5,984.8C516.6,985.3 516.5,985.9 516.4,986.4Z" fill="#e4a0f0" stroke="#c07ed8" stroke-width="1.3" stroke-linejoin="round" opacity="1"/>
<path d="M493.1,990.0C492.9,990.7 492.7,991.5 492.5,992.2C492.3,992.9 492.0,993.5 491.9,994.3C491.7,995.0 491.6,995.7 491.5,996.4C491.3,997.1 491.2,997.9 491.0,998.6C490.7,999.4 490.2,1000.0 489.9,1000.6C489.5,1001.3 489.3,1002.2 488.8,1002.8C488.4,1003.5 487.8,1004.1 487.3,1004.7C486.7,1005.2 486.1,1005.8 485.4,1006.3C484.7,1006.7 483.9,1006.9 483.1,1007.2C482.3,1007.4 481.5,1007.5 480.7,1007.6C479.9,1007.8 479.2,1008.0 478.4,1008.0C477.6,1008.0 476.8,1007.7 476.0,1007.6C475.2,1007.5 474.5,1007.5 473.7,1007.3C473.0,1007.2 472.2,1007.1 471.5,1006.9C470.7,1006.7 470.0,1006.4 469.3,1006.1C468.6,1005.9 467.8,1005.8 467.1,1005.5C466.3,1005.2 465.6,1004.9 464.9,1004.5C464.2,1004.0 463.7,1003.4 463.1,1002.9C462.5,1002.4 461.8,1001.9 461.2,1001.4C460.6,1000.8 460.0,1000.2 459.6,999.5C459.1,998.8 458.8,998.0 458.6,997.2C458.4,996.4 458.3,995.6 458.2,994.8C458.0,994.0 457.7,993.2 457.7,992.4C457.6,991.6 457.8,990.8 457.9,990.0C458.0,989.2 458.2,988.4 458.4,987.7C458.6,986.9 458.7,986.2 459.0,985.4C459.2,984.7 459.6,984.0 459.9,983.3C460.2,982.6 460.3,981.8 460.7,981.2C461.0,980.5 461.6,979.9 462.0,979.3C462.5,978.6 462.8,977.9 463.3,977.3C463.8,976.7 464.4,976.1 465.0,975.7C465.6,975.2 466.4,975.0 467.2,974.7C467.9,974.4 468.6,974.1 469.3,973.8C470.0,973.6 470.8,973.3 471.5,973.2C472.2,973.0 473.0,972.8 473.7,972.8C474.5,972.7 475.2,973.0 476.0,973.0C476.8,973.0 477.5,972.9 478.3,972.9C479.0,972.9 479.8,972.9 480.6,972.9C481.3,973.0 482.1,973.2 482.9,973.4C483.6,973.6 484.4,973.8 485.2,974.0C486.0,974.2 487.0,974.3 487.7,974.7C488.5,975.1 489.2,975.6 489.8,976.2C490.5,976.7 491.1,977.3 491.6,978.0C492.1,978.7 492.6,979.5 492.9,980.3C493.2,981.1 493.3,982.0 493.4,982.8C493.5,983.6 493.7,984.4 493.7,985.2C493.8,986.1 493.6,986.9 493.5,987.7C493.4,988.5 493.2,989.3 493.1,990.0Z" fill="#d08ae6" stroke="none" stroke-width="0.0" opacity="1"/>
<circle cx="506.5" cy="994.3" r="0.8" fill="#cc86e2"/>
<circle cx="474.4" cy="978.5" r="0.8" fill="#cc86e2"/>
<circle cx="459.2" cy="982.3" r="0.8" fill="#cc86e2"/>
<circle cx="498.6" cy="965.9" r="0.8" fill="#cc86e2"/>
<circle cx="467.7" cy="1014.2" r="0.8" fill="#cc86e2"/>
<circle cx="457.1" cy="988.7" r="0.8" fill="#cc86e2"/>
<circle cx="456.1" cy="997.4" r="0.8" fill="#cc86e2"/>
<circle cx="444.3" cy="995.0" r="0.8" fill="#cc86e2"/>
<circle cx="474.7" cy="977.3" r="0.8" fill="#cc86e2"/>
<circle cx="456.4" cy="1015.6" r="0.8" fill="#cc86e2"/>
<circle cx="477.7" cy="960.3" r="0.8" fill="#cc86e2"/>
<circle cx="459.1" cy="964.7" r="0.8" fill="#cc86e2"/>
<text x="476.8" y="969.1" font-size="14.0" fill="#1e1e2e" color="#1e1e2e" stroke-width="0.12" text-anchor="middle" textLength="56.4" lengthAdjust="spacingAndGlyphs">FABP5 hi</text>
<text x="475.5" y="991.3" font-size="14.0" fill="#1e1e2e" color="#1e1e2e" stroke-width="0.12" text-anchor="middle" textLength="57.0" lengthAdjust="spacingAndGlyphs">fatty acid</text>
<text x="434.0" y="1016.4" font-size="14.0" fill="#1e1e2e" color="#1e1e2e" stroke-width="0.12" text-anchor="start" textLength="76.0" lengthAdjust="spacingAndGlyphs">metabolism</text>
<path d="M514.46,1006.27 L517.12,1010.00 L515.84,1010.00 L515.84,1016.63 L513.08,1016.63 L513.08,1010.00 L511.80,1010.00 Z" fill="#111"/>
<polyline points="518.0,983.5 518.5,983.5 519.0,983.5 519.5,983.7 520.0,983.9 520.5,984.2 521.0,984.5 521.5,984.9 522.0,985.4 522.5,985.9 523.0,986.4 523.5,986.9 524.0,987.5 524.5,988.1 525.0,988.6 525.5,989.1 526.0,989.6 526.5,990.1 527.0,990.5 527.5,990.8 528.0,991.1 528.5,991.3 529.0,991.5 529.5,991.5 530.0,991.5 530.5,991.4 531.0,991.2" fill="none" stroke="#25235e" stroke-width="2.0" stroke-linejoin="round"/>
<polyline points="518.0,988.2 518.5,988.8 519.0,989.3 519.5,989.8 520.0,990.2 520.5,990.6 521.0,990.9 521.5,991.2 522.0,991.4 522.5,991.5 523.0,991.5 523.5,991.4 524.0,991.3 524.5,991.1 525.0,990.8 525.5,990.5 526.0,990.0 526.5,989.6 527.0,989.1 527.5,988.6 528.0,988.0 528.5,987.4 529.0,986.9 529.5,986.3 530.0,985.8 530.5,985.3 531.0,984.8" fill="none" stroke="#25235e" stroke-width="2.0" stroke-linejoin="round"/>
<rect x="532.2" y="975.0" width="75.4" height="25.4" rx="0.0" fill="#dcf0f8" stroke="#6e9db2" stroke-width="1.3" opacity="1"/>
<text x="570.0" y="991.8" font-size="14.5" fill="#222" color="#222" stroke-width="0.12" text-anchor="middle" textLength="58.0" lengthAdjust="spacingAndGlyphs">Promoter</text>
<polyline points="607.0,983.9 607.5,984.2 608.0,984.5 608.5,984.9 609.0,985.4 609.5,985.9 610.0,986.4 610.5,986.9 611.0,987.5 611.5,988.1 612.0,988.6 612.5,989.1 613.0,989.6 613.5,990.1 614.0,990.5 614.5,990.8 615.0,991.1 615.5,991.3 616.0,991.5" fill="none" stroke="#25235e" stroke-width="2.0" stroke-linejoin="round"/>
<polyline points="607.0,990.2 607.5,990.6 608.0,990.9 608.5,991.2 609.0,991.4 609.5,991.5 610.0,991.5 610.5,991.4 611.0,991.3 611.5,991.1 612.0,990.8 612.5,990.5 613.0,990.0 613.5,989.6 614.0,989.1 614.5,988.6 615.0,988.0 615.5,987.4 616.0,986.9" fill="none" stroke="#25235e" stroke-width="2.0" stroke-linejoin="round"/>
<rect x="616.0" y="975.0" width="51.0" height="24.6" rx="0.0" fill="#dcf0f8" stroke="#6e9db2" stroke-width="1.3" opacity="1"/>
<text x="641.5" y="991.5" font-size="14.5" fill="#222" color="#222" stroke-width="0.12" text-anchor="middle" textLength="32.5" lengthAdjust="spacingAndGlyphs">Gene</text>
<polyline points="667.0,983.5 667.5,983.7 668.0,983.9 668.5,984.2 669.0,984.5 669.5,984.9 670.0,985.4 670.5,985.9 671.0,986.4 671.5,986.9 672.0,987.5 672.5,988.1 673.0,988.6 673.5,989.1 674.0,989.6 674.5,990.1 675.0,990.5 675.5,990.8 676.0,991.1 676.5,991.3 677.0,991.5 677.5,991.5 678.0,991.5 678.5,991.4 679.0,991.2 679.5,990.9 680.0,990.6 680.5,990.2 681.0,989.7 681.5,989.3 682.0,988.7 682.5,988.2 683.0,987.6 683.5,987.0 684.0,986.5 684.5,986.0 685.0,985.5 685.5,985.0 686.0,984.6 686.5,984.2 687.0,983.9 687.5,983.7 688.0,983.6 688.5,983.5 689.0,983.5 689.5,983.6 690.0,983.8 690.5,984.0 691.0,984.4 691.5,984.7 692.0,985.2 692.5,985.6 693.0,986.2 693.5,986.7 694.0,987.3 694.5,987.8 695.0,988.4 695.5,988.9 696.0,989.5 696.5,989.9 697.0,990.3 697.5,990.7 698.0,991.0 698.5,991.3 699.0,991.4 699.5,991.5 700.0,991.5 700.5,991.4 701.0,991.3" fill="none" stroke="#25235e" stroke-width="2.0" stroke-linejoin="round"/>
<polyline points="667.0,989.3 667.5,989.8 668.0,990.2 668.5,990.6 669.0,990.9 669.5,991.2 670.0,991.4 670.5,991.5 671.0,991.5 671.5,991.4 672.0,991.3 672.5,991.1 673.0,990.8 673.5,990.5 674.0,990.0 674.5,989.6 675.0,989.1 675.5,988.6 676.0,988.0 676.5,987.4 677.0,986.9 677.5,986.3 678.0,985.8 678.5,985.3 679.0,984.8 679.5,984.5 680.0,984.1 680.5,983.9 681.0,983.7 681.5,983.5 682.0,983.5 682.5,983.5 683.0,983.7 683.5,983.9 684.0,984.1 684.5,984.5 685.0,984.9 685.5,985.3 686.0,985.8 686.5,986.3 687.0,986.9 687.5,987.5 688.0,988.0 688.5,988.6 689.0,989.1 689.5,989.6 690.0,990.1 690.5,990.5 691.0,990.8 691.5,991.1 692.0,991.3 692.5,991.4 693.0,991.5 693.5,991.5 694.0,991.4 694.5,991.2 695.0,990.9 695.5,990.6 696.0,990.2 696.5,989.8 697.0,989.3 697.5,988.8 698.0,988.2 698.5,987.7 699.0,987.1 699.5,986.5 700.0,986.0 700.5,985.5 701.0,985.0" fill="none" stroke="#25235e" stroke-width="2.0" stroke-linejoin="round"/>
<text x="548.0" y="1013.6" font-size="14.0" fill="#222" color="#222" stroke-width="0.12" text-anchor="start" textLength="48.0" lengthAdjust="spacingAndGlyphs">PPAR-γ</text>
<path d="M617.8,975.0 L617.8,955.0 L636.0,955.0" stroke="#4ea64a" stroke-width="2.6" fill="none" stroke-linejoin="miter"/>
<path d="M645.0,955.0 L635.0,950.0 L635.0,960.0 Z" fill="#4ea64a"/>
<text x="678.5" y="953.7" font-size="13.7" fill="#6ab06a" color="#6ab06a" stroke-width="0.12" text-anchor="middle" textLength="57.0" lengthAdjust="spacingAndGlyphs">inhibitory</text>
<text x="678.5" y="968.6" font-size="13.7" fill="#6ab06a" color="#6ab06a" stroke-width="0.12" text-anchor="middle" textLength="63.0" lengthAdjust="spacingAndGlyphs">molecules</text>
<text x="476.8" y="1048.1" font-size="14.0" fill="#111" color="#111" stroke-width="0.00" font-weight="bold" text-anchor="middle" textLength="30.4" lengthAdjust="spacingAndGlyphs">TAM</text>
<circle cx="434.0" cy="1074.2" r="2.0" fill="#1e1e1e" stroke="none" stroke-width="1.2" opacity="1"/>
<text x="452.0" y="1080.2" font-size="16.1" fill="#1e1e1e" color="#1e1e1e" stroke-width="0.32" text-anchor="start">A generally suppressed myeloid profile</text>
<text x="755.7" y="560.0" font-size="23.5" fill="#111" color="#111" stroke-width="0.00" font-weight="bold" text-anchor="start">f</text>
<text x="793.0" y="567.6" font-size="17.7" fill="#111" color="#111" stroke-width="0.00" font-weight="bold" text-anchor="start" textLength="92.0" lengthAdjust="spacingAndGlyphs">Microbiota</text>
<path d="M809.0,600.0C808.9,600.2 808.9,600.5 808.8,600.7C808.8,600.9 808.7,601.1 808.7,601.4C808.6,601.6 808.6,601.8 808.6,602.1C808.5,602.3 808.5,602.5 808.4,602.8C808.3,603.0 808.3,603.3 808.2,603.5C808.1,603.8 808.0,604.0 807.9,604.3C807.8,604.5 807.7,604.8 807.5,605.0C807.4,605.3 807.2,605.5 807.0,605.6C806.8,605.8 806.6,606.0 806.3,606.1C806.1,606.2 805.8,606.3 805.6,606.3C805.3,606.4 805.0,606.4 804.8,606.3C804.5,606.3 804.2,606.2 804.0,606.1C803.8,606.1 803.5,606.0 803.3,606.0C803.0,605.9 802.8,605.8 802.6,605.7C802.4,605.6 802.2,605.4 802.0,605.3C801.8,605.2 801.5,605.1 801.3,605.0C801.1,604.9 800.9,604.8 800.7,604.6C800.5,604.5 800.3,604.5 800.0,604.3C799.8,604.2 799.6,604.0 799.5,603.8C799.3,603.6 799.1,603.4 799.0,603.2C798.8,602.9 798.7,602.7 798.6,602.4C798.5,602.2 798.5,601.9 798.5,601.6C798.5,601.3 798.4,601.1 798.4,600.8C798.4,600.5 798.5,600.3 798.5,600.0C798.6,599.7 798.7,599.5 798.8,599.2C798.8,599.0 799.0,598.8 799.1,598.6C799.2,598.3 799.3,598.1 799.4,597.9C799.5,597.7 799.5,597.5 799.6,597.3C799.7,597.0 799.9,596.9 800.0,596.7C800.1,596.4 800.2,596.2 800.3,595.9C800.4,595.7 800.6,595.6 800.8,595.4C800.9,595.2 801.1,595.0 801.2,594.8C801.4,594.6 801.6,594.4 801.8,594.3C802.0,594.2 802.3,594.1 802.5,594.0C802.8,593.9 803.0,593.8 803.2,593.8C803.5,593.7 803.8,593.7 804.0,593.7C804.2,593.7 804.5,593.8 804.7,593.8C805.0,593.8 805.3,593.9 805.5,593.9C805.7,594.0 806.0,594.1 806.2,594.2C806.4,594.3 806.7,594.4 806.9,594.5C807.1,594.7 807.3,594.9 807.5,595.0C807.7,595.2 807.9,595.4 808.0,595.6C808.2,595.8 808.4,596.0 808.6,596.2C808.7,596.4 808.8,596.7 808.9,596.9C809.0,597.2 809.1,597.4 809.2,597.7C809.2,597.9 809.2,598.2 809.2,598.5C809.1,598.8 809.1,599.0 809.1,599.3C809.0,599.5 809.0,599.8 809.0,600.0Z" fill="#f2d6da" stroke="none" stroke-width="0.0" opacity="1"/>
<path d="M858.3,632.0C858.3,632.2 858.4,632.4 858.5,632.6C858.5,632.9 858.7,633.1 858.7,633.4C858.8,633.6 858.8,633.9 858.9,634.2C858.9,634.5 858.9,634.8 858.9,635.1C859.0,635.4 858.9,635.8 858.9,636.1C858.8,636.4 858.8,636.8 858.6,637.1C858.5,637.3 858.3,637.5 858.0,637.7C857.8,637.9 857.6,638.1 857.3,638.3C857.1,638.4 856.8,638.5 856.5,638.5C856.2,638.6 855.9,638.6 855.6,638.6C855.3,638.6 855.0,638.5 854.8,638.4C854.5,638.3 854.2,638.1 854.0,638.0C853.8,638.0 853.5,637.9 853.3,637.8C853.1,637.7 852.9,637.5 852.7,637.4C852.5,637.3 852.3,637.2 852.1,637.1C851.9,637.0 851.7,636.8 851.5,636.7C851.3,636.6 851.1,636.5 850.9,636.4C850.8,636.2 850.6,636.0 850.5,635.8C850.3,635.7 850.2,635.5 850.0,635.3C849.9,635.1 849.8,634.9 849.8,634.7C849.7,634.5 849.6,634.3 849.5,634.0C849.4,633.8 849.3,633.6 849.2,633.4C849.1,633.2 849.0,633.0 848.9,632.7C848.8,632.5 848.7,632.3 848.7,632.0C848.6,631.7 848.6,631.5 848.6,631.2C848.5,630.9 848.5,630.7 848.5,630.4C848.5,630.1 848.5,629.8 848.5,629.5C848.6,629.2 848.6,628.9 848.7,628.6C848.8,628.4 848.9,628.1 849.1,627.9C849.3,627.7 849.5,627.5 849.7,627.3C849.9,627.1 850.1,627.0 850.4,626.8C850.6,626.7 850.9,626.6 851.1,626.6C851.4,626.5 851.7,626.5 851.9,626.5C852.2,626.5 852.4,626.5 852.6,626.5C852.9,626.5 853.1,626.4 853.3,626.4C853.5,626.3 853.8,626.3 854.0,626.3C854.2,626.3 854.5,626.2 854.7,626.2C854.9,626.2 855.2,626.2 855.4,626.2C855.7,626.2 856.0,626.1 856.2,626.1C856.5,626.1 856.8,626.2 857.0,626.3C857.2,626.4 857.5,626.6 857.7,626.8C857.9,626.9 858.1,627.1 858.2,627.4C858.4,627.6 858.5,627.9 858.5,628.2C858.6,628.5 858.6,628.8 858.6,629.1C858.6,629.4 858.6,629.7 858.5,629.9C858.5,630.2 858.5,630.5 858.5,630.7C858.5,630.9 858.4,631.2 858.4,631.4C858.3,631.6 858.3,631.8 858.3,632.0Z" fill="#f2d6da" stroke="none" stroke-width="0.0" opacity="1"/>
<path d="M803.7,645.0C803.6,645.3 803.7,645.5 803.6,645.8C803.6,646.1 803.5,646.3 803.5,646.6C803.5,646.9 803.5,647.2 803.4,647.4C803.3,647.7 803.2,647.9 803.0,648.2C802.9,648.4 802.9,648.7 802.7,649.0C802.6,649.2 802.3,649.3 802.2,649.5C802.0,649.7 801.8,650.0 801.6,650.1C801.4,650.3 801.1,650.3 800.9,650.4C800.6,650.5 800.4,650.6 800.1,650.6C799.9,650.7 799.6,650.7 799.4,650.6C799.1,650.6 798.9,650.5 798.7,650.5C798.4,650.4 798.2,650.4 798.0,650.3C797.8,650.3 797.6,650.3 797.4,650.3C797.2,650.2 797.0,650.1 796.7,650.1C796.5,650.1 796.3,650.0 796.1,650.0C795.9,650.0 795.6,650.0 795.4,650.0C795.1,649.9 794.9,649.8 794.7,649.7C794.4,649.6 794.2,649.5 794.0,649.4C793.8,649.2 793.6,649.1 793.4,648.9C793.2,648.7 793.0,648.5 792.9,648.2C792.7,648.0 792.7,647.7 792.6,647.4C792.6,647.1 792.6,646.9 792.6,646.6C792.5,646.3 792.5,646.0 792.5,645.8C792.6,645.5 792.6,645.3 792.7,645.0C792.7,644.7 792.8,644.5 792.8,644.3C792.9,644.0 793.0,643.8 793.0,643.5C793.0,643.3 793.0,643.0 793.0,642.8C793.1,642.5 793.1,642.2 793.2,642.0C793.3,641.7 793.4,641.5 793.5,641.2C793.6,640.9 793.7,640.7 793.8,640.4C794.0,640.2 794.1,640.0 794.3,639.8C794.5,639.6 794.7,639.3 794.9,639.2C795.1,639.0 795.4,638.9 795.7,638.9C795.9,638.8 796.2,638.8 796.5,638.8C796.8,638.9 797.0,639.0 797.3,639.0C797.5,639.1 797.8,639.2 798.0,639.3C798.2,639.4 798.5,639.4 798.7,639.5C798.9,639.6 799.1,639.8 799.2,639.9C799.4,640.0 799.7,640.0 799.9,640.1C800.0,640.2 800.2,640.3 800.4,640.4C800.6,640.5 800.8,640.6 801.0,640.7C801.2,640.8 801.4,640.9 801.6,641.0C801.9,641.1 802.1,641.2 802.3,641.4C802.5,641.6 802.6,641.8 802.8,642.0C802.9,642.2 803.1,642.4 803.2,642.6C803.4,642.9 803.5,643.1 803.5,643.4C803.6,643.6 803.6,643.9 803.7,644.2C803.7,644.5 803.7,644.7 803.7,645.0Z" fill="#f2d6da" stroke="none" stroke-width="0.0" opacity="1"/>
<path d="M841.5,647.5C841.5,647.8 841.3,648.0 841.2,648.2C841.1,648.5 841.0,648.7 841.0,649.0C840.9,649.2 840.9,649.5 840.8,649.7C840.8,649.9 840.6,650.1 840.5,650.3C840.4,650.6 840.3,650.8 840.2,651.0C840.1,651.3 840.0,651.5 839.8,651.7C839.7,651.9 839.5,652.1 839.3,652.2C839.1,652.4 839.0,652.6 838.7,652.7C838.5,652.8 838.3,652.9 838.1,653.0C837.9,653.1 837.6,653.1 837.4,653.1C837.1,653.1 836.9,653.2 836.7,653.2C836.5,653.2 836.2,653.2 836.0,653.2C835.8,653.2 835.5,653.2 835.3,653.2C835.1,653.2 834.8,653.2 834.6,653.2C834.4,653.2 834.1,653.2 833.9,653.1C833.6,653.1 833.3,653.1 833.1,653.0C832.8,653.0 832.5,652.9 832.3,652.8C832.0,652.7 831.8,652.5 831.6,652.3C831.4,652.1 831.3,651.8 831.1,651.6C831.0,651.3 830.8,651.1 830.7,650.8C830.6,650.5 830.7,650.2 830.7,649.9C830.7,649.6 830.7,649.3 830.7,649.0C830.7,648.8 830.8,648.5 830.9,648.2C831.0,648.0 831.1,647.7 831.1,647.5C831.2,647.3 831.3,647.1 831.3,646.8C831.3,646.6 831.3,646.4 831.3,646.1C831.3,645.9 831.4,645.7 831.4,645.4C831.4,645.2 831.4,644.9 831.4,644.6C831.4,644.3 831.5,644.0 831.5,643.8C831.6,643.5 831.7,643.2 831.8,643.0C832.0,642.7 832.1,642.5 832.3,642.3C832.5,642.1 832.8,641.9 833.0,641.8C833.2,641.7 833.5,641.5 833.7,641.5C834.0,641.5 834.3,641.5 834.5,641.5C834.8,641.6 835.0,641.6 835.3,641.6C835.5,641.7 835.8,641.8 836.0,641.8C836.2,641.9 836.4,642.0 836.7,642.1C836.9,642.1 837.1,642.3 837.3,642.3C837.5,642.4 837.7,642.3 837.9,642.4C838.2,642.4 838.4,642.4 838.7,642.5C838.9,642.5 839.1,642.6 839.4,642.7C839.6,642.8 839.9,642.9 840.1,643.0C840.4,643.1 840.6,643.3 840.8,643.5C841.0,643.7 841.1,644.0 841.2,644.2C841.4,644.5 841.5,644.7 841.5,645.0C841.6,645.3 841.7,645.5 841.7,645.8C841.7,646.1 841.7,646.4 841.6,646.7C841.6,647.0 841.6,647.2 841.5,647.5Z" fill="#f2d6da" stroke="none" stroke-width="0.0" opacity="1"/>
<path d="M834.7,665.6C834.7,665.8 834.7,666.0 834.7,666.3C834.6,666.5 834.7,666.7 834.7,667.0C834.7,667.2 834.6,667.4 834.6,667.7C834.6,667.9 834.5,668.2 834.4,668.4C834.4,668.6 834.3,668.9 834.2,669.1C834.1,669.4 834.0,669.6 833.8,669.8C833.7,670.0 833.5,670.1 833.3,670.3C833.1,670.4 832.9,670.6 832.7,670.7C832.5,670.9 832.3,671.0 832.1,671.1C831.8,671.1 831.6,671.2 831.4,671.2C831.2,671.3 830.9,671.4 830.7,671.5C830.5,671.6 830.2,671.6 830.0,671.7C829.8,671.7 829.5,671.7 829.3,671.7C829.0,671.8 828.7,671.8 828.5,671.8C828.2,671.8 828.0,671.7 827.7,671.7C827.4,671.6 827.2,671.5 826.9,671.4C826.7,671.3 826.4,671.2 826.2,671.0C826.0,670.8 825.8,670.5 825.7,670.3C825.6,670.0 825.4,669.8 825.3,669.5C825.2,669.2 825.1,669.0 825.0,668.7C825.0,668.5 825.0,668.2 825.0,667.9C825.0,667.6 825.0,667.3 825.0,667.1C825.0,666.8 825.0,666.6 825.0,666.3C825.0,666.1 825.0,665.8 825.0,665.6C825.0,665.4 824.9,665.1 824.9,664.9C824.9,664.6 825.0,664.4 825.0,664.1C825.0,663.9 825.0,663.6 825.0,663.3C825.1,663.1 825.2,662.9 825.3,662.6C825.4,662.4 825.5,662.2 825.7,662.0C825.8,661.8 826.0,661.6 826.2,661.5C826.4,661.3 826.6,661.2 826.8,661.1C827.0,661.0 827.3,661.0 827.5,660.9C827.7,660.8 827.9,660.7 828.1,660.6C828.3,660.5 828.5,660.5 828.7,660.4C828.9,660.4 829.1,660.3 829.4,660.2C829.6,660.2 829.8,660.1 830.0,660.0C830.2,659.9 830.5,659.8 830.7,659.7C831.0,659.6 831.2,659.5 831.5,659.4C831.8,659.4 832.1,659.3 832.4,659.3C832.7,659.3 833.0,659.4 833.2,659.5C833.5,659.6 833.8,659.7 834.0,659.9C834.3,660.1 834.5,660.3 834.6,660.6C834.8,660.8 834.9,661.1 835.0,661.4C835.1,661.7 835.2,662.0 835.2,662.3C835.2,662.6 835.2,663.0 835.2,663.3C835.1,663.6 835.1,663.9 835.0,664.1C835.0,664.4 834.9,664.7 834.8,664.9C834.8,665.2 834.8,665.4 834.7,665.6Z" fill="#f2d6da" stroke="none" stroke-width="0.0" opacity="1"/>
<path d="M827.3,630.0C827.3,630.2 827.3,630.5 827.3,630.8C827.3,631.0 827.2,631.3 827.2,631.5C827.1,631.8 827.1,632.0 827.0,632.3C826.9,632.5 826.7,632.7 826.6,632.9C826.5,633.1 826.4,633.4 826.3,633.6C826.2,633.8 826.0,634.0 825.8,634.2C825.7,634.4 825.6,634.6 825.4,634.8C825.2,635.0 825.0,635.2 824.8,635.4C824.6,635.5 824.5,635.7 824.2,635.9C824.0,636.1 823.8,636.4 823.6,636.5C823.4,636.7 823.1,636.8 822.8,636.9C822.6,637.0 822.3,636.9 822.0,636.9C821.7,636.9 821.4,637.0 821.2,637.0C820.9,636.9 820.6,636.8 820.4,636.6C820.1,636.4 819.9,636.2 819.7,636.0C819.5,635.8 819.4,635.5 819.2,635.2C819.1,634.9 819.0,634.7 818.9,634.4C818.8,634.2 818.7,633.9 818.6,633.7C818.6,633.4 818.5,633.2 818.5,633.0C818.4,632.7 818.4,632.5 818.3,632.4C818.2,632.2 818.0,632.0 817.9,631.9C817.7,631.7 817.5,631.5 817.4,631.3C817.3,631.1 817.2,630.9 817.1,630.7C817.0,630.5 816.7,630.3 816.6,630.0C816.5,629.7 816.4,629.5 816.4,629.2C816.3,628.9 816.3,628.6 816.3,628.3C816.3,628.1 816.4,627.8 816.4,627.5C816.5,627.2 816.7,627.0 816.8,626.7C816.9,626.5 817.1,626.2 817.3,626.0C817.5,625.8 817.7,625.7 817.9,625.5C818.1,625.4 818.3,625.2 818.5,625.1C818.7,624.9 819.0,624.8 819.2,624.7C819.4,624.5 819.6,624.5 819.9,624.4C820.1,624.2 820.3,624.0 820.5,624.0C820.7,623.9 821.0,623.9 821.3,623.8C821.5,623.8 821.7,623.6 822.0,623.6C822.3,623.6 822.5,623.7 822.8,623.7C823.0,623.8 823.3,623.8 823.5,623.9C823.7,624.0 824.0,624.0 824.2,624.2C824.4,624.3 824.6,624.5 824.8,624.7C825.0,624.9 825.1,625.2 825.2,625.4C825.4,625.6 825.6,625.8 825.7,626.0C825.8,626.2 825.9,626.5 826.0,626.7C826.1,626.9 826.2,627.1 826.3,627.3C826.4,627.5 826.5,627.7 826.6,627.9C826.7,628.1 826.8,628.4 826.9,628.6C827.0,628.8 827.0,629.0 827.1,629.3C827.1,629.5 827.2,629.8 827.3,630.0Z" fill="#f2d6da" stroke="none" stroke-width="0.0" opacity="1"/>
<rect x="800.9" y="605.6" width="31.0" height="11.5" rx="5.8" fill="#c94a4f" stroke="#a0353a" stroke-width="0.8" opacity="1" transform="rotate(-10.0 816.4 611.4)"/>
<rect x="828.5" y="615.2" width="31.0" height="11.5" rx="5.8" fill="#c94a4f" stroke="#a0353a" stroke-width="0.8" opacity="1" transform="rotate(10.0 844.0 621.0)"/>
<rect x="798.1" y="629.2" width="31.0" height="11.5" rx="5.8" fill="#c94a4f" stroke="#a0353a" stroke-width="0.8" opacity="1" transform="rotate(35.0 813.6 635.0)"/>
<rect x="789.5" y="658.2" width="31.0" height="11.5" rx="5.8" fill="#c94a4f" stroke="#a0353a" stroke-width="0.8" opacity="1" transform="rotate(20.0 805.0 664.0)"/>
<rect x="837.0" y="650.0" width="31.0" height="11.5" rx="5.8" fill="#c94a4f" stroke="#a0353a" stroke-width="0.8" opacity="1" transform="rotate(-20.0 852.5 655.8)"/>
<rect x="823.1" y="671.0" width="31.0" height="11.5" rx="5.8" fill="#c94a4f" stroke="#a0353a" stroke-width="0.8" opacity="1" transform="rotate(0.0 838.6 676.7)"/>
<text x="873.0" y="629.6" font-size="16.0" fill="#222" color="#222" stroke-width="0.12" text-anchor="start" textLength="58.7" lengthAdjust="spacingAndGlyphs">D-latate</text>
<line x1="870.6" y1="654.0" x2="938.0" y2="654.0" stroke="#222" stroke-width="2.2" />
<path d="M947.5,654.0 L937.0,648.8 L937.0,659.2 Z" fill="#222"/>
<circle cx="913.6" cy="636.0" r="2.3" fill="#cf6470" stroke="none" stroke-width="1.2" opacity="1"/>
<circle cx="903.0" cy="644.0" r="2.3" fill="#cf6470" stroke="none" stroke-width="1.2" opacity="1"/>
<circle cx="887.0" cy="648.0" r="2.3" fill="#cf6470" stroke="none" stroke-width="1.2" opacity="1"/>
<circle cx="920.6" cy="648.0" r="2.3" fill="#cf6470" stroke="none" stroke-width="1.2" opacity="1"/>
<circle cx="897.8" cy="656.7" r="2.3" fill="#cf6470" stroke="none" stroke-width="1.2" opacity="1"/>
<circle cx="910.8" cy="655.8" r="2.3" fill="#cf6470" stroke="none" stroke-width="1.2" opacity="1"/>
<circle cx="888.6" cy="661.4" r="2.3" fill="#cf6470" stroke="none" stroke-width="1.2" opacity="1"/>
<circle cx="906.7" cy="667.8" r="2.3" fill="#cf6470" stroke="none" stroke-width="1.2" opacity="1"/>
<circle cx="920.6" cy="665.6" r="2.3" fill="#cf6470" stroke="none" stroke-width="1.2" opacity="1"/>
<circle cx="895.5" cy="671.7" r="2.3" fill="#cf6470" stroke="none" stroke-width="1.2" opacity="1"/>
<circle cx="895.5" cy="632.0" r="2.3" fill="#e8bcc2" stroke="none" stroke-width="1.2" opacity="1"/>
<circle cx="929.0" cy="642.0" r="2.3" fill="#e8bcc2" stroke="none" stroke-width="1.2" opacity="1"/>
<circle cx="930.0" cy="655.8" r="2.3" fill="#e8bcc2" stroke="none" stroke-width="1.2" opacity="1"/>
<circle cx="910.8" cy="675.3" r="2.3" fill="#e8bcc2" stroke="none" stroke-width="1.2" opacity="1"/>
<path d="M1042.5,640.4C1043.1,640.9 1044.1,641.5 1044.2,642.1C1044.3,642.7 1043.6,643.2 1043.0,643.7C1042.4,644.2 1041.1,644.7 1040.6,645.1C1040.0,645.6 1039.6,646.0 1039.5,646.6C1039.4,647.1 1039.7,647.6 1039.9,648.2C1040.0,648.8 1040.5,649.5 1040.6,650.0C1040.6,650.6 1040.6,651.2 1040.4,651.7C1040.1,652.1 1039.5,652.5 1039.0,652.9C1038.6,653.3 1037.9,653.6 1037.5,654.0C1037.0,654.4 1036.7,654.7 1036.3,655.1C1036.0,655.6 1035.8,656.0 1035.6,656.5C1035.4,656.9 1035.2,657.4 1035.0,657.8C1034.8,658.3 1034.6,658.7 1034.4,659.2C1034.2,659.6 1034.0,660.1 1033.8,660.6C1033.6,661.0 1033.4,661.5 1033.2,661.9C1033.0,662.4 1032.8,662.9 1032.8,663.5C1032.7,664.0 1032.6,664.6 1032.7,665.4C1032.7,666.1 1032.9,667.0 1033.0,667.8C1033.1,668.6 1033.3,669.5 1033.2,670.2C1033.1,670.8 1032.7,671.3 1032.3,671.6C1031.8,671.9 1031.0,671.9 1030.3,671.9C1029.7,671.9 1028.9,671.8 1028.3,671.8C1027.6,671.9 1027.1,672.0 1026.6,672.2C1026.1,672.4 1025.7,672.6 1025.3,673.0C1024.9,673.3 1024.6,673.6 1024.2,674.0C1023.9,674.4 1023.6,674.9 1023.3,675.4C1023.0,675.8 1022.7,676.4 1022.3,676.8C1021.9,677.2 1021.5,677.5 1021.0,677.7C1020.6,677.9 1020.0,677.9 1019.5,677.9C1018.9,677.9 1018.3,677.8 1017.8,677.9C1017.3,677.9 1016.8,677.9 1016.4,678.1C1015.9,678.3 1015.5,678.5 1015.1,678.9C1014.7,679.3 1014.3,679.9 1014.0,680.5C1013.6,681.1 1013.3,682.0 1012.9,682.5C1012.4,682.9 1011.9,683.3 1011.4,683.2C1010.9,683.1 1010.2,682.6 1009.6,682.1C1009.1,681.6 1008.5,680.8 1007.9,680.3C1007.4,679.8 1006.9,679.4 1006.4,679.1C1005.9,678.8 1005.4,678.7 1005.0,678.5C1004.5,678.4 1004.0,678.3 1003.6,678.2C1003.1,678.2 1002.7,678.0 1002.2,678.0C1001.8,677.9 1001.3,677.8 1000.9,678.0C1000.4,678.2 999.9,678.8 999.4,679.1C998.9,679.4 998.3,680.1 997.8,679.9C997.4,679.7 997.1,678.7 996.7,678.1C996.3,677.5 996.0,676.8 995.6,676.4C995.3,676.0 994.8,675.9 994.4,675.7C994.0,675.5 993.6,675.4 993.2,675.2C992.8,675.0 992.4,674.9 992.0,674.7C991.5,674.5 991.2,674.2 990.7,674.2C990.3,674.1 989.9,673.9 989.2,674.2C988.6,674.6 987.4,676.1 986.7,676.5C986.0,676.9 985.3,677.1 985.0,676.4C984.8,675.8 985.4,673.6 985.4,672.7C985.4,671.7 985.1,671.3 984.9,670.9C984.6,670.4 984.2,670.3 983.8,670.0C983.5,669.7 983.1,669.4 982.7,669.2C982.4,668.9 982.0,668.6 981.7,668.3C981.4,668.0 981.0,667.6 980.7,667.3C980.4,667.0 980.1,666.7 979.7,666.3C979.4,666.0 979.1,665.7 978.7,665.4C978.3,665.2 977.9,665.0 977.4,664.8C976.8,664.6 976.1,664.6 975.7,664.3C975.2,664.1 974.8,663.8 974.6,663.3C974.4,662.9 974.5,662.1 974.5,661.5C974.4,661.0 974.5,660.3 974.4,659.8C974.3,659.3 974.1,658.9 973.8,658.5C973.5,658.2 973.0,657.9 972.5,657.6C972.0,657.3 971.3,657.1 971.0,656.7C970.7,656.3 970.6,655.8 970.6,655.2C970.6,654.7 970.9,654.0 971.0,653.5C971.0,652.9 971.0,652.4 970.9,651.9C970.8,651.5 970.6,651.0 970.4,650.5C970.3,650.1 970.1,649.6 969.9,649.2C969.7,648.7 969.6,648.2 969.4,647.8C969.2,647.3 969.1,646.8 968.6,646.4C968.2,646.0 967.4,645.6 966.7,645.1C965.9,644.7 964.6,644.3 964.2,643.7C963.8,643.2 964.1,642.6 964.5,642.0C964.8,641.5 965.9,640.9 966.4,640.4C966.8,639.8 967.0,639.3 967.1,638.8C967.2,638.3 967.1,637.8 967.0,637.2C967.0,636.7 967.0,636.2 966.9,635.6C966.9,635.1 966.9,634.6 966.9,634.0C966.9,633.5 966.9,633.0 966.9,632.4C966.9,631.9 967.0,631.3 967.0,630.8C967.1,630.3 967.1,629.7 967.2,629.2C967.3,628.7 967.4,628.1 967.5,627.6C967.6,627.1 967.8,626.5 967.9,626.0C968.1,625.5 968.2,625.0 968.4,624.5C968.6,624.0 968.8,623.5 968.9,623.0C969.0,622.4 969.1,621.8 969.0,621.2C969.0,620.5 968.4,619.6 968.7,619.1C969.0,618.6 970.0,618.6 970.6,618.3C971.1,618.0 971.7,617.8 972.1,617.5C972.6,617.1 972.8,616.7 973.2,616.3C973.5,615.9 973.9,615.5 974.2,615.2C974.6,614.8 975.0,614.4 975.3,614.1C975.7,613.7 976.1,613.4 976.5,613.1C976.8,612.7 977.2,612.4 977.4,611.9C977.6,611.3 977.2,610.1 977.5,609.6C977.8,609.2 978.4,609.1 979.1,609.1C979.7,609.1 980.7,609.6 981.3,609.6C981.9,609.5 982.2,609.2 982.7,609.0C983.1,608.8 983.5,608.5 983.8,608.1C984.1,607.7 984.3,607.1 984.6,606.7C984.9,606.2 985.1,605.5 985.5,605.2C985.9,604.9 986.4,604.8 987.0,604.9C987.5,604.9 988.2,605.3 988.8,605.4C989.3,605.5 989.9,605.6 990.4,605.6C990.8,605.6 991.3,605.4 991.7,605.3C992.2,605.2 992.6,605.1 993.0,604.9C993.4,604.8 993.9,604.7 994.3,604.6C994.7,604.4 995.2,604.3 995.6,604.2C996.0,604.1 996.5,604.0 996.9,603.8C997.3,603.6 997.8,603.5 998.2,603.2C998.6,603.0 999.0,602.6 999.4,602.3C999.9,602.1 1000.3,601.8 1000.8,601.7C1001.2,601.6 1001.7,601.7 1002.2,601.9C1002.7,602.0 1003.1,602.3 1003.6,602.5C1004.0,602.7 1004.5,602.8 1004.9,603.0C1005.4,603.1 1005.8,603.1 1006.3,603.2C1006.7,603.2 1007.2,603.3 1007.6,603.3C1008.1,603.4 1008.5,603.5 1009.0,603.4C1009.4,603.3 1009.9,603.1 1010.5,602.7C1011.0,602.3 1011.7,601.4 1012.2,601.2C1012.7,601.0 1013.3,600.9 1013.7,601.3C1014.1,601.7 1014.3,602.9 1014.6,603.6C1014.9,604.2 1015.1,604.8 1015.5,605.2C1015.8,605.6 1016.2,605.8 1016.6,606.0C1017.0,606.2 1017.4,606.4 1017.9,606.4C1018.4,606.5 1018.9,606.4 1019.6,606.2C1020.2,606.0 1021.0,605.4 1021.7,605.2C1022.3,604.9 1023.2,604.5 1023.6,604.7C1024.1,605.0 1024.3,605.7 1024.4,606.4C1024.5,607.1 1024.4,608.3 1024.5,609.0C1024.6,609.7 1024.7,610.4 1025.0,610.8C1025.3,611.1 1026.0,611.0 1026.5,611.1C1027.1,611.2 1027.9,610.9 1028.3,611.3C1028.6,611.6 1028.5,612.5 1028.6,613.1C1028.7,613.7 1028.7,614.4 1028.9,614.8C1029.1,615.3 1029.5,615.6 1029.8,616.0C1030.1,616.3 1030.5,616.6 1030.8,617.0C1031.1,617.3 1031.4,617.7 1031.8,618.0C1032.2,618.3 1032.6,618.6 1033.1,618.8C1033.7,619.0 1034.4,619.1 1035.2,619.3C1035.9,619.4 1037.0,619.3 1037.7,619.6C1038.4,619.8 1039.0,620.1 1039.2,620.6C1039.4,621.1 1039.2,621.9 1039.0,622.6C1038.7,623.3 1038.2,624.2 1038.0,624.8C1037.8,625.5 1037.6,626.1 1037.6,626.7C1037.6,627.3 1037.7,627.7 1037.8,628.2C1037.9,628.7 1038.1,629.2 1038.2,629.7C1038.4,630.2 1038.5,630.7 1038.6,631.2C1038.8,631.7 1038.9,632.2 1039.0,632.7C1039.1,633.2 1039.2,633.7 1039.2,634.2C1039.3,634.7 1039.3,635.2 1039.4,635.7C1039.5,636.2 1039.5,636.8 1039.6,637.3C1039.8,637.8 1040.0,638.3 1040.5,638.8C1040.9,639.3 1041.9,639.8 1042.5,640.4Z" fill="#dca6f2" stroke="#b47ed8" stroke-width="1.3" stroke-linejoin="round" opacity="1"/>
<path d="M1024.7,648.4C1024.6,649.1 1024.3,649.9 1024.1,650.6C1023.9,651.3 1023.6,652.0 1023.4,652.7C1023.1,653.3 1022.9,654.0 1022.6,654.6C1022.3,655.3 1021.8,655.8 1021.4,656.4C1021.1,657.0 1020.8,657.6 1020.4,658.2C1020.1,658.8 1019.7,659.4 1019.3,660.0C1018.9,660.6 1018.4,661.0 1017.9,661.5C1017.4,662.0 1016.9,662.5 1016.3,663.0C1015.8,663.5 1015.3,664.1 1014.7,664.5C1014.1,664.9 1013.4,665.1 1012.7,665.4C1012.0,665.6 1011.3,665.8 1010.6,665.9C1009.9,666.0 1009.1,665.9 1008.4,665.9C1007.7,665.9 1006.9,666.0 1006.2,665.8C1005.5,665.7 1004.8,665.4 1004.2,665.1C1003.5,664.8 1002.9,664.4 1002.3,664.0C1001.7,663.7 1001.0,663.5 1000.4,663.1C999.9,662.6 999.4,662.1 998.9,661.6C998.4,661.1 997.9,660.6 997.4,660.1C996.9,659.6 996.3,659.2 995.9,658.6C995.4,658.1 995.1,657.4 994.7,656.8C994.3,656.2 993.7,655.7 993.4,655.0C993.0,654.4 992.8,653.6 992.6,652.9C992.4,652.2 992.2,651.4 992.1,650.7C992.0,649.9 991.9,649.2 991.9,648.4C991.9,647.6 991.8,646.8 991.9,646.1C992.0,645.3 992.3,644.6 992.6,643.9C992.9,643.2 993.4,642.6 993.7,641.9C994.1,641.3 994.2,640.5 994.6,639.9C995.0,639.3 995.6,638.8 996.0,638.3C996.5,637.8 997.0,637.3 997.5,636.8C998.0,636.3 998.5,635.8 999.0,635.4C999.5,635.0 1000.1,634.6 1000.7,634.2C1001.3,633.8 1001.8,633.4 1002.4,633.0C1003.0,632.7 1003.7,632.4 1004.3,632.2C1005.0,631.9 1005.6,631.8 1006.3,631.6C1007.0,631.5 1007.7,631.4 1008.4,631.4C1009.1,631.3 1009.8,631.4 1010.5,631.5C1011.2,631.6 1011.9,631.6 1012.6,631.8C1013.3,631.9 1014.0,632.1 1014.6,632.4C1015.3,632.7 1015.8,633.3 1016.4,633.7C1017.0,634.0 1017.7,634.3 1018.3,634.7C1018.9,635.1 1019.5,635.6 1020.0,636.1C1020.6,636.6 1021.1,637.1 1021.6,637.7C1022.0,638.3 1022.4,638.9 1022.7,639.6C1023.1,640.3 1023.5,640.9 1023.8,641.6C1024.1,642.3 1024.2,643.1 1024.3,643.9C1024.5,644.6 1024.6,645.4 1024.7,646.1C1024.8,646.9 1024.8,647.7 1024.7,648.4Z" fill="#c68be6" stroke="none" stroke-width="0.0" opacity="1"/>
<circle cx="1013.3" cy="646.7" r="0.8" fill="#cc92ea"/>
<circle cx="992.3" cy="649.7" r="0.8" fill="#cc92ea"/>
<circle cx="1010.1" cy="637.5" r="0.8" fill="#cc92ea"/>
<circle cx="984.4" cy="638.8" r="0.8" fill="#cc92ea"/>
<circle cx="1010.8" cy="631.8" r="0.8" fill="#cc92ea"/>
<circle cx="992.8" cy="658.9" r="0.8" fill="#cc92ea"/>
<circle cx="1002.7" cy="650.5" r="0.8" fill="#cc92ea"/>
<circle cx="992.0" cy="647.5" r="0.8" fill="#cc92ea"/>
<circle cx="993.7" cy="636.8" r="0.8" fill="#cc92ea"/>
<circle cx="994.1" cy="662.3" r="0.8" fill="#cc92ea"/>
<circle cx="1012.1" cy="636.5" r="0.8" fill="#cc92ea"/>
<circle cx="1019.6" cy="664.2" r="0.8" fill="#cc92ea"/>
<text x="969.5" y="649.6" font-size="14.5" fill="#1e1e2e" color="#1e1e2e" stroke-width="0.12" text-anchor="start" textLength="22.0" lengthAdjust="spacingAndGlyphs">M2</text>
<line x1="993.5" y1="645.0" x2="1005.0" y2="645.0" stroke="#1e1e2e" stroke-width="1.2" />
<path d="M1008.5,645 L1003.5,642.2 L1003.5,647.8 Z" fill="#1e1e2e"/>
<text x="1009.0" y="649.6" font-size="14.5" fill="#1e1e2e" color="#1e1e2e" stroke-width="0.12" text-anchor="start" textLength="20.7" lengthAdjust="spacingAndGlyphs">M1</text>
<text x="771.5" y="707.7" font-size="15.5" fill="#111" color="#111" stroke-width="0.00" font-weight="bold" text-anchor="start" textLength="99.0" lengthAdjust="spacingAndGlyphs">Lactobacillus</text>
<text x="984.0" y="709.9" font-size="13.5" fill="#111" color="#111" stroke-width="0.00" font-weight="bold" text-anchor="start" textLength="30.1" lengthAdjust="spacingAndGlyphs">TAM</text>
<path d="M801.4,752.0C801.5,752.2 801.6,752.5 801.7,752.8C801.8,753.0 801.8,753.3 801.9,753.6C801.9,753.9 801.9,754.2 801.8,754.4C801.7,754.7 801.6,755.0 801.5,755.2C801.4,755.4 801.2,755.6 801.0,755.8C800.9,756.0 800.7,756.1 800.5,756.3C800.3,756.4 800.1,756.5 799.9,756.6C799.7,756.7 799.5,756.7 799.3,756.8C799.1,756.9 798.9,756.9 798.7,757.0C798.5,757.1 798.3,757.2 798.1,757.2C798.0,757.3 797.8,757.3 797.6,757.4C797.4,757.4 797.2,757.4 797.0,757.5C796.8,757.5 796.6,757.6 796.4,757.5C796.2,757.5 796.0,757.4 795.8,757.4C795.6,757.3 795.4,757.2 795.3,757.1C795.1,756.9 795.0,756.8 794.8,756.6C794.7,756.5 794.6,756.3 794.4,756.1C794.3,755.9 794.2,755.8 794.1,755.6C794.0,755.4 793.9,755.2 793.8,755.0C793.7,754.8 793.6,754.7 793.5,754.5C793.4,754.3 793.2,754.1 793.1,754.0C793.0,753.8 793.0,753.6 792.9,753.4C792.8,753.1 792.7,752.9 792.7,752.7C792.6,752.5 792.4,752.2 792.4,752.0C792.3,751.8 792.3,751.5 792.3,751.2C792.3,751.0 792.3,750.7 792.3,750.5C792.4,750.2 792.4,750.0 792.5,749.7C792.6,749.5 792.7,749.3 792.9,749.1C793.0,748.9 793.2,748.7 793.3,748.5C793.5,748.4 793.7,748.3 793.8,748.1C794.0,748.0 794.1,747.8 794.3,747.6C794.4,747.5 794.6,747.4 794.8,747.2C794.9,747.1 795.1,747.1 795.3,746.9C795.5,746.8 795.6,746.6 795.8,746.5C796.0,746.4 796.2,746.2 796.4,746.2C796.6,746.1 796.8,746.0 797.0,746.0C797.2,745.9 797.4,745.9 797.7,746.0C797.9,746.0 798.1,746.1 798.3,746.2C798.5,746.3 798.7,746.4 798.9,746.5C799.0,746.7 799.1,747.0 799.3,747.2C799.4,747.4 799.5,747.6 799.6,747.9C799.7,748.1 799.7,748.4 799.8,748.6C799.8,748.8 799.9,749.0 800.0,749.2C800.1,749.4 800.1,749.6 800.2,749.8C800.2,749.9 800.3,750.1 800.4,750.3C800.5,750.5 800.6,750.6 800.7,750.8C800.8,751.0 801.0,751.1 801.1,751.3C801.2,751.5 801.3,751.8 801.4,752.0Z" fill="#efdcd8" stroke="none" stroke-width="0.0" opacity="1"/>
<path d="M823.0,738.0C823.0,738.3 822.9,738.5 822.8,738.8C822.7,739.0 822.7,739.3 822.5,739.5C822.4,739.7 822.2,739.9 822.1,740.1C821.9,740.2 821.7,740.4 821.6,740.5C821.4,740.6 821.2,740.7 821.0,740.9C820.9,741.0 820.7,741.1 820.6,741.2C820.5,741.3 820.4,741.4 820.2,741.6C820.1,741.7 820.0,741.8 819.9,741.9C819.7,742.1 819.6,742.3 819.5,742.4C819.4,742.6 819.2,742.7 819.1,742.9C818.9,743.1 818.8,743.3 818.6,743.4C818.4,743.6 818.2,743.7 818.0,743.8C817.8,743.8 817.6,743.9 817.4,744.0C817.1,744.0 816.9,744.0 816.7,744.0C816.5,744.0 816.2,743.9 816.1,743.7C815.9,743.6 815.7,743.4 815.5,743.3C815.4,743.1 815.2,742.8 815.1,742.6C815.0,742.4 814.8,742.2 814.7,742.0C814.6,741.8 814.5,741.6 814.4,741.4C814.3,741.2 814.2,740.9 814.1,740.7C814.0,740.5 813.9,740.3 813.8,740.1C813.7,739.9 813.7,739.7 813.6,739.4C813.5,739.2 813.4,739.0 813.3,738.7C813.3,738.5 813.2,738.2 813.2,738.0C813.2,737.8 813.3,737.5 813.4,737.3C813.4,737.0 813.4,736.8 813.5,736.5C813.6,736.3 813.7,736.1 813.8,735.9C813.9,735.7 814.1,735.5 814.3,735.4C814.4,735.2 814.6,735.0 814.7,734.9C814.8,734.8 815.0,734.6 815.1,734.5C815.3,734.4 815.5,734.3 815.6,734.2C815.8,734.1 815.9,734.0 816.0,733.8C816.2,733.7 816.3,733.6 816.5,733.5C816.6,733.4 816.8,733.2 816.9,733.1C817.1,732.9 817.2,732.8 817.4,732.7C817.6,732.6 817.8,732.6 818.0,732.5C818.2,732.5 818.4,732.4 818.6,732.4C818.8,732.4 819.0,732.4 819.2,732.4C819.4,732.5 819.6,732.5 819.8,732.6C820.0,732.7 820.2,732.9 820.3,733.0C820.5,733.2 820.7,733.3 820.8,733.5C821.0,733.6 821.1,733.8 821.3,734.0C821.5,734.1 821.6,734.3 821.7,734.5C821.9,734.7 822.0,734.9 822.1,735.1C822.2,735.3 822.3,735.5 822.4,735.8C822.5,736.0 822.7,736.2 822.7,736.4C822.8,736.7 822.8,737.0 822.9,737.2C822.9,737.5 823.0,737.7 823.0,738.0Z" fill="#efdcd8" stroke="none" stroke-width="0.0" opacity="1"/>
<path d="M827.2,748.0C827.2,748.2 827.3,748.5 827.3,748.7C827.3,748.9 827.3,749.2 827.3,749.4C827.3,749.6 827.2,749.9 827.1,750.1C827.1,750.3 827.0,750.6 827.0,750.8C826.9,751.0 826.8,751.3 826.7,751.5C826.6,751.7 826.5,751.9 826.3,752.0C826.2,752.2 826.0,752.4 825.9,752.5C825.7,752.7 825.5,752.8 825.3,753.0C825.2,753.1 825.0,753.3 824.8,753.4C824.6,753.5 824.4,753.5 824.2,753.5C824.0,753.6 823.8,753.7 823.6,753.7C823.4,753.7 823.2,753.7 823.0,753.7C822.8,753.7 822.6,753.5 822.4,753.5C822.2,753.4 822.0,753.3 821.9,753.2C821.7,753.1 821.5,753.0 821.3,752.9C821.2,752.8 821.0,752.7 820.9,752.5C820.7,752.4 820.6,752.2 820.4,752.1C820.3,752.0 820.1,751.9 819.9,751.7C819.8,751.6 819.6,751.5 819.5,751.3C819.4,751.1 819.3,750.9 819.1,750.7C819.0,750.6 818.8,750.4 818.7,750.2C818.6,750.0 818.5,749.7 818.4,749.5C818.4,749.3 818.3,749.0 818.3,748.8C818.2,748.5 818.2,748.3 818.2,748.0C818.2,747.7 818.2,747.5 818.3,747.2C818.3,747.0 818.4,746.8 818.5,746.5C818.7,746.3 818.8,746.1 818.9,745.9C819.0,745.7 819.2,745.6 819.4,745.4C819.5,745.3 819.7,745.2 819.8,745.0C820.0,744.9 820.1,744.7 820.2,744.6C820.3,744.4 820.4,744.3 820.6,744.1C820.7,744.0 820.8,743.9 821.0,743.7C821.1,743.6 821.2,743.3 821.4,743.2C821.5,743.0 821.7,742.8 821.8,742.7C822.0,742.5 822.2,742.3 822.4,742.2C822.6,742.1 822.8,741.9 823.0,741.9C823.2,741.8 823.4,741.7 823.7,741.7C823.9,741.7 824.1,741.7 824.4,741.8C824.6,741.9 824.7,742.1 824.9,742.3C825.1,742.5 825.3,742.6 825.5,742.8C825.6,743.0 825.8,743.2 825.9,743.4C826.0,743.6 826.1,743.9 826.2,744.1C826.3,744.4 826.3,744.6 826.4,744.8C826.4,745.1 826.5,745.3 826.5,745.5C826.6,745.7 826.7,745.9 826.7,746.1C826.8,746.3 826.8,746.5 826.9,746.7C826.9,746.9 827.0,747.1 827.1,747.3C827.1,747.6 827.1,747.8 827.2,748.0Z" fill="#efdcd8" stroke="none" stroke-width="0.0" opacity="1"/>
<path d="M816.3,793.0C816.2,793.2 816.1,793.4 816.1,793.7C816.0,793.9 816.0,794.1 816.0,794.3C815.9,794.5 815.9,794.7 815.8,794.9C815.8,795.1 815.7,795.3 815.6,795.6C815.6,795.8 815.6,796.0 815.5,796.3C815.4,796.5 815.3,796.7 815.2,796.9C815.0,797.1 814.9,797.3 814.8,797.4C814.6,797.5 814.4,797.6 814.2,797.8C814.1,797.9 813.9,798.0 813.7,798.1C813.5,798.1 813.3,798.1 813.1,798.1C812.9,798.1 812.7,798.1 812.6,798.1C812.4,798.1 812.2,798.2 812.0,798.2C811.8,798.2 811.6,798.2 811.4,798.2C811.3,798.2 811.1,798.2 810.8,798.3C810.6,798.3 810.4,798.3 810.2,798.3C810.0,798.3 809.8,798.3 809.5,798.2C809.3,798.2 809.1,798.1 808.9,798.0C808.7,797.9 808.5,797.7 808.3,797.5C808.2,797.3 808.0,797.1 807.9,796.9C807.7,796.6 807.7,796.3 807.6,796.1C807.6,795.8 807.5,795.5 807.5,795.3C807.6,795.0 807.7,794.7 807.7,794.4C807.8,794.1 807.9,793.9 807.9,793.7C808.0,793.4 808.1,793.2 808.2,793.0C808.2,792.8 808.3,792.6 808.3,792.4C808.3,792.2 808.4,792.0 808.4,791.8C808.4,791.6 808.4,791.4 808.4,791.2C808.4,791.0 808.4,790.7 808.4,790.5C808.4,790.2 808.4,790.0 808.5,789.7C808.5,789.4 808.6,789.1 808.7,788.9C808.7,788.7 808.9,788.5 809.0,788.3C809.2,788.1 809.3,787.9 809.5,787.7C809.7,787.6 809.9,787.5 810.1,787.5C810.3,787.4 810.6,787.4 810.8,787.4C811.0,787.4 811.2,787.4 811.4,787.4C811.6,787.5 811.8,787.6 812.0,787.7C812.2,787.7 812.4,787.8 812.6,787.9C812.7,787.9 812.9,788.0 813.1,788.0C813.3,788.1 813.4,788.1 813.6,788.2C813.8,788.2 814.1,788.2 814.3,788.2C814.5,788.3 814.6,788.4 814.8,788.5C815.0,788.6 815.2,788.7 815.4,788.8C815.6,789.0 815.8,789.1 815.9,789.3C816.1,789.5 816.2,789.7 816.3,790.0C816.4,790.2 816.5,790.5 816.5,790.7C816.5,791.0 816.5,791.3 816.5,791.5C816.5,791.8 816.5,792.0 816.5,792.3C816.5,792.5 816.4,792.8 816.3,793.0Z" fill="#efdcd8" stroke="none" stroke-width="0.0" opacity="1"/>
<path d="M805.0,756.0C805.0,756.3 804.9,756.5 804.8,756.8C804.7,757.0 804.7,757.3 804.5,757.5C804.4,757.7 804.2,757.9 804.1,758.1C803.9,758.2 803.7,758.4 803.6,758.5C803.4,758.6 803.2,758.7 803.0,758.9C802.9,759.0 802.7,759.1 802.6,759.2C802.5,759.3 802.4,759.4 802.2,759.6C802.1,759.7 802.0,759.8 801.9,759.9C801.7,760.1 801.6,760.3 801.5,760.4C801.4,760.6 801.2,760.7 801.1,760.9C800.9,761.1 800.8,761.3 800.6,761.4C800.4,761.6 800.2,761.7 800.0,761.8C799.8,761.8 799.6,761.9 799.4,762.0C799.1,762.0 798.9,762.0 798.7,762.0C798.5,762.0 798.2,761.9 798.1,761.7C797.9,761.6 797.7,761.4 797.5,761.3C797.4,761.1 797.2,760.8 797.1,760.6C797.0,760.4 796.8,760.2 796.7,760.0C796.6,759.8 796.5,759.6 796.4,759.4C796.3,759.2 796.2,758.9 796.1,758.7C796.0,758.5 795.9,758.3 795.8,758.1C795.7,757.9 795.7,757.7 795.6,757.4C795.5,757.2 795.4,757.0 795.3,756.7C795.3,756.5 795.2,756.2 795.2,756.0C795.2,755.8 795.3,755.5 795.4,755.3C795.4,755.0 795.4,754.8 795.5,754.5C795.6,754.3 795.7,754.1 795.8,753.9C795.9,753.7 796.1,753.5 796.3,753.4C796.4,753.2 796.6,753.0 796.7,752.9C796.8,752.8 797.0,752.6 797.1,752.5C797.3,752.4 797.5,752.3 797.6,752.2C797.8,752.1 797.9,752.0 798.0,751.8C798.2,751.7 798.3,751.6 798.5,751.5C798.6,751.4 798.8,751.2 798.9,751.1C799.1,750.9 799.2,750.8 799.4,750.7C799.6,750.6 799.8,750.6 800.0,750.5C800.2,750.5 800.4,750.4 800.6,750.4C800.8,750.4 801.0,750.4 801.2,750.4C801.4,750.5 801.6,750.5 801.8,750.6C802.0,750.7 802.2,750.9 802.3,751.0C802.5,751.2 802.7,751.3 802.8,751.5C803.0,751.6 803.1,751.8 803.3,752.0C803.5,752.1 803.6,752.3 803.7,752.5C803.9,752.7 804.0,752.9 804.1,753.1C804.2,753.3 804.3,753.5 804.4,753.8C804.5,754.0 804.7,754.2 804.7,754.4C804.8,754.7 804.8,755.0 804.9,755.2C804.9,755.5 805.0,755.7 805.0,756.0Z" fill="#efdcd8" stroke="none" stroke-width="0.0" opacity="1"/>
<rect x="783.5" y="731.8" width="25.0" height="10.5" rx="5.2" fill="#a27870" stroke="#7e5a52" stroke-width="0.8" opacity="1" transform="rotate(-65.0 796.0 737.0)"/>
<rect x="819.2" y="727.8" width="25.0" height="10.5" rx="5.2" fill="#a27870" stroke="#7e5a52" stroke-width="0.8" opacity="1" transform="rotate(35.0 831.7 733.0)"/>
<rect x="805.3" y="755.8" width="25.0" height="10.5" rx="5.2" fill="#a27870" stroke="#7e5a52" stroke-width="0.8" opacity="1" transform="rotate(-15.0 817.8 761.0)"/>
<rect x="803.9" y="779.5" width="25.0" height="10.5" rx="5.2" fill="#a27870" stroke="#7e5a52" stroke-width="0.8" opacity="1" transform="rotate(-20.0 816.4 784.7)"/>
<path d="M800,726 C804,718 808,716 815,714" stroke="#666" stroke-width="0.9" fill="none" />
<path d="M840,742 C846,748 850,754 853,758" stroke="#666" stroke-width="0.9" fill="none" />
<path d="M806,766 C798,768 790,768 784,770" stroke="#666" stroke-width="0.9" fill="none" />
<path d="M826,780 C832,776 838,774 845,775" stroke="#666" stroke-width="0.9" fill="none" />
<text x="872.0" y="727.7" font-size="16.0" fill="#222" color="#222" stroke-width="0.12" text-anchor="start" textLength="62.4" lengthAdjust="spacingAndGlyphs">indole-3-</text>
<text x="866.4" y="749.9" font-size="16.0" fill="#222" color="#222" stroke-width="0.12" text-anchor="start" textLength="74.2" lengthAdjust="spacingAndGlyphs">lactic acid</text>
<path d="M867.8,769.4 Q898,750 934,769" stroke="#222" stroke-width="2.2" fill="none" />
<path d="M941,775 L929.5,773.5 L935.5,764 Z" fill="#222"/>
<circle cx="874.7" cy="764.4" r="2.1" fill="#7aa6e0" stroke="none" stroke-width="1.2" opacity="1"/>
<circle cx="899.7" cy="759.0" r="2.1" fill="#7aa6e0" stroke="none" stroke-width="1.2" opacity="1"/>
<circle cx="920.6" cy="757.0" r="2.1" fill="#7aa6e0" stroke="none" stroke-width="1.2" opacity="1"/>
<circle cx="897.8" cy="770.8" r="2.1" fill="#7aa6e0" stroke="none" stroke-width="1.2" opacity="1"/>
<circle cx="919.0" cy="772.8" r="2.1" fill="#7aa6e0" stroke="none" stroke-width="1.2" opacity="1"/>
<circle cx="888.6" cy="779.0" r="2.1" fill="#7aa6e0" stroke="none" stroke-width="1.2" opacity="1"/>
<circle cx="901.0" cy="777.8" r="2.1" fill="#7aa6e0" stroke="none" stroke-width="1.2" opacity="1"/>
<circle cx="929.0" cy="779.0" r="2.1" fill="#7aa6e0" stroke="none" stroke-width="1.2" opacity="1"/>
<circle cx="912.2" cy="784.7" r="2.1" fill="#7aa6e0" stroke="none" stroke-width="1.2" opacity="1"/>
<circle cx="910.8" cy="749.4" r="2.1" fill="#b8d0f0" stroke="none" stroke-width="1.2" opacity="1"/>
<circle cx="888.6" cy="752.0" r="2.1" fill="#b8d0f0" stroke="none" stroke-width="1.2" opacity="1"/>
<circle cx="885.8" cy="769.4" r="2.1" fill="#b8d0f0" stroke="none" stroke-width="1.2" opacity="1"/>
<circle cx="912.2" cy="765.3" r="2.1" fill="#b8d0f0" stroke="none" stroke-width="1.2" opacity="1"/>
<path d="M1045.7,758.5C1045.4,759.1 1044.9,759.6 1044.6,760.2C1044.3,760.7 1044.0,761.3 1043.8,761.8C1043.6,762.3 1043.5,762.9 1043.4,763.4C1043.3,763.9 1043.2,764.5 1043.1,765.0C1043.0,765.6 1042.9,766.1 1042.8,766.6C1042.7,767.2 1042.6,767.7 1042.5,768.2C1042.3,768.8 1042.1,769.2 1042.1,769.8C1042.2,770.4 1042.4,771.1 1042.6,771.7C1042.7,772.3 1043.3,773.2 1043.1,773.7C1042.8,774.2 1041.8,774.4 1041.2,774.7C1040.6,775.1 1040.0,775.4 1039.6,775.8C1039.2,776.2 1039.0,776.7 1038.7,777.1C1038.4,777.6 1038.2,778.1 1037.9,778.5C1037.6,778.9 1037.3,779.4 1037.0,779.8C1036.7,780.3 1036.4,780.7 1036.2,781.2C1036.0,781.7 1035.9,782.3 1036.0,783.0C1036.0,783.7 1036.4,784.7 1036.5,785.5C1036.6,786.3 1036.8,787.3 1036.4,787.7C1036.1,788.1 1035.1,788.1 1034.3,788.1C1033.5,788.1 1032.4,787.7 1031.7,787.7C1031.0,787.8 1030.4,787.9 1030.0,788.3C1029.6,788.6 1029.5,789.2 1029.3,789.8C1029.1,790.4 1029.1,791.2 1028.7,791.7C1028.4,792.2 1027.9,792.4 1027.4,792.6C1026.8,792.7 1026.0,792.5 1025.4,792.5C1024.8,792.5 1024.3,792.5 1023.7,792.7C1023.2,792.8 1022.8,793.0 1022.4,793.4C1022.0,793.7 1021.7,794.1 1021.4,794.7C1021.1,795.3 1021.1,796.6 1020.6,796.9C1020.2,797.2 1019.4,796.8 1018.8,796.7C1018.2,796.6 1017.5,796.2 1017.0,796.2C1016.4,796.2 1016.0,796.4 1015.5,796.6C1015.0,796.7 1014.6,796.9 1014.1,797.0C1013.6,797.2 1013.1,797.3 1012.6,797.4C1012.1,797.5 1011.6,797.6 1011.1,797.7C1010.6,797.8 1010.2,797.8 1009.7,798.0C1009.2,798.2 1008.7,798.3 1008.2,798.7C1007.8,799.1 1007.3,799.8 1006.8,800.4C1006.3,801.1 1005.9,802.2 1005.3,802.5C1004.8,802.8 1004.2,802.8 1003.7,802.4C1003.1,802.0 1002.6,800.8 1002.1,800.1C1001.6,799.4 1001.1,798.7 1000.7,798.2C1000.2,797.8 999.7,797.6 999.3,797.4C998.8,797.2 998.3,797.1 997.8,796.9C997.4,796.8 996.9,796.7 996.4,796.6C995.9,796.5 995.5,796.3 995.0,796.4C994.4,796.4 993.9,796.5 993.3,796.8C992.7,797.2 992.0,797.8 991.3,798.4C990.5,799.0 989.6,799.9 988.9,800.3C988.1,800.8 987.4,801.1 986.8,800.9C986.3,800.8 985.9,800.1 985.6,799.3C985.4,798.6 985.3,797.4 985.1,796.5C985.0,795.6 984.9,794.6 984.7,793.8C984.5,793.1 984.3,792.6 984.0,792.1C983.6,791.6 983.2,791.3 982.8,791.0C982.4,790.7 982.0,790.5 981.6,790.3C981.1,790.0 980.7,789.8 980.2,789.5C979.8,789.3 979.3,789.0 978.9,788.8C978.5,788.5 978.0,788.2 977.6,788.0C977.1,787.7 976.7,787.4 976.3,787.1C975.8,786.8 975.4,786.5 974.9,786.2C974.4,786.0 973.9,785.7 973.3,785.6C972.6,785.5 971.4,785.8 970.8,785.5C970.3,785.3 970.1,784.6 969.9,784.1C969.8,783.5 970.1,782.6 969.8,782.1C969.6,781.6 969.2,781.2 968.4,781.1C967.5,780.9 965.6,781.4 964.7,781.3C963.9,781.1 963.2,780.7 963.3,780.0C963.4,779.3 964.9,777.8 965.2,777.0C965.6,776.2 965.4,775.7 965.3,775.1C965.2,774.5 964.9,774.1 964.6,773.5C964.4,773.0 964.2,772.5 964.1,771.9C963.9,771.4 963.7,770.9 963.6,770.3C963.4,769.8 963.3,769.2 963.1,768.7C963.0,768.1 962.9,767.6 962.7,767.0C962.4,766.5 962.2,766.0 961.7,765.4C961.3,764.9 960.5,764.4 959.8,763.9C959.1,763.4 958.0,762.9 957.6,762.3C957.1,761.7 956.9,761.0 957.1,760.4C957.3,759.8 958.3,759.1 959.0,758.5C959.7,757.9 960.7,757.3 961.4,756.8C962.0,756.2 962.4,755.7 962.8,755.1C963.1,754.6 963.3,754.1 963.5,753.5C963.6,753.0 963.8,752.5 963.9,751.9C964.1,751.4 964.2,750.9 964.4,750.3C964.5,749.8 964.7,749.3 964.9,748.8C965.0,748.3 965.3,747.8 965.3,747.2C965.4,746.7 965.3,746.1 965.2,745.5C965.1,744.8 964.5,744.0 964.6,743.5C964.7,742.9 965.3,742.5 965.8,742.2C966.4,741.8 967.2,741.6 967.7,741.2C968.2,740.9 968.5,740.4 968.8,740.0C969.1,739.5 969.4,739.1 969.6,738.6C969.9,738.2 970.2,737.7 970.5,737.3C970.8,736.9 971.1,736.4 971.4,736.0C971.7,735.6 972.1,735.2 972.4,734.8C972.7,734.4 973.1,734.0 973.4,733.6C973.7,733.2 974.1,732.8 974.3,732.4C974.6,731.9 974.8,731.3 974.9,730.7C975.0,730.1 974.8,729.2 975.0,728.6C975.2,728.0 975.4,727.4 976.0,727.2C976.5,727.0 977.4,727.2 978.1,727.2C978.8,727.3 979.5,727.4 980.1,727.3C980.7,727.3 981.2,727.1 981.6,726.8C982.0,726.5 982.4,726.2 982.7,725.7C982.9,725.2 983.1,724.5 983.3,723.7C983.4,723.0 983.6,722.2 983.8,721.4C983.9,720.6 983.9,719.3 984.3,718.9C984.7,718.4 985.3,718.3 986.1,718.8C986.9,719.3 988.3,721.2 989.1,721.8C989.9,722.5 990.5,722.7 991.0,722.8C991.6,722.9 992.0,722.6 992.5,722.5C992.9,722.4 993.4,722.3 993.8,722.1C994.3,722.0 994.8,721.9 995.2,721.8C995.7,721.6 996.1,721.5 996.6,721.4C997.1,721.3 997.5,721.2 998.0,721.1C998.5,721.0 998.9,720.9 999.4,720.8C999.9,720.7 1000.3,720.6 1000.8,720.5C1001.3,720.4 1001.7,720.3 1002.2,720.2C1002.7,720.1 1003.2,720.0 1003.7,719.9C1004.2,719.8 1004.6,719.8 1005.1,719.7C1005.6,719.6 1006.1,719.6 1006.6,719.3C1007.1,719.1 1007.7,718.8 1008.2,718.3C1008.8,717.7 1009.5,716.7 1010.1,716.2C1010.7,715.7 1011.4,715.2 1011.9,715.3C1012.4,715.4 1012.8,716.4 1013.2,717.0C1013.6,717.5 1014.0,718.4 1014.4,718.7C1014.9,719.1 1015.3,719.3 1015.9,719.2C1016.5,719.2 1017.1,719.0 1017.8,718.6C1018.5,718.2 1019.4,717.4 1020.2,716.9C1020.9,716.5 1021.9,715.9 1022.5,716.0C1023.0,716.1 1023.4,716.8 1023.7,717.5C1024.0,718.3 1024.0,719.5 1024.2,720.3C1024.4,721.1 1024.6,721.7 1025.0,722.2C1025.3,722.7 1025.7,723.0 1026.2,723.4C1026.6,723.7 1027.0,724.0 1027.5,724.3C1027.9,724.7 1028.3,725.1 1028.7,725.3C1029.2,725.6 1029.7,725.8 1030.3,725.9C1030.9,726.0 1032.0,725.7 1032.5,726.0C1032.9,726.3 1032.9,727.2 1033.1,727.7C1033.4,728.3 1033.3,729.1 1033.9,729.4C1034.4,729.6 1035.6,729.3 1036.4,729.3C1037.3,729.3 1038.5,729.1 1038.9,729.5C1039.3,730.0 1038.8,731.1 1038.7,732.0C1038.5,732.8 1037.9,734.0 1037.9,734.6C1037.9,735.3 1038.4,735.6 1038.9,736.0C1039.5,736.3 1040.4,736.4 1041.1,736.6C1041.8,736.9 1042.6,737.1 1043.0,737.6C1043.4,738.0 1043.5,738.7 1043.5,739.4C1043.4,740.0 1042.9,740.9 1042.6,741.7C1042.3,742.4 1041.9,743.2 1041.7,743.9C1041.5,744.6 1041.4,745.1 1041.3,745.7C1041.3,746.3 1041.4,746.8 1041.5,747.4C1041.6,747.9 1041.8,748.4 1041.9,748.9C1042.1,749.4 1042.2,750.0 1042.4,750.5C1042.6,751.0 1042.8,751.5 1043.1,752.0C1043.4,752.5 1043.9,753.0 1044.3,753.5C1044.7,754.0 1045.3,754.5 1045.7,755.1C1046.0,755.6 1046.3,756.2 1046.3,756.8C1046.3,757.3 1046.0,757.9 1045.7,758.5Z" fill="#f4d675" stroke="#c9a84c" stroke-width="1.3" stroke-linejoin="round" opacity="1"/>
<path d="M1015.6,768.8C1015.5,769.4 1015.4,770.1 1015.2,770.7C1015.0,771.3 1014.6,771.8 1014.3,772.4C1014.0,773.0 1013.7,773.5 1013.3,774.1C1012.9,774.6 1012.5,775.1 1012.0,775.5C1011.5,776.0 1011.0,776.4 1010.5,776.9C1010.0,777.3 1009.4,777.7 1008.9,778.0C1008.3,778.4 1007.8,778.8 1007.2,779.1C1006.6,779.4 1005.9,779.7 1005.3,780.0C1004.7,780.3 1004.1,780.6 1003.4,780.9C1002.8,781.2 1002.1,781.5 1001.5,781.7C1000.8,782.0 1000.0,782.2 999.3,782.4C998.6,782.6 997.8,782.8 997.0,782.9C996.2,783.0 995.4,783.0 994.6,783.0C993.8,783.1 992.9,783.2 992.1,783.1C991.2,783.1 990.4,782.9 989.6,782.6C988.9,782.4 988.2,781.9 987.5,781.6C986.8,781.3 986.0,781.0 985.3,780.6C984.7,780.2 984.2,779.6 983.7,779.1C983.2,778.6 982.8,778.1 982.3,777.5C981.9,777.0 981.5,776.5 981.2,775.9C980.9,775.3 980.7,774.7 980.4,774.1C980.2,773.5 980.0,773.0 979.8,772.4C979.6,771.8 979.4,771.2 979.3,770.6C979.2,770.0 979.3,769.4 979.3,768.8C979.3,768.2 979.3,767.6 979.3,767.0C979.3,766.4 979.3,765.7 979.4,765.1C979.5,764.5 979.7,763.9 980.0,763.3C980.3,762.7 980.7,762.2 981.1,761.7C981.5,761.1 982.0,760.6 982.5,760.2C983.0,759.7 983.5,759.2 984.1,758.8C984.7,758.4 985.4,758.0 986.0,757.7C986.7,757.4 987.5,757.2 988.2,757.0C989.0,756.8 989.7,756.7 990.5,756.5C991.2,756.4 991.9,756.2 992.6,756.1C993.3,756.0 994.1,756.0 994.8,755.9C995.6,755.9 996.3,755.8 997.0,755.8C997.7,755.8 998.4,755.9 999.2,755.9C999.9,755.9 1000.7,755.8 1001.5,755.9C1002.2,755.9 1003.0,755.9 1003.8,756.1C1004.5,756.2 1005.3,756.4 1006.0,756.6C1006.8,756.8 1007.6,757.0 1008.4,757.3C1009.1,757.6 1009.9,757.9 1010.5,758.3C1011.2,758.7 1011.6,759.2 1012.2,759.7C1012.7,760.2 1013.3,760.7 1013.7,761.3C1014.2,761.8 1014.7,762.4 1015.0,763.0C1015.3,763.6 1015.4,764.3 1015.6,764.9C1015.7,765.6 1015.9,766.2 1015.9,766.9C1015.9,767.5 1015.7,768.2 1015.6,768.8Z" fill="#dcb260" stroke="none" stroke-width="0.0" opacity="1"/>
<circle cx="976.9" cy="759.0" r="0.8" fill="#dcbc60"/>
<circle cx="1005.7" cy="726.5" r="0.8" fill="#dcbc60"/>
<circle cx="988.0" cy="780.5" r="0.8" fill="#dcbc60"/>
<circle cx="980.3" cy="737.5" r="0.8" fill="#dcbc60"/>
<circle cx="1031.0" cy="748.5" r="0.8" fill="#dcbc60"/>
<circle cx="1022.3" cy="737.3" r="0.8" fill="#dcbc60"/>
<circle cx="1000.3" cy="778.0" r="0.8" fill="#dcbc60"/>
<circle cx="1027.5" cy="759.1" r="0.8" fill="#dcbc60"/>
<circle cx="1012.9" cy="774.8" r="0.8" fill="#dcbc60"/>
<circle cx="1007.3" cy="765.2" r="0.8" fill="#dcbc60"/>
<circle cx="1004.4" cy="737.0" r="0.8" fill="#dcbc60"/>
<circle cx="982.8" cy="730.6" r="0.8" fill="#dcbc60"/>
<text x="964.3" y="758.1" font-size="15.0" fill="#1e1e1e" color="#1e1e1e" stroke-width="0.12" text-anchor="start" textLength="62.3" lengthAdjust="spacingAndGlyphs">H3K27ac</text>
<path d="M1032.45,747.22 L1035.30,751.22 L1033.93,751.22 L1033.93,758.32 L1030.97,758.32 L1030.97,751.22 L1029.60,751.22 Z" fill="#111"/>
<text x="974.7" y="774.5" font-size="15.0" fill="#1e1e1e" color="#1e1e1e" stroke-width="0.12" text-anchor="start" textLength="42.5" lengthAdjust="spacingAndGlyphs">IL-12a</text>
<path d="M1024.05,763.62 L1026.90,767.62 L1025.53,767.62 L1025.53,774.72 L1022.57,774.72 L1022.57,767.62 L1021.20,767.62 Z" fill="#111"/>
<text x="772.0" y="820.4" font-size="15.5" fill="#111" color="#111" stroke-width="0.00" font-weight="bold" text-anchor="start" textLength="97.5" lengthAdjust="spacingAndGlyphs">Lactobacillus</text>
<text x="992.3" y="819.1" font-size="13.5" fill="#111" color="#111" stroke-width="0.00" font-weight="bold" text-anchor="start" textLength="18.7" lengthAdjust="spacingAndGlyphs">DC</text>
<path d="M790,902.8 C796,898 800,900 805,894 C810,888 814,890 821.7,882.4" stroke="#d4e0e0" stroke-width="2.2" fill="none" />
<path d="M823.5,838 q2,-3 4,0 q2,3 4,0 q2,-3 4,0 q2,3 4,2.7" stroke="#d4e0e0" stroke-width="1.4" fill="none" />
<rect x="793.4" y="843.3" width="14.0" height="6.0" rx="3.0" fill="#3f7585" stroke="#2f5a68" stroke-width="0.8" opacity="1" transform="rotate(-62.0 800.4 846.3)"/>
<path d="M803.6,840.3 C805,836 808,834 810,829.2" stroke="#6a7a80" stroke-width="0.9" fill="none" />
<rect x="836.9" y="843.7" width="14.0" height="7.0" rx="3.5" fill="#a8d8c8" stroke="#8cc4b2" stroke-width="0.8" opacity="1" transform="rotate(45.0 843.9 847.2)"/>
<line x1="818.4" y1="861.4" x2="812.4" y2="856.4" stroke="#7a8a8a" stroke-width="0.8" />
<line x1="822.4" y1="861.4" x2="820.4" y2="854.4" stroke="#7a8a8a" stroke-width="0.8" />
<line x1="826.4" y1="861.4" x2="828.4" y2="854.4" stroke="#7a8a8a" stroke-width="0.8" />
<line x1="830.4" y1="861.4" x2="834.4" y2="855.4" stroke="#7a8a8a" stroke-width="0.8" />
<line x1="833.4" y1="863.4" x2="840.4" y2="861.4" stroke="#7a8a8a" stroke-width="0.8" />
<line x1="815.4" y1="865.4" x2="808.4" y2="863.4" stroke="#7a8a8a" stroke-width="0.8" />
<line x1="819.4" y1="867.4" x2="815.4" y2="873.4" stroke="#7a8a8a" stroke-width="0.8" />
<line x1="823.4" y1="867.4" x2="823.4" y2="874.4" stroke="#7a8a8a" stroke-width="0.8" />
<line x1="828.4" y1="867.4" x2="831.4" y2="873.4" stroke="#7a8a8a" stroke-width="0.8" />
<line x1="832.4" y1="866.4" x2="837.4" y2="870.4" stroke="#7a8a8a" stroke-width="0.8" />
<rect x="816.4" y="861.4" width="16.0" height="6.0" rx="3.0" fill="#4aa8a0" stroke="#3a8a84" stroke-width="0.8" opacity="1" transform="rotate(0.0 824.4 864.4)"/>
<rect x="855.3" y="861.5" width="12.4" height="6.5" rx="3.2" fill="#3f7585" stroke="#2f5a68" stroke-width="0.8" opacity="1" transform="rotate(115.0 861.5 864.8)"/>
<path d="M858.5,871 C857,876 855,879 853,882.4" stroke="#6a7a80" stroke-width="0.9" fill="none" />
<rect x="783.2" y="878.5" width="14.0" height="7.0" rx="3.5" fill="#a8d8c8" stroke="#8cc4b2" stroke-width="0.8" opacity="1" transform="rotate(80.0 790.2 882.0)"/>
<path d="M827.2,890.7 q4,-3 8,1 q4,4 8,0 q4,-4 8,1 q4,4 8,0 q4,-3 8,2" stroke="#5a9aa0" stroke-width="2.4" fill="none" />
<rect x="804.2" y="905.5" width="13.5" height="6.5" rx="3.2" fill="#3f7585" stroke="#2f5a68" stroke-width="0.8" opacity="1" transform="rotate(-27.0 811.0 908.8)"/>
<path d="M817,905.5 C821,903 824,902 827.2,899" stroke="#6a7a80" stroke-width="0.9" fill="none" />
<rect x="833.2" y="909.5" width="14.0" height="7.0" rx="3.5" fill="#a8d8c8" stroke="#8cc4b2" stroke-width="0.8" opacity="1" transform="rotate(10.0 840.2 913.0)"/>
<path d="M847,914 q3,-3 6,0 q3,3 6,0" stroke="#d4e0e0" stroke-width="1.2" fill="none" />
<text x="892.0" y="866.0" font-size="16.0" fill="#222" color="#222" stroke-width="0.12" text-anchor="start" textLength="24.4" lengthAdjust="spacingAndGlyphs">IPA</text>
<line x1="883.0" y1="884.6" x2="938.0" y2="884.6" stroke="#222" stroke-width="2.2" />
<path d="M946.0,884.6 L936.0,879.6 L936.0,889.6 Z" fill="#222"/>
<circle cx="872.0" cy="874.0" r="2.1" fill="#4a8fa4" stroke="none" stroke-width="1.2" opacity="1"/>
<circle cx="902.0" cy="872.0" r="2.1" fill="#4a8fa4" stroke="none" stroke-width="1.2" opacity="1"/>
<circle cx="915.0" cy="876.0" r="2.1" fill="#4a8fa4" stroke="none" stroke-width="1.2" opacity="1"/>
<circle cx="897.0" cy="891.0" r="2.1" fill="#4a8fa4" stroke="none" stroke-width="1.2" opacity="1"/>
<circle cx="910.0" cy="898.0" r="2.1" fill="#4a8fa4" stroke="none" stroke-width="1.2" opacity="1"/>
<circle cx="924.0" cy="901.0" r="2.1" fill="#4a8fa4" stroke="none" stroke-width="1.2" opacity="1"/>
<circle cx="881.0" cy="884.6" r="2.1" fill="#4a8fa4" stroke="none" stroke-width="1.2" opacity="1"/>
<circle cx="888.0" cy="869.0" r="2.1" fill="#a8d0dc" stroke="none" stroke-width="1.2" opacity="1"/>
<circle cx="886.0" cy="896.0" r="2.1" fill="#a8d0dc" stroke="none" stroke-width="1.2" opacity="1"/>
<circle cx="935.0" cy="892.0" r="2.1" fill="#a8d0dc" stroke="none" stroke-width="1.2" opacity="1"/>
<ellipse cx="1005.9" cy="873.4" rx="45.6" ry="44.1" fill="#a9d8a6" stroke="#6a9e6c" stroke-width="1.2" opacity="1" transform="rotate(0.0 1005.9 873.4)"/>
<ellipse cx="1011.0" cy="872.4" rx="28.0" ry="27.5" fill="#7fbc88" stroke="#6aa672" stroke-width="0.8" opacity="1" transform="rotate(0.0 1011.0 872.4)"/>
<text x="966.4" y="872.9" font-size="16.5" fill="#1a2e1e" color="#1a2e1e" stroke-width="0.12" text-anchor="start" textLength="68.0" lengthAdjust="spacingAndGlyphs">H3K27ac</text>
<path d="M1040.90,862.05 L1044.40,866.01 L1042.72,866.01 L1042.72,873.05 L1039.08,873.05 L1039.08,866.01 L1037.40,866.01 Z" fill="#111"/>
<text x="986.1" y="895.8" font-size="16.5" fill="#1a2e1e" color="#1a2e1e" stroke-width="0.12" text-anchor="start" textLength="31.0" lengthAdjust="spacingAndGlyphs">Tcf7</text>
<path d="M1023.60,884.95 L1027.10,888.91 L1025.42,888.91 L1025.42,895.95 L1021.78,895.95 L1021.78,888.91 L1020.10,888.91 Z" fill="#111"/>
<text x="774.0" y="932.7" font-size="15.5" fill="#111" color="#111" stroke-width="0.00" font-weight="bold" text-anchor="start" textLength="100.0" lengthAdjust="spacingAndGlyphs">Lactobacillus</text>
<text x="963.5" y="932.7" font-size="15.5" fill="#111" color="#111" stroke-width="0.00" font-weight="bold" text-anchor="start" textLength="88.5" lengthAdjust="spacingAndGlyphs">CD8+ T cells</text>
<line x1="801.0" y1="965.6" x2="804.0" y2="965.6" stroke="#d88aa0" stroke-width="0.8" />
<circle cx="804.5" cy="965.6" r="1.0" fill="#d88aa0" stroke="none" stroke-width="1.2" opacity="1"/>
<line x1="799.7" y1="969.7" x2="802.1" y2="971.5" stroke="#d88aa0" stroke-width="0.8" />
<circle cx="802.5" cy="971.8" r="1.0" fill="#d88aa0" stroke="none" stroke-width="1.2" opacity="1"/>
<line x1="796.2" y1="972.3" x2="797.1" y2="975.1" stroke="#d88aa0" stroke-width="0.8" />
<circle cx="797.2" cy="975.6" r="1.0" fill="#d88aa0" stroke="none" stroke-width="1.2" opacity="1"/>
<line x1="791.8" y1="972.3" x2="790.9" y2="975.1" stroke="#d88aa0" stroke-width="0.8" />
<circle cx="790.8" cy="975.6" r="1.0" fill="#d88aa0" stroke="none" stroke-width="1.2" opacity="1"/>
<line x1="788.3" y1="969.7" x2="785.9" y2="971.5" stroke="#d88aa0" stroke-width="0.8" />
<circle cx="785.5" cy="971.8" r="1.0" fill="#d88aa0" stroke="none" stroke-width="1.2" opacity="1"/>
<line x1="787.0" y1="965.6" x2="784.0" y2="965.6" stroke="#d88aa0" stroke-width="0.8" />
<circle cx="783.5" cy="965.6" r="1.0" fill="#d88aa0" stroke="none" stroke-width="1.2" opacity="1"/>
<line x1="788.3" y1="961.5" x2="785.9" y2="959.7" stroke="#d88aa0" stroke-width="0.8" />
<circle cx="785.5" cy="959.4" r="1.0" fill="#d88aa0" stroke="none" stroke-width="1.2" opacity="1"/>
<line x1="791.8" y1="958.9" x2="790.9" y2="956.1" stroke="#d88aa0" stroke-width="0.8" />
<circle cx="790.8" cy="955.6" r="1.0" fill="#d88aa0" stroke="none" stroke-width="1.2" opacity="1"/>
<line x1="796.2" y1="958.9" x2="797.1" y2="956.1" stroke="#d88aa0" stroke-width="0.8" />
<circle cx="797.2" cy="955.6" r="1.0" fill="#d88aa0" stroke="none" stroke-width="1.2" opacity="1"/>
<line x1="799.7" y1="961.5" x2="802.1" y2="959.7" stroke="#d88aa0" stroke-width="0.8" />
<circle cx="802.5" cy="959.4" r="1.0" fill="#d88aa0" stroke="none" stroke-width="1.2" opacity="1"/>
<circle cx="794.0" cy="965.6" r="7.5" fill="#eaa8bc" stroke="#c87890" stroke-width="0.8" opacity="1"/>
<circle cx="794.2" cy="963.8" r="0.7" fill="#c87890"/>
<circle cx="793.6" cy="969.0" r="0.7" fill="#c87890"/>
<circle cx="797.7" cy="966.9" r="0.7" fill="#c87890"/>
<circle cx="796.2" cy="965.8" r="0.7" fill="#c87890"/>
<circle cx="792.9" cy="961.5" r="0.7" fill="#c87890"/>
<circle cx="790.5" cy="968.6" r="0.7" fill="#c87890"/>
<rect x="809.0" y="956.0" width="28.0" height="10.0" rx="5.0" fill="#b8405e" stroke="#8a2a44" stroke-width="0.8" opacity="1" transform="rotate(35.0 823.0 961.0)"/>
<path d="M834,971 q4,6 8,2 q4,-5 8,0 q4,5 8,0 q4,-5 8,-2" stroke="#8a3a4a" stroke-width="0.9" fill="none" />
<path d="M781,986 q7,-5 14,0 q7,5 14,0 M781,989 q7,5 14,0 q7,-5 14,0 M833,991 q7,-5 14,0 q7,5 14,0 M833,994 q7,5 14,0 q7,-5 14,0" stroke="#c87080" stroke-width="0.8" fill="none" />
<rect x="805.0" y="985.0" width="28.0" height="9.0" rx="4.5" fill="#d05a50" stroke="#a83a34" stroke-width="0.8" opacity="1" transform="rotate(12.0 819.0 989.5)"/>
<path d="M809.1,1008.6C809.2,1009.0 809.3,1009.4 809.4,1009.8C809.4,1010.2 809.5,1010.7 809.5,1011.1C809.4,1011.5 809.3,1011.9 809.2,1012.3C809.1,1012.8 809.1,1013.3 809.0,1013.7C808.8,1014.1 808.5,1014.4 808.2,1014.8C807.9,1015.1 807.5,1015.4 807.1,1015.6C806.7,1015.9 806.4,1016.2 806.0,1016.3C805.5,1016.5 805.0,1016.5 804.6,1016.6C804.1,1016.7 803.7,1016.7 803.3,1016.8C802.8,1016.8 802.4,1016.7 802.0,1016.7C801.6,1016.7 801.2,1016.8 800.8,1016.8C800.5,1016.8 800.1,1016.8 799.7,1016.9C799.3,1017.0 798.9,1017.2 798.5,1017.3C798.1,1017.4 797.6,1017.5 797.2,1017.6C796.7,1017.6 796.2,1017.7 795.7,1017.7C795.2,1017.7 794.7,1017.7 794.2,1017.6C793.7,1017.5 793.2,1017.4 792.8,1017.2C792.3,1016.9 791.9,1016.7 791.5,1016.3C791.2,1016.0 790.8,1015.6 790.6,1015.2C790.4,1014.8 790.2,1014.3 790.1,1013.9C790.0,1013.4 790.0,1012.9 790.0,1012.4C790.0,1012.0 790.0,1011.5 790.0,1011.1C790.1,1010.6 790.2,1010.2 790.3,1009.8C790.3,1009.4 790.4,1009.0 790.5,1008.6C790.5,1008.2 790.6,1007.8 790.6,1007.5C790.7,1007.1 790.8,1006.7 790.9,1006.4C791.0,1006.0 791.1,1005.6 791.2,1005.2C791.3,1004.9 791.4,1004.5 791.5,1004.1C791.6,1003.7 791.8,1003.3 792.0,1003.0C792.2,1002.6 792.4,1002.2 792.7,1001.9C792.9,1001.6 793.3,1001.3 793.6,1001.1C794.0,1000.8 794.4,1000.6 794.7,1000.4C795.1,1000.2 795.5,1000.0 795.9,999.8C796.3,999.7 796.7,999.7 797.2,999.6C797.6,999.6 798.0,999.4 798.4,999.3C798.8,999.3 799.3,999.3 799.7,999.2C800.1,999.2 800.6,999.1 801.0,999.1C801.5,999.1 801.9,999.0 802.4,999.1C802.8,999.1 803.3,999.2 803.8,999.3C804.2,999.4 804.6,999.6 805.0,999.8C805.4,1000.0 805.8,1000.3 806.2,1000.6C806.6,1000.8 806.9,1001.1 807.2,1001.5C807.5,1001.8 807.7,1002.2 807.9,1002.6C808.1,1003.0 808.1,1003.5 808.2,1003.9C808.4,1004.3 808.6,1004.7 808.6,1005.1C808.7,1005.5 808.7,1005.9 808.8,1006.3C808.8,1006.7 808.9,1007.1 808.9,1007.4C809.0,1007.8 809.0,1008.2 809.1,1008.6Z" fill="#cc4a50" stroke="#a83238" stroke-width="0.8" opacity="1"/>
<circle cx="830.0" cy="1011.0" r="6.2" fill="#c03a58" stroke="#8a2a44" stroke-width="0.8" opacity="1"/>
<circle cx="838.6" cy="1008.6" r="6.0" fill="#c03a58" stroke="#8a2a44" stroke-width="0.8" opacity="1"/>
<text x="881.0" y="971.5" font-size="16.0" fill="#222" color="#222" stroke-width="0.12" text-anchor="start" textLength="59.5" lengthAdjust="spacingAndGlyphs">butyrate</text>
<line x1="877.5" y1="987.8" x2="933.0" y2="987.8" stroke="#222" stroke-width="2.2" />
<path d="M942.8,987.8 L932.3,982.5 L932.3,993.0 Z" fill="#222"/>
<circle cx="884.4" cy="976.7" r="2.2" fill="#3e8272" stroke="none" stroke-width="1.2" opacity="1"/>
<circle cx="898.3" cy="976.0" r="2.2" fill="#3e8272" stroke="none" stroke-width="1.2" opacity="1"/>
<circle cx="915.0" cy="983.6" r="2.2" fill="#3e8272" stroke="none" stroke-width="1.2" opacity="1"/>
<circle cx="935.0" cy="979.4" r="2.2" fill="#3e8272" stroke="none" stroke-width="1.2" opacity="1"/>
<circle cx="949.7" cy="974.4" r="2.2" fill="#3e8272" stroke="none" stroke-width="1.2" opacity="1"/>
<circle cx="956.0" cy="986.4" r="2.2" fill="#3e8272" stroke="none" stroke-width="1.2" opacity="1"/>
<circle cx="883.0" cy="994.7" r="2.2" fill="#3e8272" stroke="none" stroke-width="1.2" opacity="1"/>
<circle cx="898.9" cy="998.3" r="2.2" fill="#3e8272" stroke="none" stroke-width="1.2" opacity="1"/>
<circle cx="927.0" cy="996.7" r="2.2" fill="#3e8272" stroke="none" stroke-width="1.2" opacity="1"/>
<circle cx="943.3" cy="996.7" r="2.2" fill="#3e8272" stroke="none" stroke-width="1.2" opacity="1"/>
<circle cx="888.6" cy="1009.4" r="2.2" fill="#3e8272" stroke="none" stroke-width="1.2" opacity="1"/>
<circle cx="912.2" cy="1010.0" r="2.2" fill="#3e8272" stroke="none" stroke-width="1.2" opacity="1"/>
<circle cx="927.5" cy="1007.2" r="2.2" fill="#3e8272" stroke="none" stroke-width="1.2" opacity="1"/>
<circle cx="909.4" cy="997.5" r="2.2" fill="#6aa096" stroke="none" stroke-width="1.2" opacity="1"/>
<circle cx="871.4" cy="1006.7" r="2.2" fill="#a8ccc4" stroke="none" stroke-width="1.2" opacity="1"/>
<circle cx="924.0" cy="977.2" r="2.2" fill="#a8ccc4" stroke="none" stroke-width="1.2" opacity="1"/>
<path d="M1039.4,986.5C1039.1,986.9 1039.0,987.4 1039.0,987.8C1038.9,988.3 1038.9,988.7 1038.9,989.2C1038.9,989.6 1039.0,990.1 1039.0,990.5C1039.0,991.0 1039.0,991.5 1039.1,991.9C1039.1,992.4 1039.1,992.9 1039.1,993.3C1039.1,993.8 1039.0,994.2 1039.0,994.7C1039.1,995.2 1039.0,995.7 1039.2,996.2C1039.3,996.7 1039.6,997.3 1040.0,997.9C1040.4,998.6 1041.2,999.4 1041.5,1000.0C1041.7,1000.7 1041.8,1001.3 1041.4,1001.7C1041.1,1002.1 1040.0,1002.2 1039.4,1002.5C1038.8,1002.7 1038.1,1002.9 1037.7,1003.3C1037.2,1003.6 1037.0,1004.0 1036.8,1004.5C1036.6,1004.9 1036.4,1005.3 1036.3,1005.9C1036.3,1006.4 1036.2,1007.0 1036.3,1007.6C1036.4,1008.3 1036.7,1009.1 1036.9,1009.8C1037.0,1010.6 1037.2,1011.4 1037.1,1012.0C1036.9,1012.5 1036.4,1012.9 1035.8,1013.1C1035.3,1013.3 1034.3,1013.1 1033.6,1013.2C1032.9,1013.2 1032.1,1013.2 1031.5,1013.3C1030.9,1013.4 1030.5,1013.7 1030.0,1013.9C1029.6,1014.2 1029.2,1014.5 1028.9,1014.8C1028.5,1015.1 1028.1,1015.4 1027.7,1015.7C1027.4,1016.1 1027.0,1016.4 1026.6,1016.7C1026.2,1017.0 1025.8,1017.3 1025.5,1017.6C1025.1,1018.0 1024.8,1018.4 1024.5,1018.9C1024.3,1019.5 1024.2,1020.3 1024.0,1021.0C1023.8,1021.7 1023.7,1022.7 1023.3,1023.2C1023.0,1023.6 1022.4,1023.8 1021.8,1023.8C1021.3,1023.8 1020.5,1023.3 1019.9,1023.4C1019.3,1023.4 1018.9,1023.8 1018.5,1024.0C1018.0,1024.3 1017.6,1024.9 1017.1,1024.9C1016.6,1025.0 1015.9,1024.6 1015.3,1024.4C1014.7,1024.3 1014.2,1024.1 1013.6,1024.1C1013.1,1024.1 1012.6,1024.2 1012.1,1024.3C1011.6,1024.4 1011.1,1024.6 1010.6,1024.7C1010.1,1024.8 1009.6,1024.9 1009.1,1024.9C1008.6,1025.0 1008.1,1025.1 1007.6,1025.1C1007.1,1025.2 1006.6,1025.2 1006.1,1025.3C1005.6,1025.3 1005.1,1025.3 1004.6,1025.3C1004.1,1025.3 1003.5,1025.2 1003.0,1025.2C1002.5,1025.2 1002.0,1025.1 1001.5,1025.0C1001.0,1025.0 1000.5,1024.9 1000.0,1024.8C999.5,1024.7 999.0,1024.6 998.5,1024.5C998.0,1024.3 997.5,1024.2 997.1,1024.1C996.6,1023.9 996.1,1023.7 995.6,1023.7C995.1,1023.7 994.5,1023.9 993.9,1024.2C993.3,1024.5 992.4,1025.4 991.9,1025.3C991.4,1025.2 991.1,1024.3 990.7,1023.8C990.4,1023.3 990.2,1022.4 989.7,1022.1C989.3,1021.9 988.5,1022.3 988.0,1022.2C987.5,1022.2 986.9,1022.1 986.5,1021.7C986.2,1021.3 986.1,1020.4 985.8,1019.8C985.6,1019.2 985.4,1018.5 985.1,1018.0C984.9,1017.6 984.5,1017.3 984.1,1016.9C983.8,1016.6 983.4,1016.3 983.0,1016.0C982.6,1015.7 982.3,1015.4 981.9,1015.1C981.5,1014.8 981.2,1014.5 980.8,1014.2C980.4,1013.9 980.1,1013.6 979.7,1013.3C979.3,1012.9 979.0,1012.6 978.6,1012.3C978.3,1012.0 977.9,1011.6 977.6,1011.3C977.2,1011.0 977.0,1010.6 976.5,1010.3C976.1,1010.1 975.8,1009.7 975.0,1009.7C974.2,1009.7 972.7,1010.1 972.0,1010.1C971.2,1010.0 970.4,1009.8 970.4,1009.2C970.3,1008.6 971.4,1007.3 971.7,1006.6C971.9,1005.8 971.9,1005.3 971.8,1004.7C971.7,1004.2 971.4,1003.9 971.1,1003.4C970.9,1003.0 970.7,1002.6 970.4,1002.2C970.2,1001.7 970.0,1001.3 969.8,1000.8C969.6,1000.4 969.4,999.9 969.2,999.5C969.0,999.0 968.9,998.5 968.7,998.1C968.4,997.7 968.3,997.2 967.8,996.8C967.4,996.4 966.9,996.0 966.1,995.7C965.4,995.3 964.2,995.0 963.5,994.6C962.9,994.2 962.1,993.7 962.0,993.2C961.9,992.7 962.6,992.0 963.2,991.4C963.8,990.7 965.0,990.1 965.7,989.5C966.4,989.0 967.0,988.4 967.4,987.9C967.8,987.4 967.9,987.0 968.1,986.5C968.3,986.0 968.4,985.5 968.5,985.1C968.6,984.6 968.7,984.1 968.8,983.7C969.0,983.2 969.1,982.8 969.2,982.3C969.4,981.9 969.5,981.4 969.7,981.0C969.8,980.5 970.0,980.1 970.2,979.7C970.3,979.2 970.5,978.8 970.6,978.4C970.6,977.9 970.7,977.5 970.5,976.9C970.3,976.4 969.6,975.7 969.3,975.1C968.9,974.4 968.2,973.7 968.4,973.2C968.6,972.8 969.6,972.6 970.3,972.3C971.0,972.1 972.1,972.1 972.7,971.9C973.3,971.6 973.6,971.3 973.9,970.9C974.2,970.6 974.3,970.1 974.5,969.7C974.7,969.3 974.9,968.9 975.1,968.5C975.3,968.1 975.5,967.7 975.8,967.3C976.0,966.9 976.2,966.5 976.4,966.1C976.6,965.7 976.8,965.3 977.0,964.9C977.2,964.5 977.4,964.0 977.6,963.5C977.7,963.0 977.6,962.4 977.7,961.8C977.7,961.1 977.6,960.3 977.8,959.8C978.0,959.3 978.3,959.0 978.8,958.7C979.2,958.5 980.0,958.5 980.5,958.4C981.0,958.2 981.4,958.1 981.9,957.8C982.3,957.6 982.6,957.2 982.9,956.9C983.3,956.5 983.6,956.2 983.9,955.8C984.3,955.4 984.6,955.0 984.8,954.4C985.1,953.8 985.2,953.2 985.4,952.4C985.5,951.6 985.6,950.6 985.8,949.8C986.0,949.0 986.2,948.1 986.6,947.7C987.0,947.3 987.6,947.3 988.2,947.3C988.9,947.3 989.7,948.0 990.2,947.8C990.8,947.6 991.0,946.6 991.4,946.1C991.8,945.6 992.1,944.4 992.7,944.7C993.4,945.0 994.5,947.0 995.2,947.7C995.9,948.4 996.5,948.7 997.1,948.9C997.6,949.1 998.1,948.8 998.6,948.7C999.0,948.6 999.5,948.5 1000.0,948.4C1000.5,948.3 1001.0,948.2 1001.5,948.2C1002.0,948.1 1002.5,948.0 1003.0,948.0C1003.6,947.9 1004.1,947.9 1004.6,947.9C1005.1,947.8 1005.6,947.8 1006.1,947.8C1006.6,947.8 1007.1,947.8 1007.6,947.8C1008.1,947.8 1008.7,947.8 1009.2,947.8C1009.7,947.8 1010.2,947.8 1010.7,947.8C1011.2,947.8 1011.8,947.9 1012.3,947.7C1012.9,947.6 1013.5,947.3 1014.1,947.0C1014.7,946.6 1015.5,946.0 1016.1,945.7C1016.8,945.4 1017.5,945.2 1018.0,945.3C1018.6,945.4 1019.0,946.0 1019.4,946.3C1019.9,946.7 1020.4,947.0 1020.9,947.1C1021.5,947.3 1022.2,947.1 1022.7,947.3C1023.2,947.5 1023.7,947.9 1024.0,948.4C1024.4,949.0 1024.5,949.9 1024.8,950.5C1025.0,951.2 1025.3,951.8 1025.6,952.3C1025.9,952.8 1026.3,953.2 1026.7,953.6C1027.0,954.0 1027.4,954.3 1027.8,954.6C1028.2,955.0 1028.6,955.4 1028.9,955.7C1029.3,956.1 1029.6,956.5 1029.9,956.9C1030.3,957.3 1030.6,957.7 1030.9,958.1C1031.2,958.6 1031.5,959.0 1031.8,959.4C1032.0,959.9 1032.3,960.3 1032.5,960.7C1032.8,961.2 1032.9,961.7 1033.4,962.0C1033.8,962.3 1034.3,962.5 1035.1,962.5C1035.8,962.6 1037.4,962.1 1037.9,962.4C1038.3,962.7 1038.1,963.5 1037.8,964.4C1037.5,965.2 1036.4,966.5 1036.0,967.3C1035.7,968.1 1035.7,968.6 1035.7,969.1C1035.7,969.7 1035.9,970.1 1036.0,970.5C1036.2,971.0 1036.4,971.4 1036.6,971.8C1036.8,972.2 1037.2,972.5 1037.5,972.9C1037.7,973.3 1038.1,973.7 1038.2,974.1C1038.4,974.6 1038.4,975.1 1038.4,975.5C1038.4,976.0 1038.1,976.6 1038.2,977.1C1038.2,977.5 1038.2,978.0 1038.5,978.4C1038.8,978.8 1039.3,979.1 1039.9,979.5C1040.5,979.9 1041.4,980.2 1041.9,980.6C1042.4,981.0 1042.9,981.5 1043.0,982.0C1043.1,982.4 1042.7,983.0 1042.3,983.5C1041.9,984.0 1041.2,984.6 1040.7,985.1C1040.2,985.6 1039.7,986.0 1039.4,986.5Z" fill="#e2a0f2" stroke="#c07ad8" stroke-width="1.3" stroke-linejoin="round" opacity="1"/>
<path d="M1025.0,992.0C1025.1,992.6 1025.2,993.1 1025.2,993.7C1025.1,994.3 1024.8,994.8 1024.6,995.3C1024.3,995.9 1023.9,996.4 1023.6,996.9C1023.2,997.4 1023.0,997.9 1022.5,998.3C1022.1,998.8 1021.5,999.1 1021.0,999.5C1020.6,999.9 1020.1,1000.4 1019.6,1000.8C1019.2,1001.2 1018.7,1001.6 1018.1,1002.0C1017.6,1002.3 1016.9,1002.5 1016.3,1002.8C1015.7,1003.1 1015.1,1003.4 1014.4,1003.7C1013.8,1004.0 1013.2,1004.3 1012.5,1004.6C1011.8,1004.8 1011.0,1004.9 1010.3,1005.0C1009.5,1005.1 1008.8,1005.2 1008.0,1005.2C1007.2,1005.1 1006.5,1005.0 1005.7,1004.9C1005.0,1004.8 1004.2,1004.8 1003.5,1004.6C1002.8,1004.4 1002.1,1004.2 1001.5,1003.8C1000.9,1003.5 1000.4,1003.0 999.9,1002.6C999.4,1002.2 998.8,1001.8 998.4,1001.4C997.9,1001.0 997.5,1000.6 997.1,1000.2C996.7,999.8 996.3,999.4 996.0,998.9C995.6,998.5 995.2,998.1 994.9,997.7C994.6,997.3 994.3,996.8 994.0,996.4C993.7,995.9 993.5,995.5 993.2,995.0C992.9,994.5 992.4,994.1 992.1,993.6C991.9,993.1 991.9,992.5 991.8,992.0C991.7,991.5 991.3,990.9 991.3,990.3C991.2,989.8 991.4,989.2 991.5,988.7C991.6,988.1 991.5,987.5 991.7,986.9C991.9,986.4 992.3,985.9 992.7,985.3C993.0,984.8 993.4,984.3 993.8,983.8C994.3,983.3 994.8,982.9 995.4,982.5C996.0,982.1 996.7,981.8 997.3,981.5C997.9,981.2 998.6,980.8 999.2,980.6C999.9,980.3 1000.7,980.2 1001.4,980.1C1002.2,979.9 1002.8,979.6 1003.6,979.5C1004.3,979.4 1005.1,979.6 1005.8,979.6C1006.6,979.6 1007.3,979.4 1008.0,979.5C1008.7,979.5 1009.4,979.8 1010.1,980.0C1010.8,980.1 1011.5,980.1 1012.2,980.3C1012.8,980.5 1013.4,980.9 1014.0,981.2C1014.6,981.4 1015.2,981.6 1015.8,981.9C1016.4,982.1 1016.9,982.4 1017.5,982.7C1018.0,983.0 1018.7,983.2 1019.2,983.6C1019.7,983.9 1020.2,984.3 1020.7,984.7C1021.1,985.1 1021.5,985.5 1022.0,985.9C1022.4,986.3 1022.9,986.8 1023.3,987.2C1023.7,987.7 1024.1,988.2 1024.3,988.7C1024.5,989.2 1024.6,989.8 1024.7,990.3C1024.8,990.9 1024.9,991.4 1025.0,992.0Z" fill="#ce84e6" stroke="none" stroke-width="0.0" opacity="1"/>
<circle cx="1013.3" cy="984.5" r="0.8" fill="#cc88e4"/>
<circle cx="1000.2" cy="1014.0" r="0.8" fill="#cc88e4"/>
<circle cx="1021.1" cy="970.2" r="0.8" fill="#cc88e4"/>
<circle cx="978.3" cy="968.4" r="0.8" fill="#cc88e4"/>
<circle cx="1031.3" cy="980.4" r="0.8" fill="#cc88e4"/>
<circle cx="1010.7" cy="963.7" r="0.8" fill="#cc88e4"/>
<circle cx="991.6" cy="1008.6" r="0.8" fill="#cc88e4"/>
<circle cx="1024.4" cy="968.6" r="0.8" fill="#cc88e4"/>
<circle cx="1016.5" cy="960.7" r="0.8" fill="#cc88e4"/>
<circle cx="979.3" cy="997.3" r="0.8" fill="#cc88e4"/>
<circle cx="978.5" cy="974.4" r="0.8" fill="#cc88e4"/>
<circle cx="1001.9" cy="1001.1" r="0.8" fill="#cc88e4"/>
<text x="970.6" y="981.8" font-size="16.5" fill="#1e1e2e" color="#1e1e2e" stroke-width="0.12" text-anchor="start" textLength="53.0" lengthAdjust="spacingAndGlyphs">HDAC2</text>
<path d="M1030.10,981.95 L1033.60,977.99 L1031.92,977.99 L1031.92,970.95 L1028.28,970.95 L1028.28,977.99 L1026.60,977.99 Z" fill="#111"/>
<text x="982.0" y="1006.4" font-size="16.5" fill="#1e1e2e" color="#1e1e2e" stroke-width="0.12" text-anchor="start" textLength="30.0" lengthAdjust="spacingAndGlyphs">H19</text>
<path d="M1018.50,995.55 L1022.00,999.51 L1020.32,999.51 L1020.32,1006.55 L1016.68,1006.55 L1016.68,999.51 L1015.00,999.51 Z" fill="#111"/>
<text x="787.0" y="1042.3" font-size="15.0" fill="#111" color="#111" stroke-width="0.00" font-weight="bold" text-anchor="start" textLength="71.0" lengthAdjust="spacingAndGlyphs">Roseburia</text>
<text x="986.1" y="1042.0" font-size="13.5" fill="#111" color="#111" stroke-width="0.00" font-weight="bold" text-anchor="start" textLength="30.1" lengthAdjust="spacingAndGlyphs">TAM</text>
<circle cx="772.0" cy="1076.6" r="2.0" fill="#1e1e1e" stroke="none" stroke-width="1.2" opacity="1"/>
<text x="785.6" y="1082.6" font-size="16.1" fill="#1e1e1e" color="#1e1e1e" stroke-width="0.32" text-anchor="start">Tumoral microbiome and gut microbiome</text>
<circle cx="772.0" cy="1096.1" r="2.0" fill="#1e1e1e" stroke="none" stroke-width="1.2" opacity="1"/>
<text x="785.6" y="1102.1" font-size="16.1" fill="#1e1e1e" color="#1e1e1e" stroke-width="0.32" text-anchor="start">In endocrine or paracrine manner</text>
</svg></body></html>
